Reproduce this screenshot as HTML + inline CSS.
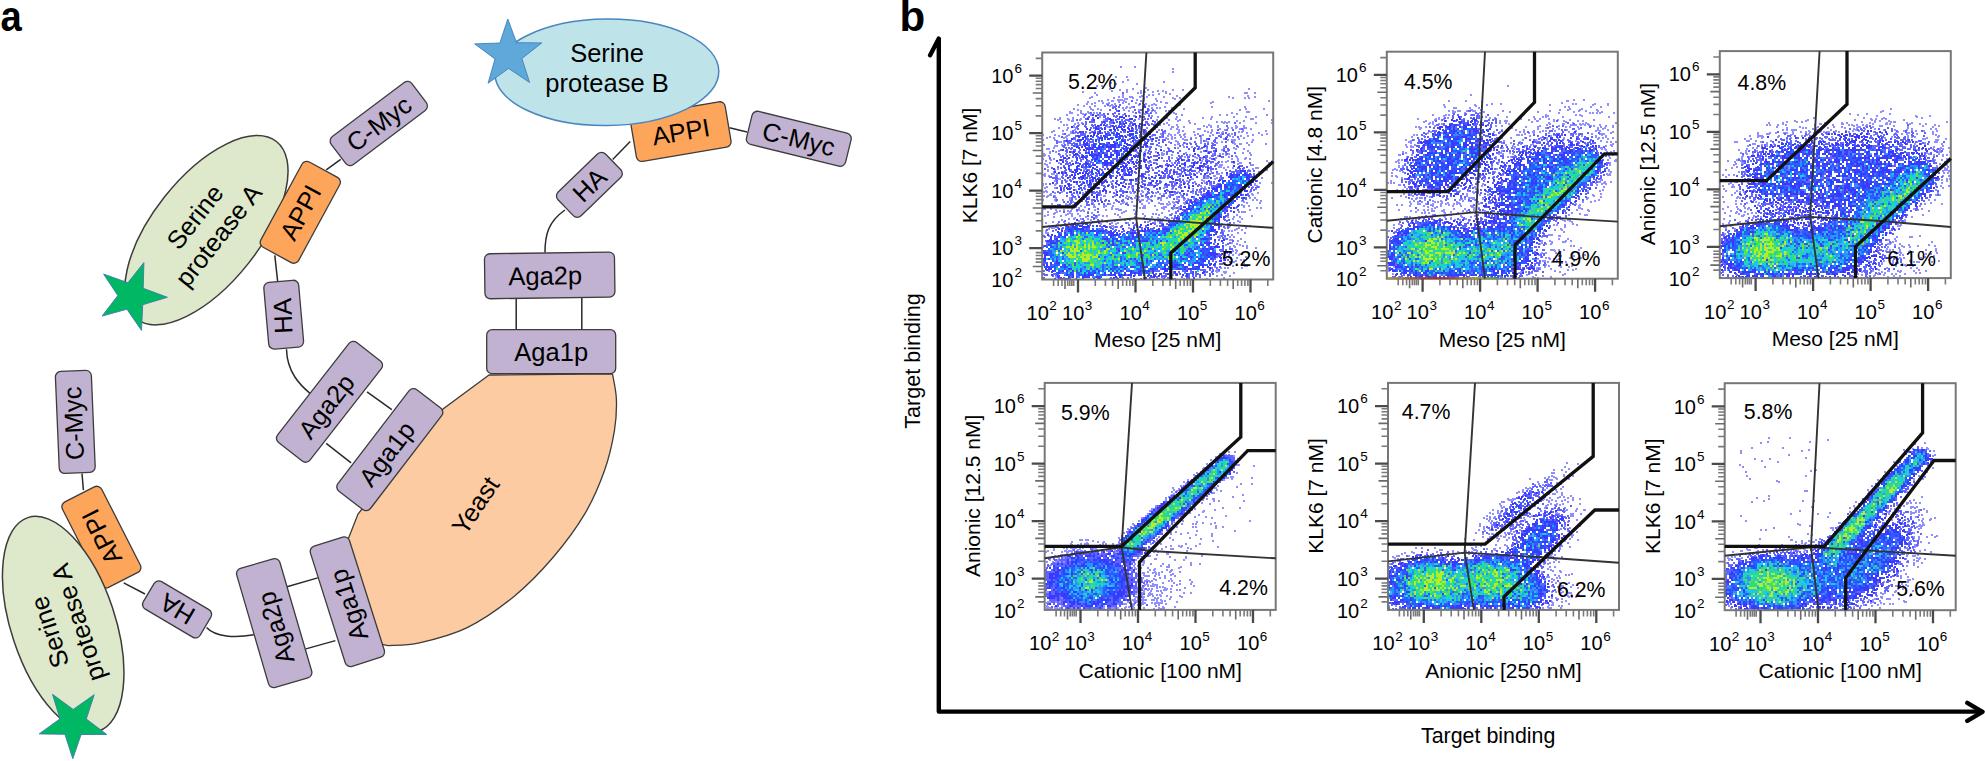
<!DOCTYPE html>
<html><head><meta charset="utf-8"><style>
html,body{margin:0;padding:0;background:#fff;}
svg{display:block;}
text{font-family:'Liberation Sans',Arial,Helvetica,sans-serif;fill:#000;}
</style></head><body>
<svg width="1985" height="761" viewBox="0 0 1985 761" style="font-family:'Liberation Sans',Arial,Helvetica,sans-serif">
<rect width="1985" height="761" fill="#fff"/>
<text x="0.5" y="31" font-size="42" font-weight="bold" transform="scale(0.91 1)">a</text>
<path d="M489 375 L443 409 L358 514 L349 537 L340 560 L362 640 L387.9 645.7 C393.1 645.2 406.3 645.9 419.4 642.9 C432.5 639.9 450.9 635.6 466.7 627.9 C482.5 620.1 499.6 608.2 514 596.4 C528.5 584.6 541.6 570.8 553.4 557 C565.2 543.2 576.4 528.2 584.9 513.7 C593.4 499.3 599.7 484.1 604.6 470.3 C609.5 456.5 612.4 442.7 614.4 430.9 C616.4 419.1 616.7 408.9 616.4 399.4 C616.1 389.9 613.1 378.1 612.5 373.8 Z" fill="#FCCBA1" stroke="#3c3c3c" stroke-width="1.3"/>
<text transform="translate(475.5 505.5) rotate(-56)" y="8.8" font-size="25.5" text-anchor="middle">Yeast</text>
<path d="M326.2 169.9 L340.7 159.4" fill="none" stroke="#2a2a2a" stroke-width="1.5"/>
<path d="M274.8 255.3 L277.7 281.9" fill="none" stroke="#2a2a2a" stroke-width="1.5"/>
<path d="M286.5 349.3 C287 372 300 385 310.3 393.6" fill="none" stroke="#2a2a2a" stroke-width="1.5"/>
<path d="M367 391.8 L391.8 409.6" fill="none" stroke="#2a2a2a" stroke-width="1.5"/>
<path d="M326.2 443.3 L351.1 462.8" fill="none" stroke="#2a2a2a" stroke-width="1.5"/>
<ellipse cx="0" cy="0" rx="113" ry="53.5" transform="translate(206.4 230.2) rotate(-51.7)" fill="#DEE8CA" stroke="#3c3c3c" stroke-width="1.5"/>
<polygon points="143.9,262.6 143.2,288.3 167.4,297.3 142.7,304.7 141.5,330.4 126.9,309.2 102.1,316.1 117.8,295.6 103.6,274.1 127.9,282.7" fill="#00B864" stroke="#3f78b0" stroke-width="0.9"/>
<g transform="translate(206.4 226) rotate(-51.7)"><text text-anchor="middle" font-size="25.5" y="-5.8">Serine</text><text text-anchor="middle" font-size="25.5" y="24.2">protease A</text></g>
<g transform="translate(300.3 212.3)"><rect x="-48.5" y="-21.5" width="97" height="43" rx="5.5" transform="rotate(-61.5)" fill="#FDA65B" stroke="#3c3c3c" stroke-width="1.3"/><text transform="rotate(-61.5)" x="0" y="9.2" font-size="25.5" text-anchor="middle">APPI</text></g>
<g transform="translate(378.8 123.5)"><rect x="-50.5" y="-17.5" width="101" height="35" rx="5.5" transform="rotate(-37)" fill="#C1B2D1" stroke="#3c3c3c" stroke-width="1.3"/><text transform="rotate(-37)" x="0" y="9.2" font-size="25.5" text-anchor="middle">C-Myc</text></g>
<g transform="translate(283.7 314.7)"><rect x="-17.5" y="-33.5" width="35" height="67" rx="5.5" transform="rotate(-5)" fill="#C1B2D1" stroke="#3c3c3c" stroke-width="1.3"/><text transform="rotate(-92.5)" x="-1.2" y="8" font-size="25.5" text-anchor="middle">HA</text></g>
<g transform="translate(329.5 401.8)"><rect x="-63.5" y="-20.5" width="127" height="41" rx="5.5" transform="rotate(-52)" fill="#C1B2D1" stroke="#3c3c3c" stroke-width="1.3"/><text transform="rotate(-52)" x="-5.5" y="9.2" font-size="25.5" text-anchor="middle">Aga2p</text></g>
<g transform="translate(389.8 449.6)"><rect x="-64" y="-20.5" width="128" height="41" rx="5.5" transform="rotate(-52.5)" fill="#C1B2D1" stroke="#3c3c3c" stroke-width="1.3"/><text transform="rotate(-52.5)" x="-5" y="9.2" font-size="25.5" text-anchor="middle">Aga1p</text></g>
<path d="M729.5 127.7 L747 132" fill="none" stroke="#2a2a2a" stroke-width="1.5"/>
<path d="M630.2 141.5 L612.7 159.6" fill="none" stroke="#2a2a2a" stroke-width="1.5"/>
<path d="M564.9 210 C548 222 545 235 545 252.4" fill="none" stroke="#2a2a2a" stroke-width="1.5"/>
<path d="M516.2 297.9 L516.2 329.8" fill="none" stroke="#2a2a2a" stroke-width="1.5"/>
<path d="M581.8 297.9 L581.8 329.8" fill="none" stroke="#2a2a2a" stroke-width="1.5"/>
<g transform="translate(680.8 131.6)"><rect x="-48" y="-23" width="96" height="46" rx="5.5" transform="rotate(-9.6)" fill="#FDA65B" stroke="#3c3c3c" stroke-width="1.3"/><text transform="rotate(-9.6)" x="0" y="9.2" font-size="25.5" text-anchor="middle">APPI</text></g>
<ellipse cx="0" cy="0" rx="112" ry="53.2" transform="translate(606.8 72.3) rotate(-0.6)" fill="#BEE4EA" stroke="#4a86bd" stroke-width="1.5"/>
<polygon points="507.8,19 516.5,42.7 541.8,42.9 521.9,58.5 529.6,82.5 508.6,68.4 488.1,83.2 495,58.9 474.7,43.9 499.9,43" fill="#5EA8DA" stroke="#3f7fba" stroke-width="0.9"/>
<g transform="translate(607 67.5) rotate(0)"><text text-anchor="middle" font-size="25.5" y="-5.8">Serine</text><text text-anchor="middle" font-size="25.5" y="24.2">protease B</text></g>
<g transform="translate(798.8 138.8)"><rect x="-51" y="-17" width="102" height="34" rx="5.5" transform="rotate(13.8)" fill="#C1B2D1" stroke="#3c3c3c" stroke-width="1.3"/><text transform="rotate(13.8)" x="0" y="9.2" font-size="25.5" text-anchor="middle">C-Myc</text></g>
<g transform="translate(589.4 184.8)"><rect x="-33" y="-16.5" width="66" height="33" rx="5.5" transform="rotate(-44)" fill="#C1B2D1" stroke="#3c3c3c" stroke-width="1.3"/><text transform="rotate(-44)" x="0" y="9.2" font-size="25.5" text-anchor="middle">HA</text></g>
<g transform="translate(549.7 275.4)"><rect x="-65" y="-22.5" width="130" height="45" rx="5.5" transform="rotate(-0.8)" fill="#C1B2D1" stroke="#3c3c3c" stroke-width="1.3"/><text transform="rotate(-0.8)" x="-4.5" y="9.2" font-size="25.5" text-anchor="middle">Aga2p</text></g>
<g transform="translate(551.2 351.7)"><rect x="-64.5" y="-22" width="129" height="44" rx="5.5" transform="rotate(0)" fill="#C1B2D1" stroke="#3c3c3c" stroke-width="1.3"/><text transform="rotate(0)" x="0" y="9.2" font-size="25.5" text-anchor="middle">Aga1p</text></g>
<path d="M82 473.5 L83.4 490.1" fill="none" stroke="#2a2a2a" stroke-width="1.5"/>
<path d="M123.7 582.8 L145 594" fill="none" stroke="#2a2a2a" stroke-width="1.5"/>
<path d="M206.6 627.6 C215 637 235 638 253.8 634.7" fill="none" stroke="#2a2a2a" stroke-width="1.5"/>
<path d="M287 586.7 L317.7 577.9" fill="none" stroke="#2a2a2a" stroke-width="1.5"/>
<path d="M305.9 648.9 L335.4 640.6" fill="none" stroke="#2a2a2a" stroke-width="1.5"/>
<g transform="translate(75.3 421.9)"><rect x="-18" y="-51" width="36" height="102" rx="5.5" transform="rotate(-2.4)" fill="#C1B2D1" stroke="#3c3c3c" stroke-width="1.3"/><text transform="rotate(-92.4)" x="-1.4" y="7.1" font-size="25.5" text-anchor="middle">C-Myc</text></g>
<g transform="translate(101.4 537.1)"><rect x="-22" y="-48" width="44" height="96" rx="5.5" transform="rotate(-27)" fill="#FDA65B" stroke="#3c3c3c" stroke-width="1.3"/><text transform="rotate(-117)" x="0" y="9.2" font-size="25.5" text-anchor="middle">APPI</text></g>
<ellipse cx="0" cy="0" rx="112.5" ry="52" transform="translate(63.2 624.4) rotate(71.7)" fill="#DEE8CA" stroke="#3c3c3c" stroke-width="1.5"/>
<polygon points="72.8,758.7 64.9,734.3 39.2,733.9 60,718.8 52.5,694.3 73.2,709.4 94.2,694.7 86.3,719 106.8,734.5 81.1,734.5" fill="#00B864" stroke="#3f78b0" stroke-width="0.9"/>
<g transform="translate(63.5 627.4) rotate(-108.3)"><text text-anchor="middle" font-size="25.5" y="-5.8">Serine</text><text text-anchor="middle" font-size="25.5" y="24.2">protease A</text></g>
<g transform="translate(177.1 609.4)"><rect x="-33" y="-16" width="66" height="32" rx="5.5" transform="rotate(30.6)" fill="#C1B2D1" stroke="#3c3c3c" stroke-width="1.3"/><text transform="rotate(210.6)" x="0" y="9.2" font-size="25.5" text-anchor="middle">HA</text></g>
<g transform="translate(274.2 623.1)"><rect x="-22.5" y="-62" width="45" height="124" rx="5.5" transform="rotate(-16.3)" fill="#C1B2D1" stroke="#3c3c3c" stroke-width="1.3"/><text transform="rotate(-106.3)" x="-5" y="9.2" font-size="25.5" text-anchor="middle">Aga2p</text></g>
<g transform="translate(347.4 601.7)"><rect x="-20.5" y="-63" width="41" height="126" rx="5.5" transform="rotate(-17.6)" fill="#C1B2D1" stroke="#3c3c3c" stroke-width="1.3"/><text transform="rotate(-107.6)" x="-3.5" y="9.2" font-size="25.5" text-anchor="middle">Aga1p</text></g>
<text x="899.5" y="31" font-size="42" font-weight="bold">b</text>
<path d="M930.1 55.2 L938.8 38.6 V711.6 H1982" fill="none" stroke="#000" stroke-width="4.4" stroke-linecap="round" stroke-linejoin="round"/>
<path d="M1967.3 702.8 L1982.5 711.8 L1967.3 720.8" fill="none" stroke="#000" stroke-width="4.4" stroke-linecap="round" stroke-linejoin="round"/>
<text x="1488.2" y="743.4" text-anchor="middle" font-size="21.4">Target binding</text>
<text transform="translate(920.2 361) rotate(-90)" text-anchor="middle" font-size="21.6">Target binding</text>
<clipPath id="c0"><rect x="1042.2" y="52.5" width="231" height="227"/></clipPath><g clip-path="url(#c0)"><path d="M1120 67h2m12 0h2m36 2h2m-2 3h2m-59 5h2m9 0h2m-1 3h2m-7 2h2m39 0h2m-55 1h2m3 1h2m19 0h2m-42 2h2m3 0h2m42 2h2m-38 1h2m21 0h2m114 0h2m-131 1h2m5 0h2m19 0h2m23 0h2m8 0h2m-73 1h2m27 0h2m15 0h2m3 0h2m-82 1h2m42 0h2m16 0h2m6 0h2m11 0h2m-73 1h2m41 0h2m1 0h2m23 0h2m77 0h2m0 0h2m6 0h2m-98 1h2m9 0h2m-75 1h2m24 0h2m24 0h2m2 0h2m-13 1h2m-1 0h2m32 0h2m69 0h2m-158 1h2m25 0h2m2 0h2m5 0h2m0 0h2m6 0h2m5 0h2m15 0h2m63 0h2m24 0h2m-167 1h2m22 0h2m17 0h2m9 0h2m27 0h2m5 0h2m51 0h2m10 0h2m2 0h2m-126 1h2m0 0h2m27 0h2m17 0h2m-69 1h2m8 0h2m0 0h2m0 0h2m13 0h2m5 0h2m-47 1h2m1 0h2m8 0h2m-1 0h2m9 0h2m15 0h2m0 0h2m12 0h2m110 0h2m-183 1h2m29 0h2m5 0h2m33 0h2m50 0h2m-120 1h2m6 0h2m4 0h2m12 0h2m11 0h2m28 0h2m-1 0h2m42 0h2m-126 1h2m3 0h2m13 0h2m6 0h2m12 0h2m15 0h2m6 0h2m-78 1h2m32 0h2m25 0h2m4 0h2m5 0h2m2 0h2m22 0h2m-98 1h2m9 0h2m8 0h2m3 0h2m1 0h2m34 0h2m-61 1h2m35 0h2m3 0h2m31 0h2m45 0h2m31 0h2m-124 1h2m1 0h2m2 0h2m20 0h2m3 0h2m1 0h2m10 0h2m-100 1h2m15 0h2m5 0h2m84 0h2m60 0h2m16 0h2m-188 1h2m13 0h2m6 0h2m21 0h2m13 0h2m8 0h2m89 0h2m-161 1h2m46 0h2m21 0h2m1 0h2m9 0h2m1 0h2m-101 1h2m16 0h2m43 0h2m112 0h2m0 0h2m-181 1h2m0 0h2m7 0h2m6 0h2m3 0h2m1 0h2m41 0h2m1 0h2m11 0h2m12 0h2m2 0h2m56 0h2m-151 1h2m1 0h2m57 0h2m2 0h2m16 0h2m7 0h2m59 0h2m-172 1h2m9 0h2m11 0h2m7 0h2m-1 0h2m0 0h2m18 0h2m42 0h2m13 0h2m36 0h2m5 0h2m38 0h2m-135 1h2m-1 0h2m15 0h2m12 0h2m-84 1h2m14 0h2m39 0h2m15 0h2m5 0h2m10 0h2m33 0h2m20 0h2m10 0h2m8 0h2m-198 1h2m11 0h2m92 0h2m34 0h2m-150 1h2m3 0h2m6 0h2m11 0h2m56 0h2m35 0h2m33 0h2m38 0h2m0 0h2m-197 1h2m9 0h2m2 0h2m5 0h2m22 0h2m51 0h2m10 0h2m9 0h2m90 0h2m-202 1h2m-1 0h2m103 0h2m9 0h2m46 0h2m5 0h2m-185 1h2m58 0h2m35 0h2m57 0h2m3 0h2m1 0h2m2 0h2m-153 1h2m2 0h2m62 0h2m19 0h2m21 0h2m32 0h2m1 0h2m11 0h2m14 0h2m14 0h2m-199 1h2m33 0h2m43 0h2m7 0h2m29 0h2m-133 1h2m1 0h2m10 0h2m79 0h2m7 0h2m6 0h2m30 0h2m-137 1h2m55 0h2m24 0h2m45 0h2m5 0h2m5 0h2m16 0h2m6 0h2m-172 1h2m32 0h2m62 0h2m-1 0h2m3 0h2m4 0h2m21 0h2m2 0h2m5 0h2m17 0h2m-180 1h2m7 0h2m6 0h2m69 0h2m79 0h2m2 0h2m2 0h2m6 0h2m0 0h2m-93 1h2m14 0h2m4 0h2m19 0h2m0 0h2m18 0h2m18 0h2m9 0h2m-186 1h2m6 0h2m63 0h2m17 0h2m18 0h2m31 0h2m11 0h2m16 0h2m-191 1h2m7 0h2m46 0h2m70 0h2m20 0h2m5 0h2m29 0h2m21 0h2m-216 1h2m17 0h2m106 0h2m13 0h2m12 0h2m13 0h2m14 0h2m1 0h2m-173 1h2m2 0h2m88 0h2m11 0h2m31 0h2m6 0h2m1 0h2m23 0h2m10 0h2m-198 1h2m96 0h2m6 0h2m14 0h2m11 0h2m29 0h2m1 0h2m33 0h2m-226 1h2m10 0h2m12 0h2m100 0h2m2 0h2m3 0h2m2 0h2m9 0h2m6 0h2m8 0h2m6 0h2m30 0h2m7 0h2m-205 1h2m6 0h2m83 0h2m8 0h2m4 0h2m31 0h2m7 0h2m18 0h2m9 0h2m5 0h2m-200 1h2m14 0h2m94 0h2m8 0h2m7 0h2m2 0h2m46 0h2m-188 1h2m5 0h2m8 0h2m100 0h2m7 0h2m14 0h2m3 0h2m3 0h2m14 0h2m25 0h2m-179 1h2m99 0h2m2 0h2m9 0h2m16 0h2m21 0h2m13 0h2m-198 1h2m10 0h2m92 0h2m34 0h2m0 0h2m39 0h2m2 0h2m-1 0h2m0 0h2m16 0h2m-191 1h2m10 0h2m98 0h2m23 0h2m3 0h2m-149 1h2m0 0h2m68 0h2m36 0h2m7 0h2m28 0h2m12 0h2m10 0h2m16 0h2m-190 1h2m119 0h2m3 0h2m9 0h2m9 0h2m3 0h2m14 0h2m12 0h2m-71 1h2m-1 0h2m54 0h2m3 0h2m-1 0h2m23 0h2m-224 1h2m16 0h2m4 0h2m12 0h2m91 0h2m6 0h2m64 0h2m-196 1h2m0 0h2m100 0h2m46 0h2m-61 1h2m0 0h2m9 0h2m21 0h2m6 0h2m30 0h2m12 0h2m-186 1h2m112 0h2m8 0h2m54 0h2m-189 1h2m0 0h2m149 0h2m5 0h2m27 0h2m6 0h2m-100 1h2m74 0h2m-165 1h2m103 0h2m41 0h2m19 0h2m18 0h2m-200 1h2m4 0h2m79 0h2m6 0h2m9 0h2m43 0h2m-153 1h2m92 0h2m16 0h2m22 0h2m20 0h2m16 0h2m15 0h2m5 0h2m-208 1h2m20 0h2m96 0h2m47 0h2m5 0h2m1 0h2m4 0h2m-186 1h2m13 0h2m8 0h2m90 0h2m-1 0h2m7 0h2m16 0h2m34 0h2m23 0h2m-209 1h2m3 0h2m94 0h2m71 0h2m16 0h2m-53 1h2m8 0h2m32 0h2m6 0h2m-67 1h2m3 0h2m18 0h2m3 0h2m6 0h2m4 0h2m28 0h2m-205 1h2m5 0h2m2 0h2m132 0h2m13 0h2m1 0h2m24 0h2m4 0h2m5 0h2m3 0h2m-201 1h2m101 0h2m59 0h2m-171 1h2m24 0h2m90 0h2m36 0h2m24 0h2m8 0h2m27 0h2m-121 1h2m1 0h2m69 0h2m2 0h2m-178 1h2m7 0h2m71 0h2m15 0h2m5 0h2m14 0h2m37 0h2m21 0h2m4 0h2m-1 0h2m26 0h2m-226 1h2m191 0h2m-193 1h2m168 0h2m1 0h2m0 0h2m27 0h2m0 0h2m-207 2h2m135 0h2m1 0h2m29 0h2m0 0h2m5 0h2m-78 1h2m13 0h2m27 0h2m26 0h2m7 0h2m21 0h2m0 0h2m-202 1h2m24 0h2m167 0h2m-207 1h2m5 0h2m130 0h2m14 0h2m21 0h2m21 0h2m16 0h2m-221 1h2m161 0h2m-159 1h2m8 0h2m133 0h2m7 0h2m49 0h2m12 0h2m-78 1h2m13 0h2m8 0h2m-179 1h2m5 0h2m0 0h2m1 0h2m158 0h2m0 0h2m9 0h2m-189 1h2m78 0h2m24 0h2m43 0h2m61 0h2m-214 1h2m2 0h2m6 0h2m147 0h2m6 0h2m-1 0h2m-94 1h2m53 0h2m29 0h2m-57 1h2m50 0h2m0 0h2m7 0h2m1 0h2m40 0h2m-206 1h2m0 0h2m18 0h2m8 0h2m100 0h2m-1 0h2m20 0h2m-90 1h2m9 0h2m62 0h2m-149 1h2m10 0h2m118 0h2m15 0h2m-114 1h2m8 0h2m7 0h2m62 0h2m18 0h2m-74 1h2m60 0h2m18 0h2m53 0h2m10 0h2m-231 1h2m1 0h2m8 0h2m87 0h2m33 0h2m73 0h2m-214 1h2m10 0h2m119 0h2m32 0h2m43 0h2m-195 1h2m30 0h2m36 0h2m67 0h2m54 0h2m-212 1h2m25 0h2m57 0h2m9 0h2m19 0h2m38 0h2m46 0h2m4 0h2m-216 1h2m8 0h2m75 0h2m12 0h2m16 0h2m36 0h2m-76 1h2m15 0h2m13 0h2m10 0h2m19 0h2m11 0h2m48 0h2m-182 1h2m38 0h2m-72 1h2m16 0h2m76 0h2m24 0h2m-126 1h2m1 0h2m13 0h2m16 0h2m48 0h2m11 0h2m33 0h2m19 0h2m49 0h2m-197 1h2m26 0h2m46 0h2m1 0h2m20 0h2m35 0h2m63 0h2m-209 1h2m19 0h2m18 0h2m22 0h2m23 0h2m17 0h2m2 0h2m4 0h2m3 0h2m10 0h2m12 0h2m49 0h2m-204 1h2m-1 0h2m25 0h2m21 0h2m78 0h2m70 0h2m-211 1h2m2 0h2m4 0h2m-1 0h2m47 0h2m-1 0h2m8 0h2m10 0h2m7 0h2m5 0h2m10 0h2m12 0h2m-124 1h2m24 0h2m14 0h2m38 0h2m8 0h2m5 0h2m3 0h2m24 0h2m3 0h2m-128 1h2m12 0h2m29 0h2m23 0h2m7 0h2m1 0h2m18 0h2m1 0h2m4 0h2m81 0h2m3 0h2m-181 1h2m3 0h2m49 0h2m14 0h2m-1 0h2m7 0h2m17 0h2m6 0h2m1 0h2m4 0h2m-153 1h2m10 0h2m6 0h2m5 0h2m8 0h2m57 0h2m1 0h2m-1 0h2m6 0h2m8 0h2m16 0h2m3 0h2m67 0h2m2 0h2m-203 1h2m83 0h2m4 0h2m93 0h2m17 0h2m-190 1h2m17 0h2m30 0h2m6 0h2m35 0h2m2 0h2m1 0h2m66 0h2m-153 1h2m19 0h2m7 0h2m2 0h2m20 0h2m8 0h2m13 0h2m8 0h2m61 0h2m11 0h2m-210 1h2m12 0h2m42 0h2m9 0h2m19 0h2m17 0h2m0 0h2m2 0h2m1 0h2m13 0h2m-121 1h2m0 0h2m3 0h2m19 0h2m8 0h2m62 0h2m5 0h2m65 0h2m-190 1h2m-1 0h2m24 0h2m23 0h2m5 0h2m19 0h2m0 0h2m-1 0h2m5 0h2m-1 0h2m8 0h2m87 0h2m3 0h2m-198 1h2m9 0h2m10 0h2m7 0h2m7 0h2m-1 0h2m7 0h2m58 0h2m0 0h2m11 0h2m0 0h2m61 0h2m-167 1h2m31 0h2m26 0h2m1 0h2m0 0h2m15 0h2m9 0h2m0 0h2m59 0h2m19 0h2m2 0h2m-219 1h2m-1 0h2m4 0h2m19 0h2m38 0h2m2 0h2m0 0h2m44 0h2m7 0h2m4 0h2m-125 1h2m6 0h2m13 0h2m2 0h2m10 0h2m9 0h2m11 0h2m0 0h2m11 0h2m21 0h2m91 0h2m-192 1h2m6 0h2m1 0h2m4 0h2m2 0h2m1 0h2m40 0h2m41 0h2m-123 1h2m7 0h2m11 0h2m16 0h2m34 0h2m10 0h2m38 0h2m61 0h2m1 0h2m0 0h2m-1 0h2m-192 1h2m13 0h2m20 0h2m28 0h2m38 0h2m-110 1h2m12 0h2m2 0h2m4 0h2m35 0h2m18 0h2m6 0h2m8 0h2m1 0h2m14 0h2m-126 1h2m16 0h2m31 0h2m17 0h2m39 0h2m9 0h2m65 0h2m-194 1h2m14 0h2m9 0h2m6 0h2m15 0h2m4 0h2m2 0h2m36 0h2m105 0h2m-200 1h2m30 0h2m9 0h2m21 0h2m13 0h2m15 0h2m11 0h2m61 0h2m4 0h2m4 0h2m-167 1h2m19 0h2m46 0h2m12 0h2m12 0h2m-105 1h2m3 0h2m5 0h2m5 0h2m70 0h2m1 0h2m4 0h2m62 0h2m7 0h2m-182 1h2m27 0h2m9 0h2m21 0h2m3 0h2m29 0h2m-84 1h2m18 0h2m14 0h2m33 0h2m6 0h2m78 0h2m-187 1h2m9 0h2m41 0h2m39 0h2m5 0h2m5 0h2m76 0h2m-196 1h2m21 0h2m41 0h2m4 0h2m8 0h2m104 0h2m-178 1h2m41 0h2m13 0h2m18 0h2m84 0h2m4 0h2m-173 1h2m-10 1h2m10 0h2m49 0h2m-1 0h2m42 0h2m71 0h2m18 0h2m-202 1h2m62 0h2m1 0h2m110 0h2m-179 1h2m0 0h2m73 0h2m94 0h2m12 0h2m5 0h2m-199 1h2m186 0h2m-102 1h2m96 0h2m5 0h2m-198 1h2m176 0h2m3 0h2m1 0h2m-188 2h2m0 0h2m188 0h2m5 0h2m-15 2h2m-185 1h2m169 0h2m8 1h2m2 0h2m-16 1h2m3 0h2m-1 1h2m13 0h2m-13 1h2m0 0h2m4 1h2m5 1h2m-15 1h2m3 1h2m-40 1h2m25 0h2m12 0h2m-8 1h2m7 0h2m2 0h2m-19 1h2m3 0h2m10 1h2m7 0h2m-22 2h2m-5 1h2m2 0h2m-12 2h2m7 0h2m2 1h2m7 0h2m-22 1h2m2 0h2m4 0h2m17 0h2m-31 2h2m15 0h2m-22 1h2m3 0h2m4 0h2m8 0h2m-28 2h2m18 0h2m1 0h2m-10 1h2m-7 1h2m1 0h2m-11 1h2m17 0h2m-16 2h2m1 1h2m10 0h2m0 0h2m-34 1h2m4 1h2m2 0h2m1 0h2m12 0h2m-27 2h2m-3 1h2m1 0h2m-4 1h2m5 0h2m0 0h2m-54 1h2m29 0h2m18 0h2m7 0h2m-63 2h2m47 0h2m-7 1h2m11 0h2m-176 1h2m105 1h2m59 0h2m-69 1h2m14 0h2m9 0h2m21 0h2m4 0h2m-163 1h2m57 0h2m49 0h2m27 0h2m4 0h2m4 0h2m5 0h2" stroke="#8f8fff" stroke-width="2" fill="none"/><path d="M1122 93h2m7 8h2m9 2h2m-5 1h2m-34 1h2m10 0h2m-6 1h2m-3 1h2m2 0h2m13 0h2m-23 1h2m1 1h2m30 0h2m-40 1h2m23 0h2m4 0h2m10 0h2m-38 1h2m29 0h2m-11 1h2m-50 1h2m7 0h2m13 0h2m19 0h2m9 0h2m2 0h2m-49 1h2m2 0h2m3 0h2m4 0h2m4 0h2m-42 1h2m11 0h2m5 1h2m7 0h2m1 0h2m10 0h2m18 0h2m-62 1h2m13 0h2m-1 0h2m9 0h2m22 0h2m2 0h2m-58 1h2m3 0h2m13 0h2m41 0h2m-67 1h2m18 0h2m0 0h2m8 0h2m-1 0h2m24 0h2m1 0h2m-73 1h2m13 0h2m19 0h2m1 0h2m4 0h2m2 0h2m0 0h2m5 0h2m6 0h2m-39 1h2m-1 0h2m2 0h2m12 0h2m2 0h2m3 0h2m17 0h2m-69 1h2m2 0h2m0 0h2m0 0h2m6 0h2m6 0h2m1 0h2m8 0h2m6 0h2m13 0h2m-1 0h2m6 0h2m-55 1h2m1 0h2m5 0h2m18 0h2m101 0h2m-154 1h2m1 0h2m34 0h2m6 0h2m1 0h2m13 0h2m2 0h2m-62 1h2m1 0h2m10 0h2m34 0h2m4 0h2m3 0h2m-78 1h2m5 0h2m6 0h2m4 0h2m5 0h2m3 0h2m3 0h2m1 0h2m1 0h2m1 0h2m2 0h2m96 0h2m-152 1h2m7 0h2m10 0h2m10 0h2m29 0h2m14 0h2m-68 1h2m1 0h2m4 0h2m-1 0h2m33 0h2m1 0h2m-63 1h2m19 0h2m31 0h2m-1 0h2m1 0h2m3 0h2m99 0h2m-126 1h2m17 0h2m6 0h2m15 0h2m54 0h2m7 0h2m4 0h2m-162 1h2m20 0h2m18 0h2m16 0h2m11 0h2m17 0h2m-91 1h2m3 0h2m3 0h2m4 0h2m0 0h2m2 0h2m5 0h2m1 0h2m11 0h2m1 0h2m-1 0h2m22 0h2m6 0h2m4 0h2m-92 1h2m3 0h2m3 0h2m5 0h2m10 0h2m5 0h2m26 0h2m7 0h2m69 0h2m7 0h2m7 0h2m-172 1h2m14 0h2m2 0h2m21 0h2m34 0h2m4 0h2m11 0h2m58 0h2m-143 1h2m-1 0h2m0 0h2m27 0h2m0 0h2m10 0h2m2 0h2m6 0h2m11 0h2m0 0h2m71 0h2m5 0h2m-161 1h2m2 0h2m19 0h2m3 0h2m17 0h2m6 0h2m11 0h2m-1 0h2m14 0h2m35 0h2m17 0h2m-159 1h2m23 0h2m9 0h2m23 0h2m15 0h2m0 0h2m1 0h2m13 0h2m1 0h2m56 0h2m4 0h2m9 0h2m-166 1h2m-1 0h2m36 0h2m41 0h2m-1 0h2m57 0h2m8 0h2m-154 1h2m-1 0h2m11 0h2m33 0h2m5 0h2m2 0h2m6 0h2m7 0h2m38 0h2m14 0h2m-131 1h2m9 0h2m2 0h2m33 0h2m5 0h2m22 0h2m2 0h2m0 0h2m48 0h2m-160 1h2m6 0h2m2 0h2m0 0h2m15 0h2m47 0h2m0 0h2m11 0h2m2 0h2m46 0h2m8 0h2m-136 1h2m8 0h2m-1 0h2m0 0h2m4 0h2m35 0h2m7 0h2m16 0h2m30 0h2m18 0h2m9 0h2m4 0h2m-177 1h2m9 0h2m0 0h2m2 0h2m4 0h2m25 0h2m11 0h2m-1 0h2m11 0h2m-1 0h2m1 0h2m19 0h2m10 0h2m11 0h2m-114 1h2m1 0h2m12 0h2m60 0h2m0 0h2m32 0h2m2 0h2m3 0h2m7 0h2m1 0h2m3 0h2m-150 1h2m5 0h2m6 0h2m2 0h2m6 0h2m15 0h2m6 0h2m15 0h2m-1 0h2m7 0h2m11 0h2m7 0h2m45 0h2m0 0h2m-154 1h2m11 0h2m0 0h2m100 0h2m15 0h2m13 0h2m12 0h2m9 0h2m-175 1h2m26 0h2m11 0h2m10 0h2m27 0h2m3 0h2m34 0h2m10 0h2m3 0h2m1 0h2m17 0h2m-162 1h2m1 0h2m1 0h2m14 0h2m32 0h2m-1 0h2m3 0h2m45 0h2m18 0h2m5 0h2m8 0h2m0 0h2m-145 1h2m30 0h2m0 0h2m2 0h2m4 0h2m33 0h2m4 0h2m11 0h2m18 0h2m25 0h2m6 0h2m2 0h2m-169 1h2m4 0h2m5 0h2m-1 0h2m3 0h2m59 0h2m86 0h2m-178 1h2m11 0h2m7 0h2m9 0h2m1 0h2m6 0h2m14 0h2m4 0h2m0 0h2m11 0h2m-1 0h2m12 0h2m18 0h2m0 0h2m7 0h2m22 0h2m8 0h2m8 0h2m-159 1h2m3 0h2m5 0h2m48 0h2m20 0h2m14 0h2m4 0h2m34 0h2m0 0h2m13 0h2m-155 1h2m5 0h2m5 0h2m6 0h2m0 0h2m2 0h2m2 0h2m0 0h2m2 0h2m2 0h2m21 0h2m8 0h2m28 0h2m35 0h2m18 0h2m-178 1h2m61 0h2m2 0h2m2 0h2m18 0h2m15 0h2m15 0h2m41 0h2m-153 1h2m0 0h2m2 0h2m52 0h2m21 0h2m26 0h2m9 0h2m15 0h2m-154 1h2m2 0h2m10 0h2m5 0h2m66 0h2m-1 0h2m0 0h2m20 0h2m1 0h2m9 0h2m4 0h2m5 0h2m-1 0h2m3 0h2m-1 0h2m17 0h2m-173 1h2m10 0h2m1 0h2m9 0h2m6 0h2m2 0h2m43 0h2m2 0h2m1 0h2m16 0h2m9 0h2m6 0h2m-1 0h2m16 0h2m13 0h2m-1 0h2m-175 1h2m28 0h2m41 0h2m1 0h2m34 0h2m17 0h2m17 0h2m4 0h2m-141 1h2m14 0h2m8 0h2m8 0h2m8 0h2m0 0h2m0 0h2m8 0h2m40 0h2m8 0h2m31 0h2m-154 1h2m1 0h2m16 0h2m36 0h2m4 0h2m3 0h2m5 0h2m17 0h2m26 0h2m7 0h2m12 0h2m-143 1h2m13 0h2m6 0h2m22 0h2m16 0h2m17 0h2m15 0h2m1 0h2m4 0h2m9 0h2m0 0h2m15 0h2m1 0h2m-144 1h2m7 0h2m8 0h2m0 0h2m1 0h2m30 0h2m11 0h2m7 0h2m32 0h2m14 0h2m1 0h2m11 0h2m0 0h2m4 0h2m11 0h2m-164 1h2m6 0h2m13 0h2m4 0h2m39 0h2m12 0h2m19 0h2m1 0h2m-1 0h2m11 0h2m2 0h2m3 0h2m4 0h2m9 0h2m30 0h2m-191 1h2m3 0h2m0 0h2m14 0h2m4 0h2m26 0h2m0 0h2m0 0h2m2 0h2m29 0h2m8 0h2m13 0h2m-1 0h2m21 0h2m8 0h2m-147 1h2m10 0h2m18 0h2m4 0h2m16 0h2m10 0h2m25 0h2m1 0h2m2 0h2m2 0h2m-115 1h2m13 0h2m10 0h2m56 0h2m11 0h2m26 0h2m0 0h2m10 0h2m2 0h2m5 0h2m23 0h2m0 0h2m-186 1h2m4 0h2m3 0h2m13 0h2m2 0h2m13 0h2m2 0h2m3 0h2m20 0h2m10 0h2m14 0h2m11 0h2m15 0h2m9 0h2m1 0h2m3 0h2m34 0h2m-197 1h2m7 0h2m52 0h2m10 0h2m9 0h2m9 0h2m5 0h2m20 0h2m2 0h2m-1 0h2m24 0h2m27 0h2m4 0h2m-201 1h2m32 0h2m5 0h2m12 0h2m3 0h2m71 0h2m4 0h2m5 0h2m18 0h2m0 0h2m1 0h2m22 0h2m1 0h2m-179 1h2m3 0h2m14 0h2m0 0h2m1 0h2m8 0h2m14 0h2m5 0h2m26 0h2m12 0h2m2 0h2m1 0h2m4 0h2m-1 0h2m18 0h2m33 0h2m-173 1h2m3 0h2m12 0h2m13 0h2m27 0h2m9 0h2m8 0h2m8 0h2m4 0h2m0 0h2m1 0h2m12 0h2m2 0h2m-1 0h2m2 0h2m0 0h2m5 0h2m26 0h2m4 0h2m-1 0h2m0 0h2m7 0h2m0 0h2m2 0h2m-194 1h2m8 0h2m16 0h2m11 0h2m8 0h2m9 0h2m-1 0h2m3 0h2m3 0h2m9 0h2m0 0h2m12 0h2m11 0h2m0 0h2m3 0h2m33 0h2m13 0h2m0 0h2m-172 1h2m9 0h2m12 0h2m28 0h2m11 0h2m2 0h2m1 0h2m14 0h2m0 0h2m8 0h2m1 0h2m13 0h2m3 0h2m15 0h2m4 0h2m19 0h2m1 0h2m0 0h2m6 0h2m-152 1h2m25 0h2m17 0h2m0 0h2m18 0h2m7 0h2m1 0h2m0 0h2m0 0h2m8 0h2m1 0h2m5 0h2m7 0h2m42 0h2m-193 1h2m2 0h2m22 0h2m72 0h2m2 0h2m17 0h2m0 0h2m35 0h2m22 0h2m-197 1h2m8 0h2m2 0h2m16 0h2m-1 0h2m5 0h2m-1 0h2m7 0h2m5 0h2m2 0h2m21 0h2m14 0h2m3 0h2m1 0h2m2 0h2m2 0h2m6 0h2m22 0h2m2 0h2m11 0h2m7 0h2m22 0h2m-206 1h2m-1 0h2m9 0h2m6 0h2m13 0h2m23 0h2m30 0h2m0 0h2m19 0h2m54 0h2m-170 1h2m0 0h2m0 0h2m4 0h2m25 0h2m7 0h2m37 0h2m9 0h2m11 0h2m0 0h2m2 0h2m34 0h2m17 0h2m-169 1h2m15 0h2m10 0h2m16 0h2m16 0h2m19 0h2m6 0h2m28 0h2m40 0h2m-159 1h2m3 0h2m20 0h2m12 0h2m70 0h2m3 0h2m5 0h2m-135 1h2m3 0h2m7 0h2m40 0h2m21 0h2m5 0h2m0 0h2m5 0h2m6 0h2m18 0h2m75 0h2m-193 1h2m8 0h2m2 0h2m1 0h2m39 0h2m5 0h2m9 0h2m17 0h2m7 0h2m-1 0h2m0 0h2m6 0h2m1 0h2m3 0h2m16 0h2m2 0h2m1 0h2m-159 1h2m3 0h2m23 0h2m14 0h2m34 0h2m8 0h2m5 0h2m2 0h2m31 0h2m7 0h2m6 0h2m2 0h2m35 0h2m-203 1h2m16 0h2m7 0h2m3 0h2m10 0h2m16 0h2m3 0h2m7 0h2m1 0h2m0 0h2m3 0h2m5 0h2m13 0h2m12 0h2m1 0h2m11 0h2m6 0h2m9 0h2m2 0h2m5 0h2m0 0h2m-151 1h2m15 0h2m12 0h2m5 0h2m37 0h2m0 0h2m0 0h2m3 0h2m6 0h2m0 0h2m0 0h2m10 0h2m16 0h2m16 0h2m-159 1h2m23 0h2m4 0h2m11 0h2m7 0h2m18 0h2m6 0h2m11 0h2m16 0h2m0 0h2m4 0h2m7 0h2m7 0h2m12 0h2m0 0h2m0 0h2m-113 1h2m5 0h2m2 0h2m11 0h2m7 0h2m14 0h2m11 0h2m10 0h2m35 0h2m31 0h2m7 0h2m-203 1h2m5 0h2m4 0h2m-1 0h2m7 0h2m2 0h2m10 0h2m1 0h2m12 0h2m24 0h2m32 0h2m6 0h2m26 0h2m1 0h2m38 0h2m2 0h2m-173 1h2m34 0h2m10 0h2m22 0h2m17 0h2m23 0h2m1 0h2m39 0h2m-183 1h2m16 0h2m21 0h2m30 0h2m10 0h2m16 0h2m28 0h2m1 0h2m49 0h2m1 0h2m-156 1h2m18 0h2m-1 0h2m0 0h2m8 0h2m4 0h2m42 0h2m3 0h2m3 0h2m9 0h2m3 0h2m40 0h2m-200 1h2m3 0h2m26 0h2m6 0h2m1 0h2m11 0h2m13 0h2m8 0h2m11 0h2m2 0h2m4 0h2m14 0h2m-1 0h2m14 0h2m3 0h2m3 0h2m-143 1h2m5 0h2m5 0h2m1 0h2m14 0h2m0 0h2m1 0h2m0 0h2m4 0h2m6 0h2m7 0h2m24 0h2m2 0h2m11 0h2m9 0h2m1 0h2m29 0h2m28 0h2m-158 1h2m60 0h2m47 0h2m6 0h2m0 0h2m40 0h2m-178 1h2m9 0h2m2 0h2m10 0h2m20 0h2m23 0h2m23 0h2m0 0h2m12 0h2m9 0h2m2 0h2m1 0h2m36 0h2m3 0h2m-183 1h2m4 0h2m11 0h2m35 0h2m17 0h2m8 0h2m8 0h2m0 0h2m17 0h2m64 0h2m-197 1h2m19 0h2m9 0h2m25 0h2m5 0h2m26 0h2m20 0h2m7 0h2m13 0h2m-124 1h2m14 0h2m41 0h2m26 0h2m23 0h2m60 0h2m-164 1h2m3 0h2m6 0h2m29 0h2m44 0h2m57 0h2m2 0h2m7 0h2m-191 1h2m13 0h2m18 0h2m0 0h2m5 0h2m3 0h2m8 0h2m5 0h2m12 0h2m50 0h2m0 0h2m5 0h2m43 0h2m-174 1h2m9 0h2m2 0h2m10 0h2m5 0h2m2 0h2m6 0h2m3 0h2m28 0h2m25 0h2m6 0h2m8 0h2m-135 1h2m2 0h2m18 0h2m29 0h2m19 0h2m35 0h2m7 0h2m2 0h2m1 0h2m-124 1h2m2 0h2m10 0h2m89 0h2m-110 1h2m20 0h2m5 0h2m3 0h2m2 0h2m16 0h2m61 0h2m-133 1h2m0 0h2m25 0h2m0 0h2m37 0h2m69 0h2m30 0h2m6 0h2m-67 1h2m5 0h2m-113 1h2m165 0h2m-67 1h2m3 0h2m-90 1h2m7 0h2m123 0h2m2 0h2m-152 1h2m104 0h2m0 0h2m51 0h2m-62 1h2m4 0h2m1 0h2m36 0h2m4 0h2m-169 1h2m32 0h2m-12 1h2m86 0h2m5 0h2m0 0h2m-7 1h2m46 0h2m-136 1h2m75 0h2m55 0h2m-142 1h2m6 0h2m77 0h2m1 0h2m46 0h2m-136 1h2m85 0h2m44 0h2m-133 1h2m71 0h2m6 0h2m-94 1h2m9 0h2m78 0h2m1 0h2m45 0h2m-128 1h2m55 0h2m68 0h2m2 0h2m-166 1h2m17 0h2m141 0h2m-170 1h2m21 0h2m9 0h2m1 0h2m47 0h2m13 0h2m9 0h2m-82 1h2m6 0h2m25 0h2m5 0h2m18 0h2m5 0h2m68 0h2m-167 1h2m5 0h2m-1 0h2m35 0h2m43 0h2m5 0h2m-1 0h2m2 0h2m1 0h2m-82 1h2m37 0h2m4 0h2m-66 1h2m27 0h2m3 0h2m15 0h2m10 0h2m10 0h2m12 0h2m-1 0h2m58 0h2m5 0h2m-174 1h2m8 0h2m2 0h2m30 0h2m3 0h2m1 0h2m4 0h2m3 0h2m14 0h2m7 0h2m15 0h2m2 0h2m55 0h2m-168 1h2m3 0h2m46 0h2m29 0h2m10 0h2m72 0h2m-168 1h2m21 0h2m2 0h2m10 0h2m0 0h2m8 0h2m16 0h2m18 0h2m0 0h2m64 0h2m-174 1h2m7 0h2m58 0h2m24 0h2m6 0h2m70 0h2m-171 1h2m10 0h2m0 0h2m38 0h2m10 0h2m3 0h2m5 0h2m0 0h2m0 0h2m10 0h2m73 0h2m-110 1h2m6 0h2m6 0h2m83 0h2m-156 1h2m42 0h2m2 0h2m26 0h2m6 0h2m74 0h2m0 0h2m-94 2h2m74 0h2m14 0h2m3 0h2m-186 1h2m176 0h2m1 0h2m-182 1h2m8 0h2m0 0h2m46 0h2m102 0h2m7 0h2m3 1h2m2 1h2m-10 1h2m-175 1h2m7 0h2m144 0h2m6 0h2m22 0h2m-20 1h2m-170 1h2m0 0h2m172 0h2m5 0h2m-18 1h2m12 0h2m-183 1h2m-6 1h2m171 0h2m-175 1h2m164 0h2m2 0h2m8 0h2m-24 2h2m20 0h2m5 0h2m0 0h2m-14 1h2m0 0h2m2 0h2m-181 1h2m166 0h2m4 0h2m0 0h2m-38 2h2m41 0h2m-1 0h2m-14 1h2m-4 1h2m2 0h2m2 0h2m-8 1h2m-10 1h2m4 0h2m5 1h2m-11 1h2m7 1h2m2 0h2m-17 1h2m1 1h2m12 0h2m-187 1h2m120 0h2m24 0h2m25 1h2m0 0h2m-171 1h2m160 1h2m3 1h2m-10 1h2m3 0h2m-58 1h2m12 0h2m10 0h2m12 1h2m0 0h2m0 0h2m3 0h2m1 0h2m4 0h2m-177 1h2m3 0h2m72 0h2m26 0h2m2 0h2m0 0h2m0 0h2m22 0h2m0 0h2m4 0h2m12 0h2m6 0h2m-41 1h2m3 0h2m15 0h2m9 0h2m3 0h2m-153 1h2m0 0h2m52 0h2m24 0h2m0 0h2m2 0h2m13 0h2m25 0h2m-149 1h2m8 0h2m0 0h2m98 0h2m8 0h2m9 0h2m1 0h2m7 0h2m5 0h2m0 0h2m10 0h2m1 0h2m-170 1h2m0 0h2m7 0h2m7 0h2m10 0h2m48 0h2m6 0h2m39 0h2m22 0h2m3 0h2m-154 1h2m107 0h2m0 0h2m0 0h2m18 0h2m1 0h2m2 0h2m1 0h2m12 0h2m-153 1h2m10 0h2m22 0h2m25 0h2m7 0h2m19 0h2m3 0h2m3 0h2m1 0h2m15 0h2m5 0h2m9 0h2m-158 1h2m18 0h2m45 0h2m4 0h2m4 0h2m3 0h2m14 0h2m4 0h2m16 0h2m1 0h2m14 0h2m-128 1h2m0 0h2m5 0h2m4 0h2m32 0h2m1 0h2m26 0h2m7 0h2m7 0h2m3 0h2m9 0h2m12 0h2m-119 1h2m7 0h2m6 0h2m16 0h2m15 0h2m1 0h2m2 0h2m6 0h2m3 0h2m8 0h2m11 0h2m13 0h2m1 0h2m8 0h2m3 0h2" stroke="#6262ff" stroke-width="2" fill="none"/><path d="M1143 105h2m-1 2h2m-28 4h2m25 1h2m-55 3h2m1 1h2m28 0h2m12 0h2m-22 1h2m0 0h2m12 0h2m-40 1h2m24 0h2m-38 1h2m20 0h2m18 0h2m0 0h2m-40 1h2m15 0h2m-9 2h2m14 0h2m-8 1h2m10 0h2m-8 1h2m2 0h2m9 0h2m3 0h2m-41 1h2m1 0h2m27 0h2m10 0h2m-49 1h2m13 0h2m21 0h2m1 0h2m-69 1h2m22 0h2m16 0h2m3 0h2m0 0h2m1 0h2m-21 1h2m10 0h2m9 0h2m2 0h2m-47 1h2m7 0h2m0 0h2m5 0h2m7 0h2m6 0h2m5 0h2m-41 1h2m18 0h2m-1 0h2m2 0h2m6 0h2m0 0h2m17 0h2m-46 1h2m28 0h2m0 0h2m17 0h2m-73 1h2m1 0h2m43 0h2m6 0h2m2 0h2m2 0h2m-52 1h2m-1 0h2m3 0h2m12 0h2m1 0h2m-21 1h2m6 0h2m11 0h2m9 0h2m0 0h2m-1 0h2m6 0h2m-49 1h2m14 0h2m5 0h2m-41 1h2m8 0h2m1 0h2m11 0h2m14 0h2m0 0h2m6 0h2m4 0h2m-59 1h2m4 0h2m18 0h2m9 0h2m8 0h2m22 0h2m-69 1h2m15 0h2m0 0h2m7 0h2m7 0h2m10 0h2m0 0h2m1 0h2m-67 1h2m9 0h2m6 0h2m15 0h2m-1 0h2m35 0h2m5 0h2m54 0h2m15 0h2m-149 1h2m0 0h2m13 0h2m1 0h2m1 0h2m13 0h2m3 0h2m20 0h2m2 0h2m-83 1h2m9 0h2m5 0h2m9 0h2m24 0h2m0 0h2m7 0h2m-51 1h2m28 0h2m9 0h2m-40 1h2m20 0h2m4 0h2m0 0h2m6 0h2m13 0h2m5 0h2m-65 1h2m0 0h2m6 0h2m4 0h2m25 0h2m16 0h2m-60 1h2m6 0h2m6 0h2m2 0h2m2 0h2m0 0h2m0 0h2m2 0h2m7 0h2m0 0h2m7 0h2m5 0h2m-63 1h2m7 0h2m3 0h2m31 0h2m3 0h2m8 0h2m56 0h2m-130 1h2m3 0h2m11 0h2m2 0h2m2 0h2m2 0h2m0 0h2m0 0h2m0 0h2m0 0h2m9 0h2m13 0h2m0 0h2m-66 1h2m5 0h2m2 0h2m1 0h2m36 0h2m1 0h2m2 0h2m-53 1h2m0 0h2m0 0h2m0 0h2m2 0h2m0 0h2m10 0h2m11 0h2m1 0h2m1 0h2m0 0h2m60 0h2m-133 1h2m19 0h2m35 0h2m13 0h2m23 0h2m-68 1h2m4 0h2m4 0h2m0 0h2m4 0h2m0 0h2m6 0h2m0 0h2m11 0h2m52 0h2m10 0h2m8 0h2m-148 1h2m2 0h2m16 0h2m-8 1h2m1 0h2m8 0h2m2 0h2m12 0h2m39 0h2m49 0h2m-135 1h2m-1 0h2m13 0h2m33 0h2m10 0h2m4 0h2m48 0h2m-123 1h2m14 0h2m1 0h2m0 0h2m0 0h2m0 0h2m4 0h2m0 0h2m2 0h2m0 0h2m2 0h2m0 0h2m9 0h2m-1 0h2m6 0h2m3 0h2m-63 1h2m7 0h2m28 0h2m10 0h2m1 0h2m81 0h2m-140 1h2m0 0h2m7 0h2m2 0h2m2 0h2m4 0h2m0 0h2m0 0h2m4 0h2m8 0h2m6 0h2m1 0h2m64 0h2m-142 1h2m-1 0h2m2 0h2m6 0h2m7 0h2m33 0h2m9 0h2m15 0h2m8 0h2m-66 1h2m0 0h2m25 0h2m6 0h2m10 0h2m68 0h2m-155 1h2m83 0h2m9 0h2m19 0h2m2 0h2m5 0h2m9 0h2m-145 1h2m36 0h2m2 0h2m4 0h2m0 0h2m32 0h2m1 0h2m-83 1h2m54 0h2m1 0h2m4 0h2m3 0h2m4 0h2m66 0h2m25 0h2m-150 1h2m15 0h2m0 0h2m0 0h2m0 0h2m0 0h2m0 0h2m9 0h2m3 0h2m6 0h2m46 0h2m7 0h2m1 0h2m-126 1h2m5 0h2m6 0h2m44 0h2m68 0h2m-120 1h2m7 0h2m8 0h2m0 0h2m2 0h2m33 0h2m3 0h2m32 0h2m7 0h2m-127 1h2m7 0h2m38 0h2m3 0h2m1 0h2m8 0h2m3 0h2m17 0h2m6 0h2m1 0h2m7 0h2m18 0h2m0 0h2m30 0h2m-159 1h2m3 0h2m6 0h2m5 0h2m22 0h2m2 0h2m31 0h2m33 0h2m44 0h2m-176 1h2m26 0h2m29 0h2m4 0h2m8 0h2m-1 0h2m4 0h2m49 0h2m0 0h2m6 0h2m-156 1h2m13 0h2m6 0h2m29 0h2m20 0h2m-1 0h2m3 0h2m10 0h2m16 0h2m-93 1h2m20 0h2m13 0h2m-1 0h2m7 0h2m4 0h2m55 0h2m3 0h2m8 0h2m6 0h2m-133 1h2m8 0h2m3 0h2m4 0h2m22 0h2m8 0h2m107 0h2m0 0h2m0 0h2m-192 1h2m16 0h2m1 0h2m8 0h2m23 0h2m4 0h2m55 0h2m-117 1h2m1 0h2m2 0h2m12 0h2m1 0h2m1 0h2m4 0h2m5 0h2m2 0h2m2 0h2m0 0h2m7 0h2m9 0h2m32 0h2m62 0h2m16 0h2m-169 1h2m8 0h2m12 0h2m1 0h2m19 0h2m14 0h2m61 0h2m24 0h2m17 0h2m-180 1h2m1 0h2m8 0h2m13 0h2m-1 0h2m4 0h2m1 0h2m8 0h2m3 0h2m0 0h2m0 0h2m0 0h2m26 0h2m25 0h2m7 0h2m34 0h2m0 0h2m2 0h2m0 0h2m4 0h2m0 0h2m0 0h2m-168 1h2m26 0h2m29 0h2m-1 0h2m38 0h2m-111 1h2m5 0h2m9 0h2m12 0h2m14 0h2m28 0h2m16 0h2m19 0h2m4 0h2m30 0h2m0 0h2m0 0h2m2 0h2m8 0h2m0 0h2m2 0h2m-187 1h2m5 0h2m2 0h2m2 0h2m9 0h2m-1 0h2m5 0h2m7 0h2m3 0h2m28 0h2m12 0h2m10 0h2m14 0h2m21 0h2m-131 1h2m9 0h2m3 0h2m36 0h2m35 0h2m56 0h2m8 0h2m4 0h2m0 0h2m-155 1h2m1 0h2m24 0h2m3 0h2m-1 0h2m43 0h2m42 0h2m-135 1h2m1 0h2m13 0h2m46 0h2m2 0h2m50 0h2m8 0h2m2 0h2m0 0h2m22 0h2m0 0h2m3 0h2m-184 1h2m1 0h2m25 0h2m1 0h2m144 0h2m-202 1h2m29 0h2m4 0h2m10 0h2m12 0h2m3 0h2m28 0h2m24 0h2m70 0h2m-182 1h2m20 0h2m3 0h2m1 0h2m65 0h2m16 0h2m-97 1h2m6 0h2m20 0h2m17 0h2m5 0h2m72 0h2m0 0h2m2 0h2m6 0h2m4 0h2m0 0h2m4 0h2m2 0h2m-188 1h2m2 0h2m8 0h2m27 0h2m13 0h2m30 0h2m36 0h2m-101 1h2m29 0h2m15 0h2m41 0h2m30 0h2m0 0h2m0 0h2m2 0h2m0 0h2m2 0h2m6 0h2m2 0h2m0 0h2m-186 1h2m4 0h2m29 0h2m60 0h2m27 0h2m23 0h2m-148 1h2m0 0h2m20 0h2m10 0h2m42 0h2m63 0h2m0 0h2m0 0h2m12 0h2m-172 1h2m11 0h2m12 0h2m-1 0h2m-3 1h2m13 0h2m1 0h2m57 0h2m15 0h2m24 0h2m7 0h2m26 0h2m0 0h2m-179 1h2m-1 0h2m4 0h2m13 0h2m23 0h2m8 0h2m41 0h2m0 0h2m-94 1h2m125 0h2m0 0h2m8 0h2m6 0h2m0 0h2m4 0h2m-53 1h2m-94 1h2m3 0h2m18 0h2m88 0h2m0 0h2m0 0h2m4 0h2m0 0h2m4 0h2m2 0h2m2 0h2m6 0h2m3 0h2m-44 1h2m-127 1h2m13 0h2m1 0h2m93 0h2m9 0h2m0 0h2m2 0h2m0 0h2m0 0h2m10 0h2m12 0h2m-41 1h2m42 0h2m-159 1h2m107 0h2m3 0h2m0 0h2m2 0h2m18 0h2m2 0h2m-138 2h2m94 0h2m2 0h2m4 0h2m28 0h2m2 0h2m-135 1h2m83 1h2m3 0h2m3 0h2m22 0h2m-22 2h2m20 0h2m4 0h2m-42 1h2m0 0h2m45 0h2m-56 1h2m-1 0h2m2 0h2m2 0h2m32 0h2m0 0h2m0 1h2m1 0h2m-55 1h2m4 0h2m0 0h2m0 0h2m6 0h2m24 0h2m-42 2h2m40 0h2m5 1h2m-54 1h2m3 0h2m30 0h2m-2 2h2m-2 2h2m0 0h2m1 0h2m-49 1h2m0 1h2m34 0h2m0 0h2m0 0h2m-144 1h2m94 1h2m0 0h2m38 0h2m2 0h2m-52 1h2m-96 1h2m100 0h2m36 0h2m2 0h2m-135 1h2m-1 0h2m62 0h2m-88 1h2m6 0h2m66 0h2m5 0h2m13 0h2m4 0h2m0 0h2m2 0h2m38 0h2m0 0h2m0 0h2m-154 1h2m7 0h2m2 0h2m0 0h2m4 0h2m7 0h2m5 0h2m31 0h2m-71 1h2m3 0h2m0 0h2m6 0h2m0 0h2m0 0h2m0 0h2m15 0h2m32 0h2m69 0h2m0 0h2m4 0h2m-87 1h2m12 0h2m-91 1h2m6 0h2m0 0h2m0 0h2m2 0h2m0 0h2m0 0h2m0 0h2m0 0h2m38 0h2m20 0h2m12 0h2m2 0h2m0 0h2m0 0h2m0 0h2m40 0h2m0 0h2m-109 1h2m25 0h2m13 0h2m65 0h2m-155 1h2m5 0h2m0 0h2m10 0h2m6 0h2m0 0h2m0 0h2m2 0h2m0 0h2m0 0h2m6 0h2m26 0h2m2 0h2m0 0h2m2 0h2m2 0h2m0 0h2m0 0h2m0 0h2m6 0h2m42 0h2m0 0h2m-157 1h2m49 0h2m17 0h2m87 0h2m-154 1h2m4 0h2m24 0h2m12 0h2m0 0h2m2 0h2m8 0h2m2 0h2m0 0h2m0 0h2m2 0h2m16 0h2m6 0h2m40 0h2m-89 1h2m2 0h2m90 0h2m-170 1h2m2 0h2m7 0h2m4 0h2m4 0h2m22 0h2m12 0h2m0 0h2m0 0h2m0 0h2m14 0h2m2 0h2m0 0h2m0 0h2m2 0h2m8 0h2m2 0h2m48 0h2m0 0h2m-158 1h2m-6 1h2m6 0h2m4 0h2m44 0h2m16 0h2m2 0h2m2 0h2m72 1h2m-162 1h2m4 0h2m46 0h2m0 0h2m4 0h2m2 0h2m8 0h2m74 0h2m0 0h2m0 0h2m6 1h2m7 0h2m-178 1h2m0 0h2m-1 0h2m4 0h2m54 0h2m2 0h2m16 0h2m6 0h2m0 0h2m0 0h2m8 0h2m2 0h2m59 0h2m-173 2h2m0 0h2m0 0h2m4 0h2m40 0h2m4 0h2m2 0h2m6 0h2m4 0h2m4 0h2m70 0h2m0 0h2m0 0h2m0 0h2m5 1h2m-171 1h2m62 0h2m86 0h2m0 0h2m4 0h2m-166 1h2m170 0h2m-168 1h2m56 0h2m100 0h2m2 0h2m0 0h2m0 0h2m-72 2h2m38 0h2m12 0h2m2 0h2m2 0h2m0 0h2m-171 2h2m73 0h2m70 0h2m8 0h2m-160 2h2m0 0h2m0 0h2m14 0h2m58 0h2m0 0h2m50 0h2m10 0h2m12 0h2m4 0h2m0 0h2m0 0h2m0 0h2m8 0h2m-10 1h2m3 0h2m-179 1h2m0 0h2m138 0h2m18 0h2m2 0h2m0 0h2m0 0h2m-172 2h2m134 0h2m8 0h2m16 0h2m4 0h2m3 0h2m-1 1h2m-180 1h2m0 0h2m2 0h2m84 0h2m46 0h2m14 0h2m0 0h2m0 0h2m6 0h2m12 1h2m-182 1h2m10 0h2m68 0h2m18 0h2m2 0h2m22 0h2m20 0h2m4 0h2m0 0h2m13 0h2m-1 0h2m-172 2h2m4 0h2m0 0h2m78 0h2m0 0h2m52 0h2m2 0h2m10 1h2m2 0h2m-173 1h2m1 0h2m16 0h2m90 0h2m6 0h2m8 0h2m0 0h2m0 0h2m2 0h2m4 0h2m2 0h2m6 0h2m0 0h2m5 0h2m2 0h2m-169 2h2m0 0h2m14 0h2m48 0h2m0 0h2m2 0h2m8 0h2m0 0h2m6 0h2m2 0h2m0 0h2m16 0h2m6 0h2m0 0h2m8 0h2m0 0h2m8 0h2m0 0h2m2 0h2m3 0h2m0 1h2m-166 1h2m1 0h2m0 0h2m16 0h2m0 0h2m24 0h2m12 0h2m12 0h2m24 0h2m0 0h2m8 0h2m0 0h2m0 0h2m2 0h2m6 0h2m4 0h2m2 0h2m0 0h2m0 0h2m0 0h2m0 0h2m-152 1h2m4 1h2m8 0h2m2 0h2m4 0h2m6 0h2m16 0h2m12 0h2m2 0h2m2 0h2m8 0h2m6 0h2m0 0h2m2 0h2m2 0h2m2 0h2m10 0h2m0 0h2m18 0h2m-137 1h2m121 0h2m27 0h2m-147 1h2m10 0h2m12 0h2m2 0h2m4 0h2m8 0h2m4 0h2m2 0h2m8 0h2m4 0h2m2 0h2m2 0h2m12 0h2m20 0h2m26 0h2m-45 1h2m-1 0h2m5 0h2m17 0h2m-137 1h2m13 0h2m4 0h2m10 0h2m2 0h2m0 0h2m0 0h2m10 0h2m4 0h2m2 0h2m2 0h2m0 0h2m2 0h2m2 0h2m0 0h2m6 0h2m3 0h2m3 0h2m3 0h2m21 0h2m4 0h2m-126 1h2m73 0h2m15 0h2m2 0h2m2 0h2m26 0h2m-131 1h2m9 0h2m2 0h2m8 0h2m0 0h2m0 0h2m0 0h2m6 0h2m0 0h2m15 0h2m2 0h2m32 0h2m-95 1h2m51 0h2m30 0h2m46 0h2m-141 1h2m2 0h2m5 0h2m0 0h2m13 0h2m9 0h2m2 0h2m0 0h2m16 0h2m14 0h2m-59 1h2m16 0h2m4 0h2m13 0h2m7 0h2" stroke="#3a3aff" stroke-width="2" fill="none"/><path d="M1116 122h2m-17 7h2m8 4h2m22 0h2m-30 2h2m-13 1h2m-6 1h2m12 0h2m9 0h2m-34 2h2m17 0h2m5 0h2m5 0h2m4 1h2m12 0h2m7 1h2m-73 3h2m17 0h2m4 0h2m0 0h2m35 0h2m-38 1h2m14 0h2m-49 1h2m13 0h2m33 0h2m-25 1h2m16 0h2m-24 1h2m2 1h2m22 0h2m71 0h2m-105 1h2m44 1h2m-19 1h2m-7 1h2m-28 1h2m28 0h2m-24 1h2m23 0h2m-41 1h2m39 0h2m-25 1h2m32 0h2m-21 1h2m-13 1h2m-34 1h2m8 0h2m3 0h2m7 1h2m8 0h2m4 0h2m-43 2h2m19 0h2m-10 2h2m2 0h2m-13 1h2m29 0h2m-29 1h2m29 1h2m-24 1h2m22 0h2m-40 1h2m41 0h2m66 1h2m-98 2h2m143 0h2m-150 1h2m140 1h2m6 0h2m-141 2h2m129 0h2m4 0h2m8 0h2m-166 1h2m66 0h2m-34 1h2m8 1h2m-42 1h2m1 0h2m19 0h2m110 0h2m2 0h2m0 0h2m0 0h2m4 0h2m0 0h2m-24 2h2m4 0h2m0 0h2m0 0h2m0 0h2m6 0h2m2 0h2m-168 2h2m144 0h2m0 0h2m0 0h2m2 0h2m0 0h2m6 0h2m-158 2h2m142 0h2m2 0h2m2 0h2m-162 1h2m8 0h2m-14 1h2m13 0h2m125 0h2m2 0h2m0 0h2m0 0h2m2 0h2m2 0h2m0 0h2m0 0h2m-31 2h2m1 0h2m6 0h2m0 0h2m4 0h2m2 0h2m0 0h2m2 0h2m-18 2h2m12 0h2m-26 2h2m6 0h2m2 0h2m2 0h2m4 0h2m-32 2h2m6 0h2m0 0h2m8 0h2m2 0h2m0 0h2m0 0h2m0 0h2m-38 1h2m39 0h2m-27 1h2m0 0h2m8 0h2m-16 2h2m8 0h2m6 0h2m-40 2h2m2 0h2m0 0h2m0 0h2m20 0h2m4 0h2m0 0h2m-42 2h2m0 0h2m0 0h2m14 0h2m2 0h2m2 0h2m2 0h2m-26 2h2m8 0h2m2 0h2m4 0h2m0 0h2m0 0h2m-34 2h2m2 0h2m6 0h2m2 0h2m10 0h2m-32 2h2m2 0h2m14 0h2m4 0h2m0 0h2m2 0h2m-8 2h2m6 0h2m-46 2h2m0 0h2m2 0h2m28 0h2m2 0h2m-38 2h2m2 0h2m24 0h2m0 0h2m-36 2h2m2 0h2m24 0h2m-38 2h2m0 0h2m-10 2h2m0 0h2m0 0h2m32 0h2m2 0h2m-132 1h2m-7 1h2m93 0h2m32 0h2m2 0h2m-120 1h2m-18 1h2m86 0h2m4 0h2m-102 1h2m-7 1h2m5 0h2m12 0h2m4 0h2m2 0h2m58 1h2m-86 1h2m2 0h2m2 0h2m2 0h2m0 0h2m0 0h2m6 0h2m6 0h2m8 0h2m24 0h2m20 0h2m0 0h2m2 0h2m32 0h2m2 0h2m0 0h2m-152 2h2m12 0h2m6 0h2m2 0h2m2 0h2m8 0h2m2 0h2m2 0h2m42 0h2m10 0h2m6 0h2m36 0h2m-152 2h2m4 0h2m4 0h2m4 0h2m16 0h2m12 0h2m8 0h2m2 0h2m24 0h2m2 0h2m6 0h2m2 0h2m34 0h2m11 0h2m-153 2h2m20 0h2m0 0h2m14 0h2m2 0h2m4 0h2m4 0h2m0 0h2m2 0h2m0 0h2m6 0h2m4 0h2m0 0h2m2 0h2m48 0h2m6 0h2m-152 2h2m26 0h2m18 0h2m4 0h2m4 0h2m8 0h2m2 0h2m0 0h2m0 0h2m0 0h2m6 0h2m0 0h2m0 0h2m0 0h2m2 0h2m46 0h2m6 0h2m0 0h2m-163 1h2m1 1h2m4 0h2m46 0h2m0 0h2m8 0h2m0 0h2m8 0h2m4 0h2m0 0h2m0 0h2m24 0h2m38 0h2m-152 2h2m66 0h2m24 0h2m4 0h2m36 0h2m0 0h2m2 0h2m-152 2h2m4 0h2m48 0h2m2 0h2m2 0h2m0 0h2m10 0h2m2 0h2m0 0h2m16 0h2m30 0h2m0 0h2m18 0h2m14 1h2m-178 1h2m4 0h2m2 0h2m2 0h2m60 0h2m0 0h2m8 0h2m60 0h2m0 0h2m4 0h2m-158 2h2m4 0h2m0 0h2m2 0h2m42 0h2m10 0h2m0 0h2m70 0h2m2 0h2m0 0h2m6 0h2m2 0h2m-166 2h2m2 0h2m0 0h2m6 0h2m20 0h2m72 0h2m18 0h2m10 0h2m4 0h2m8 0h2m0 0h2m0 0h2m0 0h2m2 0h2m-166 2h2m0 0h2m64 0h2m66 0h2m6 0h2m10 0h2m0 0h2m-160 2h2m0 0h2m0 0h2m56 0h2m30 0h2m6 0h2m2 0h2m2 0h2m0 0h2m6 0h2m4 0h2m2 0h2m4 0h2m2 0h2m4 0h2m4 0h2m0 0h2m0 0h2m2 0h2m-160 2h2m4 0h2m4 0h2m34 0h2m4 0h2m8 0h2m4 0h2m40 0h2m24 0h2m2 0h2m2 0h2m2 0h2m2 0h2m0 0h2m4 0h2m-162 2h2m2 0h2m4 0h2m56 0h2m2 0h2m4 0h2m14 0h2m6 0h2m24 0h2m2 0h2m0 0h2m2 0h2m12 0h2m0 0h2m4 0h2m-172 2h2m8 0h2m50 0h2m6 0h2m6 0h2m14 0h2m20 0h2m2 0h2m2 0h2m0 0h2m0 0h2m8 0h2m6 0h2m10 0h2m6 0h2m-168 2h2m2 0h2m6 0h2m18 0h2m36 0h2m22 0h2m8 0h2m10 0h2m0 0h2m0 0h2m4 0h2m2 0h2m0 0h2m0 0h2m6 0h2m10 0h2m2 0h2m0 0h2m4 0h2m-160 2h2m2 0h2m0 0h2m0 0h2m2 0h2m4 0h2m4 0h2m26 0h2m2 0h2m4 0h2m10 0h2m10 0h2m0 0h2m0 0h2m18 0h2m4 0h2m4 0h2m6 0h2m16 0h2m4 0h2m0 0h2m-164 2h2m4 0h2m0 0h2m0 0h2m4 0h2m0 0h2m2 0h2m16 0h2m16 0h2m8 0h2m8 0h2m2 0h2m6 0h2m18 0h2m2 0h2m8 0h2m0 0h2m4 0h2m4 0h2m8 0h2m0 0h2m-142 2h2m8 0h2m14 0h2m8 0h2m10 0h2m2 0h2m4 0h2m0 0h2m2 0h2m16 0h2m0 0h2m0 0h2m12 0h2m0 0h2m10 0h2m6 0h2m2 0h2m0 0h2m14 0h2m-146 2h2m2 0h2m0 0h2m14 0h2m8 0h2m0 0h2m2 0h2m0 0h2m6 0h2m4 0h2m16 0h2m0 0h2m2 0h2m8 0h2m2 0h2m44 1h2m-138 1h2m8 0h2m4 0h2m2 0h2m0 0h2m10 0h2m0 0h2m4 0h2m18 0h2m12 0h2m2 0h2m2 0h2m4 0h2m44 1h2m-137 1h2m9 0h2m0 0h2m6 0h2m0 0h2m0 0h2m2 0h2m12 0h2m0 0h2m4 0h2m2 0h2m8 0h2m16 0h2m5 1h2m-73 1h2m22 0h2m-30 3h2m11 0h2" stroke="#2a5cff" stroke-width="2" fill="none"/><path d="M1113 132h2m19 5h2m-39 2h2m16 3h2m2 0h2m-19 9h2m-6 8h2m-4 2h2m14 12h2m-12 2h2m134 2h2m4 0h2m-12 2h2m2 0h2m-2 2h2m0 0h2m4 0h2m-22 2h2m12 0h2m-8 4h2m-2 2h2m-16 2h2m10 0h2m-22 2h2m16 0h2m0 0h2m0 2h2m-18 2h2m2 0h2m-20 2h2m2 0h2m4 0h2m8 0h2m-28 2h2m2 0h2m2 0h2m0 0h2m0 0h2m8 0h2m4 0h2m0 0h2m-26 2h2m2 0h2m0 0h2m2 0h2m6 0h2m2 0h2m0 0h2m-40 4h2m24 0h2m0 0h2m-8 2h2m-16 2h2m0 0h2m-14 2h2m0 0h2m0 0h2m0 0h2m0 0h2m0 0h2m6 0h2m4 0h2m6 0h2m-8 2h2m-30 2h2m14 0h2m-20 2h2m20 0h2m2 0h2m-32 2h2m4 0h2m24 0h2m2 0h2m-40 2h2m0 0h2m0 0h2m20 0h2m4 0h2m-34 2h2m28 0h2m-42 2h2m2 0h2m30 0h2m0 0h2m-110 2h2m76 0h2m22 0h2m6 0h2m-132 2h2m70 0h2m8 0h2m10 0h2m-108 2h2m8 0h2m22 0h2m26 0h2m16 0h2m0 0h2m2 0h2m0 0h2m4 0h2m-82 2h2m0 0h2m0 0h2m4 0h2m12 0h2m18 0h2m2 0h2m72 0h2m-144 2h2m8 0h2m22 0h2m0 0h2m0 0h2m14 0h2m6 0h2m6 0h2m16 0h2m0 0h2m0 0h2m0 0h2m0 0h2m16 0h2m16 0h2m4 0h2m6 0h2m-146 2h2m0 0h2m6 0h2m0 0h2m16 0h2m6 0h2m18 0h2m18 0h2m12 0h2m0 0h2m0 0h2m2 0h2m0 0h2m26 0h2m0 0h2m-132 2h2m32 0h2m10 0h2m14 0h2m20 0h2m0 0h2m0 0h2m32 0h2m4 0h2m8 0h2m0 0h2m-136 2h2m22 0h2m4 0h2m12 0h2m6 0h2m6 0h2m2 0h2m4 0h2m32 0h2m2 0h2m2 0h2m4 0h2m-136 2h2m6 0h2m0 0h2m4 0h2m10 0h2m34 0h2m0 0h2m4 0h2m10 0h2m4 0h2m4 0h2m8 0h2m32 0h2m-142 2h2m18 0h2m30 0h2m8 0h2m0 0h2m10 0h2m12 0h2m30 0h2m6 0h2m2 0h2m2 0h2m0 0h2m6 0h2m-152 2h2m4 0h2m40 0h2m0 0h2m6 0h2m10 0h2m2 0h2m14 0h2m6 0h2m6 0h2m16 0h2m0 0h2m6 0h2m10 0h2m-148 2h2m0 0h2m12 0h2m30 0h2m6 0h2m6 0h2m10 0h2m0 0h2m4 0h2m0 0h2m26 0h2m0 0h2m8 0h2m8 0h2m8 0h2m-148 2h2m22 0h2m34 0h2m0 0h2m14 0h2m12 0h2m0 0h2m2 0h2m0 0h2m4 0h2m0 0h2m6 0h2m0 0h2m6 0h2m10 0h2m2 0h2m2 0h2m-146 2h2m2 0h2m4 0h2m34 0h2m6 0h2m12 0h2m14 0h2m26 0h2m14 0h2m6 0h2m0 0h2m-142 2h2m0 0h2m2 0h2m6 0h2m38 0h2m8 0h2m4 0h2m0 0h2m14 0h2m0 0h2m6 0h2m4 0h2m28 0h2m14 0h2m-146 2h2m4 0h2m2 0h2m34 0h2m16 0h2m4 0h2m2 0h2m4 0h2m18 0h2m0 0h2m2 0h2m0 0h2m6 0h2m2 0h2m12 0h2m0 0h2m-142 2h2m8 0h2m36 0h2m4 0h2m6 0h2m10 0h2m2 0h2m0 0h2m12 0h2m2 0h2m18 0h2m2 0h2m8 0h2m2 0h2m0 0h2m4 0h2m-138 2h2m2 0h2m10 0h2m4 0h2m0 0h2m0 0h2m24 0h2m0 0h2m0 0h2m4 0h2m2 0h2m4 0h2m6 0h2m4 0h2m0 0h2m4 0h2m6 0h2m4 0h2m6 0h2m8 0h2m0 0h2m-122 2h2m8 0h2m22 0h2m4 0h2m8 0h2m20 0h2m2 0h2m0 0h2m2 0h2m4 0h2m10 0h2m-116 2h2m12 0h2m10 0h2m6 0h2m2 0h2m4 0h2m2 0h2m2 0h2m14 0h2m16 0h2m8 0h2m2 0h2m2 0h2m0 0h2m14 0h2m-122 2h2m0 0h2m0 0h2m2 0h2m8 0h2m4 0h2m0 0h2m8 0h2m2 0h2m4 0h2m10 0h2m4 0h2m2 0h2m0 0h2m12 0h2m4 0h2m22 0h2m-106 2h2m30 0h2m32 0h2m0 0h2m-74 2h2m14 0h2m14 0h2m86 0h2m-90 2h2m0 0h2m6 0h2m-30 2h2m12 0h2" stroke="#2494ff" stroke-width="2" fill="none"/><path d="M1122 156h2m-3 3h2m-23 4h2m140 14h2m-12 2h2m2 0h2m4 0h2m-8 4h2m6 0h2m-18 4h2m-2 4h2m-10 2h2m0 0h2m12 0h2m-26 2h2m-4 4h2m10 0h2m-6 2h2m-8 2h2m4 0h2m-18 2h2m0 0h2m-10 2h2m0 0h2m2 0h2m2 0h2m-14 2h2m18 0h2m-24 2h2m2 0h2m4 0h2m10 0h2m-6 2h2m-28 2h2m2 0h2m0 0h2m16 0h2m-28 2h2m26 0h2m-20 2h2m8 0h2m4 0h2m-22 2h2m16 0h2m-24 2h2m8 0h2m10 0h2m-26 2h2m-10 2h2m0 0h2m6 0h2m16 0h2m4 0h2m-40 2h2m18 0h2m14 0h2m-24 2h2m12 0h2m4 0h2m-138 2h2m20 0h2m0 0h2m72 0h2m4 0h2m26 0h2m2 0h2m-118 2h2m2 0h2m4 0h2m46 0h2m2 0h2m4 0h2m4 0h2m2 0h2m30 0h2m-128 2h2m14 0h2m2 0h2m6 0h2m42 0h2m14 0h2m10 0h2m4 0h2m22 0h2m-144 2h2m18 0h2m2 0h2m36 0h2m12 0h2m22 0h2m4 0h2m0 0h2m16 0h2m10 0h2m-140 2h2m0 0h2m16 0h2m4 0h2m6 0h2m0 0h2m6 0h2m8 0h2m6 0h2m0 0h2m32 0h2m10 0h2m8 0h2m8 0h2m2 0h2m-134 2h2m10 0h2m4 0h2m4 0h2m2 0h2m26 0h2m8 0h2m12 0h2m8 0h2m0 0h2m28 0h2m0 0h2m-128 2h2m4 0h2m22 0h2m32 0h2m42 0h2m8 0h2m10 0h2m0 0h2m2 0h2m-96 2h2m0 0h2m8 0h2m20 0h2m0 0h2m0 0h2m0 0h2m10 0h2m4 0h2m-112 2h2m12 0h2m2 0h2m16 0h2m2 0h2m6 0h2m12 0h2m6 0h2m18 0h2m12 0h2m0 0h2m2 0h2m6 0h2m22 0h2m20 0h2m-152 2h2m24 0h2m2 0h2m14 0h2m10 0h2m18 0h2m6 0h2m0 0h2m2 0h2m4 0h2m12 0h2m6 0h2m-132 2h2m2 0h2m0 0h2m4 0h2m10 0h2m14 0h2m12 0h2m8 0h2m12 0h2m0 0h2m4 0h2m6 0h2m16 0h2m6 0h2m20 0h2m-104 2h2m2 0h2m6 0h2m6 0h2m46 0h2m0 0h2m4 0h2m4 0h2m2 0h2m16 0h2m-140 2h2m2 0h2m24 0h2m18 0h2m26 0h2m6 0h2m10 0h2m0 0h2m16 0h2m2 0h2m10 0h2m2 0h2m-154 2h2m2 0h2m2 0h2m4 0h2m4 0h2m6 0h2m18 0h2m0 0h2m8 0h2m28 0h2m4 0h2m0 0h2m10 0h2m4 0h2m6 0h2m4 0h2m-120 2h2m8 0h2m8 0h2m18 0h2m0 0h2m8 0h2m10 0h2m0 0h2m14 0h2m2 0h2m38 0h2m8 0h2m-132 2h2m4 0h2m10 0h2m10 0h2m2 0h2m2 0h2m2 0h2m0 0h2m0 0h2m8 0h2m-44 2h2m2 0h2m10 0h2m4 0h2m6 0h2m12 0h2m4 0h2m2 0h2m0 0h2m18 0h2m34 0h2m-124 2h2m6 0h2m2 0h2m28 0h2m6 0h2m16 0h2m42 0h2m-90 2h2m26 0h2m22 0h2m-64 2h2m0 0h2m4 0h2m4 0h2m6 0h2m12 0h2m77 0h2m-113 2h2m14 0h2" stroke="#1ec4f0" stroke-width="2" fill="none"/><path d="M1220 195h2m-2 4h2m-10 2h2m8 0h2m-18 2h2m8 0h2m-18 6h2m0 0h2m12 0h2m0 0h2m-8 2h2m6 0h2m-16 4h2m2 0h2m-20 2h2m0 0h2m-8 2h2m4 0h2m2 4h2m-24 2h2m2 0h2m4 0h2m-8 2h2m-10 2h2m14 0h2m4 0h2m2 0h2m4 0h2m-20 2h2m12 0h2m-124 2h2m2 0h2m74 0h2m28 0h2m6 0h2m4 0h2m-130 2h2m10 0h2m12 0h2m86 0h2m2 0h2m-120 2h2m6 0h2m80 0h2m10 0h2m6 0h2m4 0h2m8 0h2m-132 2h2m22 0h2m0 0h2m0 0h2m10 0h2m26 0h2m30 0h2m0 0h2m0 0h2m4 0h2m8 0h2m-122 2h2m16 0h2m64 0h2m6 0h2m0 0h2m2 0h2m6 0h2m18 0h2m-132 2h2m14 0h2m20 0h2m30 0h2m6 0h2m20 0h2m8 0h2m24 0h2m-152 2h2m4 0h2m18 0h2m6 0h2m20 0h2m26 0h2m8 0h2m0 0h2m4 0h2m0 0h2m6 0h2m6 0h2m6 0h2m0 0h2m-120 2h2m32 0h2m10 0h2m16 0h2m2 0h2m14 0h2m0 0h2m6 0h2m6 0h2m2 0h2m2 0h2m14 0h2m-114 2h2m2 0h2m30 0h2m8 0h2m10 0h2m0 0h2m40 0h2m-100 2h2m4 0h2m12 0h2m8 0h2m6 0h2m4 0h2m6 0h2m10 0h2m0 0h2m10 0h2m8 0h2m-102 2h2m0 0h2m52 0h2m28 0h2m22 0h2m18 0h2m-100 2h2m0 0h2m10 0h2m0 0h2m0 0h2m2 0h2m14 0h2m6 0h2m22 0h2m-74 2h2m6 0h2m22 0h2m18 0h2m0 0h2m10 0h2m2 0h2m-92 2h2m8 0h2m10 0h2m4 0h2m0 0h2m4 0h2m8 0h2m22 0h2m0 0h2m18 0h2m-114 2h2m4 0h2m4 0h2m18 0h2m12 0h2m6 0h2m22 0h2m2 0h2m34 0h2m2 0h2m-58 2h2m2 0h2m0 0h2m46 0h2m-98 2h2m2 0h2m6 0h2m0 0h2m26 0h2m16 0h2m-74 2h2m4 0h2m6 0h2m50 0h2m10 0h2m-80 2h2m0 0h2m2 0h2m6 0h2m12 0h2m6 0h2m24 0h2m-58 2h2m30 0h2m2 0h2m-48 2h2m12 0h2m36 0h2" stroke="#20d8b4" stroke-width="2" fill="none"/><path d="M1226 191h2m-8 6h2m-16 8h2m0 0h2m0 0h2m2 0h2m2 0h2m-10 4h2m-8 2h2m2 0h2m-16 4h2m4 0h2m0 0h2m0 0h2m6 0h2m-18 2h2m14 0h2m-16 2h2m0 0h2m-20 2h2m18 0h2m4 0h2m0 0h2m-20 2h2m2 0h2m2 0h2m0 0h2m-16 2h2m14 0h2m-28 2h2m2 0h2m4 0h2m-16 2h2m2 0h2m4 0h2m-112 2h2m100 0h2m2 0h2m0 0h2m10 0h2m-28 2h2m4 0h2m0 0h2m4 0h2m8 0h2m0 0h2m2 0h2m-32 2h2m0 0h2m0 0h2m0 0h2m2 0h2m0 0h2m-114 2h2m8 0h2m10 0h2m-26 2h2m8 0h2m10 0h2m0 0h2m58 0h2m24 0h2m-106 2h2m26 0h2m26 0h2m42 0h2m0 0h2m6 0h2m14 0h2m-132 2h2m2 0h2m24 0h2m6 0h2m38 0h2m10 0h2m8 0h2m0 0h2m0 0h2m16 0h2m0 0h2m-126 2h2m4 0h2m4 0h2m12 0h2m0 0h2m0 0h2m0 0h2m40 0h2m14 0h2m14 0h2m0 0h2m10 0h2m-132 2h2m2 0h2m16 0h2m4 0h2m32 0h2m24 0h2m4 0h2m8 0h2m4 0h2m12 0h2m2 0h2m-122 2h2m28 0h2m30 0h2m0 0h2m2 0h2m8 0h2m0 0h2m16 0h2m0 0h2m4 0h2m8 0h2m0 0h2m-94 2h2m2 0h2m16 0h2m16 0h2m6 0h2m22 0h2m14 0h2m0 0h2m-104 2h2m2 0h2m4 0h2m0 0h2m2 0h2m8 0h2m20 0h2m24 0h2m6 0h2m-102 2h2m8 0h2m2 0h2m48 0h2m2 0h2m0 0h2m0 0h2m8 0h2m10 0h2m-82 2h2m0 0h2m4 0h2m16 0h2m14 0h2m6 0h2m2 0h2m2 0h2m8 0h2m28 0h2m8 0h2m-116 2h2m0 0h2m4 0h2m20 0h2m10 0h2m0 0h2m32 0h2m-80 2h2m4 0h2m2 0h2m14 0h2m20 0h2m10 0h2m-72 2h2m6 0h2m2 0h2m2 0h2m2 0h2m14 0h2m24 0h2m20 0h2m-80 2h2m8 0h2m8 0h2m26 0h2m0 0h2m12 0h2m-58 2h2m12 0h2m6 0h2m0 0h2m6 0h2m-52 2h2m12 2h2" stroke="#30dc78" stroke-width="2" fill="none"/><path d="M1216 201h2m-14 6h2m6 0h2m-8 2h2m-6 4h2m-12 2h2m2 0h2m0 0h2m6 2h2m-18 2h2m-8 2h2m16 4h2m-12 2h2m6 0h2m-20 2h2m2 0h2m6 6h2m-116 2h2m80 0h2m2 0h2m0 0h2m18 0h2m-122 2h2m8 0h2m6 0h2m96 0h2m-120 2h2m10 0h2m2 0h2m6 0h2m0 0h2m8 0h2m-46 2h2m4 0h2m18 0h2m2 0h2m6 0h2m12 0h2m4 0h2m20 0h2m8 0h2m-48 2h2m0 0h2m16 0h2m42 0h2m-98 2h2m6 0h2m2 0h2m6 0h2m4 0h2m58 0h2m6 0h2m12 0h2m0 0h2m-110 2h2m10 0h2m6 0h2m0 0h2m78 0h2m-114 2h2m2 0h2m18 0h2m18 0h2m-44 2h2m20 0h2m0 0h2m10 0h2m0 0h2m34 0h2m2 0h2m20 0h2m16 0h2m-128 2h2m22 0h2m10 0h2m18 0h2m14 0h2m16 0h2m-36 2h2m22 0h2m10 0h2m14 0h2m2 0h2m2 0h2m-82 2h2m46 0h2m-54 2h2m0 0h2m2 0h2m-6 2h2m0 0h2m6 0h2m-30 2h2m18 2h2m-6 2h2m-16 2h2m74 2h2" stroke="#5ee640" stroke-width="2" fill="none"/><path d="M1208 207h2m-4 4h2m-8 2h2m2 0h2m2 0h2m4 0h2m-26 4h2m6 0h2m0 0h2m2 0h2m2 0h2m-14 2h2m6 0h2m-16 2h2m0 0h2m0 0h2m0 0h2m0 0h2m0 0h2m2 0h2m-20 2h2m0 0h2m0 0h2m-8 2h2m4 0h2m0 0h2m0 0h2m0 0h2m0 0h2m0 0h2m-16 2h2m2 0h2m2 0h2m0 0h2m0 0h2m-20 2h2m10 0h2m2 0h2m4 0h2m-34 2h2m2 0h2m2 0h2m8 0h2m0 0h2m0 0h2m2 0h2m-112 2h2m90 0h2m0 0h2m2 0h2m0 0h2m2 0h2m-114 2h2m96 0h2m4 0h2m0 0h2m0 0h2m2 0h2m4 0h2m-122 2h2m92 0h2m8 0h2m0 0h2m2 0h2m6 0h2m-18 2h2m2 0h2m4 0h2m-122 2h2m4 0h2m0 0h2m6 0h2m92 0h2m4 0h2m2 0h2m-114 2h2m0 0h2m12 0h2m66 0h2m0 0h2m0 0h2m14 0h2m-110 2h2m2 0h2m6 0h2m2 0h2m2 0h2m68 0h2m6 0h2m-106 2h2m0 0h2m2 0h2m2 0h2m6 0h2m2 0h2m2 0h2m0 0h2m4 0h2m70 0h2m-104 2h2m2 0h2m0 0h2m2 0h2m6 0h2m16 0h2m0 0h2m22 0h2m18 0h2m8 0h2m6 0h2m-116 2h2m2 0h2m8 0h2m0 0h2m0 0h2m0 0h2m0 0h2m4 0h2m12 0h2m4 0h2m18 0h2m18 0h2m26 0h2m-106 2h2m4 0h2m6 0h2m14 0h2m4 0h2m4 0h2m24 0h2m34 0h2m-108 2h2m0 0h2m0 0h2m2 0h2m2 0h2m2 0h2m0 0h2m0 0h2m0 0h2m0 0h2m4 0h2m38 0h2m14 0h2m-86 2h2m0 0h2m0 0h2m0 0h2m4 0h2m0 0h2m2 0h2m0 0h2m2 0h2m0 0h2m0 0h2m30 0h2m-54 2h2m4 0h2m0 0h2m0 0h2m0 0h2m8 0h2m18 0h2m48 0h2m-88 2h2m0 0h2m0 0h2m16 2h2m-16 2h2m0 0h2" stroke="#b4ee28" stroke-width="2" fill="none"/></g>
<rect x="1042.2" y="52.5" width="231" height="227" fill="none" stroke="#777" stroke-width="2"/>
<path d="M1095.3 279.5v6.5M1105.4 279.5v6.5M1112.6 279.5v6.5M1122.7 279.5v6.5M1126.6 279.5v6.5M1129.9 279.5v6.5M1132.9 279.5v6.5M1152.8 279.5v6.5M1162.9 279.5v6.5M1170.1 279.5v6.5M1180.2 279.5v6.5M1184.1 279.5v6.5M1187.4 279.5v6.5M1190.4 279.5v6.5M1210.3 279.5v6.5M1220.4 279.5v6.5M1227.6 279.5v6.5M1237.7 279.5v6.5M1241.6 279.5v6.5M1244.9 279.5v6.5M1247.9 279.5v6.5M1267.8 279.5v6.5M1053.6 279.5v6.5M1058.2 279.5v6.5M1062 279.5v6.5M1067.7 279.5v6.5M1069.8 279.5v6.5M1071.8 279.5v6.5M1073.7 279.5v6.5M1042.2 115.9h-6.5M1042.2 105.8h-6.5M1042.2 98.6h-6.5M1042.2 88.5h-6.5M1042.2 84.6h-6.5M1042.2 81.3h-6.5M1042.2 78.3h-6.5M1042.2 173.4h-6.5M1042.2 163.3h-6.5M1042.2 156.1h-6.5M1042.2 146h-6.5M1042.2 142.1h-6.5M1042.2 138.8h-6.5M1042.2 135.8h-6.5M1042.2 230.9h-6.5M1042.2 220.8h-6.5M1042.2 213.6h-6.5M1042.2 203.5h-6.5M1042.2 199.6h-6.5M1042.2 196.3h-6.5M1042.2 193.3h-6.5M1042.2 58.4h-6.5M1042.2 252.6h-6.5M1042.2 255.5h-6.5M1042.2 258.9h-6.5M1042.2 262.1h-6.5M1042.2 271.5h-6.5" stroke="#7a7a7a" stroke-width="1.6" fill="none"/><path d="M1118.2 279.5v9.5M1175.7 279.5v9.5M1233.2 279.5v9.5M1065 279.5v9.5M1042.2 93h-9.5M1042.2 150.5h-9.5M1042.2 208h-9.5M1042.2 266.5h-9.5" stroke="#6a6a6a" stroke-width="1.6" fill="none"/><path d="M1078 279.5v13M1135.5 279.5v13M1193 279.5v13M1250.5 279.5v13M1042.2 75.7h-13M1042.2 133.2h-13M1042.2 190.7h-13M1042.2 248.2h-13" stroke="#4a4a4a" stroke-width="2.3" fill="none"/>
<path d="M1146.4 52.5 L1136.2 218.3 L1145 279.5" fill="none" stroke="#333" stroke-width="1.9" stroke-linejoin="miter"/>
<path d="M1042.2 227 L1136.2 218.3 L1202.3 223.1 L1273.2 227.8" fill="none" stroke="#333" stroke-width="1.9" stroke-linejoin="miter"/>
<path d="M1042.2 206.8 L1073.9 206.8 L1195.2 87.8 L1195.2 52.5" fill="none" stroke="#111" stroke-width="3.3" stroke-linejoin="miter"/>
<path d="M1170.8 279.5 L1170.8 253 L1273.2 161.6" fill="none" stroke="#111" stroke-width="3.3" stroke-linejoin="miter"/>
<text x="1041.7" y="320" text-anchor="middle" font-size="20">10<tspan font-size="13.5" dy="-9.6" dx="0.6">2</tspan></text><text x="1077.2" y="320" text-anchor="middle" font-size="20">10<tspan font-size="13.5" dy="-9.6" dx="0.6">3</tspan></text><text x="1134.7" y="320" text-anchor="middle" font-size="20">10<tspan font-size="13.5" dy="-9.6" dx="0.6">4</tspan></text><text x="1192.2" y="320" text-anchor="middle" font-size="20">10<tspan font-size="13.5" dy="-9.6" dx="0.6">5</tspan></text><text x="1249.7" y="320" text-anchor="middle" font-size="20">10<tspan font-size="13.5" dy="-9.6" dx="0.6">6</tspan></text><text x="1021.9" y="82.8" text-anchor="end" font-size="20">10<tspan font-size="13.5" dy="-10" dx="1">6</tspan></text><text x="1021.9" y="140.3" text-anchor="end" font-size="20">10<tspan font-size="13.5" dy="-10" dx="1">5</tspan></text><text x="1021.9" y="197.8" text-anchor="end" font-size="20">10<tspan font-size="13.5" dy="-10" dx="1">4</tspan></text><text x="1021.9" y="255.3" text-anchor="end" font-size="20">10<tspan font-size="13.5" dy="-10" dx="1">3</tspan></text><text x="1021.9" y="287.1" text-anchor="end" font-size="20">10<tspan font-size="13.5" dy="-10" dx="1">2</tspan></text><text x="1157.7" y="347.4" text-anchor="middle" font-size="21">Meso [25 nM]</text><text transform="translate(977.4 165.5) rotate(-90)" text-anchor="middle" font-size="21">KLK6 [7 nM]</text><text x="1068" y="89.4" font-size="21.3">5.2%</text><text x="1270.4" y="266.2" text-anchor="end" font-size="21.3">5.2%</text>
<clipPath id="c1"><rect x="1386.8" y="51.7" width="231" height="227"/></clipPath><g clip-path="url(#c1)"><path d="M1507 86h2m-39 9h2m101 5h2m8 0h2m-137 1h2m15 0h2m99 0h2m-1 0h2m-88 1h2m78 1h2m-72 1h2m7 0h2m70 0h2m1 0h2m17 0h2m11 0h2m-166 1h2m29 0h2m10 0h2m61 0h2m41 0h2m13 0h2m-134 1h2m4 0h2m-39 1h2m118 0h2m2 0h2m20 0h2m8 0h2m-149 1h2m0 0h2m12 0h2m7 0h2m89 1h2m10 0h2m-113 1h2m-1 0h2m7 0h2m77 0h2m6 0h2m10 0h2m15 0h2m-150 1h2m2 0h2m3 0h2m0 0h2m5 0h2m4 0h2m0 0h2m26 0h2m45 0h2m27 0h2m5 0h2m10 0h2m-145 1h2m27 0h2m24 0h2m26 0h2m34 0h2m26 0h2m-151 1h2m10 0h2m13 0h2m77 0h2m29 0h2m1 0h2m2 0h2m1 0h2m12 0h2m-183 2h2m11 0h2m1 0h2m20 0h2m25 0h2m46 0h2m28 0h2m2 0h2m-138 1h2m102 0h2m32 0h2m-98 1h2m19 0h2m25 0h2m7 0h2m1 0h2m15 0h2m44 0h2m-172 1h2m7 0h2m40 0h2m3 0h2m-79 1h2m16 0h2m1 0h2m3 0h2m49 0h2m24 0h2m12 0h2m3 0h2m7 0h2m-116 1h2m92 0h2m23 0h2m2 0h2m10 0h2m22 0h2m-170 1h2m72 0h2m3 0h2m0 0h2m28 0h2m-1 0h2m14 0h2m8 0h2m12 0h2m3 0h2m-161 1h2m7 0h2m97 0h2m32 0h2m-138 1h2m68 0h2m4 0h2m41 0h2m22 0h2m11 0h2m28 0h2m-189 1h2m2 0h2m4 0h2m1 0h2m65 0h2m39 0h2m11 0h2m-1 0h2m14 0h2m1 0h2m3 0h2m-43 1h2m22 0h2m-1 0h2m0 0h2m0 0h2m3 0h2m2 0h2m2 0h2m9 0h2m-167 1h2m59 0h2m4 0h2m36 0h2m17 0h2m30 0h2m1 0h2m10 0h2m5 0h2m-199 1h2m1 0h2m5 0h2m98 0h2m10 0h2m10 0h2m14 0h2m2 0h2m6 0h2m21 0h2m10 0h2m-194 1h2m86 0h2m0 0h2m-1 0h2m32 0h2m50 0h2m5 0h2m-187 1h2m116 0h2m13 0h2m4 0h2m18 0h2m22 0h2m-103 1h2m3 0h2m7 0h2m6 0h2m41 0h2m29 0h2m8 0h2m-76 1h2m7 0h2m1 0h2m7 0h2m19 0h2m18 0h2m2 0h2m-171 1h2m61 0h2m4 0h2m18 0h2m2 0h2m7 0h2m5 0h2m27 0h2m42 0h2m-187 1h2m12 0h2m85 0h2m3 0h2m13 0h2m23 0h2m35 0h2m-109 1h2m19 0h2m49 0h2m1 0h2m11 0h2m6 0h2m0 0h2m0 0h2m-192 1h2m1 0h2m77 0h2m19 0h2m0 0h2m1 0h2m30 0h2m15 0h2m29 0h2m-180 1h2m104 0h2m19 0h2m29 0h2m12 0h2m8 0h2m-196 1h2m87 0h2m93 0h2m8 0h2m-106 1h2m7 0h2m12 0h2m14 0h2m4 0h2m9 0h2m4 0h2m33 0h2m2 0h2m8 0h2m-51 1h2m32 0h2m8 0h2m-204 1h2m6 0h2m107 0h2m11 0h2m9 0h2m-138 1h2m91 0h2m31 0h2m37 0h2m23 0h2m16 0h2m-212 1h2m86 0h2m21 0h2m18 0h2m65 0h2m2 0h2m3 0h2m-207 1h2m89 0h2m7 0h2m105 0h2m-99 1h2m10 0h2m51 0h2m25 0h2m-209 1h2m7 0h2m89 0h2m10 0h2m11 0h2m78 0h2m-202 1h2m100 0h2m10 0h2m79 0h2m4 0h2m-207 1h2m2 0h2m0 0h2m81 0h2m17 0h2m-14 1h2m76 0h2m18 0h2m-1 0h2m-90 1h2m86 0h2m1 0h2m-1 1h2m-106 1h2m110 0h2m-213 1h2m202 0h2m2 0h2m-207 1h2m93 0h2m7 0h2m103 0h2m-118 1h2m2 0h2m8 0h2m-116 1h2m-1 0h2m10 0h2m79 0h2m118 0h2m-6 1h2m-204 1h2m87 0h2m10 0h2m1 0h2m97 1h2m-116 1h2m-99 1h2m1 0h2m204 0h2m6 0h2m-220 1h2m215 0h2m0 0h2m-223 1h2m10 0h2m3 0h2m84 0h2m-102 1h2m209 0h2m6 0h2m-215 1h2m91 0h2m110 1h2m-213 1h2m2 0h2m98 0h2m-106 1h2m91 0h2m24 0h2m-125 2h2m100 0h2m-106 1h2m2 0h2m210 0h2m-211 1h2m207 0h2m-208 1h2m90 0h2m114 0h2m-221 1h2m111 0h2m100 1h2m1 0h2m-130 1h2m19 0h2m103 0h2m0 0h2m-220 1h2m2 0h2m-1 1h2m3 1h2m75 1h2m4 0h2m114 1h2m-1 0h2m-213 1h2m17 0h2m65 1h2m24 0h2m93 0h2m0 0h2m3 0h2m4 0h2m-225 1h2m1 0h2m1 0h2m200 0h2m6 0h2m-123 1h2m117 0h2m2 0h2m-209 1h2m-1 0h2m70 0h2m123 0h2m-117 1h2m-79 1h2m68 0h2m127 0h2m-190 1h2m-11 1h2m67 0h2m-81 1h2m4 0h2m73 0h2m123 0h2m-204 1h2m33 0h2m22 0h2m6 0h2m118 0h2m10 0h2m-129 1h2m-63 1h2m14 0h2m44 0h2m-72 1h2m3 0h2m44 0h2m10 0h2m132 0h2m-192 1h2m67 0h2m6 0h2m103 0h2m-194 1h2m10 0h2m12 0h2m38 0h2m125 0h2m-190 1h2m22 0h2m11 0h2m156 0h2m-211 1h2m23 0h2m1 0h2m0 0h2m45 0h2m-1 0h2m0 0h2m0 0h2m7 0h2m103 0h2m-178 1h2m2 0h2m30 0h2m12 0h2m1 0h2m6 0h2m8 0h2m102 0h2m-164 1h2m33 0h2m13 0h2m122 0h2m-187 1h2m17 0h2m6 0h2m20 0h2m4 0h2m124 0h2m-187 1h2m6 0h2m2 0h2m11 0h2m1 0h2m2 0h2m13 0h2m19 0h2m103 0h2m6 0h2m-151 1h2m4 0h2m9 0h2m20 0h2m-72 1h2m5 0h2m0 0h2m4 0h2m5 0h2m6 0h2m3 0h2m6 0h2m1 0h2m1 0h2m17 0h2m16 0h2m77 0h2m-181 1h2m3 0h2m27 0h2m16 0h2m119 0h2m8 0h2m-172 1h2m12 0h2m7 0h2m6 0h2m10 0h2m6 0h2m8 0h2m0 0h2m104 0h2m-153 1h2m7 0h2m33 0h2m-39 1h2m37 0h2m3 0h2m98 0h2m-1 0h2m-150 1h2m20 0h2m9 0h2m115 0h2m-185 1h2m17 0h2m4 0h2m2 0h2m14 0h2m28 0h2m101 0h2m9 0h2m-179 1h2m19 0h2m0 0h2m6 0h2m19 0h2m2 0h2m16 0h2m102 0h2m-175 1h2m7 0h2m17 0h2m5 0h2m-31 1h2m1 0h2m2 0h2m14 0h2m11 0h2m15 0h2m2 0h2m-1 0h2m1 0h2m87 0h2m6 1h2m-149 1h2m16 0h2m116 0h2m14 0h2m0 0h2m-145 1h2m15 0h2m12 0h2m-72 1h2m0 0h2m1 0h2m7 0h2m24 0h2m15 0h2m7 0h2m-53 1h2m29 0h2m113 0h2m-167 1h2m6 0h2m5 0h2m33 0h2m12 0h2m-1 0h2m102 0h2m-159 1h2m40 0h2m3 0h2m8 0h2m91 0h2m3 0h2m-101 1h2m94 0h2m3 0h2m-139 1h2m137 0h2m-175 2h2m172 0h2m-181 1h2m5 0h2m151 0h2m1 0h2m6 0h2m10 0h2m-29 2h2m13 0h2m-173 1h2m165 1h2m-8 1h2m5 0h2m-175 1h2m153 0h2m-151 1h2m167 0h2m-17 3h2m-1 0h2m0 0h2m5 1h2m-1 0h2m-20 1h2m3 0h2m10 2h2m7 0h2m-28 2h2m6 0h2m14 0h2m3 0h2m-21 1h2m9 0h2m0 0h2m-25 1h2m8 0h2m-14 1h2m4 0h2m3 0h2m18 2h2m1 0h2m5 2h2m-32 2h2m-1 0h2m0 0h2m3 0h2m3 0h2m13 0h2m-26 1h2m-15 2h2m2 0h2m8 0h2m21 0h2m-40 1h2m-4 1h2m44 0h2m-28 1h2m0 0h2m11 0h2m-35 1h2m3 1h2m1 0h2m19 0h2m9 0h2m-47 1h2m0 0h2m10 0h2m2 0h2m3 0h2m-4 1h2m-16 1h2m0 0h2m10 0h2m15 0h2m-28 1h2m2 0h2m12 0h2m-28 1h2m20 0h2m-18 2h2m1 1h2m8 0h2m11 0h2m-186 1h2m4 0h2m149 0h2m14 0h2m6 0h2m-34 1h2m-1 0h2m0 0h2m-2 1h2m9 0h2m23 0h2m-45 1h2m2 0h2m29 0h2m3 0h2m-186 1h2m147 0h2m15 0h2m-36 1h2m3 0h2m32 0h2m-43 1h2m10 0h2m-1 0h2m-141 1h2m170 0h2m-40 1h2m7 0h2m25 0h2m-49 1h2m25 0h2m-146 1h2m90 0h2m40 0h2m16 0h2m-18 1h2m1 0h2m-127 1h2m88 0h2m11 0h2m23 0h2m-83 1h2m32 0h2m10 0h2m10 0h2m1 0h2m3 0h2m11 0h2" stroke="#8f8fff" stroke-width="2" fill="none"/><path d="M1468 111h2m-1 0h2m4 2h2m-24 1h2m10 0h2m10 0h2m-22 1h2m5 0h2m5 0h2m0 0h2m12 0h2m-37 1h2m22 0h2m0 0h2m-20 1h2m-18 1h2m6 0h2m16 0h2m1 0h2m1 0h2m0 0h2m-17 1h2m7 0h2m21 0h2m-56 1h2m18 0h2m25 0h2m2 0h2m-59 1h2m8 0h2m8 0h2m4 0h2m4 0h2m7 0h2m6 0h2m0 0h2m7 0h2m59 0h2m-100 1h2m17 0h2m1 0h2m-21 1h2m2 0h2m15 0h2m4 0h2m1 0h2m2 0h2m70 0h2m-126 1h2m4 0h2m25 0h2m95 0h2m-139 1h2m-1 0h2m4 0h2m14 0h2m12 0h2m0 0h2m2 0h2m6 0h2m1 0h2m-47 1h2m105 0h2m8 0h2m-135 1h2m20 0h2m2 0h2m4 0h2m27 0h2m64 0h2m31 0h2m-158 1h2m112 0h2m31 0h2m-137 1h2m8 0h2m20 0h2m0 0h2m91 0h2m-1 0h2m-79 1h2m63 0h2m1 0h2m-138 1h2m2 0h2m-1 0h2m0 0h2m22 0h2m2 0h2m6 0h2m8 0h2m18 0h2m46 0h2m0 0h2m-26 1h2m33 0h2m-141 1h2m9 0h2m11 0h2m22 0h2m6 0h2m17 0h2m87 0h2m9 0h2m-175 1h2m118 0h2m6 0h2m1 0h2m0 0h2m1 0h2m7 0h2m0 0h2m5 0h2m0 0h2m-162 1h2m10 0h2m22 0h2m2 0h2m12 0h2m6 0h2m8 0h2m38 0h2m10 0h2m8 0h2m4 0h2m15 0h2m-148 1h2m51 0h2m0 0h2m48 0h2m20 0h2m11 0h2m-150 1h2m1 0h2m40 0h2m10 0h2m59 0h2m32 0h2m-1 0h2m5 0h2m5 0h2m-176 1h2m77 0h2m27 0h2m58 0h2m0 0h2m-168 1h2m20 0h2m46 0h2m1 0h2m42 0h2m3 0h2m33 0h2m3 0h2m0 0h2m-175 1h2m4 0h2m4 0h2m2 0h2m99 0h2m2 0h2m6 0h2m12 0h2m5 0h2m3 0h2m21 0h2m-174 1h2m13 0h2m32 0h2m12 0h2m4 0h2m3 0h2m-1 0h2m18 0h2m39 0h2m5 0h2m6 0h2m9 0h2m-92 1h2m6 0h2m0 0h2m32 0h2m2 0h2m7 0h2m7 0h2m10 0h2m1 0h2m4 0h2m10 0h2m-174 1h2m0 0h2m14 0h2m2 0h2m4 0h2m28 0h2m0 0h2m24 0h2m13 0h2m1 0h2m13 0h2m-1 0h2m0 0h2m37 0h2m4 0h2m1 0h2m3 0h2m0 0h2m-172 1h2m87 0h2m31 0h2m-1 0h2m14 0h2m25 0h2m-167 1h2m22 0h2m32 0h2m2 0h2m52 0h2m7 0h2m16 0h2m7 0h2m-163 1h2m0 0h2m2 0h2m67 0h2m4 0h2m27 0h2m5 0h2m0 0h2m7 0h2m2 0h2m4 0h2m2 0h2m3 0h2m14 0h2m17 0h2m-182 1h2m19 0h2m0 0h2m6 0h2m22 0h2m6 0h2m14 0h2m7 0h2m15 0h2m1 0h2m1 0h2m22 0h2m14 0h2m0 0h2m17 0h2m0 0h2m4 0h2m3 0h2m-116 1h2m9 0h2m9 0h2m24 0h2m0 0h2m23 0h2m8 0h2m12 0h2m4 0h2m-1 0h2m-176 1h2m0 0h2m16 0h2m38 0h2m0 0h2m0 0h2m20 0h2m7 0h2m0 0h2m8 0h2m2 0h2m4 0h2m3 0h2m2 0h2m10 0h2m2 0h2m8 0h2m6 0h2m10 0h2m-185 1h2m5 0h2m74 0h2m27 0h2m6 0h2m-120 1h2m2 0h2m1 0h2m2 0h2m4 0h2m2 0h2m44 0h2m2 0h2m2 0h2m14 0h2m1 0h2m1 0h2m1 0h2m4 0h2m4 0h2m-1 0h2m18 0h2m6 0h2m8 0h2m8 0h2m8 0h2m2 0h2m2 0h2m3 0h2m-181 1h2m79 0h2m13 0h2m1 0h2m2 0h2m7 0h2m3 0h2m-124 1h2m5 0h2m32 0h2m6 0h2m2 0h2m12 0h2m2 0h2m11 0h2m29 0h2m30 0h2m0 0h2m12 0h2m20 0h2m-197 1h2m197 0h2m-180 1h2m54 0h2m4 0h2m1 0h2m28 0h2m9 0h2m14 0h2m0 0h2m4 0h2m47 0h2m-1 0h2m-105 1h2m0 0h2m10 0h2m4 0h2m83 0h2m-200 1h2m5 0h2m-1 0h2m52 0h2m8 0h2m31 0h2m-1 0h2m0 0h2m14 0h2m-123 1h2m77 0h2m3 0h2m6 0h2m14 0h2m2 0h2m-33 1h2m30 0h2m26 0h2m-140 1h2m83 0h2m10 0h2m90 0h2m-200 1h2m0 0h2m7 0h2m2 0h2m6 0h2m12 0h2m0 0h2m20 0h2m6 0h2m18 0h2m19 0h2m19 0h2m0 0h2m-53 1h2m4 0h2m17 0h2m3 0h2m-111 1h2m46 0h2m20 0h2m11 0h2m4 0h2m5 0h2m1 0h2m98 0h2m-1 0h2m-118 1h2m-89 1h2m15 0h2m8 0h2m0 0h2m52 0h2m2 0h2m56 0h2m55 0h2m-103 1h2m1 0h2m93 0h2m-199 1h2m2 0h2m57 0h2m6 0h2m25 0h2m3 0h2m42 0h2m-153 1h2m95 0h2m7 0h2m96 0h2m-208 1h2m1 0h2m1 0h2m53 0h2m21 0h2m0 0h2m6 0h2m8 0h2m1 0h2m95 0h2m-205 1h2m84 0h2m-12 1h2m5 0h2m35 0h2m76 0h2m-109 1h2m9 0h2m-101 1h2m19 0h2m20 0h2m39 0h2m-1 0h2m2 0h2m3 0h2m100 0h2m-117 1h2m5 0h2m8 0h2m-85 1h2m4 0h2m2 0h2m6 0h2m24 0h2m2 0h2m31 0h2m9 0h2m4 0h2m84 0h2m-126 1h2m2 0h2m12 0h2m98 0h2m1 0h2m-192 1h2m0 0h2m1 0h2m8 0h2m14 0h2m36 0h2m3 0h2m7 0h2m1 0h2m93 0h2m-121 1h2m1 0h2m5 0h2m4 0h2m2 0h2m106 0h2m-198 1h2m0 0h2m6 0h2m1 0h2m4 0h2m10 0h2m16 0h2m8 0h2m10 0h2m4 0h2m15 0h2m7 0h2m2 0h2m80 0h2m3 0h2m-199 1h2m6 0h2m0 0h2m55 0h2m125 0h2m-186 1h2m4 0h2m34 0h2m28 0h2m8 0h2m28 0h2m-124 1h2m2 0h2m1 0h2m3 0h2m63 0h2m20 0h2m90 0h2m2 0h2m-189 1h2m10 0h2m6 0h2m20 0h2m4 0h2m6 0h2m25 0h2m13 0h2m81 0h2m-1 0h2m-185 1h2m65 0h2m19 0h2m3 0h2m-100 1h2m20 0h2m0 0h2m29 0h2m24 0h2m25 0h2m72 0h2m0 0h2m1 0h2m-1 0h2m-177 1h2m36 0h2m4 0h2m38 0h2m-94 1h2m1 0h2m1 0h2m1 0h2m18 0h2m8 0h2m0 0h2m14 0h2m118 0h2m-130 1h2m9 0h2m-1 0h2m1 0h2m15 0h2m96 0h2m0 0h2m4 0h2m-188 1h2m0 0h2m14 0h2m0 0h2m2 0h2m27 0h2m-1 0h2m25 0h2m-1 0h2m8 0h2m78 0h2m0 0h2m-172 1h2m1 0h2m4 0h2m-1 0h2m21 0h2m-1 0h2m6 0h2m10 0h2m11 0h2m-71 1h2m17 0h2m11 0h2m4 0h2m3 0h2m13 0h2m6 0h2m6 0h2m-63 1h2m0 0h2m28 0h2m0 0h2m15 0h2m10 0h2m-60 1h2m17 0h2m27 0h2m1 0h2m19 0h2m0 0h2m6 0h2m74 0h2m-171 1h2m12 0h2m28 0h2m20 0h2m3 0h2m94 0h2m-179 1h2m6 0h2m2 0h2m0 0h2m12 0h2m0 0h2m36 0h2m21 0h2m-68 1h2m8 0h2m1 0h2m2 0h2m8 0h2m32 0h2m-65 1h2m31 0h2m18 0h2m8 0h2m3 0h2m77 0h2m5 0h2m-179 1h2m14 0h2m20 0h2m12 0h2m30 0h2m4 0h2m17 1h2m50 0h2m7 0h2m-151 1h2m14 0h2m7 0h2m12 0h2m5 0h2m14 0h2m2 0h2m85 0h2m-165 1h2m49 0h2m12 0h2m3 0h2m16 0h2m2 0h2m56 0h2m-144 1h2m47 0h2m10 0h2m5 0h2m77 0h2m-95 1h2m5 0h2m0 0h2m5 0h2m-72 1h2m56 0h2m85 0h2m-101 1h2m19 0h2m69 0h2m7 0h2m-92 2h2m0 0h2m21 0h2m2 0h2m-100 1h2m77 0h2m70 0h2m-90 1h2m9 0h2m10 0h2m63 0h2m-100 1h2m9 0h2m1 0h2m79 0h2m-72 1h2m10 0h2m6 0h2m49 0h2m-97 1h2m15 0h2m-1 0h2m20 1h2m2 0h2m50 0h2m-83 1h2m3 0h2m1 0h2m-60 1h2m41 0h2m9 0h2m6 0h2m4 0h2m3 0h2m46 0h2m-132 1h2m57 0h2m5 0h2m1 0h2m69 0h2m-146 1h2m7 0h2m54 0h2m7 0h2m8 0h2m46 0h2m1 0h2m-1 0h2m0 0h2m-130 1h2m30 0h2m15 0h2m9 0h2m-75 1h2m3 0h2m6 0h2m6 0h2m4 0h2m10 0h2m16 0h2m3 0h2m-1 0h2m12 0h2m2 0h2m55 0h2m2 0h2m-137 1h2m6 0h2m3 0h2m1 0h2m25 0h2m14 0h2m-1 0h2m66 0h2m-149 1h2m7 0h2m8 0h2m0 0h2m51 0h2m2 0h2m19 0h2m42 0h2m4 0h2m-158 1h2m6 0h2m8 0h2m25 0h2m1 0h2m11 0h2m-60 1h2m6 0h2m3 0h2m0 0h2m2 0h2m16 0h2m1 0h2m23 0h2m11 0h2m5 0h2m2 0h2m4 0h2m8 0h2m34 0h2m0 0h2m10 0h2m-151 1h2m47 0h2m5 0h2m-1 0h2m7 0h2m-59 1h2m0 0h2m16 0h2m4 0h2m15 0h2m8 0h2m21 0h2m6 0h2m-102 1h2m52 0h2m5 0h2m0 0h2m-1 0h2m7 0h2m73 0h2m-100 1h2m2 0h2m7 0h2m-66 1h2m60 0h2m4 0h2m1 0h2m-75 1h2m67 0h2m12 0h2m18 0h2m-107 1h2m4 0h2m-6 1h2m65 0h2m-72 1h2m-4 1h2m86 0h2m56 0h2m1 0h2m-1 1h2m-146 1h2m2 0h2m133 0h2m-146 1h2m146 0h2m0 0h2m0 0h2m-161 1h2m3 0h2m139 0h2m-145 1h2m-3 2h2m136 1h2m10 0h2m-152 2h2m136 0h2m15 0h2m-8 1h2m3 1h2m-11 2h2m-1 0h2m1 0h2m-9 1h2m-8 1h2m2 0h2m5 1h2m4 0h2m-1 0h2m-156 1h2m143 1h2m-13 1h2m9 1h2m7 0h2m-156 1h2m134 0h2m8 0h2m3 0h2m1 0h2m-22 2h2m16 0h2m-150 2h2m139 0h2m-1 2h2m2 0h2m-146 2h2m139 0h2m0 0h2m4 0h2m-12 1h2m-148 1h2m5 0h2m106 0h2m12 0h2m8 0h2m1 0h2m2 0h2m2 0h2m3 0h2m-26 2h2m8 0h2m2 0h2m-146 1h2m131 0h2m-1 0h2m1 0h2m-140 1h2m7 0h2m74 0h2m38 0h2m23 0h2m-147 1h2m74 1h2m40 0h2m9 0h2m10 0h2m0 0h2m-10 1h2m1 0h2m9 0h2m-133 1h2m107 1h2m6 0h2m-127 1h2m18 0h2m16 0h2m22 0h2m2 0h2m12 0h2m-84 1h2m104 0h2m1 0h2m0 0h2m5 0h2m0 0h2m-131 1h2m0 0h2m3 0h2m6 0h2m8 0h2m12 0h2m16 0h2m4 0h2m11 0h2m8 0h2m-1 0h2m13 0h2m4 0h2m-1 0h2m1 0h2m8 0h2m-111 1h2m55 0h2m20 0h2m26 0h2m4 0h2m-117 1h2m20 0h2m4 0h2m12 0h2m48 0h2m26 0h2m-119 1h2m7 0h2m2 0h2m36 0h2m23 0h2m-1 0h2m12 0h2m0 0h2m3 0h2m6 0h2" stroke="#6262ff" stroke-width="2" fill="none"/><path d="M1458 117h2m21 0h2m-24 2h2m12 0h2m-24 1h2m3 0h2m17 0h2m-33 1h2m7 0h2m16 0h2m1 0h2m-16 1h2m8 0h2m-13 1h2m6 0h2m-18 1h2m19 0h2m-25 1h2m4 0h2m6 0h2m2 0h2m0 0h2m11 0h2m1 1h2m-48 1h2m0 0h2m2 0h2m0 0h2m0 0h2m2 0h2m4 0h2m2 0h2m0 0h2m8 0h2m3 0h2m-45 1h2m0 1h2m8 0h2m2 0h2m2 0h2m4 0h2m0 0h2m6 0h2m0 0h2m12 0h2m-9 1h2m2 0h2m-43 1h2m4 0h2m0 0h2m0 0h2m4 0h2m6 0h2m2 0h2m0 0h2m0 0h2m8 0h2m-51 1h2m43 0h2m89 0h2m-139 1h2m0 0h2m2 0h2m0 0h2m2 0h2m2 0h2m2 0h2m4 0h2m4 0h2m4 0h2m-45 1h2m54 0h2m-1 0h2m1 0h2m-59 1h2m2 0h2m6 0h2m2 0h2m14 0h2m0 0h2m2 0h2m4 0h2m11 0h2m63 0h2m5 0h2m-18 1h2m-113 1h2m4 0h2m0 0h2m0 0h2m0 0h2m6 0h2m2 0h2m0 0h2m0 0h2m4 0h2m16 0h2m65 0h2m1 0h2m-17 1h2m4 0h2m-1 0h2m17 0h2m-139 1h2m0 0h2m12 0h2m2 0h2m0 0h2m0 0h2m6 0h2m0 0h2m0 0h2m2 0h2m2 0h2m2 0h2m67 0h2m-1 0h2m23 0h2m9 0h2m-103 1h2m1 0h2m62 0h2m3 0h2m-135 1h2m0 0h2m0 0h2m4 0h2m0 0h2m0 0h2m6 0h2m2 0h2m12 0h2m8 0h2m0 0h2m4 0h2m64 0h2m9 0h2m30 0h2m-174 1h2m1 0h2m107 0h2m48 0h2m-163 1h2m2 0h2m0 0h2m0 0h2m12 0h2m6 0h2m0 0h2m0 0h2m0 0h2m4 0h2m0 0h2m2 0h2m0 0h2m6 0h2m2 0h2m0 0h2m0 0h2m54 0h2m6 0h2m6 0h2m9 0h2m-80 1h2m62 0h2m13 0h2m3 0h2m-155 1h2m2 0h2m2 0h2m10 0h2m6 0h2m0 0h2m8 0h2m0 0h2m0 0h2m2 0h2m2 0h2m0 0h2m0 0h2m8 0h2m79 0h2m-1 0h2m3 0h2m9 0h2m-88 1h2m56 0h2m0 0h2m18 0h2m3 0h2m4 0h2m1 0h2m-170 1h2m0 0h2m0 0h2m0 0h2m2 0h2m8 0h2m2 0h2m0 0h2m2 0h2m0 0h2m2 0h2m0 0h2m4 0h2m4 0h2m4 0h2m0 0h2m35 0h2m10 0h2m15 0h2m2 0h2m0 0h2m0 0h2m0 0h2m3 0h2m15 0h2m-164 1h2m70 0h2m47 0h2m24 0h2m5 0h2m0 0h2m-159 1h2m9 0h2m12 0h2m0 0h2m2 0h2m16 0h2m0 0h2m0 0h2m0 0h2m2 0h2m6 0h2m37 0h2m17 0h2m4 0h2m0 0h2m0 0h2m4 0h2m2 0h2m10 0h2m0 0h2m8 0h2m4 0h2m-181 1h2m72 0h2m4 0h2m35 0h2m34 0h2m0 0h2m18 0h2m-172 1h2m12 0h2m8 0h2m0 0h2m2 0h2m18 0h2m4 0h2m6 0h2m2 0h2m46 0h2m2 0h2m8 0h2m2 0h2m12 0h2m0 0h2m2 0h2m4 0h2m2 0h2m2 0h2m-69 1h2m4 0h2m-109 1h2m4 0h2m0 0h2m0 0h2m2 0h2m4 0h2m6 0h2m6 0h2m0 0h2m2 0h2m6 0h2m0 0h2m0 0h2m0 0h2m8 0h2m30 0h2m1 0h2m1 0h2m3 0h2m5 0h2m0 0h2m6 0h2m0 0h2m0 0h2m10 0h2m0 0h2m2 0h2m2 0h2m6 0h2m12 0h2m3 0h2m-110 1h2m38 0h2m-118 1h2m-1 0h2m6 0h2m0 0h2m4 0h2m4 0h2m0 0h2m0 0h2m4 0h2m0 0h2m2 0h2m2 0h2m6 0h2m6 0h2m0 0h2m4 0h2m36 0h2m2 0h2m8 0h2m0 0h2m0 0h2m14 0h2m2 0h2m0 0h2m0 0h2m2 0h2m2 0h2m6 0h2m4 0h2m-98 1h2m-70 1h2m6 0h2m2 0h2m6 0h2m0 0h2m4 0h2m6 0h2m12 0h2m2 0h2m4 0h2m3 0h2m32 0h2m4 0h2m1 0h2m6 0h2m2 0h2m0 0h2m6 0h2m4 0h2m2 0h2m0 0h2m12 0h2m20 0h2m0 0h2m-192 1h2m74 0h2m-83 1h2m9 0h2m0 0h2m0 0h2m2 0h2m6 0h2m2 0h2m8 0h2m0 0h2m4 0h2m0 0h2m8 0h2m0 0h2m2 0h2m2 0h2m2 0h2m1 0h2m3 0h2m22 0h2m1 0h2m3 0h2m4 0h2m2 0h2m0 0h2m0 0h2m2 0h2m2 0h2m0 0h2m6 0h2m0 0h2m2 0h2m0 0h2m0 0h2m0 0h2m0 0h2m30 0h2m-197 1h2m3 0h2m1 0h2m1 0h2m94 0h2m5 0h2m0 0h2m-101 1h2m2 0h2m6 0h2m2 0h2m0 0h2m6 0h2m2 0h2m0 0h2m4 0h2m0 0h2m14 0h2m2 0h2m25 0h2m10 0h2m5 0h2m0 0h2m2 0h2m8 0h2m2 0h2m4 0h2m2 0h2m4 0h2m0 0h2m2 0h2m6 0h2m20 0h2m0 0h2m-120 1h2m5 0h2m9 0h2m14 0h2m-104 1h2m0 0h2m0 0h2m6 0h2m2 0h2m2 0h2m4 0h2m4 0h2m0 0h2m0 0h2m4 0h2m12 0h2m6 0h2m31 0h2m5 0h2m16 0h2m4 0h2m0 0h2m4 0h2m6 0h2m4 0h2m0 0h2m30 0h2m0 0h2m-122 1h2m1 0h2m28 0h2m0 0h2m-1 0h2m85 0h2m-191 1h2m10 0h2m0 0h2m6 0h2m4 0h2m2 0h2m2 0h2m2 0h2m6 0h2m4 0h2m2 0h2m0 0h2m2 0h2m4 0h2m17 0h2m10 0h2m1 0h2m2 0h2m4 0h2m6 0h2m8 0h2m6 0h2m6 0h2m-154 1h2m0 0h2m85 0h2m7 0h2m3 0h2m-99 1h2m0 0h2m0 0h2m0 0h2m0 0h2m2 0h2m2 0h2m2 0h2m2 0h2m2 0h2m0 0h2m12 0h2m2 0h2m6 0h2m13 0h2m12 0h2m15 0h2m2 0h2m16 0h2m4 0h2m0 0h2m0 0h2m44 0h2m0 0h2m-188 1h2m69 0h2m28 0h2m-105 1h2m2 0h2m4 0h2m0 0h2m0 0h2m8 0h2m0 0h2m2 0h2m2 0h2m6 0h2m2 0h2m0 0h2m4 0h2m0 0h2m0 0h2m19 0h2m-1 0h2m20 0h2m4 0h2m2 0h2m0 0h2m8 0h2m0 0h2m0 0h2m0 0h2m6 0h2m14 0h2m4 0h2m24 0h2m-192 1h2m92 0h2m-94 1h2m2 0h2m0 0h2m0 0h2m2 0h2m2 0h2m4 0h2m2 0h2m4 0h2m6 0h2m0 0h2m2 0h2m8 0h2m0 0h2m0 0h2m2 0h2m0 0h2m10 0h2m13 0h2m2 0h2m0 0h2m1 0h2m0 0h2m0 0h2m2 0h2m32 0h2m40 0h2m0 0h2m5 0h2m-195 1h2m96 0h2m91 0h2m-194 1h2m-1 0h2m18 0h2m0 0h2m0 0h2m8 0h2m2 0h2m0 0h2m0 0h2m0 0h2m0 0h2m6 0h2m2 0h2m0 0h2m32 0h2m2 0h2m10 0h2m4 0h2m4 0h2m2 0h2m14 0h2m42 0h2m-192 1h2m5 0h2m57 0h2m3 0h2m-1 0h2m1 0h2m15 0h2m6 0h2m-97 1h2m9 0h2m2 0h2m2 0h2m6 0h2m0 0h2m4 0h2m0 0h2m10 0h2m2 0h2m39 0h2m-1 0h2m10 0h2m6 0h2m0 0h2m2 0h2m6 0h2m24 0h2m22 0h2m-184 1h2m2 0h2m63 0h2m-67 1h2m8 0h2m6 0h2m2 0h2m6 0h2m2 0h2m0 0h2m0 0h2m4 0h2m2 0h2m2 0h2m48 0h2m4 0h2m12 0h2m6 0h2m2 0h2m0 0h2m42 0h2m-187 1h2m60 0h2m28 0h2m94 0h2m-191 1h2m16 0h2m4 0h2m6 0h2m2 0h2m0 0h2m2 0h2m4 0h2m0 0h2m0 0h2m0 0h2m3 0h2m37 0h2m6 0h2m0 0h2m0 0h2m4 0h2m2 0h2m4 0h2m12 0h2m0 0h2m0 0h2m-60 1h2m6 0h2m-82 1h2m2 0h2m4 0h2m0 0h2m4 0h2m0 0h2m0 0h2m0 0h2m0 0h2m2 0h2m13 0h2m1 0h2m32 0h2m0 0h2m2 0h2m0 0h2m2 0h2m14 0h2m2 0h2m6 0h2m44 0h2m-104 1h2m8 0h2m94 0h2m-183 1h2m5 0h2m6 0h2m6 0h2m0 0h2m6 0h2m8 0h2m4 0h2m7 0h2m25 0h2m0 0h2m8 0h2m2 0h2m6 0h2m4 0h2m2 0h2m0 0h2m0 0h2m8 0h2m-134 1h2m0 0h2m47 0h2m-46 1h2m7 0h2m0 0h2m4 0h2m0 0h2m0 0h2m2 0h2m0 0h2m7 0h2m5 0h2m29 0h2m-1 0h2m12 0h2m2 0h2m0 0h2m2 0h2m0 0h2m8 0h2m2 0h2m10 0h2m-135 1h2m2 0h2m49 0h2m27 0h2m-90 1h2m15 0h2m0 0h2m0 0h2m0 0h2m4 0h2m2 0h2m6 0h2m1 0h2m31 0h2m5 0h2m5 0h2m4 0h2m4 0h2m14 0h2m8 0h2m0 0h2m36 0h2m2 0h2m-121 1h2m30 0h2m-1 0h2m-82 1h2m12 0h2m2 0h2m0 0h2m0 0h2m3 0h2m5 0h2m46 0h2m8 0h2m0 0h2m0 0h2m0 0h2m4 0h2m10 0h2m2 0h2m0 0h2m36 0h2m10 0h2m-166 1h2m23 0h2m32 0h2m2 0h2m6 0h2m-1 0h2m86 0h2m-135 1h2m45 0h2m0 0h2m0 0h2m0 0h2m0 0h2m0 0h2m4 0h2m0 0h2m4 0h2m0 0h2m14 0h2m34 0h2m3 0h2m-166 1h2m2 0h2m69 0h2m0 0h2m-74 1h2m14 0h2m51 0h2m5 0h2m4 0h2m0 0h2m4 0h2m0 0h2m4 0h2m6 0h2m2 0h2m42 0h2m-165 1h2m5 0h2m10 0h2m15 0h2m3 0h2m0 0h2m38 0h2m81 0h2m-159 1h2m66 0h2m8 0h2m0 0h2m4 0h2m64 0h2m-138 1h2m12 0h2m122 0h2m-90 1h2m10 0h2m2 0h2m0 0h2m0 0h2m0 0h2m2 0h2m8 0h2m4 0h2m4 0h2m34 0h2m-87 1h2m85 0h2m-92 1h2m1 0h2m4 0h2m5 0h2m4 0h2m6 0h2m2 0h2m6 0h2m-45 1h2m12 0h2m5 1h2m14 0h2m6 0h2m6 0h2m26 0h2m0 0h2m6 0h2m-85 1h2m0 1h2m5 0h2m0 0h2m4 0h2m6 0h2m0 0h2m0 0h2m42 0h2m3 0h2m-76 2h2m1 0h2m0 0h2m0 0h2m2 0h2m0 0h2m2 0h2m0 0h2m26 0h2m16 0h2m0 0h2m-82 1h2m0 0h2m10 0h2m-11 1h2m8 0h2m5 0h2m0 0h2m2 0h2m55 0h2m-78 1h2m1 1h2m10 0h2m4 0h2m0 0h2m0 0h2m4 0h2m-26 1h2m67 0h2m-71 1h2m0 0h2m0 0h2m2 0h2m0 0h2m0 0h2m4 0h2m2 0h2m2 0h2m18 0h2m-57 1h2m8 1h2m3 0h2m0 0h2m2 0h2m2 0h2m40 0h2m3 0h2m-79 1h2m9 0h2m4 0h2m1 1h2m6 0h2m34 0h2m2 0h2m-70 1h2m10 0h2m-11 1h2m7 0h2m4 0h2m4 0h2m34 0h2m2 0h2m0 0h2m-63 1h2m1 0h2m-67 1h2m47 0h2m18 0h2m4 0h2m0 0h2m2 0h2m2 0h2m34 0h2m0 0h2m-91 1h2m29 0h2m-84 1h2m9 0h2m10 0h2m0 0h2m1 0h2m12 0h2m18 0h2m13 0h2m-1 0h2m0 0h2m0 0h2m0 0h2m10 0h2m36 0h2m-118 1h2m15 0h2m8 0h2m18 0h2m0 0h2m2 0h2m1 0h2m-75 1h2m15 0h2m0 0h2m0 0h2m0 0h2m7 0h2m2 0h2m-1 0h2m8 0h2m24 0h2m2 0h2m2 0h2m0 0h2m2 0h2m0 0h2m6 0h2m2 0h2m-102 1h2m36 0h2m17 0h2m6 0h2m2 0h2m-76 1h2m3 0h2m8 0h2m0 0h2m0 0h2m2 0h2m0 0h2m4 0h2m17 0h2m15 0h2m6 0h2m0 0h2m10 0h2m0 0h2m4 0h2m4 0h2m30 0h2m-136 1h2m39 0h2m25 0h2m67 0h2m-135 1h2m0 0h2m0 0h2m2 0h2m14 0h2m4 0h2m4 0h2m2 0h2m22 0h2m4 0h2m2 0h2m0 0h2m0 0h2m4 0h2m0 0h2m0 0h2m0 0h2m6 0h2m26 0h2m-68 1h2m73 0h2m-143 1h2m0 0h2m0 0h2m0 0h2m2 0h2m10 0h2m2 0h2m14 0h2m2 0h2m2 0h2m4 0h2m0 0h2m6 0h2m0 0h2m0 0h2m0 0h2m8 0h2m0 0h2m0 0h2m4 0h2m2 0h2m2 0h2m2 0h2m24 0h2m0 0h2m0 0h2m1 1h2m-155 1h2m8 0h2m2 0h2m0 0h2m20 0h2m10 0h2m14 0h2m0 0h2m6 0h2m0 0h2m0 0h2m6 0h2m0 0h2m4 0h2m4 0h2m4 0h2m2 0h2m6 0h2m6 0h2m12 0h2m4 0h2m4 0h2m-148 1h2m-4 1h2m0 0h2m2 0h2m0 0h2m0 0h2m32 0h2m16 0h2m0 0h2m2 0h2m10 0h2m4 0h2m24 0h2m2 0h2m-118 2h2m2 0h2m2 0h2m4 0h2m42 0h2m4 0h2m0 0h2m4 0h2m12 0h2m18 0h2m6 0h2m8 0h2m8 0h2m2 0h2m-142 1h2m142 0h2m-82 1h2m0 0h2m2 0h2m2 0h2m22 0h2m16 0h2m6 0h2m2 0h2m4 0h2m0 0h2m4 1h2m-146 1h2m0 0h2m0 0h2m2 0h2m60 0h2m8 0h2m46 0h2m2 0h2m2 0h2m0 0h2m0 0h2m1 0h2m0 1h2m-149 1h2m0 0h2m0 0h2m0 0h2m26 0h2m56 0h2m30 0h2m0 0h2m6 0h2m6 1h2m-144 1h2m4 0h2m0 0h2m0 0h2m84 0h2m24 0h2m0 0h2m14 0h2m-144 2h2m78 0h2m4 0h2m44 0h2m6 0h2m0 0h2m-144 2h2m2 0h2m64 0h2m60 0h2m2 0h2m2 0h2m-142 2h2m126 0h2m2 0h2m-4 2h2m4 0h2m0 0h2m0 0h2m0 0h2m-142 2h2m6 0h2m68 0h2m46 0h2m2 0h2m4 0h2m7 0h2m-1 1h2m-148 1h2m0 0h2m118 0h2m6 0h2m4 0h2m5 0h2m-149 2h2m0 0h2m0 0h2m6 0h2m100 0h2m12 0h2m8 0h2m8 1h2m-148 1h2m0 0h2m2 0h2m116 0h2m4 0h2m4 0h2m0 0h2m-136 2h2m112 0h2m12 0h2m2 0h2m0 0h2m0 0h2m3 0h2m-149 2h2m0 0h2m0 0h2m0 0h2m8 0h2m66 0h2m12 0h2m18 0h2m8 0h2m0 0h2m0 0h2m10 0h2m-6 1h2m-140 1h2m0 0h2m0 0h2m2 0h2m16 0h2m60 0h2m34 0h2m0 0h2m2 0h2m4 1h2m4 0h2m-138 1h2m0 0h2m0 0h2m0 0h2m2 0h2m0 0h2m2 0h2m4 0h2m62 0h2m8 0h2m2 0h2m12 0h2m4 0h2m0 0h2m9 1h2m1 0h2m-142 1h2m10 0h2m4 0h2m48 0h2m20 0h2m0 0h2m4 0h2m0 0h2m0 0h2m12 0h2m2 0h2m2 0h2m0 0h2m0 0h2m2 0h2m3 0h2m-1 0h2m2 0h2m-146 1h2m130 0h2m-131 1h2m0 0h2m3 0h2m2 0h2m0 0h2m4 0h2m2 0h2m8 0h2m0 0h2m14 0h2m4 0h2m0 0h2m6 0h2m2 0h2m16 0h2m2 0h2m6 0h2m2 0h2m2 0h2m0 0h2m2 0h2m5 1h2m-113 1h2m0 0h2m8 0h2m6 0h2m0 0h2m8 0h2m0 0h2m2 0h2m6 0h2m4 0h2m2 0h2m6 0h2m4 0h2m18 0h2m0 0h2m0 0h2m2 0h2m9 0h2m0 0h2m6 0h2m-128 1h2m118 0h2m-123 1h2m10 0h2m4 0h2m0 0h2m4 0h2m2 0h2m8 0h2m10 0h2m0 0h2m0 0h2m2 0h2m0 0h2m0 0h2m0 0h2m0 0h2m6 0h2m2 0h2m2 0h2m0 0h2m6 0h2m0 0h2m0 0h2m0 0h2m4 0h2m3 0h2m-4 1h2m-96 1h2m3 0h2m2 0h2m0 0h2m4 0h2m0 0h2m2 0h2m0 0h2m2 0h2m2 0h2m2 0h2m4 0h2m8 0h2m17 0h2m3 0h2m2 0h2m4 0h2m-27 1h2m-1 0h2m1 0h2m18 0h2m-97 1h2m20 0h2m2 0h2m0 0h2m2 0h2m4 0h2m0 0h2m0 0h2m6 0h2m12 0h2m1 0h2m4 0h2m-1 0h2m3 0h2m8 0h2m-42 1h2m35 0h2" stroke="#3a3aff" stroke-width="2" fill="none"/><path d="M1463 121h2m-2 2h2m9 0h2m-25 2h2m0 0h2m2 0h2m6 0h2m4 2h2m-26 2h2m18 0h2m0 0h2m0 0h2m-31 1h2m43 0h2m-46 1h2m4 0h2m0 2h2m8 0h2m10 0h2m2 0h2m2 0h2m-46 2h2m6 0h2m12 0h2m2 0h2m0 0h2m4 0h2m-40 2h2m16 0h2m0 0h2m0 0h2m2 0h2m14 0h2m-48 2h2m6 0h2m8 0h2m10 0h2m10 0h2m6 0h2m-50 2h2m8 0h2m6 0h2m2 0h2m0 0h2m12 0h2m-24 2h2m24 0h2m87 0h2m-135 2h2m4 0h2m8 0h2m0 0h2m6 0h2m0 0h2m0 0h2m20 0h2m2 0h2m86 0h2m-19 1h2m-135 1h2m10 0h2m8 0h2m22 0h2m4 0h2m67 1h2m-119 1h2m0 0h2m2 0h2m2 0h2m0 0h2m2 0h2m14 0h2m0 0h2m0 0h2m12 0h2m106 0h2m-162 2h2m4 0h2m8 0h2m10 0h2m0 0h2m0 0h2m0 0h2m8 0h2m2 0h2m6 0h2m74 0h2m2 0h2m2 0h2m0 0h2m8 0h2m0 0h2m-148 2h2m4 0h2m4 0h2m22 0h2m62 0h2m0 0h2m8 0h2m20 0h2m2 0h2m4 0h2m0 0h2m2 0h2m4 0h2m-162 2h2m14 0h2m10 0h2m6 0h2m4 0h2m8 0h2m58 0h2m0 0h2m4 0h2m22 0h2m16 0h2m0 0h2m0 0h2m0 0h2m-180 2h2m4 0h2m10 0h2m6 0h2m0 0h2m2 0h2m2 0h2m2 0h2m2 0h2m0 0h2m6 0h2m52 0h2m6 0h2m12 0h2m2 0h2m10 0h2m2 0h2m0 0h2m2 0h2m2 0h2m6 0h2m0 0h2m0 0h2m0 0h2m0 0h2m-170 2h2m0 0h2m0 0h2m8 0h2m8 0h2m0 0h2m10 0h2m12 0h2m56 0h2m32 0h2m0 0h2m0 0h2m0 0h2m2 0h2m-166 2h2m4 0h2m10 0h2m8 0h2m2 0h2m6 0h2m8 0h2m2 0h2m66 0h2m4 0h2m4 0h2m2 0h2m2 0h2m6 0h2m2 0h2m0 0h2m10 0h2m0 0h2m6 0h2m0 0h2m-189 2h2m13 0h2m12 0h2m2 0h2m20 0h2m0 0h2m0 0h2m2 0h2m52 0h2m0 0h2m0 0h2m2 0h2m12 0h2m10 0h2m0 0h2m4 0h2m4 0h2m20 0h2m-185 1h2m-7 1h2m8 0h2m2 0h2m10 0h2m4 0h2m2 0h2m2 0h2m2 0h2m12 0h2m8 0h2m38 0h2m2 0h2m8 0h2m0 0h2m4 0h2m0 0h2m10 0h2m2 0h2m0 0h2m0 0h2m2 0h2m0 0h2m0 0h2m0 0h2m10 0h2m14 0h2m0 0h2m-168 2h2m2 0h2m2 0h2m6 0h2m0 0h2m0 0h2m18 0h2m2 0h2m34 0h2m8 0h2m2 0h2m0 0h2m0 0h2m0 0h2m8 0h2m8 0h2m2 0h2m8 0h2m30 0h2m-184 2h2m10 0h2m0 0h2m8 0h2m2 0h2m2 0h2m2 0h2m6 0h2m6 0h2m2 0h2m32 0h2m6 0h2m10 0h2m0 0h2m0 0h2m10 0h2m4 0h2m0 0h2m0 0h2m0 0h2m32 0h2m6 0h2m-124 1h2m32 0h2m-94 1h2m8 0h2m6 0h2m4 0h2m2 0h2m4 0h2m4 0h2m0 0h2m19 0h2m39 0h2m2 0h2m0 0h2m0 0h2m4 0h2m0 0h2m2 0h2m4 0h2m0 0h2m2 0h2m6 0h2m-148 2h2m10 0h2m8 0h2m18 0h2m0 0h2m0 0h2m48 0h2m0 0h2m0 0h2m10 0h2m4 0h2m8 0h2m4 0h2m30 0h2m10 0h2m-176 2h2m10 0h2m10 0h2m27 0h2m37 0h2m0 0h2m6 0h2m6 0h2m4 0h2m0 0h2m2 0h2m2 0h2m2 0h2m2 0h2m2 0h2m0 0h2m30 0h2m-176 2h2m8 0h2m6 0h2m0 0h2m4 0h2m8 0h2m54 0h2m0 0h2m2 0h2m0 0h2m2 0h2m0 0h2m2 0h2m0 0h2m0 0h2m4 0h2m4 0h2m4 0h2m4 0h2m10 0h2m18 0h2m-170 2h2m4 0h2m18 0h2m2 0h2m72 0h2m4 0h2m2 0h2m0 0h2m6 0h2m12 0h2m6 0h2m20 0h2m-172 2h2m2 0h2m2 0h2m6 0h2m18 0h2m0 0h2m54 0h2m4 0h2m12 0h2m4 0h2m10 0h2m34 0h2m-173 1h2m7 1h2m6 0h2m4 0h2m0 0h2m6 0h2m2 0h2m56 0h2m2 0h2m0 0h2m4 0h2m0 0h2m2 0h2m6 0h2m0 0h2m2 0h2m2 0h2m6 0h2m8 0h2m8 0h2m4 0h2m0 0h2m0 0h2m-164 2h2m10 0h2m14 0h2m54 0h2m14 0h2m4 0h2m2 0h2m4 0h2m0 0h2m2 0h2m6 0h2m8 0h2m14 0h2m0 0h2m0 0h2m-162 2h2m74 0h2m2 0h2m4 0h2m0 0h2m2 0h2m2 0h2m4 0h2m4 0h2m0 0h2m2 0h2m6 0h2m30 0h2m-76 2h2m0 0h2m0 0h2m8 0h2m0 0h2m4 0h2m4 0h2m8 0h2m-89 1h2m-14 1h2m45 0h2m6 0h2m20 0h2m0 0h2m6 0h2m0 0h2m0 0h2m4 0h2m14 0h2m14 0h2m2 0h2m8 0h2m-96 1h2m16 1h2m14 0h2m0 0h2m2 0h2m2 0h2m0 0h2m2 0h2m-22 2h2m6 0h2m0 0h2m0 0h2m-103 1h2m83 1h2m0 0h2m0 0h2m0 0h2m2 0h2m0 0h2m10 0h2m2 0h2m18 0h2m4 0h2m-70 2h2m4 0h2m0 0h2m0 0h2m8 0h2m0 0h2m34 0h2m2 0h2m-50 2h2m0 0h2m4 0h2m0 0h2m4 0h2m8 0h2m14 0h2m0 0h2m0 0h2m-66 2h2m10 0h2m2 0h2m8 0h2m0 0h2m0 0h2m0 0h2m2 0h2m24 0h2m-58 2h2m4 0h2m4 0h2m0 0h2m4 0h2m0 0h2m0 0h2m28 0h2m-66 2h2m22 0h2m2 0h2m32 0h2m0 0h2m0 0h2m0 0h2m-62 2h2m6 0h2m6 0h2m4 0h2m0 0h2m20 0h2m6 0h2m0 0h2m-70 2h2m22 0h2m2 0h2m28 0h2m0 0h2m2 0h2m0 0h2m3 0h2m-67 1h2m4 1h2m14 0h2m26 0h2m-56 1h2m5 1h2m9 0h2m2 0h2m0 0h2m0 0h2m0 0h2m0 0h2m22 0h2m-38 2h2m2 0h2m14 0h2m-2 2h2m10 0h2m2 0h2m-50 2h2m10 0h2m24 0h2m2 0h2m0 0h2m2 0h2m-130 2h2m2 0h2m0 0h2m0 0h2m74 0h2m0 0h2m8 0h2m24 0h2m-122 2h2m68 0h2m10 0h2m30 0h2m2 0h2m0 0h2m-124 2h2m4 0h2m2 0h2m2 0h2m6 0h2m4 0h2m30 0h2m14 0h2m8 0h2m0 0h2m0 0h2m2 0h2m0 0h2m0 0h2m2 0h2m0 0h2m12 0h2m-132 1h2m48 0h2m1 0h2m13 0h2m-72 1h2m30 0h2m2 0h2m0 0h2m2 0h2m34 0h2m2 0h2m6 0h2m0 0h2m10 0h2m6 0h2m0 0h2m2 0h2m6 0h2m-130 2h2m22 0h2m4 0h2m10 0h2m2 0h2m0 0h2m0 0h2m0 0h2m6 0h2m12 0h2m6 0h2m2 0h2m0 0h2m4 0h2m2 0h2m2 0h2m2 0h2m2 0h2m6 0h2m6 0h2m0 0h2m4 0h2m-104 2h2m14 0h2m0 0h2m0 0h2m10 0h2m2 0h2m2 0h2m2 0h2m10 0h2m0 0h2m4 0h2m2 0h2m12 0h2m2 0h2m4 0h2m0 0h2m0 0h2m2 0h2m-106 2h2m6 0h2m8 0h2m6 0h2m6 0h2m0 0h2m8 0h2m0 0h2m0 0h2m2 0h2m4 0h2m0 0h2m0 0h2m2 0h2m12 0h2m4 0h2m-128 2h2m0 0h2m0 0h2m0 0h2m0 0h2m4 0h2m36 0h2m2 0h2m0 0h2m4 0h2m4 0h2m2 0h2m2 0h2m4 0h2m0 0h2m2 0h2m0 0h2m10 0h2m0 0h2m2 0h2m10 0h2m0 0h2m6 0h2m-120 2h2m0 0h2m30 0h2m28 0h2m14 0h2m0 0h2m2 0h2m0 0h2m8 0h2m4 0h2m6 0h2m2 0h2m-133 1h2m-5 1h2m8 0h2m2 0h2m50 0h2m0 0h2m2 0h2m2 0h2m0 0h2m6 0h2m32 0h2m2 0h2m14 0h2m0 0h2m-140 2h2m0 0h2m58 0h2m6 0h2m6 0h2m2 0h2m4 0h2m26 0h2m8 0h2m4 0h2m2 0h2m5 0h2m-145 2h2m0 0h2m0 0h2m0 0h2m44 0h2m18 0h2m0 0h2m8 0h2m10 0h2m16 0h2m2 0h2m2 0h2m0 0h2m6 0h2m-130 2h2m6 0h2m56 0h2m0 0h2m22 0h2m4 0h2m18 0h2m2 0h2m-130 2h2m0 0h2m0 0h2m62 0h2m40 0h2m6 0h2m4 0h2m2 0h2m6 0h2m-142 2h2m4 0h2m8 0h2m50 0h2m34 0h2m4 0h2m4 0h2m6 0h2m8 0h2m-136 2h2m4 0h2m10 0h2m4 0h2m100 0h2m4 0h2m4 0h2m5 0h2m-147 2h2m12 0h2m4 0h2m8 0h2m34 0h2m12 0h2m10 0h2m26 0h2m8 0h2m4 0h2m4 0h2m-138 2h2m2 0h2m8 0h2m56 0h2m10 0h2m0 0h2m12 0h2m8 0h2m8 0h2m4 0h2m6 0h2m-126 2h2m4 0h2m4 0h2m0 0h2m70 0h2m8 0h2m0 0h2m0 0h2m6 0h2m2 0h2m6 0h2m-130 2h2m4 0h2m0 0h2m26 0h2m28 0h2m0 0h2m4 0h2m2 0h2m2 0h2m6 0h2m0 0h2m2 0h2m8 0h2m8 0h2m0 0h2m0 0h2m6 0h2m-126 2h2m10 0h2m16 0h2m38 0h2m2 0h2m0 0h2m2 0h2m2 0h2m8 0h2m4 0h2m20 0h2m0 0h2m0 0h2m-128 2h2m0 0h2m8 0h2m6 0h2m4 0h2m26 0h2m8 0h2m6 0h2m6 0h2m14 0h2m10 0h2m2 0h2m-98 2h2m4 0h2m24 0h2m4 0h2m6 0h2m6 0h2m0 0h2m6 0h2m6 0h2m14 0h2m0 0h2m-112 2h2m4 0h2m2 0h2m4 0h2m8 0h2m4 0h2m6 0h2m2 0h2m8 0h2m4 0h2m0 0h2m12 0h2m2 0h2m2 0h2m4 0h2m8 0h2m2 0h2m0 0h2m-107 2h2m9 0h2m0 0h2m10 0h2m8 0h2m0 0h2m18 0h2m2 0h2m8 0h2m2 0h2m0 0h2m0 0h2m6 0h2m4 0h2m0 0h2m16 0h2m-110 2h2m6 0h2m2 0h2m2 0h2m0 0h2m8 0h2m0 0h2m6 0h2m2 0h2m0 0h2m0 0h2m2 0h2m0 0h2m6 0h2m2 0h2m2 0h2m6 0h2m2 0h2m0 0h2m0 0h2m16 0h2m0 0h2m1 0h2m-110 1h2m7 1h2m6 0h2m0 0h2m6 0h2m2 0h2m0 0h2m10 0h2m6 0h2m18 0h2m10 0h2m0 0h2m8 1h2m-74 1h2m24 0h2m4 0h2m7 0h2m-33 2h2m10 0h2m6 0h2m-36 1h2m54 0h2" stroke="#2a5cff" stroke-width="2" fill="none"/><path d="M1451 129h2m4 2h2m8 0h2m-14 2h2m-14 2h2m8 0h2m0 0h2m10 2h2m-38 2h2m12 0h2m14 0h2m12 0h2m-34 2h2m12 0h2m0 0h2m0 0h2m-30 2h2m2 0h2m2 0h2m6 0h2m-12 2h2m2 2h2m10 2h2m8 0h2m-6 2h2m2 0h2m8 0h2m66 0h2m48 0h2m-158 2h2m8 0h2m2 0h2m2 0h2m84 0h2m0 0h2m42 0h2m2 0h2m-107 1h2m-57 1h2m30 0h2m92 0h2m16 0h2m0 0h2m-156 2h2m2 0h2m6 0h2m2 0h2m12 0h2m28 0h2m48 0h2m46 0h2m14 0h2m-164 2h2m8 0h2m16 0h2m10 0h2m72 0h2m6 0h2m24 0h2m2 0h2m2 0h2m2 0h2m0 0h2m-144 2h2m6 0h2m84 0h2m24 0h2m4 0h2m0 0h2m6 0h2m0 0h2m-158 2h2m14 0h2m4 0h2m0 0h2m12 0h2m56 0h2m36 0h2m-156 2h2m6 0h2m38 0h2m84 0h2m20 0h2m2 0h2m0 0h2m16 0h2m-140 2h2m2 0h2m6 0h2m64 0h2m0 0h2m2 0h2m16 0h2m0 0h2m6 0h2m0 0h2m0 0h2m0 0h2m16 0h2m-180 2h2m10 0h2m8 0h2m86 0h2m34 0h2m2 0h2m-146 2h2m38 0h2m60 0h2m8 0h2m4 0h2m2 0h2m10 0h2m0 0h2m0 0h2m4 0h2m18 0h2m4 0h2m-174 2h2m14 0h2m4 0h2m78 0h2m6 0h2m14 0h2m10 0h2m12 0h2m6 0h2m4 0h2m4 0h2m-180 2h2m18 0h2m14 0h2m0 0h2m54 0h2m24 0h2m8 0h2m2 0h2m6 0h2m6 0h2m28 0h2m-170 2h2m24 0h2m72 0h2m8 0h2m16 0h2m2 0h2m24 0h2m0 0h2m-160 2h2m90 0h2m16 0h2m0 0h2m10 0h2m0 0h2m20 0h2m2 0h2m2 0h2m0 0h2m-152 2h2m82 0h2m22 0h2m0 0h2m10 0h2m4 0h2m4 0h2m4 0h2m0 0h2m2 0h2m0 0h2m-46 2h2m8 0h2m24 0h2m0 0h2m-64 2h2m38 0h2m18 0h2m-144 2h2m84 0h2m4 0h2m14 0h2m6 0h2m14 0h2m4 0h2m0 0h2m-54 2h2m2 0h2m0 0h2m4 0h2m24 0h2m4 0h2m2 0h2m0 0h2m-62 2h2m22 0h2m10 0h2m6 0h2m8 0h2m0 0h2m8 0h2m-62 2h2m18 0h2m22 0h2m4 0h2m2 0h2m0 0h2m-60 2h2m0 0h2m4 0h2m0 0h2m10 0h2m4 0h2m0 0h2m14 0h2m4 0h2m-58 2h2m20 0h2m2 0h2m16 0h2m0 0h2m-40 2h2m44 0h2m-68 2h2m20 0h2m28 0h2m-42 2h2m18 0h2m22 0h2m4 0h2m-28 2h2m10 0h2m-34 2h2m2 0h2m6 0h2m6 0h2m12 0h2m-32 2h2m6 0h2m22 0h2m0 0h2m-30 2h2m24 0h2m-38 2h2m4 0h2m0 0h2m16 0h2m4 0h2m0 0h2m-22 2h2m0 0h2m2 0h2m6 0h2m-34 2h2m2 0h2m0 0h2m-20 2h2m8 0h2m2 0h2m16 0h2m2 0h2m2 0h2m-34 2h2m2 0h2m4 0h2m2 0h2m-88 2h2m72 0h2m8 0h2m0 0h2m14 0h2m7 0h2m-37 2h2m0 0h2m20 0h2m-116 2h2m2 0h2m2 0h2m6 0h2m4 0h2m72 0h2m4 0h2m0 0h2m2 0h2m2 0h2m4 0h2m-118 2h2m0 0h2m-16 2h2m16 0h2m10 0h2m2 0h2m34 0h2m22 0h2m8 0h2m8 0h2m-128 2h2m6 0h2m2 0h2m0 0h2m16 0h2m2 0h2m58 0h2m6 0h2m0 0h2m2 0h2m6 0h2m2 0h2m0 0h2m6 0h2m-128 2h2m10 0h2m0 0h2m2 0h2m8 0h2m16 0h2m4 0h2m26 0h2m26 0h2m10 0h2m4 0h2m-130 2h2m2 0h2m6 0h2m0 0h2m10 0h2m2 0h2m2 0h2m6 0h2m4 0h2m0 0h2m16 0h2m14 0h2m0 0h2m2 0h2m4 0h2m4 0h2m0 0h2m2 0h2m20 0h2m-134 2h2m6 0h2m0 0h2m4 0h2m0 0h2m22 0h2m4 0h2m2 0h2m10 0h2m0 0h2m4 0h2m2 0h2m4 0h2m4 0h2m4 0h2m2 0h2m6 0h2m6 0h2m8 0h2m-128 2h2m2 0h2m8 0h2m4 0h2m0 0h2m12 0h2m6 0h2m6 0h2m4 0h2m2 0h2m6 0h2m4 0h2m8 0h2m4 0h2m2 0h2m0 0h2m0 0h2m4 0h2m2 0h2m6 0h2m2 0h2m-116 2h2m38 0h2m0 0h2m8 0h2m16 0h2m2 0h2m0 0h2m2 0h2m12 0h2m6 0h2m-40 2h2m10 0h2m0 0h2m2 0h2m2 0h2m16 0h2m8 0h2m-134 2h2m8 0h2m0 0h2m48 0h2m14 0h2m4 0h2m0 0h2m8 0h2m10 0h2m2 0h2m6 0h2m0 0h2m-118 2h2m2 0h2m12 0h2m54 0h2m4 0h2m6 0h2m26 0h2m16 0h2m-128 2h2m0 0h2m0 0h2m0 0h2m8 0h2m42 0h2m0 0h2m0 0h2m10 0h2m0 0h2m22 0h2m4 0h2m0 0h2m-114 2h2m50 0h2m16 0h2m2 0h2m2 0h2m4 0h2m4 0h2m10 0h2m0 0h2m0 0h2m-114 2h2m0 0h2m4 0h2m36 0h2m36 0h2m0 0h2m2 0h2m12 0h2m0 0h2m0 0h2m2 0h2m0 0h2m2 0h2m2 0h2m-118 2h2m38 0h2m4 0h2m6 0h2m14 0h2m0 0h2m4 0h2m22 0h2m0 0h2m12 0h2m-126 2h2m2 0h2m38 0h2m6 0h2m16 0h2m8 0h2m12 0h2m4 0h2m8 0h2m0 0h2m21 0h2m-143 2h2m18 0h2m28 0h2m8 0h2m14 0h2m6 0h2m16 0h2m2 0h2m-98 2h2m2 0h2m8 0h2m24 0h2m8 0h2m0 0h2m4 0h2m0 0h2m0 0h2m16 0h2m14 0h2m2 0h2m4 0h2m0 0h2m0 0h2m-106 2h2m0 0h2m6 0h2m18 0h2m8 0h2m2 0h2m14 0h2m0 0h2m2 0h2m6 0h2m8 0h2m4 0h2m-96 2h2m4 0h2m2 0h2m4 0h2m2 0h2m0 0h2m0 0h2m10 0h2m22 0h2m0 0h2m8 0h2m6 0h2m8 0h2m4 0h2m6 0h2m2 0h2m-114 2h2m12 0h2m4 0h2m12 0h2m10 0h2m4 0h2m16 0h2m6 0h2m8 0h2m8 0h2m4 0h2m0 0h2m-94 2h2m2 0h2m10 0h2m6 0h2m0 0h2m6 0h2m16 0h2m10 0h2m0 0h2m24 0h2m-36 2h2m6 0h2m18 3h2" stroke="#2494ff" stroke-width="2" fill="none"/><path d="M1459 133h2m6 0h2m-30 4h2m-10 6h2m26 0h2m0 4h2m122 0h2m-134 2h2m12 0h2m4 6h2m106 0h2m4 0h2m0 0h2m-114 2h2m66 0h2m0 0h2m10 0h2m24 0h2m-144 2h2m14 0h2m80 0h2m26 0h2m18 0h2m-30 2h2m-142 2h2m40 0h2m92 0h2m18 0h2m4 0h2m0 0h2m8 0h2m-140 2h2m84 0h2m42 0h2m0 0h2m0 0h2m-8 2h2m0 0h2m4 0h2m-18 2h2m2 0h2m0 0h2m2 0h2m4 0h2m-156 2h2m124 0h2m6 0h2m10 0h2m-160 2h2m112 0h2m18 0h2m0 0h2m20 0h2m4 0h2m-176 2h2m24 0h2m80 0h2m50 0h2m0 0h2m8 0h2m-30 2h2m12 0h2m0 0h2m4 0h2m-42 2h2m20 0h2m12 0h2m2 0h2m-58 2h2m0 0h2m6 0h2m10 0h2m2 0h2m14 0h2m10 0h2m-14 2h2m0 0h2m-48 2h2m0 0h2m8 0h2m4 0h2m6 0h2m2 0h2m-22 2h2m12 0h2m4 0h2m-4 2h2m2 0h2m16 0h2m-34 2h2m2 0h2m-32 2h2m4 0h2m22 0h2m-42 2h2m6 0h2m6 0h2m34 0h2m0 0h2m4 0h2m-14 2h2m4 0h2m6 0h2m-42 2h2m0 0h2m2 0h2m0 0h2m2 0h2m10 0h2m4 0h2m2 0h2m-52 2h2m32 0h2m-26 2h2m26 0h2m0 0h2m0 0h2m-24 2h2m6 0h2m14 0h2m-34 2h2m0 0h2m6 0h2m2 0h2m4 0h2m6 0h2m0 0h2m-26 4h2m2 0h2m2 0h2m-14 2h2m4 0h2m2 0h2m0 0h2m-16 2h2m12 0h2m0 0h2m0 0h2m-22 2h2m4 0h2m12 0h2m-28 2h2m6 0h2m8 0h2m-22 2h2m0 0h2m2 0h2m8 0h2m-2 2h2m-104 2h2m86 0h2m4 0h2m-104 4h2m16 0h2m44 0h2m18 0h2m6 0h2m-104 2h2m2 0h2m2 0h2m52 0h2m20 0h2m26 0h2m-108 2h2m26 0h2m2 0h2m6 0h2m14 0h2m10 0h2m14 0h2m12 0h2m-108 2h2m2 0h2m0 0h2m0 0h2m4 0h2m8 0h2m66 0h2m6 0h2m6 0h2m10 0h2m-128 2h2m10 0h2m12 0h2m56 0h2m38 0h2m-124 2h2m16 0h2m18 0h2m8 0h2m2 0h2m0 0h2m4 0h2m10 0h2m4 0h2m14 0h2m12 0h2m-106 2h2m0 0h2m4 0h2m0 0h2m14 0h2m4 0h2m6 0h2m18 0h2m8 0h2m40 0h2m-116 2h2m8 0h2m10 0h2m34 0h2m6 0h2m16 0h2m6 0h2m4 0h2m10 0h2m2 0h2m-120 2h2m0 0h2m0 0h2m2 0h2m8 0h2m16 0h2m16 0h2m20 0h2m2 0h2m8 0h2m4 0h2m0 0h2m-90 2h2m26 0h2m24 0h2m2 0h2m6 0h2m0 0h2m0 0h2m0 0h2m4 0h2m4 0h2m6 0h2m10 0h2m8 0h2m-130 2h2m6 0h2m8 0h2m42 0h2m0 0h2m0 0h2m26 0h2m2 0h2m0 0h2m4 0h2m16 0h2m-128 2h2m2 0h2m30 0h2m16 0h2m4 0h2m18 0h2m-90 2h2m4 0h2m4 0h2m12 0h2m4 0h2m20 0h2m30 0h2m8 0h2m2 0h2m12 0h2m6 0h2m-104 2h2m8 0h2m14 0h2m26 0h2m6 0h2m4 0h2m-84 2h2m24 0h2m4 0h2m18 0h2m10 0h2m0 0h2m0 0h2m22 0h2m0 0h2m0 0h2m16 0h2m6 0h2m-108 2h2m6 0h2m16 0h2m20 0h2m2 0h2m6 0h2m0 0h2m6 0h2m2 0h2m18 0h2m-108 2h2m14 0h2m2 0h2m36 0h2m12 0h2m6 0h2m14 0h2m8 0h2m2 0h2m6 0h2m-110 2h2m2 0h2m2 0h2m0 0h2m12 0h2m22 0h2m8 0h2m20 0h2m-64 2h2m0 0h2m2 0h2m8 0h2m0 0h2m8 0h2m0 0h2m0 0h2m4 0h2m22 0h2m8 0h2m8 0h2m-78 2h2m6 0h2m6 0h2m4 0h2m2 0h2m6 0h2m4 0h2m22 0h2m-56 2h2m2 0h2m4 0h2m10 0h2m0 0h2m-68 2h2m20 0h2m20 0h2m14 0h2m24 0h2m-62 2h2m4 0h2m56 0h2m-54 2h2" stroke="#1ec4f0" stroke-width="2" fill="none"/><path d="M1461 129h2m6 26h2m-40 6h2m108 0h2m36 0h2m8 0h2m-12 2h2m0 0h2m6 0h2m-56 2h2m8 0h2m46 0h2m-38 2h2m8 0h2m12 0h2m-22 2h2m10 0h2m4 0h2m4 0h2m2 0h2m-22 2h2m4 0h2m4 0h2m0 0h2m6 0h2m-50 2h2m10 0h2m0 0h2m10 0h2m6 0h2m10 0h2m-22 2h2m0 0h2m0 0h2m12 0h2m-36 2h2m10 0h2m0 0h2m-40 2h2m26 0h2m2 0h2m6 0h2m2 0h2m-2 2h2m-22 2h2m4 0h2m6 0h2m-10 2h2m0 0h2m10 0h2m-22 2h2m4 0h2m2 0h2m6 0h2m-30 2h2m0 0h2m2 0h2m4 0h2m12 0h2m-12 2h2m4 0h2m-24 2h2m4 0h2m20 0h2m-36 2h2m2 0h2m6 0h2m20 0h2m-40 2h2m18 0h2m12 0h2m-36 2h2m10 0h2m0 0h2m0 0h2m0 0h2m-22 2h2m2 0h2m8 0h2m2 0h2m0 0h2m-16 2h2m4 0h2m4 0h2m8 0h2m-30 2h2m14 0h2m4 0h2m0 0h2m-26 2h2m0 0h2m8 0h2m-14 2h2m8 0h2m2 0h2m4 0h2m-30 2h2m22 0h2m-28 2h2m6 0h2m-2 2h2m-10 2h2m18 0h2m-24 2h2m0 0h2m16 0h2m-14 2h2m4 0h2m4 0h2m-16 2h2m0 0h2m-4 2h2m2 2h2m-112 2h2m2 0h2m6 0h2m2 0h2m8 0h2m78 0h2m0 0h2m4 0h2m0 0h2m-102 2h2m0 0h2m76 0h2m-98 2h2m0 0h2m2 0h2m12 0h2m0 2h2m0 0h2m0 0h2m4 0h2m52 0h2m0 0h2m14 0h2m-112 2h2m10 0h2m0 0h2m4 0h2m2 2h2m8 0h2m0 0h2m30 0h2m32 0h2m-110 2h2m24 0h2m12 0h2m2 0h2m20 0h2m6 0h2m6 0h2m4 0h2m-94 2h2m6 0h2m10 0h2m14 0h2m4 0h2m10 0h2m0 0h2m34 0h2m0 0h2m-90 2h2m2 0h2m38 0h2m0 0h2m2 0h2m0 0h2m40 0h2m-110 2h2m2 0h2m10 0h2m42 0h2m36 0h2m-90 2h2m14 0h2m30 0h2m14 0h2m4 0h2m18 0h2m6 0h2m6 0h2m-98 2h2m18 0h2m0 0h2m8 0h2m12 0h2m0 0h2m6 0h2m0 0h2m4 0h2m42 0h2m-112 2h2m2 0h2m10 0h2m2 0h2m26 0h2m4 0h2m10 0h2m2 0h2m16 0h2m-76 2h2m16 0h2m0 0h2m0 0h2m8 0h2m14 0h2m16 0h2m-82 2h2m2 0h2m22 0h2m10 0h2m30 0h2m8 0h2m2 0h2m-94 2h2m4 0h2m30 0h2m6 0h2m2 0h2m2 0h2m2 0h2m2 0h2m16 0h2m28 0h2m-122 2h2m6 0h2m2 0h2m12 0h2m4 0h2m8 0h2m12 0h2m4 0h2m4 0h2m14 0h2m20 0h2m-108 2h2m8 0h2m22 0h2m10 0h2m10 0h2m8 0h2m36 0h2m-102 2h2m8 0h2m16 0h2m8 0h2m6 0h2m32 0h2m0 0h2m-52 2h2m0 0h2m4 0h2m0 0h2m10 0h2m18 0h2m6 0h2m2 0h2m-74 2h2m4 0h2m0 0h2m14 2h2m14 2h2" stroke="#20d8b4" stroke-width="2" fill="none"/><path d="M1463 151h2m118 6h2m-6 2h2m12 0h2m-4 4h2m0 0h2m-14 2h2m-18 2h2m12 0h2m2 0h2m-16 2h2m0 2h2m-6 2h2m2 0h2m2 0h2m-14 2h2m10 0h2m-36 2h2m20 0h2m8 0h2m6 0h2m-12 2h2m2 0h2m-22 2h2m0 0h2m2 0h2m10 2h2m-8 2h2m2 0h2m-16 2h2m2 0h2m6 0h2m-24 2h2m2 0h2m-26 2h2m6 0h2m8 0h2m4 0h2m-8 2h2m4 0h2m4 0h2m8 0h2m-34 2h2m14 2h2m-14 2h2m2 0h2m10 0h2m0 0h2m-20 4h2m4 0h2m0 0h2m-26 2h2m14 0h2m10 0h2m-20 4h2m0 0h2m6 0h2m-12 2h2m8 0h2m-10 2h2m4 0h2m2 0h2m-20 2h2m6 0h2m-10 2h2m6 0h2m-18 6h2m8 0h2m2 0h2m2 0h2m-12 2h2m0 0h2m0 0h2m0 0h2m-6 4h2m-114 2h2m2 0h2m2 0h2m-16 2h2m10 0h2m2 0h2m18 0h2m38 0h2m-60 2h2m6 0h2m8 0h2m24 0h2m14 0h2m-80 2h2m8 0h2m0 0h2m18 0h2m36 0h2m22 0h2m-92 2h2m0 0h2m6 0h2m0 0h2m2 0h2m74 0h2m-6 2h2m-100 2h2m6 0h2m12 0h2m6 0h2m4 0h2m4 0h2m18 0h2m0 0h2m6 0h2m28 0h2m-90 2h2m10 0h2m2 0h2m4 0h2m4 0h2m0 0h2m12 0h2m32 0h2m10 0h2m-104 2h2m0 0h2m4 0h2m0 0h2m0 0h2m2 0h2m2 0h2m0 0h2m6 0h2m0 0h2m4 0h2m0 0h2m0 0h2m0 0h2m8 0h2m10 0h2m34 0h2m-108 2h2m4 0h2m14 0h2m0 0h2m0 0h2m0 0h2m0 0h2m4 0h2m8 0h2m0 0h2m2 0h2m22 0h2m2 0h2m4 0h2m0 0h2m14 0h2m-110 2h2m12 0h2m4 0h2m18 0h2m0 0h2m0 0h2m14 0h2m24 0h2m0 0h2m10 0h2m8 0h2m-88 2h2m6 0h2m24 0h2m6 0h2m4 0h2m18 0h2m2 0h2m2 0h2m-90 2h2m2 0h2m6 0h2m12 0h2m2 0h2m12 0h2m4 0h2m2 0h2m28 0h2m-96 2h2m8 0h2m12 0h2m4 0h2m0 0h2m2 0h2m16 0h2m10 0h2m2 0h2m24 0h2m-78 2h2m10 0h2m12 0h2m26 0h2m2 0h2m2 0h2m-78 2h2m12 0h2m12 0h2m0 0h2m6 0h2m2 0h2m4 0h2m26 0h2m4 0h2m8 0h2m-66 2h2m0 0h2m0 0h2m6 0h2m0 0h2m-30 2h2m0 0h2m14 0h2m20 0h2m24 0h2m4 0h2m-66 2h2m0 0h2m28 2h2m-28 2h2m-8 4h2m12 0h2" stroke="#30dc78" stroke-width="2" fill="none"/><path d="M1585 165h2m4 2h2m-16 4h2m10 0h2m-10 4h2m-12 2h2m-10 4h2m-4 2h2m2 2h2m2 0h2m4 0h2m-18 4h2m2 2h2m8 0h2m-22 2h2m6 0h2m-20 2h2m8 0h2m0 0h2m8 0h2m-4 2h2m-8 4h2m-24 4h2m12 2h2m-14 2h2m0 0h2m6 0h2m-20 2h2m0 2h2m-8 4h2m6 0h2m2 0h2m-14 4h2m-8 4h2m-92 8h2m-4 2h2m68 0h2m22 2h2m-20 2h2m-90 4h2m4 0h2m30 0h2m-38 2h2m4 0h2m8 0h2m8 0h2m36 0h2m22 0h2m-86 2h2m34 0h2m48 0h2m-72 2h2m34 0h2m12 0h2m-66 2h2m2 0h2m16 0h2m28 0h2m16 0h2m-54 2h2m72 0h2m-114 2h2m20 0h2m6 0h2m34 0h2m18 0h2m6 0h2m-94 2h2m2 0h2m24 0h2m2 0h2m28 0h2m-28 2h2m-18 2h2m14 0h2m2 0h2m-28 2h2m2 0h2m68 0h2m-62 2h2m-22 4h2m24 0h2" stroke="#5ee640" stroke-width="2" fill="none"/><path d="M1587 163h2m-14 2h2m12 2h2m-16 2h2m2 2h2m-16 2h2m12 0h2m-28 2h2m28 0h2m0 0h2m-8 2h2m-18 2h2m2 2h2m6 0h2m-20 2h2m4 0h2m0 4h2m-4 2h2m0 0h2m-14 2h2m6 0h2m-8 2h2m2 0h2m4 0h2m-16 2h2m4 0h2m-16 2h2m2 0h2m0 0h2m-12 4h2m0 0h2m12 0h2m-16 2h2m2 2h2m-6 2h2m4 0h2m-12 4h2m2 0h2m-4 6h2m-18 2h2m2 0h2m0 0h2m-2 2h2m-10 4h2m10 2h2m-14 2h2m-84 2h2m-10 2h2m10 0h2m-8 4h2m2 0h2m-14 2h2m2 0h2m0 0h2m2 0h2m20 0h2m-50 2h2m12 0h2m0 0h2m0 0h2m6 0h2m2 0h2m-26 2h2m4 0h2m4 0h2m0 0h2m2 0h2m4 0h2m48 0h2m-80 2h2m8 0h2m0 0h2m0 0h2m6 0h2m12 0h2m-28 2h2m4 0h2m0 0h2m0 0h2m6 0h2m56 0h2m-92 2h2m0 0h2m4 0h2m2 0h2m10 0h2m4 0h2m0 0h2m0 0h2m0 0h2m32 0h2m-66 2h2m6 0h2m2 0h2m0 0h2m16 0h2m2 0h2m34 0h2m10 0h2m2 0h2m-110 2h2m8 0h2m0 0h2m8 0h2m4 0h2m0 0h2m6 0h2m0 0h2m0 0h2m4 0h2m0 0h2m0 0h2m0 0h2m0 0h2m4 0h2m2 0h2m32 0h2m-86 2h2m6 0h2m6 0h2m0 0h2m6 0h2m10 0h2m4 0h2m14 0h2m10 0h2m4 0h2m6 0h2m-86 2h2m2 0h2m2 0h2m4 0h2m14 0h2m36 0h2m-80 2h2m16 0h2m0 0h2m0 0h2m0 0h2m0 0h2m2 0h2m2 0h2m10 0h2m2 0h2m38 0h2m-84 2h2m2 0h2m6 0h2m6 0h2m-12 2h2m2 0h2m16 0h2m-18 6h2m0 0h2m-14 2h2" stroke="#b4ee28" stroke-width="2" fill="none"/></g>
<rect x="1386.8" y="51.7" width="231" height="227" fill="none" stroke="#777" stroke-width="2"/>
<defs><linearGradient id="pu" x1="0" x2="1" y1="0" y2="0"><stop offset="0" stop-color="#a89a30"/><stop offset="0.3" stop-color="#b03a28"/><stop offset="0.5" stop-color="#a02030"/><stop offset="0.8" stop-color="#b0a030"/><stop offset="1" stop-color="#40a040"/></linearGradient></defs>
<rect x="1387.8" y="277.1" width="110" height="2.2" fill="url(#pu)" opacity="0.85"/>
<path d="M1439.9 278.7v6.5M1450 278.7v6.5M1457.2 278.7v6.5M1467.3 278.7v6.5M1471.2 278.7v6.5M1474.5 278.7v6.5M1477.5 278.7v6.5M1497.4 278.7v6.5M1507.5 278.7v6.5M1514.7 278.7v6.5M1524.8 278.7v6.5M1528.7 278.7v6.5M1532 278.7v6.5M1535 278.7v6.5M1554.9 278.7v6.5M1565 278.7v6.5M1572.2 278.7v6.5M1582.3 278.7v6.5M1586.2 278.7v6.5M1589.5 278.7v6.5M1592.5 278.7v6.5M1612.4 278.7v6.5M1398.2 278.7v6.5M1402.8 278.7v6.5M1406.6 278.7v6.5M1412.3 278.7v6.5M1414.4 278.7v6.5M1416.4 278.7v6.5M1418.3 278.7v6.5M1386.8 115.1h-6.5M1386.8 105h-6.5M1386.8 97.8h-6.5M1386.8 87.7h-6.5M1386.8 83.8h-6.5M1386.8 80.5h-6.5M1386.8 77.5h-6.5M1386.8 172.6h-6.5M1386.8 162.5h-6.5M1386.8 155.3h-6.5M1386.8 145.2h-6.5M1386.8 141.3h-6.5M1386.8 138h-6.5M1386.8 135h-6.5M1386.8 230.1h-6.5M1386.8 220h-6.5M1386.8 212.8h-6.5M1386.8 202.7h-6.5M1386.8 198.8h-6.5M1386.8 195.5h-6.5M1386.8 192.5h-6.5M1386.8 57.6h-6.5M1386.8 251.8h-6.5M1386.8 254.7h-6.5M1386.8 258.1h-6.5M1386.8 261.3h-6.5M1386.8 270.7h-6.5" stroke="#7a7a7a" stroke-width="1.6" fill="none"/><path d="M1462.8 278.7v9.5M1520.3 278.7v9.5M1577.8 278.7v9.5M1409.6 278.7v9.5M1386.8 92.2h-9.5M1386.8 149.7h-9.5M1386.8 207.2h-9.5M1386.8 265.7h-9.5" stroke="#6a6a6a" stroke-width="1.6" fill="none"/><path d="M1422.6 278.7v13M1480.1 278.7v13M1537.6 278.7v13M1595.1 278.7v13M1386.8 74.9h-13M1386.8 132.4h-13M1386.8 189.9h-13M1386.8 247.4h-13" stroke="#4a4a4a" stroke-width="2.3" fill="none"/>
<path d="M1485 51.7 L1476.2 212.1 L1485 278.7" fill="none" stroke="#333" stroke-width="1.9" stroke-linejoin="miter"/>
<path d="M1386.8 220.7 L1476.2 212.1 L1537.7 216.9 L1617.8 221.6" fill="none" stroke="#333" stroke-width="1.9" stroke-linejoin="miter"/>
<path d="M1386.8 191.6 L1447.8 191.6 L1534.5 102.4 L1534.5 51.7" fill="none" stroke="#111" stroke-width="3.3" stroke-linejoin="miter"/>
<path d="M1515 278.7 L1515 245.2 L1604.5 153.8 L1617.8 153.8" fill="none" stroke="#111" stroke-width="3.3" stroke-linejoin="miter"/>
<text x="1386.3" y="319.2" text-anchor="middle" font-size="20">10<tspan font-size="13.5" dy="-9.6" dx="0.6">2</tspan></text><text x="1421.8" y="319.2" text-anchor="middle" font-size="20">10<tspan font-size="13.5" dy="-9.6" dx="0.6">3</tspan></text><text x="1479.3" y="319.2" text-anchor="middle" font-size="20">10<tspan font-size="13.5" dy="-9.6" dx="0.6">4</tspan></text><text x="1536.8" y="319.2" text-anchor="middle" font-size="20">10<tspan font-size="13.5" dy="-9.6" dx="0.6">5</tspan></text><text x="1594.3" y="319.2" text-anchor="middle" font-size="20">10<tspan font-size="13.5" dy="-9.6" dx="0.6">6</tspan></text><text x="1366.5" y="82" text-anchor="end" font-size="20">10<tspan font-size="13.5" dy="-10" dx="1">6</tspan></text><text x="1366.5" y="139.5" text-anchor="end" font-size="20">10<tspan font-size="13.5" dy="-10" dx="1">5</tspan></text><text x="1366.5" y="197" text-anchor="end" font-size="20">10<tspan font-size="13.5" dy="-10" dx="1">4</tspan></text><text x="1366.5" y="254.5" text-anchor="end" font-size="20">10<tspan font-size="13.5" dy="-10" dx="1">3</tspan></text><text x="1366.5" y="286.3" text-anchor="end" font-size="20">10<tspan font-size="13.5" dy="-10" dx="1">2</tspan></text><text x="1502.3" y="346.6" text-anchor="middle" font-size="21">Meso [25 nM]</text><text transform="translate(1322 164.7) rotate(-90)" text-anchor="middle" font-size="21">Cationic [4.8 nM]</text><text x="1404" y="89.2" font-size="21.3">4.5%</text><text x="1600.4" y="265.7" text-anchor="end" font-size="21.3">4.9%</text>
<clipPath id="c2"><rect x="1719.8" y="51.1" width="231" height="227"/></clipPath><g clip-path="url(#c2)"><path d="M1890 109h2m-10 2h2m-4 1h2m-33 2h2m15 0h2m21 0h2m-34 1h2m17 1h2m37 0h2m12 0h2m-15 1h2m-105 1h2m48 0h2m18 0h2m36 0h2m-53 1h2m3 0h2m4 0h2m2 0h2m-80 1h2m45 0h2m15 0h2m30 0h2m-111 1h2m9 0h2m67 0h2m3 0h2m7 0h2m-104 1h2m8 0h2m3 0h2m58 0h2m11 0h2m14 0h2m1 0h2m-1 0h2m50 0h2m-180 1h2m12 0h2m40 0h2m15 0h2m3 0h2m21 0h2m15 0h2m18 0h2m3 0h2m-131 1h2m35 0h2m-1 0h2m19 0h2m-1 0h2m28 0h2m11 0h2m-1 0h2m1 0h2m18 0h2m8 0h2m4 0h2m-161 1h2m1 0h2m6 0h2m6 0h2m27 0h2m16 0h2m14 0h2m1 0h2m3 0h2m4 0h2m2 0h2m66 0h2m14 0h2m-99 1h2m10 0h2m12 0h2m0 0h2m10 0h2m12 0h2m13 0h2m14 0h2m-164 1h2m21 0h2m16 0h2m14 0h2m6 0h2m14 0h2m0 0h2m11 0h2m58 0h2m-148 1h2m14 0h2m1 0h2m8 0h2m10 0h2m15 0h2m10 0h2m49 0h2m-97 1h2m39 0h2m9 0h2m8 0h2m35 0h2m17 0h2m3 0h2m-155 1h2m2 0h2m3 0h2m0 0h2m0 0h2m19 0h2m12 0h2m23 0h2m26 0h2m9 0h2m10 0h2m3 0h2m-105 1h2m10 0h2m13 0h2m8 0h2m5 0h2m4 0h2m43 0h2m10 0h2m6 0h2m11 0h2m-146 1h2m6 0h2m3 0h2m2 0h2m8 0h2m2 0h2m1 0h2m0 0h2m8 0h2m8 0h2m23 0h2m22 0h2m33 0h2m-177 1h2m10 0h2m4 0h2m6 0h2m-1 0h2m0 0h2m25 0h2m19 0h2m59 0h2m9 0h2m0 0h2m-144 1h2m0 0h2m22 0h2m14 0h2m91 0h2m3 0h2m8 0h2m14 0h2m-177 1h2m31 0h2m14 0h2m7 0h2m56 0h2m18 0h2m40 0h2m-188 1h2m8 0h2m0 0h2m15 0h2m21 0h2m104 0h2m29 0h2m-183 1h2m3 0h2m13 0h2m33 0h2m17 0h2m58 0h2m18 0h2m1 0h2m21 0h2m11 0h2m-191 1h2m27 0h2m33 0h2m57 0h2m21 0h2m17 0h2m-184 1h2m4 0h2m170 0h2m0 0h2m19 0h2m-161 1h2m147 0h2m0 0h2m-193 1h2m0 0h2m5 0h2m13 0h2m-38 1h2m0 0h2m22 0h2m154 0h2m16 0h2m0 0h2m13 0h2m-187 1h2m156 0h2m-174 1h2m0 0h2m10 0h2m5 0h2m139 0h2m25 0h2m-182 1h2m161 0h2m-179 1h2m9 0h2m6 0h2m63 0h2m109 0h2m-40 1h2m27 0h2m-183 1h2m2 0h2m182 0h2m6 0h2m-204 1h2m184 0h2m5 0h2m1 0h2m-206 1h2m176 0h2m18 0h2m1 0h2m-196 1h2m9 0h2m180 1h2m0 0h2m7 0h2m-1 0h2m-212 1h2m3 0h2m174 0h2m3 0h2m-182 1h2m4 0h2m174 0h2m8 0h2m-7 1h2m7 0h2m2 0h2m-206 1h2m181 0h2m15 0h2m-203 1h2m6 0h2m-13 2h2m1 0h2m22 0h2m179 0h2m1 0h2m-215 1h2m196 0h2m5 0h2m-216 1h2m11 0h2m206 0h2m-216 1h2m208 0h2m-205 1h2m-1 0h2m-9 1h2m5 0h2m195 0h2m-208 1h2m211 0h2m-12 1h2m-202 1h2m209 0h2m-218 1h2m55 0h2m150 0h2m2 0h2m0 1h2m3 0h2m-228 1h2m217 0h2m0 0h2m-6 1h2m4 0h2m-212 1h2m5 0h2m196 1h2m2 0h2m-227 2h2m4 0h2m3 0h2m7 0h2m198 1h2m4 0h2m-225 1h2m219 2h2m1 0h2m-222 1h2m2 0h2m206 0h2m3 1h2m-214 1h2m-6 1h2m15 0h2m192 0h2m7 0h2m-224 1h2m2 1h2m-12 1h2m211 0h2m3 0h2m6 0h2m-219 1h2m0 0h2m207 1h2m-221 1h2m210 1h2m-212 1h2m9 0h2m1 1h2m2 0h2m-11 1h2m201 0h2m-157 1h2m-53 1h2m202 0h2m2 0h2m-219 2h2m13 0h2m-3 1h2m1 0h2m187 2h2m4 0h2m-201 1h2m-14 1h2m30 0h2m-11 1h2m10 0h2m26 0h2m142 0h2m-197 1h2m3 0h2m37 0h2m23 0h2m118 0h2m15 0h2m-186 1h2m11 0h2m-29 1h2m174 0h2m-194 1h2m7 0h2m6 1h2m2 0h2m-28 1h2m13 0h2m8 0h2m40 0h2m122 0h2m6 0h2m-184 1h2m176 0h2m-189 1h2m196 0h2m-194 1h2m6 0h2m45 0h2m-69 1h2m9 0h2m14 0h2m2 0h2m-19 1h2m7 0h2m-6 1h2m75 0h2m100 0h2m-195 1h2m10 0h2m-1 0h2m9 0h2m51 0h2m-48 1h2m29 0h2m118 0h2m-161 1h2m-31 1h2m56 0h2m-36 1h2m155 0h2m-177 1h2m8 1h2m160 0h2m1 0h2m-178 1h2m166 0h2m4 0h2m-182 1h2m74 1h2m97 0h2m1 0h2m-172 1h2m75 0h2m88 0h2m0 0h2m-178 1h2m0 1h2m7 1h2m153 2h2m-5 2h2m-164 1h2m193 2h2m-25 1h2m11 0h2m0 0h2m-19 2h2m-9 1h2m-1 0h2m5 1h2m-5 1h2m37 0h2m-43 1h2m-5 1h2m0 0h2m8 0h2m-7 1h2m12 0h2m18 0h2m-29 1h2m14 0h2m15 0h2m-49 1h2m14 0h2m4 0h2m-13 1h2m-14 1h2m47 0h2m-48 1h2m1 0h2m5 0h2m24 0h2m-42 1h2m22 0h2m24 0h2m-47 1h2m7 0h2m7 0h2m2 0h2m8 0h2m-30 1h2m1 0h2m1 0h2m34 0h2m-31 1h2m16 0h2m3 0h2m-33 1h2m1 0h2m29 1h2m-39 1h2m26 0h2m-36 1h2m7 0h2m2 0h2m15 0h2m-25 1h2m1 0h2m8 1h2m16 0h2m-62 1h2m13 0h2m7 0h2m15 0h2m27 0h2m-30 1h2m1 0h2m1 0h2m0 0h2m11 0h2m-52 1h2m9 0h2m1 0h2m0 0h2m-18 1h2m12 1h2m3 0h2m2 0h2m-11 1h2m8 0h2m5 0h2m-28 2h2m22 0h2m4 0h2m-42 1h2m-151 1h2m149 0h2m38 0h2m-48 1h2m13 0h2m-1 0h2m7 0h2m1 0h2m11 0h2m10 0h2m-66 1h2m7 0h2m9 0h2m16 0h2m-23 1h2m4 0h2m29 0h2m2 0h2m-64 1h2m18 0h2m12 0h2m2 0h2m7 0h2m-45 1h2m11 0h2m7 0h2m-12 1h2m18 0h2m4 0h2m-35 1h2m19 0h2m-62 1h2m1 0h2m20 0h2m23 0h2m16 0h2m-68 1h2m13 0h2m25 0h2m2 0h2" stroke="#8f8fff" stroke-width="2" fill="none"/><path d="M1907 125h2m-40 1h2m-5 1h2m-5 1h2m5 0h2m15 0h2m-40 1h2m9 0h2m16 0h2m11 0h2m-36 1h2m2 0h2m21 0h2m-23 1h2m26 0h2m3 0h2m7 0h2m14 0h2m-146 1h2m54 0h2m32 0h2m5 0h2m29 0h2m4 0h2m-88 1h2m34 0h2m13 0h2m3 0h2m29 0h2m10 0h2m-142 1h2m19 0h2m14 0h2m3 0h2m3 0h2m20 0h2m-1 0h2m12 0h2m5 0h2m-1 0h2m16 0h2m-83 1h2m7 0h2m13 0h2m44 0h2m11 0h2m13 0h2m-126 1h2m0 0h2m3 0h2m8 0h2m3 0h2m28 0h2m8 0h2m1 0h2m9 0h2m5 0h2m5 0h2m1 0h2m30 0h2m9 0h2m-101 1h2m0 0h2m16 0h2m36 0h2m10 0h2m1 0h2m5 0h2m-120 1h2m9 0h2m17 0h2m1 0h2m14 0h2m32 0h2m0 0h2m23 0h2m0 0h2m3 0h2m-125 1h2m7 0h2m14 0h2m8 0h2m4 0h2m5 0h2m2 0h2m9 0h2m3 0h2m1 0h2m2 0h2m15 0h2m5 0h2m23 0h2m-125 1h2m0 0h2m22 0h2m20 0h2m-1 0h2m0 0h2m0 0h2m3 0h2m21 0h2m17 0h2m2 0h2m7 0h2m4 0h2m0 0h2m3 0h2m2 0h2m-123 1h2m3 0h2m8 0h2m15 0h2m13 0h2m35 0h2m1 0h2m17 0h2m7 0h2m11 0h2m0 0h2m-160 1h2m8 0h2m4 0h2m28 0h2m14 0h2m33 0h2m0 0h2m12 0h2m0 0h2m11 0h2m15 0h2m0 0h2m4 0h2m11 0h2m13 0h2m-164 1h2m5 0h2m0 0h2m7 0h2m11 0h2m14 0h2m6 0h2m2 0h2m0 0h2m6 0h2m10 0h2m22 0h2m12 0h2m20 0h2m-119 1h2m3 0h2m13 0h2m0 0h2m-1 0h2m1 0h2m7 0h2m12 0h2m21 0h2m2 0h2m16 0h2m5 0h2m12 0h2m5 0h2m-180 1h2m13 0h2m8 0h2m14 0h2m5 0h2m8 0h2m14 0h2m14 0h2m16 0h2m3 0h2m19 0h2m3 0h2m11 0h2m7 0h2m-155 1h2m5 0h2m5 0h2m1 0h2m20 0h2m14 0h2m2 0h2m16 0h2m1 0h2m1 0h2m4 0h2m24 0h2m0 0h2m0 0h2m0 0h2m4 0h2m6 0h2m5 0h2m0 0h2m10 0h2m1 0h2m-157 1h2m6 0h2m17 0h2m20 0h2m14 0h2m5 0h2m61 0h2m5 0h2m5 0h2m2 0h2m-155 1h2m25 0h2m6 0h2m12 0h2m0 0h2m20 0h2m0 0h2m34 0h2m0 0h2m10 0h2m0 0h2m12 0h2m0 0h2m7 0h2m15 0h2m-148 1h2m39 0h2m68 0h2m1 0h2m7 0h2m0 0h2m3 0h2m5 0h2m5 0h2m7 0h2m-185 1h2m6 0h2m7 0h2m9 0h2m2 0h2m22 0h2m12 0h2m42 0h2m0 0h2m2 0h2m8 0h2m2 0h2m0 0h2m7 0h2m0 0h2m15 0h2m5 0h2m6 0h2m-187 1h2m184 0h2m5 0h2m-191 1h2m0 0h2m3 0h2m0 0h2m2 0h2m2 0h2m0 0h2m-1 0h2m1 0h2m3 0h2m22 0h2m22 0h2m12 0h2m4 0h2m0 0h2m6 0h2m4 0h2m18 0h2m50 0h2m-181 1h2m18 0h2m117 0h2m8 0h2m0 0h2m14 0h2m4 0h2m-190 1h2m16 0h2m16 0h2m32 0h2m0 0h2m16 0h2m8 0h2m4 0h2m4 0h2m28 0h2m12 0h2m12 0h2m10 0h2m4 0h2m-24 1h2m-151 1h2m0 0h2m2 0h2m7 0h2m4 0h2m4 0h2m2 0h2m10 0h2m4 0h2m20 0h2m12 0h2m6 0h2m6 0h2m4 0h2m6 0h2m0 0h2m22 0h2m19 0h2m13 0h2m-191 1h2m8 0h2m151 0h2m1 0h2m18 0h2m-180 1h2m2 0h2m9 0h2m8 0h2m34 0h2m2 0h2m2 0h2m2 0h2m0 0h2m0 0h2m0 0h2m4 0h2m52 0h2m6 0h2m15 0h2m6 0h2m-1 0h2m-182 1h2m2 0h2m6 0h2m158 0h2m10 0h2m-196 1h2m16 0h2m0 0h2m2 0h2m24 0h2m10 0h2m28 0h2m38 0h2m2 0h2m24 0h2m0 0h2m4 0h2m15 0h2m-185 1h2m0 0h2m1 0h2m1 0h2m8 0h2m165 0h2m2 0h2m0 0h2m-188 1h2m7 0h2m64 0h2m4 0h2m2 0h2m12 0h2m22 0h2m6 0h2m34 0h2m11 0h2m-185 1h2m14 0h2m171 0h2m0 0h2m-173 1h2m70 0h2m16 0h2m30 0h2m6 0h2m4 0h2m-161 1h2m3 0h2m0 0h2m9 0h2m11 1h2m12 0h2m2 0h2m22 0h2m4 0h2m12 0h2m0 0h2m22 0h2m2 0h2m10 0h2m2 0h2m10 0h2m0 0h2m-148 1h2m-9 1h2m-1 0h2m12 0h2m2 0h2m12 0h2m8 0h2m30 0h2m14 0h2m22 0h2m16 0h2m52 0h2m2 0h2m0 0h2m0 0h2m-185 1h2m-10 1h2m23 0h2m14 0h2m38 0h2m12 0h2m8 0h2m26 0h2m10 0h2m10 0h2m-163 2h2m0 0h2m11 0h2m8 0h2m50 0h2m4 0h2m8 0h2m26 0h2m-109 1h2m177 0h2m2 0h2m-199 1h2m1 0h2m3 0h2m35 0h2m36 0h2m48 0h2m8 0h2m-140 1h2m-12 1h2m5 0h2m4 0h2m5 0h2m24 0h2m38 0h2m6 0h2m54 0h2m-147 1h2m198 0h2m-185 1h2m30 0h2m30 0h2m2 0h2m0 0h2m12 0h2m2 0h2m0 0h2m16 0h2m-124 1h2m1 0h2m0 0h2m187 0h2m-193 1h2m49 0h2m2 0h2m4 0h2m12 0h2m20 0h2m10 0h2m16 0h2m6 0h2m51 0h2m0 0h2m-201 1h2m3 0h2m-9 1h2m46 0h2m20 0h2m0 0h2m10 0h2m6 0h2m-89 1h2m8 0h2m181 0h2m-195 1h2m13 0h2m2 0h2m40 0h2m40 0h2m8 0h2m79 0h2m-199 1h2m6 1h2m16 0h2m20 0h2m0 0h2m26 0h2m8 0h2m6 0h2m6 0h2m14 0h2m-121 1h2m10 0h2m0 0h2m181 0h2m-191 1h2m6 0h2m67 0h2m2 0h2m8 0h2m14 0h2m-117 1h2m1 1h2m9 0h2m15 0h2m30 0h2m24 0h2m12 0h2m2 0h2m80 0h2m-179 1h2m1 0h2m176 0h2m3 0h2m-188 1h2m2 0h2m2 0h2m15 0h2m26 0h2m4 0h2m28 0h2m6 0h2m24 0h2m52 0h2m-186 2h2m5 0h2m9 0h2m4 0h2m10 0h2m16 0h2m8 0h2m0 0h2m8 0h2m28 0h2m-112 1h2m13 0h2m1 0h2m169 0h2m-1 0h2m5 0h2m-188 1h2m25 0h2m12 0h2m0 0h2m10 0h2m6 0h2m4 0h2m4 0h2m28 0h2m62 0h2m-177 1h2m2 0h2m4 0h2m172 0h2m-189 1h2m5 0h2m2 0h2m23 0h2m14 0h2m20 0h2m8 0h2m6 0h2m0 0h2m22 0h2m63 0h2m-1 0h2m-184 1h2m8 0h2m2 0h2m0 0h2m7 0h2m-18 1h2m22 0h2m5 0h2m0 0h2m8 0h2m2 0h2m16 0h2m0 0h2m30 0h2m16 0h2m49 0h2m-182 1h2m7 0h2m166 0h2m3 0h2m-173 1h2m15 0h2m1 0h2m14 0h2m0 0h2m0 0h2m10 0h2m8 0h2m4 0h2m-58 1h2m-22 1h2m15 0h2m0 0h2m1 0h2m0 0h2m2 0h2m9 0h2m-1 0h2m4 0h2m1 0h2m11 0h2m8 0h2m0 0h2m20 0h2m78 0h2m-158 1h2m9 0h2m3 0h2m6 0h2m-31 1h2m1 0h2m16 0h2m0 0h2m20 0h2m5 0h2m5 0h2m2 0h2m0 0h2m2 0h2m-70 1h2m10 0h2m2 0h2m9 0h2m4 0h2m0 0h2m4 0h2m6 0h2m105 0h2m-150 1h2m12 0h2m2 0h2m9 0h2m4 0h2m23 0h2m4 0h2m4 0h2m-82 1h2m5 0h2m8 0h2m2 0h2m9 0h2m121 0h2m-1 0h2m-168 1h2m23 0h2m3 0h2m0 0h2m2 0h2m2 0h2m17 0h2m21 0h2m14 0h2m0 0h2m63 0h2m-177 1h2m42 0h2m19 0h2m7 0h2m94 0h2m-134 1h2m8 0h2m3 0h2m4 0h2m2 0h2m13 0h2m24 0h2m58 0h2m-146 1h2m2 0h2m0 0h2m2 0h2m5 0h2m1 0h2m1 0h2m16 0h2m21 0h2m-63 1h2m3 0h2m8 0h2m12 0h2m18 0h2m1 0h2m15 0h2m14 0h2m12 0h2m-94 1h2m2 0h2m25 0h2m3 0h2m2 0h2m6 0h2m7 0h2m77 0h2m-151 1h2m12 0h2m7 0h2m12 0h2m4 0h2m0 0h2m0 0h2m14 0h2m3 0h2m4 0h2m69 0h2m-149 1h2m21 0h2m9 0h2m6 0h2m13 0h2m19 0h2m70 0h2m-159 1h2m20 0h2m6 0h2m2 0h2m27 0h2m-1 0h2m19 0h2m7 0h2m0 0h2m-89 1h2m39 0h2m8 0h2m7 0h2m-85 1h2m15 0h2m6 0h2m9 0h2m0 0h2m0 0h2m11 0h2m4 0h2m6 0h2m7 0h2m82 0h2m4 0h2m-157 1h2m43 0h2m22 0h2m4 0h2m76 0h2m2 0h2m-124 1h2m25 0h2m2 0h2m1 0h2m16 0h2m8 0h2m48 0h2m1 0h2m-160 1h2m55 0h2m12 0h2m7 0h2m-67 1h2m14 0h2m0 0h2m12 0h2m11 0h2m9 0h2m2 0h2m6 0h2m0 0h2m2 0h2m8 0h2m10 0h2m-105 1h2m43 0h2m11 0h2m6 0h2m-88 1h2m18 0h2m-1 0h2m12 0h2m66 0h2m-91 1h2m-1 0h2m60 0h2m7 0h2m79 0h2m-162 1h2m5 0h2m1 0h2m54 0h2m4 0h2m85 1h2m5 0h2m-175 1h2m73 0h2m0 0h2m10 0h2m12 0h2m0 0h2m50 0h2m7 0h2m1 0h2m-168 1h2m4 0h2m-9 1h2m63 0h2m6 0h2m-80 1h2m166 0h2m-164 1h2m162 0h2m-173 1h2m-1 0h2m-1 1h2m1 0h2m-5 2h2m-4 1h2m3 0h2m-4 1h2m2 0h2m155 0h2m-166 1h2m1 1h2m153 0h2m-1 0h2m7 0h2m-169 2h2m153 0h2m2 0h2m-4 1h2m4 0h2m-10 2h2m2 0h2m1 0h2m8 0h2m-18 1h2m-4 1h2m1 1h2m-1 0h2m-5 1h2m3 0h2m-20 1h2m7 0h2m2 0h2m7 0h2m0 0h2m-12 1h2m-158 1h2m2 0h2m151 0h2m-8 1h2m0 0h2m5 0h2m-162 1h2m160 0h2m-5 1h2m6 0h2m-1 0h2m-11 1h2m1 0h2m2 0h2m3 1h2m-175 1h2m4 0h2m134 0h2m11 0h2m23 0h2m-29 1h2m-153 1h2m146 0h2m28 0h2m-24 1h2m-158 1h2m0 0h2m132 0h2m12 0h2m1 0h2m-12 1h2m2 0h2m7 0h2m-160 1h2m2 0h2m6 0h2m122 0h2m0 0h2m19 0h2m-18 1h2m0 0h2m3 0h2m-144 1h2m122 0h2m0 0h2m14 0h2m-12 1h2m2 0h2m3 0h2m1 0h2m10 0h2m2 0h2m3 0h2m-171 1h2m6 0h2m106 0h2m15 0h2m1 0h2m-140 1h2m130 0h2m7 0h2m0 0h2m-1 0h2m2 0h2m-150 1h2m16 0h2m46 0h2m0 0h2m28 0h2m2 0h2m10 0h2m0 0h2m12 0h2m0 0h2m8 0h2m0 0h2m-148 1h2m147 0h2m4 0h2m-142 1h2m17 0h2m34 0h2m24 0h2m12 0h2m33 0h2m-1 0h2m11 0h2m-159 1h2m3 0h2m7 0h2m111 0h2m-119 1h2m42 0h2m0 0h2m30 0h2m10 0h2m27 0h2m12 0h2m2 0h2m-144 1h2m11 0h2m65 0h2m16 0h2m10 0h2m10 0h2m5 0h2m-132 1h2m18 0h2m7 0h2m3 0h2m2 0h2m39 0h2m25 0h2m5 0h2m13 0h2m-126 1h2m5 0h2m9 0h2m32 0h2m5 0h2m19 0h2m3 0h2m40 0h2m3 0h2" stroke="#6262ff" stroke-width="2" fill="none"/><path d="M1867 131h2m1 0h2m-27 1h2m32 0h2m4 0h2m-59 2h2m4 0h2m5 0h2m6 0h2m9 0h2m4 0h2m18 0h2m-50 1h2m5 0h2m-1 0h2m8 0h2m-15 1h2m6 0h2m5 0h2m-93 1h2m71 0h2m12 0h2m0 0h2m3 0h2m1 0h2m0 0h2m10 0h2m-85 1h2m5 0h2m4 0h2m35 0h2m11 0h2m-21 1h2m22 0h2m10 0h2m-102 1h2m67 0h2m2 0h2m5 0h2m8 0h2m41 0h2m-99 1h2m38 0h2m0 0h2m6 0h2m4 0h2m10 0h2m1 0h2m-73 1h2m7 0h2m1 0h2m20 0h2m2 0h2m1 0h2m0 0h2m23 0h2m7 0h2m4 0h2m1 0h2m3 0h2m8 0h2m-79 1h2m9 0h2m18 0h2m36 0h2m-125 1h2m-1 0h2m1 0h2m34 0h2m14 0h2m39 0h2m5 0h2m-1 0h2m17 0h2m12 0h2m-151 1h2m20 0h2m6 0h2m7 0h2m21 0h2m1 0h2m5 0h2m1 0h2m0 0h2m3 0h2m7 0h2m1 0h2m2 0h2m22 0h2m-117 1h2m-1 0h2m18 0h2m0 0h2m0 0h2m2 0h2m7 0h2m12 0h2m25 0h2m0 0h2m2 0h2m2 0h2m0 0h2m0 0h2m10 0h2m40 0h2m-154 1h2m8 0h2m11 0h2m11 0h2m9 0h2m3 0h2m54 0h2m8 0h2m-130 1h2m0 0h2m13 0h2m9 0h2m2 0h2m4 0h2m0 0h2m0 0h2m12 0h2m12 0h2m8 0h2m4 0h2m2 0h2m0 0h2m4 0h2m4 0h2m0 0h2m8 0h2m2 0h2m0 0h2m32 0h2m2 0h2m-158 1h2m19 0h2m33 0h2m72 0h2m27 0h2m-143 1h2m4 0h2m6 0h2m0 0h2m0 0h2m0 0h2m2 0h2m2 0h2m4 0h2m0 0h2m4 0h2m0 0h2m0 0h2m2 0h2m0 0h2m0 0h2m4 0h2m0 0h2m2 0h2m0 0h2m0 0h2m0 0h2m0 0h2m2 0h2m12 0h2m0 0h2m16 0h2m-129 1h2m10 0h2m109 0h2m21 0h2m9 0h2m-166 1h2m14 0h2m2 0h2m2 0h2m0 0h2m8 0h2m0 0h2m6 0h2m0 0h2m0 0h2m4 0h2m6 0h2m10 0h2m0 0h2m4 0h2m4 0h2m0 0h2m10 0h2m0 0h2m10 0h2m6 0h2m0 0h2m0 0h2m6 1h2m0 0h2m7 0h2m0 0h2m1 0h2m-155 1h2m-1 0h2m1 0h2m-1 0h2m1 0h2m17 0h2m0 0h2m2 0h2m6 0h2m2 0h2m8 0h2m2 0h2m0 0h2m2 0h2m0 0h2m2 0h2m2 0h2m0 0h2m2 0h2m0 0h2m2 0h2m10 0h2m2 0h2m6 0h2m0 0h2m2 0h2m6 0h2m2 0h2m0 0h2m4 0h2m16 0h2m1 0h2m-166 1h2m14 0h2m131 0h2m-157 1h2m0 0h2m15 0h2m0 0h2m2 0h2m4 0h2m0 0h2m8 0h2m2 0h2m6 0h2m4 0h2m2 0h2m8 0h2m4 0h2m0 0h2m2 0h2m2 0h2m10 0h2m8 0h2m2 0h2m0 0h2m12 0h2m0 0h2m2 0h2m0 0h2m0 0h2m0 0h2m0 0h2m3 0h2m14 0h2m2 0h2m-163 1h2m4 0h2m134 0h2m2 0h2m-128 1h2m0 0h2m0 0h2m0 0h2m0 0h2m2 0h2m0 0h2m0 0h2m0 0h2m4 0h2m2 0h2m6 0h2m16 0h2m6 0h2m6 0h2m0 0h2m2 0h2m0 0h2m0 0h2m0 0h2m0 0h2m0 0h2m6 0h2m0 0h2m0 0h2m0 0h2m0 0h2m0 0h2m2 0h2m4 0h2m0 0h2m0 0h2m6 0h2m6 0h2m6 0h2m-164 1h2m159 0h2m-160 1h2m5 0h2m8 0h2m14 0h2m2 0h2m10 0h2m0 0h2m2 0h2m2 0h2m2 0h2m4 0h2m0 0h2m0 0h2m2 0h2m0 0h2m0 0h2m0 0h2m6 0h2m0 0h2m4 0h2m6 0h2m2 0h2m0 0h2m6 0h2m4 0h2m0 0h2m0 0h2m14 0h2m4 0h2m9 1h2m-167 1h2m0 0h2m4 0h2m2 0h2m0 0h2m0 0h2m0 0h2m0 0h2m0 0h2m6 0h2m0 0h2m10 0h2m6 0h2m0 0h2m10 0h2m2 0h2m0 0h2m0 0h2m2 0h2m6 0h2m2 0h2m0 0h2m8 0h2m0 0h2m2 0h2m2 0h2m2 0h2m2 0h2m2 0h2m4 0h2m0 0h2m6 0h2m2 0h2m0 0h2m4 0h2m0 0h2m0 0h2m0 0h2m0 0h2m-171 1h2m-5 1h2m6 0h2m0 0h2m2 0h2m2 0h2m0 0h2m8 0h2m0 0h2m0 0h2m0 0h2m18 0h2m2 0h2m2 0h2m0 0h2m2 0h2m0 0h2m0 0h2m0 0h2m10 0h2m4 0h2m2 0h2m0 0h2m2 0h2m0 0h2m0 0h2m0 0h2m4 0h2m0 0h2m4 0h2m0 0h2m0 0h2m2 0h2m2 0h2m8 0h2m10 0h2m0 0h2m0 0h2m0 0h2m0 0h2m0 0h2m0 0h2m0 0h2m-180 2h2m16 0h2m10 0h2m0 0h2m0 0h2m0 0h2m10 0h2m6 0h2m0 0h2m0 0h2m2 0h2m0 0h2m2 0h2m0 0h2m22 0h2m10 0h2m0 0h2m0 0h2m2 0h2m2 0h2m2 0h2m2 0h2m12 0h2m0 0h2m12 0h2m2 0h2m8 0h2m8 0h2m0 0h2m-188 1h2m11 0h2m-12 1h2m9 0h2m6 0h2m4 0h2m6 0h2m0 0h2m12 0h2m2 0h2m8 0h2m6 0h2m2 0h2m0 0h2m2 0h2m4 0h2m2 0h2m0 0h2m0 0h2m0 0h2m4 0h2m10 0h2m2 0h2m2 0h2m0 0h2m2 0h2m2 0h2m0 0h2m2 0h2m12 0h2m0 0h2m14 0h2m-172 1h2m0 0h2m2 1h2m0 0h2m0 0h2m16 0h2m12 0h2m0 0h2m0 0h2m0 0h2m2 0h2m0 0h2m2 0h2m8 0h2m6 0h2m8 0h2m0 0h2m6 0h2m2 0h2m2 0h2m0 0h2m0 0h2m0 0h2m2 0h2m8 0h2m0 0h2m6 0h2m0 0h2m0 0h2m0 0h2m4 0h2m2 0h2m0 0h2m4 0h2m18 0h2m0 0h2m2 0h2m-188 1h2m0 0h2m3 0h2m-8 1h2m15 0h2m2 0h2m4 0h2m0 0h2m0 0h2m6 0h2m0 0h2m10 0h2m0 0h2m0 0h2m4 0h2m0 0h2m12 0h2m0 0h2m0 0h2m8 0h2m4 0h2m0 0h2m4 0h2m0 0h2m0 0h2m0 0h2m4 0h2m4 0h2m0 0h2m2 0h2m0 0h2m0 0h2m2 0h2m0 0h2m4 0h2m0 0h2m0 0h2m0 0h2m4 0h2m0 0h2m2 0h2m22 0h2m-186 2h2m0 0h2m0 0h2m0 0h2m0 0h2m8 0h2m8 0h2m0 0h2m4 0h2m2 0h2m0 0h2m14 0h2m0 0h2m4 0h2m0 0h2m8 0h2m6 0h2m4 0h2m2 0h2m0 0h2m2 0h2m4 0h2m0 0h2m0 0h2m2 0h2m2 0h2m4 0h2m2 0h2m4 0h2m4 0h2m28 0h2m2 0h2m-183 2h2m5 0h2m4 0h2m2 0h2m4 0h2m4 0h2m16 0h2m10 0h2m0 0h2m0 0h2m0 0h2m2 0h2m2 0h2m4 0h2m0 0h2m6 0h2m0 0h2m2 0h2m0 0h2m0 0h2m2 0h2m2 0h2m2 0h2m0 0h2m6 0h2m0 0h2m0 0h2m4 0h2m16 0h2m-146 1h2m183 0h2m-185 1h2m0 0h2m2 0h2m0 0h2m6 0h2m4 0h2m4 0h2m2 0h2m4 0h2m0 0h2m0 0h2m0 0h2m2 0h2m4 0h2m0 0h2m2 0h2m16 0h2m22 0h2m6 0h2m4 0h2m4 0h2m4 0h2m2 0h2m0 0h2m4 0h2m20 0h2m14 0h2m0 0h2m0 0h2m-187 2h2m1 0h2m0 0h2m2 0h2m0 0h2m24 0h2m2 0h2m12 0h2m4 0h2m4 0h2m0 0h2m6 0h2m0 0h2m2 0h2m0 0h2m0 0h2m2 0h2m2 0h2m0 0h2m4 0h2m2 0h2m2 0h2m2 0h2m12 0h2m4 0h2m0 0h2m0 0h2m14 0h2m22 0h2m-192 1h2m6 0h2m10 1h2m0 0h2m0 0h2m0 0h2m8 0h2m2 0h2m0 0h2m2 0h2m2 0h2m6 0h2m2 0h2m8 0h2m2 0h2m6 0h2m4 0h2m0 0h2m2 0h2m0 0h2m0 0h2m0 0h2m2 0h2m2 0h2m2 0h2m0 0h2m2 0h2m0 0h2m2 0h2m2 0h2m4 0h2m4 0h2m12 0h2m34 0h2m-181 1h2m-7 1h2m0 0h2m0 0h2m0 0h2m6 0h2m0 0h2m4 0h2m0 0h2m0 0h2m6 0h2m0 0h2m0 0h2m0 0h2m0 0h2m2 0h2m0 0h2m0 0h2m0 0h2m2 0h2m0 0h2m0 0h2m4 0h2m0 0h2m12 0h2m14 0h2m0 0h2m8 0h2m2 0h2m2 0h2m0 0h2m0 0h2m2 0h2m2 0h2m4 0h2m0 0h2m0 0h2m34 0h2m4 0h2m-172 2h2m0 0h2m2 0h2m0 0h2m4 0h2m14 0h2m0 0h2m0 0h2m2 0h2m0 0h2m10 0h2m0 0h2m6 0h2m4 0h2m0 0h2m4 0h2m0 0h2m4 0h2m0 0h2m0 0h2m10 0h2m0 0h2m0 0h2m0 0h2m0 0h2m6 0h2m16 0h2m26 0h2m2 0h2m-179 1h2m-3 1h2m14 0h2m2 0h2m2 0h2m0 0h2m2 0h2m0 0h2m0 0h2m2 0h2m4 0h2m0 0h2m2 0h2m8 0h2m0 0h2m10 0h2m12 0h2m2 0h2m2 0h2m0 0h2m0 0h2m2 0h2m4 0h2m2 0h2m0 0h2m2 0h2m0 0h2m0 0h2m6 0h2m0 0h2m2 0h2m42 0h2m1 0h2m-178 2h2m-1 0h2m0 0h2m12 0h2m4 0h2m2 0h2m0 0h2m8 0h2m22 0h2m2 0h2m10 0h2m6 0h2m2 0h2m0 0h2m0 0h2m0 0h2m6 0h2m10 0h2m6 0h2m6 0h2m30 0h2m2 0h2m-182 1h2m1 0h2m179 0h2m-187 1h2m5 0h2m2 0h2m2 0h2m4 0h2m12 0h2m6 0h2m0 0h2m4 0h2m2 0h2m0 0h2m12 0h2m2 0h2m10 0h2m2 0h2m0 0h2m4 0h2m0 0h2m2 0h2m2 0h2m0 0h2m6 0h2m4 0h2m0 0h2m4 0h2m-141 2h2m23 0h2m4 0h2m2 0h2m0 0h2m8 0h2m2 0h2m0 0h2m0 0h2m0 0h2m2 0h2m0 0h2m0 0h2m0 0h2m4 0h2m2 0h2m0 0h2m2 0h2m10 0h2m0 0h2m0 0h2m0 0h2m2 0h2m6 0h2m0 0h2m2 0h2m16 0h2m34 0h2m6 0h2m0 0h2m0 0h2m-180 2h2m11 0h2m4 0h2m-1 0h2m6 0h2m8 0h2m0 0h2m0 0h2m10 0h2m0 0h2m8 0h2m4 0h2m2 0h2m4 0h2m0 0h2m0 0h2m2 0h2m0 0h2m0 0h2m4 0h2m0 0h2m2 0h2m0 0h2m4 0h2m0 0h2m0 0h2m18 0h2m32 0h2m4 0h2m-166 1h2m-5 1h2m17 0h2m2 0h2m0 0h2m4 0h2m6 0h2m6 0h2m0 0h2m0 0h2m2 0h2m4 0h2m0 0h2m0 0h2m4 0h2m2 0h2m14 0h2m0 0h2m6 0h2m6 0h2m6 0h2m45 0h2m-158 1h2m-3 1h2m3 0h2m2 0h2m3 0h2m0 0h2m6 0h2m0 0h2m6 0h2m2 0h2m2 0h2m0 0h2m0 0h2m2 0h2m0 0h2m12 0h2m2 0h2m4 0h2m2 0h2m0 0h2m0 0h2m6 0h2m2 0h2m0 0h2m44 0h2m0 0h2m4 0h2m-152 1h2m-17 1h2m10 0h2m10 0h2m4 0h2m-1 0h2m12 0h2m0 0h2m2 0h2m8 0h2m8 0h2m0 0h2m0 0h2m0 0h2m0 0h2m0 0h2m4 0h2m4 0h2m4 0h2m2 0h2m56 0h2m-144 1h2m5 0h2m6 0h2m129 0h2m-124 1h2m4 0h2m6 0h2m4 0h2m6 0h2m2 0h2m0 0h2m4 0h2m0 0h2m0 0h2m2 0h2m0 0h2m2 0h2m6 0h2m57 0h2m-120 1h2m-45 1h2m15 0h2m25 0h2m16 0h2m2 0h2m4 0h2m4 0h2m0 0h2m0 0h2m0 0h2m0 0h2m6 0h2m0 0h2m0 0h2m0 0h2m52 0h2m5 0h2m-133 1h2m2 0h2m0 0h2m23 0h2m-61 1h2m21 0h2m27 0h2m11 0h2m1 0h2m6 0h2m4 0h2m2 0h2m2 0h2m2 0h2m4 0h2m42 0h2m2 0h2m2 0h2m-145 1h2m28 0h2m8 0h2m6 0h2m3 0h2m-41 1h2m11 0h2m5 0h2m9 0h2m18 0h2m12 0h2m6 0h2m4 0h2m0 0h2m34 0h2m6 0h2m0 0h2m-151 1h2m-1 0h2m3 0h2m4 0h2m1 0h2m14 0h2m5 0h2m5 0h2m3 0h2m3 0h2m11 0h2m0 0h2m-71 1h2m9 0h2m14 0h2m17 0h2m11 0h2m23 0h2m4 0h2m0 0h2m50 0h2m-129 1h2m10 0h2m26 0h2m5 0h2m2 0h2m0 0h2m-64 1h2m4 0h2m14 0h2m1 0h2m43 0h2m2 0h2m0 0h2m0 0h2m-51 1h2m0 0h2m-1 0h2m4 0h2m2 0h2m25 0h2m67 0h2m-143 1h2m18 0h2m-1 0h2m32 0h2m16 0h2m2 0h2m2 0h2m2 0h2m2 0h2m4 0h2m36 0h2m3 0h2m-138 1h2m-1 0h2m40 0h2m-19 1h2m-1 0h2m24 0h2m14 0h2m0 0h2m40 0h2m16 0h2m1 0h2m0 0h2m-143 1h2m15 0h2m16 0h2m8 0h2m0 0h2m12 0h2m-1 0h2m0 0h2m5 0h2m-67 1h2m15 0h2m11 0h2m24 0h2m1 0h2m-1 0h2m1 0h2m1 0h2m0 0h2m6 0h2m2 0h2m0 0h2m4 0h2m2 0h2m32 0h2m-109 1h2m-40 1h2m9 0h2m0 0h2m0 0h2m2 0h2m0 0h2m4 0h2m7 0h2m-1 0h2m7 0h2m18 0h2m13 0h2m0 0h2m6 0h2m6 0h2m2 0h2m2 0h2m34 0h2m-144 1h2m47 0h2m1 0h2m1 0h2m-57 1h2m4 0h2m0 0h2m0 0h2m0 0h2m2 0h2m8 0h2m0 0h2m0 0h2m2 0h2m2 0h2m36 0h2m50 0h2m10 0h2m0 0h2m3 0h2m-155 1h2m45 0h2m1 0h2m11 0h2m-57 1h2m0 0h2m2 0h2m0 0h2m20 0h2m0 0h2m0 0h2m0 0h2m4 0h2m14 0h2m3 0h2m3 0h2m4 0h2m4 0h2m2 0h2m2 0h2m0 0h2m4 0h2m4 0h2m28 0h2m0 0h2m-144 1h2m50 0h2m18 0h2m-68 1h2m0 0h2m0 0h2m0 0h2m6 0h2m22 0h2m0 0h2m4 0h2m0 0h2m13 0h2m-1 0h2m0 0h2m0 0h2m0 0h2m0 0h2m0 0h2m6 0h2m2 0h2m2 0h2m0 0h2m0 0h2m34 0h2m2 0h2m0 0h2m2 0h2m-150 1h2m61 0h2m88 0h2m-159 1h2m2 0h2m0 0h2m2 0h2m34 0h2m2 0h2m0 0h2m0 0h2m0 0h2m2 0h2m6 0h2m4 0h2m0 0h2m2 0h2m0 0h2m0 0h2m0 0h2m0 0h2m6 0h2m44 0h2m4 0h2m-146 2h2m8 0h2m0 0h2m40 0h2m0 0h2m0 0h2m8 0h2m0 0h2m0 0h2m4 0h2m0 0h2m6 0h2m10 0h2m6 0h2m30 0h2m0 0h2m1 1h2m2 0h2m-158 1h2m1 0h2m0 0h2m0 0h2m6 0h2m42 0h2m10 0h2m6 0h2m0 0h2m6 0h2m2 0h2m4 0h2m8 0h2m34 0h2m5 1h2m-159 1h2m2 0h2m2 0h2m0 0h2m56 0h2m2 0h2m4 0h2m0 0h2m34 0h2m6 0h2m18 0h2m0 0h2m2 0h2m-155 1h2m-3 1h2m2 0h2m2 0h2m74 0h2m0 0h2m22 0h2m32 0h2m4 0h2m-150 2h2m2 0h2m0 0h2m66 0h2m26 0h2m0 0h2m14 0h2m24 0h2m2 0h2m0 0h2m0 0h2m-160 2h2m4 0h2m2 0h2m4 0h2m78 0h2m28 0h2m26 0h2m-157 1h2m3 1h2m4 0h2m64 0h2m20 0h2m48 0h2m0 0h2m0 0h2m-156 2h2m0 0h2m0 0h2m2 0h2m2 0h2m86 0h2m8 0h2m8 0h2m8 0h2m0 0h2m0 0h2m8 0h2m0 0h2m2 0h2m0 0h2m0 1h2m-148 1h2m50 0h2m72 0h2m6 0h2m2 0h2m-146 2h2m0 0h2m102 0h2m28 0h2m4 0h2m4 0h2m3 1h2m-153 1h2m128 0h2m12 0h2m0 0h2m-152 2h2m132 0h2m2 0h2m8 0h2m-144 2h2m2 0h2m2 0h2m66 0h2m48 0h2m6 0h2m0 0h2m7 0h2m0 0h2m0 0h2m-9 1h2m9 0h2m-159 1h2m4 0h2m128 0h2m2 0h2m0 0h2m0 0h2m1 0h2m15 0h2m-14 1h2m6 0h2m-162 1h2m4 0h2m36 0h2m48 0h2m28 0h2m2 0h2m2 0h2m0 0h2m0 0h2m0 0h2m2 0h2m14 1h2m-162 1h2m2 0h2m4 0h2m2 0h2m4 0h2m112 0h2m0 0h2m0 0h2m0 0h2m0 0h2m4 1h2m3 0h2m-1 0h2m-150 1h2m0 0h2m0 0h2m0 0h2m4 0h2m70 0h2m28 0h2m2 0h2m0 0h2m2 0h2m2 0h2m-135 1h2m168 0h2m-165 1h2m0 0h2m4 0h2m0 0h2m90 0h2m4 0h2m0 0h2m10 0h2m0 0h2m0 0h2m12 0h2m-147 1h2m149 0h2m-149 1h2m1 0h2m0 0h2m0 0h2m10 0h2m46 0h2m0 0h2m4 0h2m4 0h2m2 0h2m6 0h2m6 0h2m4 0h2m0 0h2m4 0h2m0 0h2m0 0h2m0 0h2m6 1h2m1 0h2m14 0h2m-156 1h2m11 0h2m0 0h2m0 0h2m4 0h2m6 0h2m0 0h2m30 0h2m6 0h2m2 0h2m0 0h2m0 0h2m24 0h2m0 0h2m6 0h2m2 0h2m0 0h2m0 0h2m0 0h2m2 0h2m5 1h2m-132 1h2m-1 0h2m6 0h2m2 0h2m0 0h2m0 0h2m0 0h2m0 0h2m0 0h2m0 0h2m8 0h2m2 0h2m8 0h2m2 0h2m12 0h2m8 0h2m2 0h2m4 0h2m8 0h2m2 0h2m0 0h2m6 0h2m0 0h2m0 0h2m5 0h2m3 0h2m-124 1h2m111 0h2m-1 0h2m-110 1h2m0 0h2m12 0h2m2 0h2m0 0h2m2 0h2m2 0h2m0 0h2m6 0h2m2 0h2m0 0h2m0 0h2m2 0h2m2 0h2m0 0h2m6 0h2m0 0h2m0 0h2m2 0h2m12 0h2m2 0h2m0 0h2m0 0h2m9 0h2m-111 2h2m6 0h2m0 0h2m2 0h2m0 0h2m0 0h2m4 0h2m8 0h2m0 0h2m4 0h2m4 0h2m0 0h2m2 0h2m15 0h2m5 0h2m16 0h2m8 0h2m-111 1h2m5 0h2m1 0h2m53 0h2m12 0h2m13 0h2m22 0h2m-116 1h2m3 0h2m4 0h2m4 0h2m0 0h2m2 0h2m4 0h2m4 0h2m0 0h2m0 0h2m12 0h2m3 0h2m20 0h2m-37 1h2m0 0h2m12 0h2m11 0h2m2 0h2m3 0h2" stroke="#3a3aff" stroke-width="2" fill="none"/><path d="M1881 138h2m7 1h2m-45 1h2m-30 1h2m-35 1h2m9 0h2m19 0h2m50 0h2m-84 2h2m4 0h2m22 0h2m28 0h2m47 0h2m-115 2h2m56 0h2m10 0h2m-75 1h2m7 0h2m97 0h2m-93 1h2m20 0h2m16 0h2m30 0h2m-91 1h2m44 0h2m-37 1h2m12 0h2m8 0h2m14 0h2m14 0h2m10 0h2m2 0h2m6 0h2m6 0h2m31 0h2m-139 1h2m117 0h2m-107 1h2m0 0h2m8 0h2m12 0h2m6 0h2m6 0h2m2 0h2m6 0h2m30 0h2m4 0h2m20 0h2m-122 2h2m0 0h2m0 0h2m8 0h2m2 0h2m2 0h2m2 0h2m4 0h2m18 0h2m18 0h2m0 0h2m0 0h2m6 0h2m-92 2h2m8 0h2m6 0h2m38 0h2m2 0h2m4 0h2m0 0h2m0 0h2m6 0h2m22 0h2m4 0h2m-116 2h2m0 0h2m26 0h2m8 0h2m10 0h2m14 0h2m4 0h2m0 0h2m4 0h2m14 0h2m14 0h2m20 0h2m-7 1h2m8 0h2m-139 1h2m26 0h2m4 0h2m8 0h2m26 0h2m0 0h2m0 0h2m4 0h2m6 0h2m44 0h2m-163 1h2m13 1h2m4 0h2m12 0h2m2 0h2m4 0h2m2 0h2m0 0h2m6 0h2m0 0h2m10 0h2m24 0h2m6 0h2m0 0h2m0 0h2m-98 2h2m8 0h2m0 0h2m8 0h2m0 0h2m0 0h2m0 0h2m0 0h2m2 0h2m2 0h2m24 0h2m4 0h2m8 0h2m22 0h2m0 0h2m6 0h2m6 0h2m10 0h2m4 0h2m16 0h2m1 0h2m-171 2h2m6 0h2m26 0h2m0 0h2m22 0h2m0 0h2m0 0h2m2 0h2m0 0h2m4 0h2m6 0h2m0 0h2m0 0h2m0 0h2m24 0h2m6 0h2m14 0h2m2 0h2m-153 2h2m11 0h2m16 0h2m2 0h2m0 0h2m10 0h2m0 0h2m4 0h2m16 0h2m16 0h2m14 0h2m18 0h2m10 0h2m0 0h2m4 0h2m4 0h2m0 0h2m6 0h2m0 0h2m-164 2h2m4 0h2m0 0h2m14 0h2m26 0h2m6 0h2m6 0h2m0 0h2m6 0h2m24 0h2m0 0h2m0 0h2m10 0h2m14 0h2m10 0h2m2 0h2m8 0h2m0 0h2m4 0h2m2 0h2m-166 2h2m0 0h2m6 0h2m12 0h2m0 0h2m0 0h2m6 0h2m6 0h2m4 0h2m0 0h2m12 0h2m0 0h2m4 0h2m18 0h2m4 0h2m4 0h2m6 0h2m4 0h2m0 0h2m10 0h2m8 0h2m8 0h2m2 0h2m2 0h2m-168 2h2m0 0h2m4 0h2m8 0h2m10 0h2m2 0h2m2 0h2m0 0h2m8 0h2m4 0h2m4 0h2m12 0h2m12 0h2m8 0h2m8 0h2m2 0h2m14 0h2m0 0h2m8 0h2m16 0h2m-178 1h2m182 0h2m-174 1h2m4 0h2m2 0h2m6 0h2m2 0h2m12 0h2m14 0h2m46 0h2m0 0h2m0 0h2m6 0h2m0 0h2m2 0h2m0 0h2m0 0h2m8 0h2m6 0h2m0 0h2m20 0h2m0 0h2m2 0h2m-166 2h2m4 0h2m8 0h2m2 0h2m14 0h2m0 0h2m16 0h2m8 0h2m14 0h2m0 0h2m0 0h2m4 0h2m6 0h2m14 0h2m6 0h2m6 0h2m2 0h2m24 0h2m-168 2h2m0 0h2m6 0h2m6 0h2m6 0h2m2 0h2m0 0h2m2 0h2m12 0h2m0 0h2m8 0h2m24 0h2m6 0h2m6 0h2m0 0h2m6 0h2m12 0h2m0 0h2m2 0h2m2 0h2m16 0h2m6 0h2m2 0h2m-182 1h2m4 1h2m32 0h2m2 0h2m2 0h2m2 0h2m8 0h2m2 0h2m44 0h2m2 0h2m2 0h2m0 0h2m14 0h2m0 0h2m12 0h2m4 0h2m14 0h2m-172 2h2m8 0h2m8 0h2m40 0h2m4 0h2m4 0h2m26 0h2m2 0h2m10 0h2m2 0h2m0 0h2m6 0h2m0 0h2m4 0h2m28 0h2m2 0h2m-180 2h2m0 0h2m12 0h2m4 0h2m0 0h2m0 0h2m0 0h2m0 0h2m10 0h2m8 0h2m0 0h2m8 0h2m0 0h2m18 0h2m30 0h2m0 0h2m2 0h2m8 0h2m2 0h2m4 0h2m4 0h2m12 0h2m10 0h2m-174 2h2m24 0h2m4 0h2m4 0h2m14 0h2m16 0h2m2 0h2m6 0h2m6 0h2m4 0h2m8 0h2m28 0h2m18 0h2m2 0h2m4 0h2m0 0h2m-168 2h2m0 0h2m2 0h2m20 0h2m0 0h2m0 0h2m2 0h2m0 0h2m6 0h2m0 0h2m0 0h2m4 0h2m10 0h2m0 0h2m0 0h2m2 0h2m18 0h2m4 0h2m0 0h2m0 0h2m8 0h2m0 0h2m2 0h2m6 0h2m6 0h2m12 0h2m4 0h2m-160 2h2m0 0h2m4 0h2m0 0h2m8 0h2m0 0h2m0 0h2m4 0h2m20 0h2m8 0h2m2 0h2m12 0h2m8 0h2m14 0h2m52 0h2m2 0h2m-167 2h2m3 0h2m4 0h2m4 0h2m4 0h2m38 0h2m4 0h2m0 0h2m8 0h2m18 0h2m0 0h2m0 0h2m4 0h2m4 0h2m0 0h2m4 0h2m0 0h2m6 0h2m12 0h2m6 0h2m-148 2h2m16 0h2m4 0h2m10 0h2m24 0h2m6 0h2m14 0h2m10 0h2m0 0h2m2 0h2m2 0h2m32 0h2m-130 2h2m36 0h2m12 0h2m0 0h2m0 0h2m8 0h2m8 0h2m0 0h2m4 0h2m0 0h2m2 0h2m0 0h2m16 0h2m10 0h2m4 0h2m0 0h2m0 0h2m-154 1h2m26 1h2m16 0h2m8 0h2m0 0h2m6 0h2m2 0h2m0 0h2m2 0h2m10 0h2m2 0h2m14 0h2m0 0h2m26 0h2m0 0h2m-108 2h2m4 0h2m0 0h2m6 0h2m16 0h2m4 0h2m6 0h2m2 0h2m4 0h2m0 0h2m2 0h2m6 0h2m26 0h2m2 0h2m8 0h2m-66 2h2m8 0h2m0 0h2m2 0h2m6 0h2m6 0h2m4 0h2m8 0h2m2 0h2m0 0h2m0 0h2m2 0h2m-68 2h2m12 0h2m2 0h2m0 0h2m6 0h2m22 0h2m8 0h2m-50 2h2m8 0h2m26 0h2m-131 2h2m53 0h2m14 0h2m0 0h2m0 0h2m24 0h2m28 0h2m0 0h2m-95 2h2m11 0h2m10 0h2m2 0h2m2 0h2m4 0h2m6 0h2m0 0h2m6 0h2m24 0h2m2 0h2m-42 2h2m0 0h2m0 0h2m32 0h2m8 0h2m-120 1h2m-12 1h2m58 0h2m10 0h2m8 0h2m22 0h2m10 0h2m4 0h2m-128 1h2m64 1h2m6 0h2m2 0h2m0 0h2m2 0h2m2 0h2m30 0h2m-125 1h2m58 0h2m-76 1h2m5 0h2m72 0h2m6 0h2m6 0h2m12 0h2m10 0h2m8 0h2m-114 2h2m0 0h2m7 0h2m45 0h2m4 0h2m2 0h2m12 0h2m16 0h2m4 0h2m0 0h2m-62 1h2m-64 1h2m2 0h2m60 0h2m2 0h2m0 0h2m10 0h2m2 0h2m26 0h2m4 0h2m0 0h2m-141 1h2m13 1h2m4 0h2m2 0h2m0 0h2m2 0h2m8 0h2m36 0h2m8 0h2m4 0h2m6 0h2m20 0h2m2 0h2m0 0h2m8 0h2m-144 2h2m24 0h2m0 0h2m2 0h2m0 0h2m0 0h2m0 0h2m20 0h2m16 0h2m2 0h2m2 0h2m10 0h2m28 0h2m10 0h2m-140 2h2m2 0h2m6 0h2m2 0h2m4 0h2m2 0h2m2 0h2m0 0h2m12 0h2m10 0h2m18 0h2m6 0h2m0 0h2m0 0h2m0 0h2m0 0h2m0 0h2m4 0h2m0 0h2m4 0h2m10 0h2m0 0h2m0 0h2m-140 2h2m0 0h2m4 0h2m0 0h2m0 0h2m4 0h2m20 0h2m0 0h2m0 0h2m4 0h2m14 0h2m0 0h2m0 0h2m22 0h2m0 0h2m4 0h2m6 0h2m24 0h2m4 0h2m-150 2h2m12 0h2m0 0h2m4 0h2m26 0h2m0 0h2m4 0h2m6 0h2m0 0h2m2 0h2m2 0h2m0 0h2m0 0h2m8 0h2m8 0h2m2 0h2m2 0h2m4 0h2m26 0h2m0 0h2m-136 2h2m10 0h2m4 0h2m16 0h2m0 0h2m8 0h2m2 0h2m0 0h2m2 0h2m2 0h2m0 0h2m4 0h2m10 0h2m2 0h2m0 0h2m8 0h2m0 0h2m6 0h2m10 0h2m6 0h2m0 0h2m4 0h2m-144 2h2m0 0h2m0 0h2m4 0h2m14 0h2m14 0h2m20 0h2m4 0h2m0 0h2m4 0h2m10 0h2m2 0h2m8 0h2m32 0h2m2 0h2m4 0h2m-150 2h2m4 0h2m10 0h2m34 0h2m4 0h2m20 0h2m14 0h2m10 0h2m14 0h2m2 0h2m8 0h2m-150 2h2m2 0h2m2 0h2m0 0h2m44 0h2m4 0h2m4 0h2m0 0h2m4 0h2m6 0h2m0 0h2m8 0h2m12 0h2m14 0h2m20 0h2m-152 2h2m2 0h2m4 0h2m2 0h2m0 0h2m48 0h2m4 0h2m6 0h2m0 0h2m24 0h2m22 0h2m8 0h2m0 0h2m-136 2h2m0 0h2m12 0h2m34 0h2m6 0h2m12 0h2m12 0h2m24 0h2m12 0h2m4 0h2m-150 2h2m2 0h2m4 0h2m0 0h2m0 0h2m0 0h2m58 0h2m2 0h2m4 0h2m8 0h2m12 0h2m4 0h2m18 0h2m12 0h2m-140 2h2m0 0h2m58 0h2m40 0h2m8 0h2m2 0h2m8 0h2m6 0h2m-148 2h2m10 0h2m2 0h2m52 0h2m36 0h2m16 0h2m12 0h2m2 0h2m-134 2h2m70 0h2m24 0h2m6 0h2m6 0h2m0 0h2m0 0h2m-122 2h2m6 0h2m62 0h2m0 0h2m14 0h2m16 0h2m0 0h2m6 0h2m2 0h2m8 0h2m-132 2h2m12 0h2m36 0h2m8 0h2m0 0h2m6 0h2m30 0h2m0 0h2m2 0h2m2 0h2m0 0h2m8 0h2m-138 2h2m10 0h2m2 0h2m6 0h2m38 0h2m28 0h2m0 0h2m22 0h2m2 0h2m2 0h2m12 1h2m-142 1h2m8 0h2m4 0h2m6 0h2m74 0h2m4 0h2m0 0h2m2 0h2m4 0h2m2 0h2m-114 2h2m2 0h2m0 0h2m22 0h2m28 0h2m0 0h2m2 0h2m0 0h2m12 0h2m0 0h2m38 0h2m4 1h2m-134 1h2m4 0h2m16 0h2m0 0h2m16 0h2m0 0h2m2 0h2m2 0h2m6 0h2m16 0h2m0 0h2m0 0h2m0 0h2m2 0h2m6 0h2m12 0h2m0 0h2m-126 2h2m10 0h2m0 0h2m0 0h2m0 0h2m0 0h2m4 0h2m2 0h2m6 0h2m10 0h2m6 0h2m8 0h2m10 0h2m4 0h2m10 0h2m0 0h2m4 0h2m0 0h2m16 0h2m-124 2h2m34 0h2m2 0h2m18 0h2m2 0h2m2 0h2m8 0h2m0 0h2m2 0h2m0 0h2m0 0h2m4 0h2m10 0h2m0 0h2m-80 2h2m12 0h2m20 0h2m4 0h2m0 0h2m18 0h2m10 0h2m-92 2h2m0 0h2m0 0h2m8 0h2m8 0h2m4 0h2m0 0h2m16 0h2m4 0h2m10 0h2m4 0h2m6 0h2m14 1h2m-84 1h2m41 0h2m-1 0h2m15 0h2m-57 2h2m4 0h2" stroke="#2a5cff" stroke-width="2" fill="none"/><path d="M1869 142h2m-84 4h2m15 0h2m88 1h2m-56 3h2m0 0h2m38 0h2m-90 2h2m-2 2h2m90 0h2m2 0h2m-74 2h2m58 0h2m-112 2h2m52 0h2m14 0h2m72 0h2m-140 2h2m18 0h2m0 0h2m6 0h2m60 0h2m30 0h2m-110 2h2m8 0h2m18 0h2m36 0h2m14 0h2m-76 2h2m2 0h2m4 0h2m-28 2h2m14 0h2m82 0h2m12 0h2m0 0h2m8 0h2m0 0h2m0 0h2m0 0h2m2 0h2m4 0h2m-150 2h2m22 0h2m10 0h2m30 0h2m12 0h2m6 0h2m38 0h2m4 0h2m10 0h2m-156 2h2m6 0h2m0 0h2m4 0h2m14 0h2m2 0h2m8 0h2m2 0h2m8 0h2m12 0h2m12 0h2m42 0h2m12 0h2m-136 2h2m4 0h2m24 0h2m34 0h2m66 0h2m0 0h2m6 0h2m-179 1h2m9 1h2m32 0h2m2 0h2m54 0h2m30 0h2m10 0h2m2 0h2m4 0h2m4 0h2m0 0h2m0 0h2m-158 2h2m6 0h2m10 0h2m16 0h2m34 0h2m6 0h2m40 0h2m0 0h2m4 0h2m22 0h2m0 0h2m4 0h2m-132 2h2m10 0h2m6 0h2m22 0h2m26 0h2m4 0h2m10 0h2m4 0h2m8 0h2m0 0h2m14 0h2m2 0h2m-186 2h2m24 0h2m14 0h2m16 0h2m26 0h2m84 0h2m2 0h2m2 0h2m-140 2h2m20 0h2m14 0h2m24 0h2m30 0h2m2 0h2m12 0h2m16 0h2m0 0h2m2 0h2m2 0h2m-166 2h2m42 0h2m10 0h2m26 0h2m4 0h2m50 0h2m2 0h2m2 0h2m2 0h2m4 0h2m-156 2h2m28 0h2m6 0h2m38 0h2m2 0h2m0 0h2m22 0h2m2 0h2m0 0h2m12 0h2m18 0h2m2 0h2m-150 2h2m10 0h2m16 0h2m10 0h2m40 0h2m12 0h2m0 0h2m0 0h2m10 0h2m0 0h2m0 0h2m8 0h2m4 0h2m10 0h2m0 0h2m-160 2h2m4 0h2m2 0h2m4 0h2m20 0h2m8 0h2m54 0h2m0 0h2m2 0h2m8 0h2m6 0h2m-102 2h2m2 0h2m26 0h2m32 0h2m4 0h2m12 0h2m6 0h2m4 0h2m2 0h2m2 0h2m6 0h2m6 0h2m-94 2h2m20 0h2m6 0h2m10 0h2m0 0h2m12 0h2m8 0h2m4 0h2m-36 2h2m0 0h2m4 0h2m2 0h2m8 0h2m12 0h2m4 0h2m0 0h2m-140 2h2m56 0h2m12 0h2m0 0h2m8 0h2m24 0h2m20 0h2m4 0h2m-120 2h2m74 0h2m2 0h2m28 0h2m8 0h2m0 0h2m-54 2h2m2 0h2m0 0h2m18 0h2m-38 2h2m0 0h2m24 0h2m8 0h2m-36 2h2m2 0h2m4 0h2m8 0h2m0 0h2m18 0h2m-74 2h2m16 0h2m14 0h2m2 0h2m0 0h2m16 0h2m0 0h2m18 0h2m-52 2h2m4 0h2m2 0h2m18 0h2m14 0h2m-46 2h2m8 0h2m12 0h2m2 0h2m0 0h2m8 0h2m-118 2h2m76 0h2m4 0h2m2 0h2m0 0h2m2 0h2m6 0h2m4 0h2m4 0h2m-38 2h2m22 0h2m2 0h2m4 0h2m-42 2h2m2 0h2m4 0h2m6 0h2m-98 2h2m62 0h2m42 0h2m0 0h2m-52 2h2m14 0h2m2 0h2m30 0h2m-118 2h2m66 0h2m2 0h2m10 0h2m2 0h2m20 0h2m-120 2h2m4 0h2m4 0h2m42 0h2m58 0h2m4 0h2m-130 2h2m4 0h2m60 0h2m18 0h2m4 0h2m2 0h2m4 0h2m4 0h2m6 0h2m2 0h2m-132 2h2m4 0h2m8 0h2m4 0h2m2 0h2m6 0h2m12 0h2m66 0h2m0 0h2m6 0h2m-110 2h2m12 0h2m0 0h2m4 0h2m22 0h2m6 0h2m0 0h2m10 0h2m4 0h2m0 0h2m20 0h2m0 0h2m0 0h2m2 0h2m0 0h2m-136 2h2m16 0h2m6 0h2m2 0h2m0 0h2m14 0h2m2 0h2m4 0h2m16 0h2m8 0h2m6 0h2m10 0h2m2 0h2m6 0h2m2 0h2m16 1h2m-142 1h2m0 0h2m0 0h2m0 0h2m6 0h2m6 0h2m6 0h2m0 0h2m4 0h2m32 0h2m0 0h2m0 0h2m0 0h2m2 0h2m4 0h2m0 0h2m0 0h2m0 0h2m8 0h2m14 0h2m-134 2h2m10 0h2m34 0h2m4 0h2m6 0h2m0 0h2m0 0h2m4 0h2m12 0h2m2 0h2m4 0h2m2 0h2m0 0h2m2 0h2m2 0h2m18 0h2m0 0h2m6 0h2m-136 2h2m36 0h2m20 0h2m0 0h2m8 0h2m0 0h2m0 0h2m0 0h2m18 0h2m2 0h2m0 0h2m10 0h2m2 0h2m-114 2h2m46 0h2m6 0h2m6 0h2m6 0h2m6 0h2m0 0h2m10 0h2m0 0h2m16 0h2m4 0h2m2 0h2m2 0h2m-144 2h2m4 0h2m16 0h2m6 0h2m16 0h2m10 0h2m24 0h2m2 0h2m10 0h2m16 0h2m0 0h2m2 0h2m4 0h2m-140 2h2m12 0h2m4 0h2m40 0h2m6 0h2m0 0h2m12 0h2m24 0h2m4 0h2m10 0h2m2 0h2m-136 2h2m12 0h2m62 0h2m4 0h2m0 0h2m14 0h2m4 0h2m2 0h2m0 0h2m6 0h2m2 0h2m4 0h2m4 0h2m-140 2h2m0 0h2m10 0h2m54 0h2m24 0h2m6 0h2m2 0h2m4 0h2m2 0h2m6 0h2m8 0h2m2 0h2m-132 2h2m2 0h2m0 0h2m4 0h2m46 0h2m12 0h2m8 0h2m4 0h2m4 0h2m4 0h2m0 0h2m2 0h2m6 0h2m2 0h2m0 0h2m0 0h2m-132 2h2m18 0h2m38 0h2m2 0h2m12 0h2m0 0h2m6 0h2m2 0h2m4 0h2m4 0h2m0 0h2m0 0h2m2 0h2m0 0h2m0 0h2m12 0h2m0 0h2m2 0h2m-132 2h2m44 0h2m2 0h2m8 0h2m10 0h2m2 0h2m2 0h2m0 0h2m0 0h2m14 0h2m6 0h2m0 0h2m0 0h2m-124 2h2m8 0h2m4 0h2m2 0h2m14 0h2m6 0h2m30 0h2m0 0h2m14 0h2m12 0h2m20 0h2m-128 2h2m0 0h2m0 0h2m2 0h2m4 0h2m80 0h2m8 0h2m2 0h2m0 0h2m-106 2h2m30 0h2m6 0h2m2 0h2m12 0h2m16 0h2m0 0h2m0 0h2m4 0h2m2 0h2m12 0h2m-96 2h2m0 0h2m22 0h2m12 0h2m10 0h2m6 0h2m12 0h2m0 0h2m0 0h2m2 0h2m2 0h2m2 0h2m2 0h2m-100 2h2m4 0h2m0 0h2m8 0h2m2 0h2m0 0h2m2 0h2m2 0h2m4 0h2m6 0h2m0 0h2m8 0h2m0 0h2m2 0h2m0 0h2m0 0h2m12 0h2m6 0h2m-78 2h2m4 0h2m4 0h2m12 0h2m12 0h2m0 0h2m4 0h2m8 0h2m-70 2h2m0 0h2m4 0h2m0 0h2m2 0h2m8 0h2m6 0h2m0 0h2m6 0h2m26 0h2m4 0h2m-60 2h2m8 0h2m20 0h2m28 0h2m-52 2h2m2 0h2m-16 2h2m0 0h2m10 0h2" stroke="#2494ff" stroke-width="2" fill="none"/><path d="M1806 152h2m-32 2h2m74 0h2m16 0h2m43 3h2m-125 1h2m-18 6h2m52 0h2m32 0h2m-78 2h2m2 0h2m74 0h2m-100 2h2m22 0h2m128 0h2m-144 4h2m126 0h2m-20 2h2m10 0h2m4 0h2m2 0h2m-138 2h2m10 0h2m8 0h2m0 0h2m102 0h2m0 0h2m2 0h2m-148 2h2m10 0h2m122 0h2m10 0h2m4 0h2m-146 2h2m118 0h2m6 0h2m2 0h2m14 0h2m-156 2h2m6 0h2m114 0h2m2 0h2m0 0h2m-74 2h2m12 0h2m50 0h2m4 0h2m0 0h2m10 0h2m6 0h2m-18 2h2m-146 2h2m120 0h2m16 0h2m-116 2h2m106 0h2m0 0h2m18 0h2m-62 2h2m24 0h2m14 0h2m2 0h2m10 0h2m-44 2h2m14 0h2m0 0h2m4 0h2m8 0h2m4 0h2m0 0h2m-138 2h2m104 0h2m28 0h2m-50 2h2m18 0h2m16 0h2m-146 1h2m102 1h2m10 0h2m0 0h2m2 0h2m0 0h2m-18 2h2m6 0h2m2 0h2m8 0h2m0 0h2m0 0h2m-20 2h2m14 0h2m0 0h2m2 0h2m6 0h2m-42 2h2m20 0h2m2 0h2m4 0h2m2 0h2m-36 2h2m2 0h2m-2 2h2m2 0h2m4 0h2m4 0h2m0 0h2m-34 2h2m0 0h2m6 0h2m-4 2h2m10 0h2m0 0h2m-42 2h2m10 0h2m8 0h2m0 0h2m10 0h2m-14 2h2m0 0h2m4 0h2m4 0h2m0 0h2m0 0h2m0 0h2m0 0h2m0 0h2m-42 2h2m30 0h2m6 0h2m-127 1h2m107 1h2m2 0h2m-50 2h2m20 0h2m0 0h2m2 0h2m2 0h2m6 0h2m0 0h2m6 0h2m-50 2h2m10 0h2m8 0h2m4 0h2m-118 2h2m14 0h2m8 0h2m100 0h2m-130 2h2m8 0h2m2 0h2m2 0h2m90 0h2m4 0h2m0 0h2m16 0h2m-124 2h2m0 0h2m2 0h2m4 0h2m0 0h2m52 0h2m6 0h2m14 0h2m6 0h2m2 0h2m-86 2h2m6 0h2m28 0h2m6 0h2m14 0h2m16 0h2m-126 2h2m14 0h2m16 0h2m14 0h2m0 0h2m54 0h2m14 0h2m6 0h2m-80 2h2m10 0h2m12 0h2m2 0h2m2 0h2m18 0h2m0 0h2m10 0h2m0 0h2m6 0h2m-130 2h2m4 0h2m0 0h2m2 0h2m28 0h2m4 0h2m4 0h2m10 0h2m0 0h2m10 0h2m0 0h2m20 0h2m6 0h2m2 0h2m12 0h2m-128 2h2m16 0h2m18 0h2m4 0h2m10 0h2m20 0h2m8 0h2m10 0h2m2 0h2m8 0h2m2 0h2m-112 2h2m24 0h2m10 0h2m20 0h2m2 0h2m8 0h2m0 0h2m10 0h2m0 0h2m0 0h2m2 0h2m2 0h2m-122 2h2m10 0h2m0 0h2m20 0h2m10 0h2m4 0h2m4 0h2m22 0h2m10 0h2m0 0h2m-86 2h2m2 0h2m32 0h2m0 0h2m4 0h2m0 0h2m38 0h2m8 0h2m0 0h2m14 0h2m-126 2h2m44 0h2m0 0h2m0 0h2m12 0h2m2 0h2m2 0h2m0 0h2m0 0h2m4 0h2m4 0h2m12 0h2m8 0h2m4 0h2m-92 2h2m34 0h2m2 0h2m0 0h2m16 0h2m2 0h2m16 0h2m-116 2h2m6 0h2m0 0h2m4 0h2m6 0h2m4 0h2m10 0h2m6 0h2m14 0h2m2 0h2m0 0h2m6 0h2m0 0h2m8 0h2m4 0h2m-104 2h2m8 0h2m2 0h2m0 0h2m8 0h2m54 0h2m14 0h2m6 0h2m2 0h2m-100 2h2m32 0h2m8 0h2m24 0h2m0 0h2m0 0h2m0 0h2m4 0h2m0 0h2m2 0h2m16 0h2m-98 2h2m0 0h2m2 0h2m16 0h2m4 0h2m4 0h2m2 0h2m10 0h2m6 0h2m0 0h2m0 0h2m16 0h2m4 0h2m-92 2h2m4 0h2m0 0h2m6 0h2m8 0h2m4 0h2m4 0h2m0 0h2m2 0h2m0 0h2m6 0h2m0 0h2m0 0h2m0 0h2m26 0h2m2 0h2m4 0h2m4 0h2m-120 2h2m8 0h2m8 0h2m0 0h2m4 0h2m18 0h2m6 0h2m0 0h2m0 0h2m10 0h2m6 0h2m0 0h2m-76 2h2m10 0h2m8 0h2m32 0h2m0 0h2m20 0h2m16 0h2m-90 2h2m2 0h2m2 0h2m4 0h2m12 0h2m4 0h2m52 0h2m-100 2h2m16 0h2m48 0h2m-38 2h2" stroke="#1ec4f0" stroke-width="2" fill="none"/><path d="M1840 160h2m-6 8h2m40 0h2m26 0h2m8 0h2m-4 2h2m-156 2h2m154 0h2m-128 2h2m108 2h2m12 0h2m2 0h2m-22 2h2m10 0h2m0 0h2m12 0h2m-16 2h2m2 0h2m-2 2h2m6 0h2m-20 2h2m-18 2h2m4 0h2m4 0h2m4 0h2m4 0h2m-102 2h2m82 0h2m14 0h2m2 0h2m-16 2h2m2 0h2m-34 2h2m8 0h2m8 0h2m8 2h2m-26 2h2m10 0h2m10 0h2m4 0h2m-34 2h2m8 0h2m6 0h2m-10 2h2m2 0h2m4 0h2m-16 2h2m14 0h2m4 0h2m-42 2h2m2 0h2m12 0h2m-18 2h2m14 0h2m0 0h2m2 0h2m8 0h2m-28 2h2m4 0h2m6 0h2m0 0h2m4 0h2m2 0h2m-34 2h2m4 0h2m4 0h2m4 0h2m-18 2h2m4 0h2m4 0h2m14 0h2m-16 2h2m0 0h2m4 0h2m-28 2h2m6 0h2m-22 4h2m4 0h2m0 0h2m-18 2h2m14 0h2m0 0h2m0 0h2m0 0h2m0 0h2m12 0h2m-26 4h2m6 0h2m2 0h2m-110 2h2m8 0h2m70 0h2m4 0h2m2 0h2m4 0h2m4 0h2m-24 2h2m6 0h2m-116 2h2m18 0h2m10 0h2m12 0h2m-36 2h2m2 0h2m2 0h2m6 0h2m104 0h2m-116 2h2m6 0h2m10 0h2m28 0h2m36 0h2m-106 2h2m2 0h2m30 0h2m80 0h2m-124 2h2m34 0h2m2 0h2m6 0h2m10 0h2m20 0h2m0 0h2m8 0h2m-98 2h2m4 0h2m0 0h2m2 0h2m10 0h2m40 0h2m6 0h2m12 0h2m4 0h2m14 0h2m-52 2h2m14 0h2m26 0h2m14 0h2m-124 2h2m18 0h2m2 0h2m12 0h2m14 0h2m6 0h2m2 0h2m4 0h2m4 0h2m0 0h2m4 0h2m6 0h2m2 0h2m4 0h2m2 0h2m10 0h2m-122 2h2m34 0h2m10 0h2m6 0h2m2 0h2m8 0h2m12 0h2m-82 2h2m4 0h2m2 0h2m8 0h2m6 0h2m8 0h2m6 0h2m0 0h2m0 0h2m4 0h2m6 0h2m6 0h2m16 0h2m8 0h2m-118 2h2m54 0h2m4 0h2m0 0h2m2 0h2m2 0h2m2 0h2m4 0h2m2 0h2m0 0h2m0 0h2m-80 2h2m6 0h2m4 0h2m38 0h2m2 0h2m18 0h2m-94 2h2m20 0h2m0 0h2m40 0h2m8 0h2m12 0h2m8 0h2m6 0h2m24 0h2m-128 2h2m4 0h2m12 0h2m18 0h2m2 0h2m0 0h2m8 0h2m0 0h2m0 0h2m6 0h2m6 0h2m8 0h2m6 0h2m14 0h2m-98 2h2m36 0h2m12 0h2m0 0h2m4 0h2m14 0h2m6 0h2m-86 2h2m10 0h2m0 0h2m10 0h2m24 0h2m0 0h2m10 0h2m8 0h2m-78 2h2m4 0h2m16 0h2m8 0h2m30 0h2m14 0h2m-84 2h2m8 0h2m28 0h2m6 0h2m-48 2h2m18 0h2m8 0h2m8 0h2m24 0h2m22 0h2m-70 2h2m2 0h2m2 0h2m4 0h2m18 0h2m-42 4h2" stroke="#20d8b4" stroke-width="2" fill="none"/><path d="M1766 166h2m156 0h2m-16 10h2m8 0h2m-4 2h2m-140 2h2m118 0h2m8 0h2m2 0h2m-12 2h2m4 0h2m6 0h2m-2 2h2m-8 2h2m-14 2h2m4 0h2m4 0h2m-74 2h2m46 0h2m20 0h2m0 0h2m2 0h2m-36 2h2m8 0h2m18 0h2m0 0h2m-34 2h2m18 0h2m-14 2h2m-8 2h2m0 0h2m6 0h2m-8 2h2m-16 2h2m0 0h2m2 0h2m2 0h2m4 0h2m14 0h2m-44 2h2m10 0h2m6 0h2m6 0h2m-20 2h2m4 0h2m0 0h2m4 2h2m4 0h2m-32 2h2m6 0h2m6 0h2m12 0h2m-22 2h2m0 0h2m-14 2h2m12 0h2m-18 2h2m6 0h2m0 0h2m0 0h2m14 0h2m-16 2h2m-18 2h2m6 0h2m2 0h2m0 0h2m0 0h2m2 0h2m-2 2h2m-18 2h2m2 0h2m-14 2h2m0 0h2m4 0h2m2 0h2m-102 2h2m66 0h2m-70 2h2m-14 2h2m8 0h2m86 0h2m-100 2h2m18 0h2m6 0h2m60 0h2m2 0h2m4 0h2m4 0h2m2 0h2m0 0h2m-116 2h2m4 0h2m92 0h2m0 0h2m-110 2h2m2 0h2m4 0h2m2 0h2m6 0h2m2 0h2m14 0h2m54 0h2m4 0h2m0 0h2m-108 2h2m8 0h2m10 0h2m12 0h2m36 0h2m42 0h2m-114 2h2m2 0h2m8 0h2m2 0h2m0 0h2m0 0h2m0 0h2m52 0h2m32 0h2m-124 2h2m6 0h2m2 0h2m16 0h2m6 0h2m2 0h2m6 0h2m32 0h2m6 0h2m-84 2h2m16 0h2m60 0h2m-78 2h2m2 0h2m24 0h2m24 0h2m34 0h2m-108 2h2m4 0h2m16 0h2m46 0h2m8 0h2m-76 2h2m6 0h2m0 0h2m10 0h2m0 0h2m0 0h2m0 0h2m36 0h2m2 0h2m10 0h2m-100 2h2m32 0h2m4 0h2m10 0h2m10 0h2m18 0h2m-72 2h2m8 0h2m8 0h2m20 0h2m-40 2h2m0 0h2m2 0h2m20 0h2m46 0h2m0 0h2m2 0h2m-78 2h2m14 0h2m4 0h2m8 0h2m0 0h2m0 0h2m6 0h2m2 0h2m14 0h2m2 0h2m-86 2h2m20 0h2m0 0h2m6 0h2m6 0h2m4 0h2m18 0h2m18 0h2m-68 2h2m12 0h2m4 0h2m0 0h2m-40 2h2m26 2h2m12 0h2" stroke="#30dc78" stroke-width="2" fill="none"/><path d="M1806 162h2m110 10h2m-4 2h2m-2 2h2m-8 10h2m4 0h2m-16 4h2m-12 6h2m2 0h2m6 0h2m-4 2h2m-22 2h2m12 0h2m0 0h2m-2 2h2m-30 2h2m2 10h2m10 2h2m-26 2h2m6 2h2m-6 4h2m-18 4h2m8 0h2m-16 2h2m16 0h2m-6 2h2m-96 4h2m-2 2h2m12 0h2m68 0h2m-98 2h2m16 0h2m2 0h2m84 0h2m-108 2h2m8 0h2m-10 2h2m42 0h2m4 0h2m2 0h2m16 0h2m16 0h2m12 0h2m-116 2h2m6 0h2m10 0h2m4 0h2m4 0h2m20 0h2m2 0h2m-62 2h2m4 0h2m0 0h2m46 0h2m14 0h2m4 0h2m20 0h2m-110 2h2m18 0h2m16 0h2m24 0h2m16 0h2m-78 2h2m0 0h2m8 0h2m28 0h2m-44 2h2m22 0h2m2 0h2m4 0h2m6 0h2m-20 2h2m2 0h2m0 0h2m8 0h2m2 0h2m4 0h2m32 0h2m-72 2h2m6 0h2m12 0h2m12 0h2m-28 2h2m8 0h2m-18 2h2m56 0h2m-64 2h2m12 4h2m-8 2h2m58 0h2" stroke="#5ee640" stroke-width="2" fill="none"/><path d="M1908 182h2m-6 2h2m4 0h2m-4 4h2m-4 2h2m-18 2h2m14 0h2m0 0h2m-6 2h2m-8 2h2m0 0h2m-10 2h2m6 0h2m-10 2h2m-10 6h2m-14 2h2m6 0h2m-2 4h2m0 4h2m-14 2h2m-12 4h2m0 0h2m10 2h2m-28 2h2m16 0h2m-2 2h2m-16 4h2m2 0h2m6 0h2m-116 2h2m12 0h2m0 0h2m96 2h2m-112 2h2m0 0h2m6 0h2m2 0h2m2 0h2m12 0h2m-32 2h2m2 0h2m0 0h2m0 0h2m0 0h2m0 0h2m88 0h2m-110 2h2m10 0h2m6 0h2m12 0h2m4 0h2m52 0h2m8 0h2m6 0h2m-122 2h2m2 0h2m0 0h2m10 0h2m2 0h2m0 0h2m0 0h2m0 0h2m0 0h2m4 0h2m4 0h2m-34 2h2m6 0h2m2 0h2m4 0h2m10 0h2m-42 2h2m6 0h2m4 0h2m2 0h2m2 0h2m0 0h2m0 0h2m0 0h2m0 0h2m2 0h2m0 0h2m40 0h2m4 0h2m-82 2h2m6 0h2m0 0h2m2 0h2m2 0h2m0 0h2m4 0h2m0 0h2m2 0h2m-30 2h2m2 0h2m2 0h2m6 0h2m0 0h2m0 0h2m0 0h2m10 0h2m-32 2h2m2 0h2m0 0h2m2 0h2m0 0h2m12 0h2m2 0h2m40 0h2m-76 2h2m2 0h2m0 0h2m2 0h2m0 0h2m0 0h2m8 0h2m0 0h2m0 0h2m16 0h2m30 0h2m-88 2h2m4 0h2m12 0h2m2 0h2m-16 2h2m2 0h2m2 0h2m0 0h2m4 0h2m0 0h2m60 0h2m-84 2h2m6 2h2m6 0h2m2 0h2m2 0h2m-8 2h2" stroke="#b4ee28" stroke-width="2" fill="none"/></g>
<rect x="1719.8" y="51.1" width="231" height="227" fill="none" stroke="#777" stroke-width="2"/>
<path d="M1772.9 278.1v6.5M1783 278.1v6.5M1790.2 278.1v6.5M1800.3 278.1v6.5M1804.2 278.1v6.5M1807.5 278.1v6.5M1810.5 278.1v6.5M1830.4 278.1v6.5M1840.5 278.1v6.5M1847.7 278.1v6.5M1857.8 278.1v6.5M1861.7 278.1v6.5M1865 278.1v6.5M1868 278.1v6.5M1887.9 278.1v6.5M1898 278.1v6.5M1905.2 278.1v6.5M1915.3 278.1v6.5M1919.2 278.1v6.5M1922.5 278.1v6.5M1925.5 278.1v6.5M1945.4 278.1v6.5M1731.2 278.1v6.5M1735.8 278.1v6.5M1739.6 278.1v6.5M1745.3 278.1v6.5M1747.4 278.1v6.5M1749.4 278.1v6.5M1751.3 278.1v6.5M1719.8 114.5h-6.5M1719.8 104.4h-6.5M1719.8 97.2h-6.5M1719.8 87.1h-6.5M1719.8 83.2h-6.5M1719.8 79.9h-6.5M1719.8 76.9h-6.5M1719.8 172h-6.5M1719.8 161.9h-6.5M1719.8 154.7h-6.5M1719.8 144.6h-6.5M1719.8 140.7h-6.5M1719.8 137.4h-6.5M1719.8 134.4h-6.5M1719.8 229.5h-6.5M1719.8 219.4h-6.5M1719.8 212.2h-6.5M1719.8 202.1h-6.5M1719.8 198.2h-6.5M1719.8 194.9h-6.5M1719.8 191.9h-6.5M1719.8 57h-6.5M1719.8 251.2h-6.5M1719.8 254.1h-6.5M1719.8 257.5h-6.5M1719.8 260.7h-6.5M1719.8 270.1h-6.5" stroke="#7a7a7a" stroke-width="1.6" fill="none"/><path d="M1795.8 278.1v9.5M1853.3 278.1v9.5M1910.8 278.1v9.5M1742.6 278.1v9.5M1719.8 91.6h-9.5M1719.8 149.1h-9.5M1719.8 206.6h-9.5M1719.8 265.1h-9.5" stroke="#6a6a6a" stroke-width="1.6" fill="none"/><path d="M1755.6 278.1v13M1813.1 278.1v13M1870.6 278.1v13M1928.1 278.1v13M1719.8 74.3h-13M1719.8 131.8h-13M1719.8 189.3h-13M1719.8 246.8h-13" stroke="#4a4a4a" stroke-width="2.3" fill="none"/>
<path d="M1819.6 51.1 L1810.1 216.9 L1818.6 278.1" fill="none" stroke="#333" stroke-width="1.9" stroke-linejoin="miter"/>
<path d="M1719.8 226.3 L1810.1 216.9 L1877 220.7 L1950.8 227" fill="none" stroke="#333" stroke-width="1.9" stroke-linejoin="miter"/>
<path d="M1719.8 180.6 L1766.6 180.6 L1847 104.3 L1847 51.1" fill="none" stroke="#111" stroke-width="3.3" stroke-linejoin="miter"/>
<path d="M1855.5 278.1 L1855.5 246.8 L1950.8 158.5" fill="none" stroke="#111" stroke-width="3.3" stroke-linejoin="miter"/>
<text x="1719.3" y="318.6" text-anchor="middle" font-size="20">10<tspan font-size="13.5" dy="-9.6" dx="0.6">2</tspan></text><text x="1754.8" y="318.6" text-anchor="middle" font-size="20">10<tspan font-size="13.5" dy="-9.6" dx="0.6">3</tspan></text><text x="1812.3" y="318.6" text-anchor="middle" font-size="20">10<tspan font-size="13.5" dy="-9.6" dx="0.6">4</tspan></text><text x="1869.8" y="318.6" text-anchor="middle" font-size="20">10<tspan font-size="13.5" dy="-9.6" dx="0.6">5</tspan></text><text x="1927.3" y="318.6" text-anchor="middle" font-size="20">10<tspan font-size="13.5" dy="-9.6" dx="0.6">6</tspan></text><text x="1699.5" y="81.4" text-anchor="end" font-size="20">10<tspan font-size="13.5" dy="-10" dx="1">6</tspan></text><text x="1699.5" y="138.9" text-anchor="end" font-size="20">10<tspan font-size="13.5" dy="-10" dx="1">5</tspan></text><text x="1699.5" y="196.4" text-anchor="end" font-size="20">10<tspan font-size="13.5" dy="-10" dx="1">4</tspan></text><text x="1699.5" y="253.9" text-anchor="end" font-size="20">10<tspan font-size="13.5" dy="-10" dx="1">3</tspan></text><text x="1699.5" y="285.7" text-anchor="end" font-size="20">10<tspan font-size="13.5" dy="-10" dx="1">2</tspan></text><text x="1835.3" y="346" text-anchor="middle" font-size="21">Meso [25 nM]</text><text transform="translate(1655 164.1) rotate(-90)" text-anchor="middle" font-size="21">Anionic [12.5 nM]</text><text x="1737.6" y="90.1" font-size="21.3">4.8%</text><text x="1935.9" y="265.7" text-anchor="end" font-size="21.3">6.1%</text>
<clipPath id="c3"><rect x="1044.7" y="382.9" width="231" height="227"/></clipPath><g clip-path="url(#c3)"><path d="M1228 452h2m4 0h2m-17 2h2m1 0h2m-1 1h2m0 0h2m-6 1h2m10 0h2m-20 1h2m3 0h2m15 2h2m0 0h2m-31 1h2m23 1h2m0 1h2m-33 2h2m28 1h2m0 0h2m-33 1h2m44 0h2m-52 2h2m-3 1h2m-4 3h2m-6 1h2m38 0h2m-41 1h2m-6 1h2m-1 2h2m34 0h2m0 0h2m-41 1h2m30 0h2m0 0h2m22 0h2m-22 1h2m-46 1h2m34 0h2m-42 2h2m1 1h2m-3 1h2m53 0h2m9 0h2m-73 2h2m35 0h2m-37 1h2m52 0h2m-66 1h2m39 0h2m0 0h2m-39 1h2m-7 1h2m3 0h2m31 0h2m3 0h2m-42 1h2m42 0h2m-51 1h2m38 1h2m0 0h2m-42 1h2m-4 1h2m69 0h2m-74 1h2m-4 1h2m62 0h2m-69 1h2m36 0h2m1 1h2m4 0h2m-1 0h2m-50 1h2m32 0h2m1 0h2m9 1h2m3 0h2m23 0h2m-44 2h2m-43 1h2m33 0h2m12 0h2m-56 2h2m36 1h2m27 1h2m15 0h2m-90 1h2m0 0h2m39 0h2m-9 1h2m1 0h2m-1 0h2m21 0h2m-67 1h2m0 0h2m50 0h2m-3 1h2m-15 1h2m-44 1h2m36 0h2m11 1h2m-55 1h2m34 0h2m42 0h2m-33 1h2m9 0h2m-66 1h2m37 0h2m29 0h2m-32 1h2m-4 1h2m-43 1h2m42 0h2m65 0h2m-78 1h2m21 0h2m-22 1h2m-1 0h2m23 0h2m10 0h2m-84 1h2m47 0h2m9 0h2m1 0h2m13 0h2m-79 1h2m34 1h2m1 0h2m41 0h2m-87 1h2m44 0h2m14 0h2m1 0h2m25 0h2m-94 1h2m37 0h2m44 0h2m-90 1h2m39 1h2m-42 1h2m66 0h2m36 0h2m-110 1h2m33 0h2m12 0h2m-54 1h2m41 0h2m2 0h2m15 0h2m-19 1h2m8 0h2m29 0h2m-18 1h2m14 1h2m-55 1h2m-42 1h2m1 0h2m46 0h2m18 0h2m-35 1h2m42 0h2m-123 1h2m0 0h2m2 0h2m0 0h2m67 0h2m14 0h2m-82 1h2m118 0h2m-143 1h2m24 0h2m4 0h2m13 0h2m34 0h2m-70 1h2m14 0h2m52 0h2m-88 1h2m8 0h2m2 0h2m1 0h2m13 0h2m1 0h2m5 0h2m4 0h2m30 0h2m8 0h2m23 0h2m12 0h2m-130 1h2m4 0h2m7 0h2m11 0h2m15 0h2m-61 1h2m14 0h2m12 0h2m12 0h2m4 0h2m5 0h2m1 0h2m35 0h2m14 0h2m6 0h2m1 0h2m12 0h2m-143 1h2m19 0h2m7 0h2m6 0h2m16 0h2m0 0h2m38 0h2m11 0h2m13 0h2m35 0h2m-156 1h2m5 0h2m1 0h2m0 0h2m5 0h2m30 0h2m34 0h2m35 0h2m-136 1h2m11 0h2m4 0h2m5 0h2m12 0h2m0 0h2m11 0h2m38 0h2m11 0h2m7 0h2m0 0h2m16 0h2m-139 1h2m22 0h2m15 0h2m0 0h2m16 0h2m39 0h2m-110 1h2m15 0h2m-1 0h2m1 0h2m-1 0h2m0 0h2m3 0h2m2 0h2m-1 0h2m23 0h2m-1 0h2m38 0h2m5 0h2m30 0h2m-143 1h2m14 0h2m4 0h2m16 0h2m28 0h2m0 0h2m34 0h2m2 0h2m-108 1h2m13 0h2m3 0h2m73 0h2m-71 1h2m20 0h2m44 0h2m0 0h2m17 0h2m-1 0h2m-109 1h2m0 0h2m0 0h2m90 0h2m-104 1h2m2 0h2m0 0h2m-1 0h2m1 0h2m-1 0h2m4 0h2m36 0h2m28 0h2m2 0h2m4 0h2m50 0h2m-152 1h2m3 0h2m111 0h2m14 0h2m-129 1h2m3 0h2m72 0h2m2 0h2m0 0h2m40 0h2m-138 1h2m89 0h2m12 0h2m-1 0h2m-108 1h2m6 0h2m10 0h2m64 0h2m37 0h2m7 0h2m-42 1h2m-99 1h2m4 0h2m1 0h2m2 0h2m2 0h2m66 0h2m6 0h2m0 0h2m-5 1h2m3 0h2m45 0h2m-58 1h2m14 0h2m10 0h2m35 0h2m-151 1h2m87 0h2m1 0h2m24 0h2m20 0h2m-143 1h2m82 0h2m2 0h2m21 0h2m4 1h2m0 0h2m10 0h2m-48 1h2m4 0h2m5 0h2m29 0h2m-45 1h2m17 0h2m-25 1h2m16 0h2m2 0h2m11 0h2m3 0h2m-3 1h2m-25 1h2m5 0h2m5 0h2m6 0h2m8 0h2m-46 1h2m2 0h2m1 0h2m-1 0h2m7 0h2m1 0h2m1 0h2m-23 1h2m16 0h2m15 0h2m-31 1h2m13 0h2m10 0h2m-43 1h2m6 0h2m5 0h2m0 0h2m0 0h2m4 0h2m8 0h2m8 0h2m-34 2h2m15 0h2m3 0h2m-13 1h2m15 0h2m-31 1h2m3 0h2m7 0h2m32 0h2m-47 1h2m2 0h2m1 0h2m15 0h2m1 0h2m6 0h2m-44 1h2m10 0h2m40 0h2m-31 1h2m9 0h2m-29 1h2m4 0h2m25 0h2m9 0h2m-48 1h2m1 0h2m5 0h2m0 0h2m18 0h2m-35 1h2m2 0h2m1 0h2m0 0h2m-1 0h2m16 0h2m20 0h2m-39 1h2m1 0h2m1 0h2m-27 1h2m1 0h2m0 0h2m12 0h2m6 0h2m18 0h2m-42 1h2m2 0h2m1 0h2m13 0h2m2 0h2m-37 1h2m0 0h2m8 0h2m14 0h2m0 0h2m9 0h2m1 0h2m-38 1h2m5 0h2m4 0h2m-1 0h2m1 0h2m-117 1h2m0 0h2m88 0h2m4 0h2m25 0h2m-31 1h2m6 0h2m10 0h2m20 0h2m5 0h2m-57 1h2m11 0h2m1 0h2m-13 1h2m-1 0h2m6 0h2m5 0h2m1 0h2m-32 1h2m16 0h2m3 0h2m6 0h2m4 0h2m11 0h2m-46 1h2m0 0h2m3 0h2m-1 0h2m25 0h2m9 0h2m-122 1h2m62 0h2m27 0h2m1 0h2m-25 1h2m1 0h2m3 0h2m12 0h2m11 0h2m-42 1h2m1 0h2m6 0h2m2 0h2m-1 0h2m4 0h2m0 0h2m5 0h2m-29 1h2m0 0h2m0 0h2m3 0h2m12 0h2m3 0h2m1 0h2m-119 1h2m0 0h2m4 0h2m2 0h2m66 0h2m7 0h2m4 0h2m32 0h2m-132 1h2m92 0h2m2 0h2m5 0h2m1 0h2m0 0h2m0 0h2m0 0h2m-1 0h2m-46 1h2m4 0h2m0 0h2m5 0h2m8 0h2m10 0h2m9 0h2m-37 1h2m1 0h2m2 0h2m1 0h2m16 0h2m-114 1h2m13 0h2m40 0h2m27 0h2m21 0h2m-110 1h2m5 0h2m69 0h2m1 0h2m32 0h2m10 0h2m-130 1h2m0 0h2m-1 0h2m3 0h2m0 0h2m1 0h2m10 0h2m2 0h2m26 0h2m6 0h2m0 0h2m2 0h2m5 0h2m7 0h2m8 0h2m13 0h2m3 0h2m-114 1h2m4 0h2m62 0h2m16 0h2m12 0h2m5 0h2m0 0h2m-103 1h2m4 0h2m49 0h2m6 0h2m2 0h2m-1 0h2m13 0h2m6 0h2m10 0h2m8 0h2m-126 1h2m3 0h2m54 0h2m0 0h2m3 0h2m6 0h2m20 0h2m5 0h2" stroke="#8f8fff" stroke-width="2" fill="none"/><path d="M1228 455h2m-5 1h2m0 0h2m0 0h2m0 0h2m-16 2h2m10 0h2m0 0h2m0 0h2m-4 2h2m0 0h2m-20 2h2m16 0h2m-23 1h2m-5 1h2m22 2h2m-30 2h2m2 0h2m22 0h2m-2 4h2m-40 4h2m24 0h2m-2 2h2m-4 2h2m0 0h2m-33 1h2m-3 1h2m28 0h2m-34 2h2m-6 2h2m-6 4h2m2 0h2m24 0h2m-36 2h2m26 2h2m0 0h2m1 0h2m-39 2h2m28 0h2m3 0h2m-37 2h2m26 0h2m0 0h2m-8 2h2m0 0h2m-34 2h2m28 0h2m1 0h2m-11 2h2m2 0h2m-38 2h2m30 0h2m-36 2h2m32 0h2m-36 2h2m28 0h2m-34 2h2m28 0h2m-2 2h2m-8 2h2m0 0h2m-38 2h2m30 0h2m0 0h2m-8 4h2m-2 2h2m-39 2h2m-1 0h2m-6 2h2m0 0h2m33 0h2m-41 2h2m35 0h2m-41 2h2m-2 2h2m0 0h2m28 0h2m0 0h2m-42 2h2m30 0h2m0 0h2m-6 2h2m-34 2h2m28 0h2m0 0h2m0 1h2m-8 1h2m0 0h2m1 1h2m-35 1h2m24 0h2m-62 2h2m32 0h2m27 1h2m-5 1h2m-57 1h2m-1 0h2m-20 1h2m34 0h2m6 0h2m0 0h2m20 0h2m-59 1h2m5 0h2m4 0h2m3 0h2m12 0h2m27 0h2m-73 1h2m1 0h2m0 0h2m0 0h2m0 0h2m2 0h2m4 0h2m0 0h2m0 0h2m2 0h2m5 0h2m-1 0h2m2 0h2m26 0h2m-70 2h2m0 0h2m4 0h2m0 0h2m0 0h2m0 0h2m2 0h2m2 0h2m4 0h2m0 0h2m0 0h2m6 0h2m0 0h2m20 0h2m0 0h2m0 0h2m-78 1h2m0 0h2m0 0h2m8 1h2m14 0h2m0 0h2m0 0h2m2 0h2m10 0h2m0 0h2m2 0h2m10 0h2m0 0h2m0 0h2m8 0h2m-8 1h2m-82 1h2m2 0h2m0 0h2m0 0h2m4 0h2m4 0h2m4 0h2m0 0h2m0 0h2m2 0h2m6 0h2m0 0h2m6 0h2m4 0h2m4 0h2m4 0h2m-85 1h2m3 0h2m-1 1h2m-1 0h2m2 0h2m0 0h2m0 0h2m0 0h2m24 0h2m18 0h2m4 0h2m0 0h2m8 0h2m-74 2h2m2 0h2m2 0h2m2 0h2m10 0h2m4 0h2m26 0h2m0 0h2m0 0h2m2 0h2m2 0h2m4 0h2m-82 1h2m-4 1h2m0 0h2m0 0h2m2 0h2m2 0h2m0 0h2m2 0h2m8 0h2m22 0h2m8 0h2m4 0h2m2 0h2m0 0h2m0 0h2m2 0h2m-86 1h2m-2 1h2m6 0h2m0 0h2m0 0h2m0 0h2m4 0h2m44 0h2m6 0h2m2 0h2m0 0h2m0 0h2m-85 2h2m69 0h2m0 0h2m0 0h2m4 0h2m2 0h2m5 0h2m-95 2h2m4 0h2m2 0h2m58 0h2m12 0h2m-86 2h2m0 0h2m0 0h2m0 0h2m0 0h2m4 0h2m56 0h2m4 0h2m0 0h2m0 0h2m2 0h2m0 0h2m-90 2h2m0 0h2m72 0h2m2 0h2m4 0h2m2 0h2m-92 2h2m0 0h2m4 0h2m72 0h2m2 0h2m2 0h2m2 1h2m-96 1h2m0 0h2m80 0h2m0 0h2m0 0h2m0 0h2m3 0h2m-97 2h2m0 0h2m0 0h2m2 0h2m72 0h2m0 0h2m2 0h2m2 0h2m1 0h2m-87 2h2m68 0h2m2 0h2m0 0h2m0 0h2m0 0h2m4 0h2m3 0h2m-5 1h2m-20 1h2m0 0h2m0 0h2m4 0h2m-92 2h2m0 0h2m4 0h2m78 0h2m0 0h2m5 0h2m-99 2h2m4 0h2m0 0h2m76 0h2m0 0h2m0 0h2m8 1h2m-102 1h2m4 0h2m2 0h2m60 0h2m2 0h2m2 0h2m6 0h2m6 0h2m-4 1h2m-90 1h2m0 0h2m4 0h2m66 0h2m4 0h2m0 0h2m-92 2h2m0 0h2m2 0h2m0 0h2m70 0h2m0 0h2m0 0h2m0 0h2m0 0h2m8 0h2m-7 1h2m-95 1h2m0 0h2m10 0h2m62 0h2m8 0h2m5 1h2m-87 1h2m2 0h2m48 0h2m0 0h2m6 0h2m2 0h2m-76 2h2m0 0h2m0 0h2m0 0h2m2 0h2m0 0h2m0 0h2m30 0h2m14 0h2m6 0h2m4 0h2m-76 2h2m0 0h2m2 0h2m2 0h2m4 0h2m40 0h2m0 0h2m2 0h2m2 0h2m0 0h2m6 1h2m3 0h2m2 0h2m-93 1h2m4 0h2m2 0h2m0 0h2m0 0h2m4 0h2m0 0h2m4 0h2m4 0h2m4 0h2m18 0h2m0 0h2m8 0h2m0 0h2m23 1h2m-91 1h2m4 0h2m0 0h2m0 0h2m4 0h2m0 0h2m0 0h2m0 0h2m2 0h2m12 0h2m0 0h2m10 0h2m0 0h2m0 0h2m2 0h2m9 0h2m-81 1h2m8 1h2m2 0h2m2 0h2m8 0h2m4 0h2m0 0h2m4 0h2m0 0h2m0 0h2m2 0h2m4 0h2m0 0h2m4 0h2m-57 2h2m11 0h2m2 0h2m2 0h2m0 0h2m0 0h2m0 0h2m0 0h2m10 0h2m0 0h2m0 0h2m0 0h2m0 0h2m-47 1h2" stroke="#6262ff" stroke-width="2" fill="none"/><path d="M1223 456h2m-6 2h2m0 0h2m0 0h2m0 0h2m-12 2h2m12 0h2m-18 2h2m2 0h2m12 0h2m-22 2h2m20 0h2m-24 2h2m18 0h2m-26 2h2m20 0h2m0 0h2m-28 2h2m0 0h2m20 0h2m0 0h2m-32 2h2m16 0h2m8 0h2m-32 2h2m2 0h2m2 0h2m20 0h2m-34 2h2m26 0h2m-32 2h2m0 0h2m18 0h2m4 0h2m-34 2h2m0 0h2m0 0h2m20 0h2m-32 2h2m4 0h2m18 0h2m0 0h2m0 0h2m-28 2h2m18 0h2m0 0h2m-30 2h2m0 0h2m22 0h2m0 0h2m-34 2h2m0 0h2m22 0h2m0 0h2m0 0h2m-32 2h2m22 0h2m-28 2h2m0 0h2m22 0h2m3 0h2m-35 2h2m-6 2h2m24 0h2m2 0h2m-36 2h2m4 0h2m2 0h2m14 0h2m-28 2h2m22 0h2m-32 2h2m2 0h2m0 0h2m22 0h2m-34 2h2m0 0h2m22 0h2m-30 2h2m0 0h2m2 0h2m-10 2h2m0 0h2m0 0h2m18 0h2m2 0h2m4 1h2m-40 1h2m28 0h2m-34 2h2m28 0h2m-34 2h2m0 0h2m26 0h2m0 0h2m-36 2h2m-4 2h2m24 0h2m0 0h2m-34 2h2m0 0h2m0 0h2m26 0h2m-34 2h2m0 0h2m22 0h2m-32 2h2m0 0h2m-4 2h2m26 0h2m0 0h2m-34 2h2m24 0h2m0 0h2m0 0h2m-30 2h2m20 0h2m0 0h2m-34 2h2m0 0h2m6 0h2m18 0h2m-4 2h2m-34 2h2m0 0h2m-4 2h2m26 0h2m-34 2h2m0 0h2m22 0h2m-28 2h2m0 0h2m20 0h2m-26 2h2m20 0h2m-8 2h2m-20 2h2m18 0h2m0 0h2m0 0h2m-24 2h2m14 0h2m0 0h2m2 0h2m-34 1h2m-37 1h2m13 0h2m10 0h2m14 0h2m16 0h2m0 0h2m3 1h2m-75 1h2m6 0h2m8 0h2m6 0h2m8 0h2m0 0h2m6 0h2m0 0h2m0 0h2m0 0h2m0 0h2m2 0h2m0 0h2m0 0h2m-68 2h2m0 0h2m4 0h2m0 0h2m6 0h2m0 0h2m0 0h2m2 0h2m6 0h2m2 0h2m4 0h2m0 0h2m12 0h2m0 0h2m-60 2h2m0 0h2m2 0h2m4 0h2m12 0h2m0 0h2m6 0h2m8 0h2m2 0h2m0 0h2m-58 2h2m6 0h2m0 0h2m2 0h2m4 0h2m4 0h2m0 0h2m2 0h2m0 0h2m0 0h2m0 0h2m2 0h2m4 0h2m6 0h2m2 0h2m2 0h2m0 0h2m-68 2h2m2 0h2m0 0h2m0 0h2m8 0h2m12 0h2m2 0h2m0 0h2m0 0h2m2 0h2m0 0h2m6 0h2m2 0h2m2 0h2m-74 2h2m2 0h2m4 0h2m2 0h2m2 0h2m6 0h2m8 0h2m0 0h2m8 0h2m0 0h2m0 0h2m0 0h2m4 0h2m10 0h2m-78 2h2m10 0h2m2 0h2m2 0h2m2 0h2m2 0h2m0 0h2m0 0h2m6 0h2m8 0h2m2 0h2m6 0h2m2 0h2m-72 2h2m6 0h2m2 0h2m2 0h2m0 0h2m18 0h2m10 0h2m2 0h2m4 0h2m12 0h2m4 0h2m-78 2h2m2 0h2m0 0h2m2 0h2m26 0h2m2 0h2m4 0h2m2 0h2m6 0h2m6 0h2m0 0h2m0 0h2m0 0h2m4 0h2m-80 2h2m0 0h2m4 0h2m6 0h2m34 0h2m10 0h2m0 0h2m-74 2h2m0 0h2m0 0h2m0 0h2m0 0h2m4 0h2m0 0h2m0 0h2m2 0h2m34 0h2m10 0h2m2 0h2m2 0h2m-80 2h2m0 0h2m2 0h2m0 0h2m0 0h2m54 0h2m2 0h2m2 0h2m-76 2h2m0 0h2m0 0h2m0 0h2m64 0h2m0 0h2m2 0h2m-78 2h2m4 0h2m6 0h2m0 0h2m40 0h2m0 0h2m2 0h2m4 0h2m0 0h2m0 0h2m4 0h2m-86 2h2m0 0h2m0 0h2m0 0h2m4 0h2m50 0h2m4 0h2m0 0h2m0 0h2m4 0h2m-84 2h2m2 0h2m0 0h2m4 0h2m8 0h2m12 0h2m32 0h2m4 0h2m8 0h2m-84 2h2m6 0h2m4 0h2m50 0h2m4 0h2m2 0h2m0 0h2m0 0h2m0 0h2m6 0h2m-94 2h2m0 0h2m4 0h2m4 0h2m0 0h2m14 0h2m26 0h2m0 0h2m0 0h2m0 0h2m2 0h2m2 0h2m2 0h2m0 0h2m0 0h2m-78 2h2m10 0h2m18 0h2m4 0h2m26 0h2m2 0h2m2 0h2m0 0h2m-82 2h2m4 0h2m4 0h2m4 0h2m4 0h2m0 0h2m30 0h2m0 0h2m2 0h2m2 0h2m0 0h2m0 0h2m0 0h2m6 0h2m-84 2h2m4 0h2m0 0h2m0 0h2m0 0h2m0 0h2m0 0h2m0 0h2m8 0h2m16 0h2m12 0h2m0 0h2m0 0h2m2 0h2m0 0h2m0 0h2m0 0h2m-76 2h2m0 0h2m0 0h2m0 0h2m0 0h2m2 0h2m0 0h2m0 0h2m2 0h2m10 0h2m22 0h2m6 0h2m0 0h2m0 0h2m0 0h2m0 0h2m2 0h2m0 0h2m-82 2h2m0 0h2m0 0h2m0 0h2m2 0h2m4 0h2m0 0h2m0 0h2m0 0h2m0 0h2m16 0h2m0 0h2m6 0h2m0 0h2m4 0h2m4 0h2m0 0h2m0 0h2m-62 2h2m14 0h2m2 0h2m0 0h2m4 0h2m10 0h2m2 0h2m0 0h2m0 0h2m0 0h2m0 0h2m2 0h2m0 0h2m6 0h2m2 0h2m-66 2h2m0 0h2m2 0h2m0 0h2m0 0h2m2 0h2m10 0h2m2 0h2m2 0h2m0 0h2m4 0h2m6 0h2m-66 2h2m12 0h2m6 0h2m0 0h2m2 0h2m0 0h2m4 0h2m4 0h2m0 0h2m0 0h2m0 0h2m4 0h2m8 0h2m0 0h2m-62 2h2m12 0h2m0 0h2m8 0h2m2 0h2m0 0h2m0 0h2m0 0h2m2 0h2m4 0h2m4 0h2m0 0h2m-44 2h2m4 0h2m2 0h2m4 0h2m14 0h2m-32 2h2m24 0h2m2 0h2" stroke="#3a3aff" stroke-width="2" fill="none"/><path d="M1227 458h2m-12 2h2m0 0h2m0 0h2m6 2h2m-4 2h2m0 0h2m0 0h2m-24 2h2m4 0h2m12 0h2m-18 2h2m-12 4h2m-4 2h2m20 0h2m-26 2h2m0 0h2m12 2h2m-26 4h2m-4 2h2m16 0h2m0 0h2m4 0h2m-26 2h2m0 0h2m4 0h2m8 0h2m-26 2h2m-2 2h2m0 0h2m14 0h2m2 0h2m-24 2h2m10 0h2m4 0h2m-20 2h2m12 0h2m0 0h2m-28 2h2m0 0h2m4 0h2m8 0h2m2 0h2m-6 2h2m2 0h2m-22 2h2m12 0h2m-8 2h2m-22 2h2m0 0h2m14 0h2m2 2h2m-26 2h2m18 0h2m-28 2h2m0 0h2m0 0h2m18 0h2m-28 2h2m20 0h2m-26 2h2m18 0h2m2 0h2m-4 2h2m-30 2h2m2 0h2m18 2h2m-10 2h2m-24 2h2m22 0h2m0 0h2m-30 2h2m14 2h2m-24 2h2m22 2h2m-28 2h2m22 0h2m-8 2h2m-28 2h2m6 0h2m8 0h2m6 0h2m-20 2h2m10 0h2m-4 2h2m-2 2h2m-2 2h2m-22 2h2m10 0h2m0 0h2m0 0h2m-12 2h2m4 0h2m0 0h2m-16 2h2m0 0h2m0 0h2m0 0h2m4 0h2m0 0h2m-44 2h2m40 0h2m-56 2h2m8 0h2m30 0h2m0 0h2m4 0h2m-54 2h2m12 0h2m20 0h2m12 0h2m-60 2h2m6 0h2m2 0h2m4 0h2m6 0h2m8 0h2m12 0h2m2 0h2m-50 2h2m0 0h2m2 0h2m4 0h2m0 0h2m0 0h2m0 0h2m0 0h2m2 0h2m-22 2h2m14 0h2m2 0h2m12 0h2m-46 2h2m6 0h2m16 0h2m0 0h2m8 0h2m0 0h2m4 0h2m-66 2h2m0 0h2m6 0h2m6 0h2m0 0h2m4 0h2m2 0h2m10 0h2m0 0h2m2 0h2m4 0h2m2 0h2m0 0h2m-54 2h2m4 0h2m2 0h2m0 0h2m6 0h2m6 0h2m16 0h2m0 0h2m6 0h2m-58 2h2m14 0h2m0 0h2m2 0h2m6 0h2m12 0h2m4 0h2m-52 2h2m10 0h2m0 0h2m4 0h2m10 0h2m4 0h2m4 0h2m2 0h2m0 0h2m0 0h2m0 0h2m0 0h2m10 0h2m-70 2h2m0 0h2m6 0h2m26 0h2m8 0h2m2 0h2m2 0h2m2 0h2m2 0h2m-70 2h2m0 0h2m2 0h2m0 0h2m2 0h2m2 0h2m0 0h2m20 0h2m8 0h2m0 0h2m0 0h2m2 0h2m2 0h2m4 0h2m-72 2h2m4 0h2m8 0h2m12 0h2m6 0h2m24 0h2m-64 2h2m2 0h2m0 0h2m2 0h2m0 0h2m0 0h2m32 0h2m6 0h2m8 0h2m-78 2h2m6 0h2m6 0h2m0 0h2m4 0h2m36 0h2m6 0h2m0 0h2m2 0h2m-74 2h2m2 0h2m8 0h2m0 0h2m4 0h2m6 0h2m22 0h2m12 0h2m2 0h2m-68 2h2m0 0h2m6 0h2m2 0h2m22 0h2m6 0h2m0 0h2m8 0h2m2 0h2m2 0h2m-68 2h2m0 0h2m2 0h2m4 0h2m0 0h2m6 0h2m22 0h2m0 0h2m2 0h2m0 0h2m2 0h2m-60 2h2m4 0h2m0 0h2m2 0h2m10 0h2m8 0h2m10 0h2m6 0h2m2 0h2m8 0h2m2 0h2m-60 2h2m14 0h2m4 0h2m8 0h2m0 0h2m-40 2h2m2 0h2m0 0h2m0 0h2m2 0h2m8 0h2m0 0h2m4 0h2m2 0h2m0 0h2m2 0h2m0 0h2m0 0h2m-38 2h2m0 0h2m2 0h2m4 0h2m14 0h2m16 0h2m-58 2h2m0 0h2m0 0h2m10 0h2m8 0h2m6 0h2m16 0h2m-44 2h2m8 0h2m4 0h2m2 0h2m4 0h2m4 0h2m8 0h2m-36 2h2m16 0h2m2 0h2m4 0h2m-24 4h2" stroke="#2a5cff" stroke-width="2" fill="none"/><path d="M1225 460h2m0 0h2m-14 4h2m4 0h2m-10 2h2m6 0h2m-12 2h2m14 0h2m-20 2h2m6 0h2m6 0h2m0 0h2m-24 2h2m2 0h2m6 0h2m4 0h2m-8 2h2m0 0h2m6 0h2m-24 2h2m16 0h2m-18 2h2m10 0h2m-14 2h2m6 0h2m-20 2h2m2 2h2m-14 2h2m6 0h2m2 0h2m4 0h2m-22 2h2m0 0h2m12 0h2m0 0h2m-18 2h2m6 0h2m-16 2h2m16 0h2m-16 4h2m2 0h2m-20 2h2m2 0h2m-8 2h2m0 0h2m12 0h2m-2 2h2m0 0h2m0 0h2m-24 2h2m8 0h2m10 0h2m-26 2h2m18 2h2m-10 2h2m-24 2h2m20 0h2m-26 2h2m18 0h2m-4 2h2m-26 2h2m-4 2h2m-2 2h2m0 0h2m4 0h2m6 2h2m-18 2h2m10 0h2m0 0h2m-22 2h2m8 2h2m2 0h2m-24 2h2m18 0h2m0 0h2m-8 2h2m-22 2h2m0 0h2m6 0h2m6 0h2m2 0h2m-8 2h2m0 0h2m-4 2h2m-22 2h2m0 0h2m4 0h2m8 0h2m-22 4h2m-2 2h2m-2 2h2m4 2h2m0 0h2m-6 2h2m-10 2h2m-10 2h2m-40 2h2m10 0h2m22 2h2m-38 2h2m2 0h2m6 0h2m0 0h2m0 0h2m0 0h2m6 0h2m-38 2h2m10 0h2m10 0h2m0 0h2m0 0h2m2 0h2m4 0h2m-34 2h2m4 0h2m0 0h2m36 0h2m-52 2h2m8 0h2m2 0h2m18 0h2m10 0h2m6 0h2m-56 2h2m0 0h2m4 0h2m28 0h2m4 0h2m2 0h2m-56 2h2m8 0h2m6 0h2m10 0h2m10 0h2m0 0h2m-40 2h2m10 0h2m0 0h2m6 0h2m16 0h2m4 0h2m-46 2h2m14 0h2m0 0h2m6 0h2m10 0h2m6 0h2m2 0h2m-60 2h2m2 0h2m4 0h2m4 0h2m-2 2h2m20 0h2m0 0h2m2 0h2m2 0h2m0 0h2m4 0h2m-64 2h2m14 0h2m4 0h2m0 0h2m8 0h2m22 0h2m0 0h2m-56 2h2m14 0h2m22 0h2m2 0h2m8 0h2m2 0h2m-54 2h2m8 0h2m0 0h2m18 0h2m0 0h2m0 0h2m-42 2h2m4 0h2m4 0h2m12 0h2m4 0h2m4 0h2m0 0h2m-26 2h2m0 0h2m2 0h2m0 0h2m8 0h2m4 0h2m2 0h2m-34 2h2m4 0h2m0 0h2m6 0h2m0 0h2m4 0h2m0 0h2m0 0h2m4 0h2m6 0h2m-34 2h2m2 0h2m-10 2h2m4 0h2m6 0h2m10 0h2m-36 2h2m2 0h2m6 0h2m2 0h2m4 0h2m-16 2h2m0 0h2m0 0h2m2 0h2m0 2h2m8 0h2m-10 4h2" stroke="#2494ff" stroke-width="2" fill="none"/><path d="M1219 462h2m2 0h2m-8 2h2m-2 2h2m8 0h2m-12 2h2m6 0h2m-16 2h2m10 0h2m-18 2h2m18 0h2m-8 2h2m2 0h2m-24 2h2m2 0h2m0 0h2m2 0h2m2 0h2m-18 2h2m-8 4h2m2 0h2m4 0h2m-12 2h2m2 0h2m4 0h2m-12 2h2m6 0h2m0 0h2m-16 2h2m-12 6h2m4 0h2m0 0h2m2 0h2m-14 2h2m2 0h2m8 0h2m-8 2h2m-6 2h2m-16 2h2m10 0h2m-10 2h2m8 2h2m-18 2h2m-6 2h2m-8 2h2m6 0h2m0 0h2m2 0h2m-8 2h2m2 0h2m-24 2h2m0 0h2m4 0h2m8 0h2m2 0h2m-8 4h2m2 0h2m-26 2h2m18 0h2m-24 2h2m2 0h2m-8 2h2m14 0h2m-2 2h2m-16 2h2m4 0h2m6 0h2m-24 2h2m10 0h2m-16 2h2m2 0h2m12 0h2m0 0h2m-22 2h2m8 0h2m0 0h2m-20 2h2m4 0h2m8 0h2m-20 2h2m0 0h2m8 2h2m0 0h2m-18 2h2m0 0h2m2 0h2m-10 2h2m2 0h2m6 0h2m4 0h2m-16 4h2m0 8h2m-24 8h2m-22 2h2m2 0h2m14 0h2m-20 2h2m4 0h2m-26 2h2m14 0h2m8 0h2m18 0h2m-32 2h2m-18 2h2m10 0h2m0 0h2m8 0h2m6 0h2m0 0h2m2 0h2m-48 2h2m14 0h2m16 0h2m4 0h2m0 0h2m-32 2h2m8 0h2m28 0h2m2 0h2m-42 2h2m0 0h2m0 0h2m0 0h2m16 0h2m-44 2h2m0 0h2m10 0h2m10 0h2m2 0h2m4 0h2m2 0h2m2 0h2m0 0h2m0 0h2m-48 2h2m6 0h2m0 0h2m6 0h2m4 0h2m2 0h2m4 0h2m10 0h2m0 0h2m0 0h2m-44 2h2m2 0h2m8 0h2m4 0h2m0 0h2m-18 2h2m0 0h2m4 0h2m10 0h2m0 0h2m8 0h2m4 0h2m-28 2h2m10 0h2m-32 2h2m4 0h2m6 0h2m-8 2h2m6 0h2m8 0h2m-24 2h2m22 0h2" stroke="#1ec4f0" stroke-width="2" fill="none"/><path d="M1223 460h2m-4 2h2m4 0h2m-6 2h2m0 0h2m-8 2h2m2 0h2m-10 2h2m2 0h2m0 0h2m-8 2h2m2 0h2m0 2h2m2 0h2m-22 2h2m4 0h2m2 0h2m2 2h2m-22 2h2m2 0h2m8 0h2m-18 2h2m2 0h2m10 0h2m-12 2h2m6 0h2m-16 2h2m0 6h2m0 0h2m-14 2h2m4 0h2m2 0h2m-18 2h2m10 0h2m-12 4h2m-12 2h2m2 0h2m2 0h2m-12 2h2m0 0h2m2 0h2m-4 2h2m-16 2h2m4 0h2m0 0h2m0 0h2m2 0h2m2 0h2m-10 2h2m-12 2h2m12 0h2m-18 2h2m-6 2h2m-6 2h2m-6 4h2m-2 4h2m6 0h2m2 0h2m0 2h2m-28 2h2m0 0h2m12 0h2m4 0h2m-26 2h2m10 0h2m-14 6h2m0 0h2m0 2h2m-6 2h2m2 0h2m-10 2h2m2 0h2m-2 2h2m2 0h2m-14 2h2m0 0h2m4 0h2m-12 2h2m2 2h2m0 0h2m-42 18h2m-24 2h2m6 0h2m4 0h2m12 0h2m4 0h2m-30 2h2m10 0h2m0 0h2m2 0h2m4 0h2m0 0h2m-6 2h2m-32 2h2m22 0h2m-6 2h2m0 0h2m0 0h2m-16 2h2m0 0h2m6 0h2m6 0h2m0 0h2m0 0h2m6 0h2m-22 2h2m4 0h2m0 0h2m-14 2h2m6 0h2m0 0h2m-18 2h2m4 0h2m8 0h2m6 0h2m-32 6h2m16 0h2m2 0h2m2 0h2m-6 4h2m-12 2h2m4 2h2" stroke="#20d8b4" stroke-width="2" fill="none"/><path d="M1223 468h2m-14 4h2m0 0h2m0 0h2m-6 4h2m2 0h2m-12 2h2m-8 2h2m2 0h2m0 0h2m4 0h2m-16 8h2m-6 2h2m0 0h2m-10 2h2m2 0h2m0 0h2m-16 2h2m16 0h2m-20 2h2m8 0h2m-8 2h2m2 0h2m2 0h2m-22 6h2m8 0h2m-8 2h2m2 0h2m-16 2h2m4 0h2m-2 2h2m-10 2h2m6 0h2m2 0h2m-14 2h2m0 0h2m-6 2h2m0 0h2m0 0h2m2 0h2m-18 2h2m0 0h2m12 0h2m-16 2h2m6 0h2m-12 2h2m4 2h2m-6 2h2m-12 2h2m-12 6h2m4 0h2m2 0h2m0 0h2m-20 4h2m4 0h2m0 0h2m-6 2h2m2 0h2m-2 4h2m-8 2h2m-4 2h2m-50 20h2m2 2h2m-8 4h2m10 0h2m-20 2h2m0 0h2m12 0h2m4 0h2m-26 2h2m6 0h2m22 2h2m-40 2h2m12 2h2m16 0h2m2 0h2m-6 2h2m-18 2h2m-2 2h2m2 4h2" stroke="#30dc78" stroke-width="2" fill="none"/><path d="M1225 462h2m-8 2h2m-12 10h2m-2 4h2m-2 2h2m-4 2h2m0 0h2m-12 6h2m-20 10h2m-6 4h2m2 0h2m2 2h2m-10 4h2m-10 2h2m2 0h2m0 0h2m-12 2h2m-10 6h2m4 0h2m0 0h2m-8 2h2m0 2h2m-14 4h2m-10 4h2m2 0h2m6 0h2m-12 2h2m-16 8h2m-2 2h2m2 2h2m-42 24h2m2 4h2m-16 2h2m10 0h2m-12 2h2m-6 2h2m16 0h2m-20 2h2m6 0h2m-18 2h2m12 4h2m2 0h2m0 2h2m-6 2h2" stroke="#5ee640" stroke-width="2" fill="none"/><path d="M1225 466h2m-14 4h2m6 0h2m-10 4h2m-4 4h2m-12 4h2m-10 2h2m8 0h2m-12 4h2m0 0h2m4 0h2m-12 2h2m-2 4h2m-12 6h2m6 0h2m-18 4h2m8 2h2m-18 2h2m6 0h2m2 0h2m-14 2h2m-10 4h2m0 0h2m6 0h2m-16 2h2m2 0h2m-2 2h2m0 0h2m4 0h2m-18 2h2m0 0h2m2 0h2m2 0h2m4 0h2m-18 2h2m4 0h2m0 0h2m-16 2h2m4 0h2m0 0h2m0 0h2m-14 2h2m0 0h2m4 0h2m0 0h2m-12 2h2m2 0h2m0 0h2m0 0h2m-14 2h2m-4 2h2m2 0h2m2 0h2m2 0h2m0 0h2m-14 2h2m2 0h2m-4 2h2m-2 4h2m-16 4h2m2 0h2m-6 4h2m2 0h2m-52 24h2m4 2h2m8 2h2m-8 4h2m8 0h2m2 0h2m-22 2h2m2 0h2m0 0h2m-8 6h2m0 0h2m10 8h2" stroke="#b4ee28" stroke-width="2" fill="none"/></g>
<rect x="1044.7" y="382.9" width="231" height="227" fill="none" stroke="#777" stroke-width="2"/>
<path d="M1097.8 609.9v6.5M1107.9 609.9v6.5M1115.1 609.9v6.5M1125.2 609.9v6.5M1129.1 609.9v6.5M1132.4 609.9v6.5M1135.4 609.9v6.5M1155.3 609.9v6.5M1165.4 609.9v6.5M1172.6 609.9v6.5M1182.7 609.9v6.5M1186.6 609.9v6.5M1189.9 609.9v6.5M1192.9 609.9v6.5M1212.8 609.9v6.5M1222.9 609.9v6.5M1230.1 609.9v6.5M1240.2 609.9v6.5M1244.1 609.9v6.5M1247.4 609.9v6.5M1250.4 609.9v6.5M1270.3 609.9v6.5M1056.1 609.9v6.5M1060.7 609.9v6.5M1064.5 609.9v6.5M1070.2 609.9v6.5M1072.3 609.9v6.5M1074.3 609.9v6.5M1076.2 609.9v6.5M1044.7 446.3h-6.5M1044.7 436.2h-6.5M1044.7 429h-6.5M1044.7 418.9h-6.5M1044.7 415h-6.5M1044.7 411.7h-6.5M1044.7 408.7h-6.5M1044.7 503.8h-6.5M1044.7 493.7h-6.5M1044.7 486.5h-6.5M1044.7 476.4h-6.5M1044.7 472.5h-6.5M1044.7 469.2h-6.5M1044.7 466.2h-6.5M1044.7 561.3h-6.5M1044.7 551.2h-6.5M1044.7 544h-6.5M1044.7 533.9h-6.5M1044.7 530h-6.5M1044.7 526.7h-6.5M1044.7 523.7h-6.5M1044.7 388.8h-6.5M1044.7 583h-6.5M1044.7 585.9h-6.5M1044.7 589.3h-6.5M1044.7 592.5h-6.5M1044.7 601.9h-6.5" stroke="#7a7a7a" stroke-width="1.6" fill="none"/><path d="M1120.7 609.9v9.5M1178.2 609.9v9.5M1235.7 609.9v9.5M1067.5 609.9v9.5M1044.7 423.4h-9.5M1044.7 480.9h-9.5M1044.7 538.4h-9.5M1044.7 596.9h-9.5" stroke="#6a6a6a" stroke-width="1.6" fill="none"/><path d="M1080.5 609.9v13M1138 609.9v13M1195.5 609.9v13M1253 609.9v13M1044.7 406.1h-13M1044.7 463.6h-13M1044.7 521.1h-13M1044.7 578.6h-13" stroke="#4a4a4a" stroke-width="2.3" fill="none"/>
<path d="M1132 382.9 L1121.6 547.2 L1132 609.9" fill="none" stroke="#333" stroke-width="1.9" stroke-linejoin="miter"/>
<path d="M1044.7 558.3 L1121.6 547.2 L1151.5 551 L1275.7 558.3" fill="none" stroke="#333" stroke-width="1.9" stroke-linejoin="miter"/>
<path d="M1044.7 546.3 L1121.6 546.3 L1240.8 436.9 L1240.8 382.9" fill="none" stroke="#111" stroke-width="3.3" stroke-linejoin="miter"/>
<path d="M1139.5 609.9 L1139.5 562 L1247.7 450.7 L1275.7 450.7" fill="none" stroke="#111" stroke-width="3.3" stroke-linejoin="miter"/>
<text x="1044.2" y="650.4" text-anchor="middle" font-size="20">10<tspan font-size="13.5" dy="-9.6" dx="0.6">2</tspan></text><text x="1079.7" y="650.4" text-anchor="middle" font-size="20">10<tspan font-size="13.5" dy="-9.6" dx="0.6">3</tspan></text><text x="1137.2" y="650.4" text-anchor="middle" font-size="20">10<tspan font-size="13.5" dy="-9.6" dx="0.6">4</tspan></text><text x="1194.7" y="650.4" text-anchor="middle" font-size="20">10<tspan font-size="13.5" dy="-9.6" dx="0.6">5</tspan></text><text x="1252.2" y="650.4" text-anchor="middle" font-size="20">10<tspan font-size="13.5" dy="-9.6" dx="0.6">6</tspan></text><text x="1024.4" y="413.2" text-anchor="end" font-size="20">10<tspan font-size="13.5" dy="-10" dx="1">6</tspan></text><text x="1024.4" y="470.7" text-anchor="end" font-size="20">10<tspan font-size="13.5" dy="-10" dx="1">5</tspan></text><text x="1024.4" y="528.2" text-anchor="end" font-size="20">10<tspan font-size="13.5" dy="-10" dx="1">4</tspan></text><text x="1024.4" y="585.7" text-anchor="end" font-size="20">10<tspan font-size="13.5" dy="-10" dx="1">3</tspan></text><text x="1024.4" y="617.5" text-anchor="end" font-size="20">10<tspan font-size="13.5" dy="-10" dx="1">2</tspan></text><text x="1160.2" y="677.8" text-anchor="middle" font-size="21">Cationic [100 nM]</text><text transform="translate(979.9 495.9) rotate(-90)" text-anchor="middle" font-size="21">Anionic [12.5 nM]</text><text x="1061.1" y="419.5" font-size="21.3">5.9%</text><text x="1267.9" y="595.2" text-anchor="end" font-size="21.3">4.2%</text>
<clipPath id="c4"><rect x="1388" y="382.9" width="231" height="227"/></clipPath><g clip-path="url(#c4)"><path d="M1566 463h2m9 1h2m-15 3h2m2 2h2m-17 1h2m6 0h2m2 2h2m-16 1h2m0 0h2m8 2h2m-14 1h2m10 0h2m3 0h2m2 0h2m-26 1h2m3 0h2m-11 1h2m9 0h2m-28 1h2m16 0h2m7 0h2m10 0h2m-21 1h2m0 0h2m-16 2h2m17 1h2m-20 1h2m7 0h2m1 0h2m8 0h2m-28 1h2m6 0h2m-4 2h2m11 0h2m7 0h2m-39 1h2m2 0h2m15 0h2m-21 1h2m24 0h2m5 0h2m-40 1h2m20 0h2m9 0h2m-27 1h2m-14 1h2m2 0h2m32 0h2m-42 1h2m43 0h2m-15 1h2m2 0h2m0 0h2m-12 1h2m15 0h2m7 1h2m-13 1h2m2 0h2m-16 1h2m6 0h2m8 0h2m3 0h2m-67 1h2m3 0h2m0 0h2m27 0h2m34 0h2m-73 1h2m0 0h2m0 0h2m28 0h2m2 0h2m3 0h2m11 0h2m6 0h2m-26 1h2m5 0h2m4 0h2m-62 1h2m0 0h2m29 0h2m12 0h2m17 0h2m-70 2h2m49 0h2m4 0h2m4 0h2m15 0h2m-34 1h2m5 0h2m3 0h2m-61 1h2m32 0h2m9 0h2m-44 1h2m4 0h2m-10 1h2m41 0h2m18 0h2m-37 1h2m21 0h2m3 0h2m17 0h2m-86 1h2m26 0h2m44 0h2m15 0h2m-1 0h2m-89 1h2m41 0h2m8 0h2m12 0h2m9 0h2m-77 1h2m-13 1h2m6 0h2m29 0h2m25 0h2m-1 0h2m-66 1h2m5 0h2m57 0h2m10 0h2m0 0h2m6 0h2m-56 1h2m-42 1h2m31 0h2m10 0h2m37 0h2m0 0h2m-85 1h2m3 0h2m33 0h2m-48 1h2m8 0h2m28 0h2m-39 1h2m1 0h2m26 0h2m5 1h2m50 0h2m-90 1h2m1 0h2m3 1h2m21 0h2m46 0h2m-79 1h2m24 0h2m-39 1h2m10 1h2m14 0h2m-30 1h2m22 0h2m59 0h2m13 0h2m-98 1h2m27 0h2m5 0h2m-34 1h2m20 0h2m58 0h2m-88 1h2m75 0h2m11 0h2m0 0h2m-99 1h2m9 0h2m1 0h2m9 0h2m14 0h2m37 0h2m-76 1h2m24 0h2m3 0h2m50 0h2m-56 1h2m61 0h2m-103 1h2m19 0h2m0 0h2m4 0h2m1 0h2m0 0h2m58 0h2m-89 1h2m4 0h2m1 0h2m-1 0h2m17 0h2m-17 1h2m7 0h2m64 0h2m-1 0h2m-77 1h2m1 0h2m-20 1h2m5 0h2m-1 0h2m1 0h2m8 0h2m-1 0h2m65 0h2m-77 1h2m10 0h2m-46 1h2m24 0h2m6 0h2m63 0h2m4 0h2m-98 1h2m31 0h2m69 0h2m-82 1h2m65 0h2m-6 1h2m-76 1h2m79 0h2m-99 2h2m23 0h2m7 0h2m5 0h2m44 0h2m-79 1h2m24 0h2m53 0h2m-88 1h2m82 0h2m8 0h2m-156 1h2m4 0h2m11 0h2m35 0h2m26 0h2m-29 1h2m12 0h2m5 0h2m-1 0h2m63 0h2m-122 1h2m0 0h2m30 0h2m0 0h2m17 0h2m10 0h2m-56 1h2m11 0h2m9 0h2m76 0h2m-145 1h2m23 0h2m14 0h2m3 0h2m5 0h2m5 0h2m18 0h2m-89 1h2m7 0h2m11 0h2m30 0h2m2 0h2m8 0h2m-73 1h2m45 0h2m5 0h2m11 0h2m4 0h2m8 0h2m61 0h2m2 0h2m1 1h2m-160 1h2m0 0h2m8 0h2m67 0h2m69 0h2m0 0h2m-160 1h2m158 0h2m7 0h2m-169 1h2m1 1h2m154 0h2m-8 1h2m6 0h2m-166 1h2m4 0h2m145 0h2m-152 1h2m157 0h2m3 0h2m-11 1h2m-162 1h2m152 0h2m2 0h2m-153 3h2m151 0h2m3 0h2m-9 2h2m1 1h2m0 1h2m5 0h2m-20 1h2m17 0h2m-24 1h2m31 1h2m-34 1h2m13 0h2m9 0h2m1 0h2m-12 1h2m-14 1h2m0 0h2m6 1h2m1 0h2m-10 1h2m-9 1h2m7 0h2m-4 2h2m2 1h2m2 0h2m7 0h2m-4 1h2m4 1h2m-23 1h2m7 0h2m0 0h2m-7 1h2m0 0h2m9 0h2m5 1h2m-20 1h2m-1 1h2m4 1h2m-17 1h2m2 0h2m5 0h2m-4 1h2m6 0h2m0 0h2m-8 2h2m12 0h2m-13 1h2m-1 1h2m1 0h2m2 0h2m-26 1h2m2 0h2m0 1h2m2 0h2m-13 2h2m13 0h2m-16 1h2m8 0h2m-20 1h2m7 0h2m14 1h2m-22 1h2m1 0h2m-1 0h2m-166 1h2m5 0h2m161 0h2m1 0h2m-16 1h2m-19 1h2m10 0h2m4 0h2m0 0h2m8 0h2m-171 2h2m11 0h2m92 0h2m38 1h2m4 0h2m0 0h2" stroke="#8f8fff" stroke-width="2" fill="none"/><path d="M1546 480h2m-4 2h2m0 0h2m2 1h2m-20 1h2m11 1h2m1 0h2m-16 1h2m3 0h2m3 0h2m1 0h2m0 0h2m0 0h2m-21 1h2m2 0h2m4 1h2m-13 1h2m4 1h2m3 0h2m-18 1h2m1 0h2m-1 1h2m6 0h2m9 0h2m-23 1h2m4 0h2m6 0h2m-19 1h2m3 0h2m6 0h2m-17 1h2m2 0h2m4 0h2m0 0h2m6 0h2m-23 1h2m3 0h2m-1 0h2m0 0h2m3 0h2m0 0h2m-21 1h2m18 0h2m4 0h2m-30 1h2m13 0h2m-1 0h2m-2 2h2m2 1h2m2 0h2m-31 1h2m5 0h2m2 0h2m5 0h2m-11 1h2m-7 1h2m7 0h2m5 0h2m0 0h2m7 0h2m-34 1h2m16 0h2m4 0h2m-26 1h2m8 0h2m0 0h2m7 0h2m0 0h2m20 0h2m13 0h2m-57 1h2m-8 1h2m13 0h2m11 0h2m7 0h2m6 0h2m2 0h2m-55 1h2m-1 0h2m31 0h2m10 0h2m10 0h2m-59 1h2m49 0h2m0 0h2m-1 0h2m-61 1h2m2 0h2m11 0h2m3 0h2m19 0h2m16 0h2m-52 1h2m32 0h2m4 0h2m9 0h2m-61 1h2m0 0h2m11 0h2m17 0h2m-37 1h2m-1 0h2m5 0h2m16 0h2m12 0h2m-1 0h2m-34 1h2m9 0h2m0 0h2m8 0h2m3 0h2m4 0h2m3 0h2m2 0h2m0 0h2m2 0h2m-65 1h2m0 0h2m1 0h2m6 0h2m14 0h2m5 0h2m0 0h2m5 0h2m9 0h2m3 0h2m6 0h2m-20 1h2m0 0h2m9 0h2m0 0h2m-68 1h2m12 0h2m5 0h2m-1 0h2m21 0h2m1 0h2m4 0h2m1 0h2m8 0h2m1 0h2m-75 1h2m9 0h2m7 0h2m16 0h2m4 0h2m18 0h2m-62 1h2m0 0h2m4 0h2m3 0h2m34 0h2m0 0h2m2 0h2m-36 1h2m0 0h2m39 0h2m3 0h2m-67 1h2m3 0h2m5 0h2m8 0h2m-1 0h2m28 0h2m-65 1h2m0 0h2m1 0h2m4 0h2m4 0h2m52 0h2m-62 1h2m14 0h2m5 0h2m13 0h2m20 0h2m-73 1h2m0 0h2m1 0h2m1 0h2m8 0h2m-1 0h2m2 0h2m0 0h2m2 0h2m4 0h2m31 0h2m-64 1h2m9 0h2m20 0h2m-48 1h2m3 0h2m1 0h2m0 0h2m3 0h2m12 0h2m9 0h2m-40 1h2m7 0h2m15 0h2m5 0h2m11 0h2m27 0h2m-65 1h2m8 0h2m0 0h2m11 0h2m37 0h2m1 0h2m-78 1h2m2 0h2m49 0h2m-27 1h2m45 0h2m-88 1h2m40 0h2m28 0h2m-70 1h2m28 0h2m0 0h2m1 0h2m0 0h2m-17 1h2m46 0h2m3 0h2m-49 1h2m-2 1h2m40 0h2m7 0h2m-55 1h2m1 1h2m2 0h2m-34 1h2m23 0h2m42 0h2m0 0h2m5 0h2m-54 1h2m0 0h2m3 0h2m24 0h2m-32 1h2m38 0h2m2 0h2m-44 1h2m-8 1h2m2 0h2m38 0h2m-10 1h2m0 0h2m-40 1h2m38 0h2m6 0h2m-51 1h2m23 0h2m15 0h2m-1 0h2m-42 1h2m-9 1h2m4 0h2m3 0h2m18 0h2m6 0h2m6 0h2m-73 1h2m-58 1h2m83 0h2m-23 1h2m3 0h2m60 0h2m-139 1h2m24 0h2m19 0h2m10 0h2m3 0h2m15 0h2m22 0h2m16 0h2m3 0h2m-111 1h2m33 0h2m69 0h2m3 0h2m-121 1h2m6 0h2m4 0h2m25 0h2m6 0h2m12 0h2m27 0h2m-110 1h2m0 0h2m6 0h2m2 0h2m5 0h2m3 0h2m34 0h2m6 0h2m1 0h2m9 0h2m-96 1h2m11 0h2m3 0h2m4 0h2m9 0h2m10 0h2m37 0h2m0 0h2m14 0h2m32 0h2m-124 1h2m9 0h2m3 0h2m5 0h2m4 0h2m-19 1h2m2 0h2m0 0h2m2 0h2m18 0h2m0 0h2m8 0h2m26 0h2m2 0h2m4 0h2m18 0h2m2 0h2m5 0h2m-147 1h2m0 0h2m2 0h2m44 0h2m4 0h2m-61 1h2m15 0h2m12 0h2m12 0h2m0 0h2m6 0h2m8 0h2m2 0h2m2 0h2m10 0h2m53 0h2m-134 1h2m-1 0h2m47 0h2m-60 1h2m49 0h2m91 0h2m-153 1h2m8 0h2m133 0h2m5 0h2m-155 1h2m9 0h2m6 0h2m116 0h2m9 1h2m-141 1h2m8 0h2m128 0h2m-154 1h2m0 0h2m141 0h2m2 0h2m3 0h2m-156 1h2m4 0h2m0 0h2m56 0h2m10 0h2m73 0h2m-151 2h2m140 1h2m-146 1h2m143 0h2m6 0h2m-155 2h2m2 0h2m145 0h2m-1 1h2m3 0h2m-8 2h2m-5 1h2m1 0h2m0 1h2m-1 0h2m2 2h2m7 0h2m-17 3h2m0 0h2m6 1h2m-162 1h2m148 0h2m4 1h2m3 0h2m-21 3h2m18 0h2m-8 1h2m2 0h2m-12 1h2m-152 2h2m150 0h2m5 1h2m-11 1h2m4 1h2m-6 1h2m-154 2h2m0 0h2m0 0h2m144 0h2m12 0h2m-12 1h2m-158 2h2m153 0h2m-154 1h2m7 0h2m24 0h2m24 0h2m82 0h2m-149 1h2m148 0h2m-137 1h2m0 0h2m56 0h2m2 0h2m10 0h2m14 0h2m-101 1h2m137 0h2m-152 1h2m10 0h2m5 0h2m59 0h2m6 0h2m2 0h2m6 0h2m6 0h2m8 0h2m27 0h2m-145 1h2m1 0h2m2 0h2m1 0h2m128 0h2m2 0h2m-139 1h2m20 0h2m32 0h2m0 0h2m6 0h2m0 0h2m2 0h2m1 0h2m0 0h2m2 0h2m11 0h2m6 0h2m21 0h2m0 0h2m3 0h2m-130 1h2m5 0h2m7 0h2m31 0h2m18 0h2m5 0h2m15 0h2m17 0h2m16 0h2" stroke="#6262ff" stroke-width="2" fill="none"/><path d="M1532 492h2m7 0h2m-19 1h2m10 0h2m-10 1h2m-5 2h2m-6 1h2m-5 1h2m9 0h2m-11 1h2m2 0h2m-3 1h2m13 1h2m-26 2h2m11 0h2m8 0h2m-27 1h2m13 0h2m-13 1h2m0 1h2m6 0h2m-16 1h2m6 1h2m1 1h2m1 0h2m-18 1h2m0 0h2m11 0h2m28 1h2m-47 1h2m2 0h2m0 0h2m6 0h2m24 0h2m-26 1h2m16 0h2m3 0h2m-45 1h2m0 0h2m38 0h2m-12 1h2m-31 1h2m22 0h2m9 0h2m6 0h2m-50 1h2m8 0h2m1 0h2m38 0h2m2 0h2m-58 1h2m43 0h2m-50 1h2m4 0h2m50 0h2m0 0h2m-53 1h2m23 0h2m2 0h2m0 0h2m2 0h2m4 0h2m2 0h2m3 0h2m-5 1h2m-54 1h2m27 0h2m3 0h2m2 0h2m0 0h2m0 0h2m0 0h2m0 0h2m0 0h2m3 1h2m-29 1h2m0 0h2m0 0h2m6 0h2m2 0h2m4 0h2m0 0h2m-62 1h2m69 0h2m-35 1h2m6 0h2m0 0h2m2 0h2m0 0h2m4 0h2m-30 1h2m-2 1h2m0 0h2m10 0h2m0 0h2m4 0h2m4 0h2m-67 1h2m34 0h2m-3 1h2m0 0h2m0 0h2m0 0h2m0 0h2m0 0h2m0 0h2m0 0h2m0 0h2m8 0h2m0 0h2m0 0h2m-42 1h2m5 0h2m0 0h2m-1 1h2m4 0h2m6 0h2m0 0h2m0 0h2m-25 2h2m1 0h2m0 0h2m2 0h2m4 0h2m12 0h2m-29 1h2m33 0h2m-39 1h2m1 0h2m12 0h2m2 0h2m0 0h2m0 0h2m2 0h2m11 0h2m-47 1h2m38 0h2m-40 1h2m0 0h2m6 0h2m8 0h2m2 0h2m0 0h2m4 0h2m7 0h2m-41 2h2m6 0h2m18 0h2m0 0h2m0 0h2m-32 2h2m0 0h2m4 0h2m4 0h2m2 0h2m0 0h2m0 0h2m4 0h2m1 1h2m-43 1h2m6 0h2m0 0h2m2 0h2m-13 1h2m3 1h2m6 0h2m2 0h2m4 0h2m0 0h2m2 0h2m0 0h2m0 0h2m-35 1h2m1 1h2m6 0h2m0 0h2m2 0h2m4 0h2m2 0h2m2 0h2m-39 1h2m-4 1h2m3 0h2m6 0h2m2 0h2m0 0h2m0 0h2m2 0h2m0 0h2m6 0h2m2 0h2m2 1h2m-53 1h2m4 0h2m1 0h2m0 0h2m0 0h2m16 0h2m0 0h2m0 0h2m0 0h2m-35 1h2m2 0h2m-15 1h2m9 0h2m3 0h2m6 0h2m4 0h2m4 0h2m4 0h2m0 0h2m-122 1h2m70 0h2m9 0h2m0 0h2m38 0h2m-120 1h2m18 0h2m23 0h2m1 0h2m3 0h2m2 0h2m0 0h2m0 0h2m10 0h2m0 0h2m2 0h2m0 0h2m26 0h2m-126 1h2m2 0h2m16 0h2m104 0h2m5 0h2m-134 1h2m1 0h2m6 0h2m4 0h2m8 0h2m13 0h2m19 0h2m4 0h2m0 0h2m0 0h2m6 0h2m2 0h2m8 0h2m0 0h2m2 0h2m4 0h2m6 0h2m4 0h2m-127 1h2m3 0h2m33 0h2m-41 1h2m0 0h2m8 0h2m0 0h2m4 0h2m2 0h2m4 0h2m6 0h2m6 0h2m1 0h2m-1 0h2m10 0h2m0 0h2m0 0h2m22 0h2m4 0h2m4 0h2m2 0h2m2 0h2m0 0h2m0 0h2m4 0h2m0 0h2m1 0h2m4 1h2m-137 1h2m0 0h2m4 0h2m0 0h2m0 0h2m8 0h2m2 0h2m0 0h2m2 0h2m2 0h2m2 0h2m2 0h2m0 0h2m0 0h2m18 0h2m14 0h2m6 0h2m10 0h2m2 0h2m4 0h2m2 0h2m2 0h2m0 0h2m-133 1h2m-5 1h2m0 0h2m2 0h2m6 0h2m26 0h2m4 0h2m0 0h2m2 0h2m0 0h2m2 0h2m0 0h2m2 0h2m0 0h2m6 0h2m46 0h2m0 0h2m0 0h2m2 0h2m5 0h2m-146 2h2m0 0h2m5 0h2m0 0h2m0 0h2m6 0h2m36 0h2m0 0h2m10 0h2m40 0h2m8 0h2m4 0h2m0 0h2m0 0h2m4 1h2m-145 1h2m5 0h2m0 0h2m124 0h2m2 0h2m2 1h2m-140 1h2m2 0h2m2 0h2m48 0h2m54 0h2m0 0h2m0 0h2m14 0h2m-143 1h2m145 0h2m0 0h2m-151 1h2m1 0h2m4 0h2m126 0h2m0 0h2m0 0h2m5 1h2m-151 1h2m6 0h2m8 0h2m110 0h2m0 0h2m8 0h2m2 0h2m0 0h2m-150 2h2m0 0h2m0 0h2m0 0h2m10 0h2m128 0h2m1 0h2m2 1h2m-157 1h2m12 0h2m2 0h2m114 0h2m4 0h2m2 0h2m2 0h2m-148 2h2m4 0h2m0 0h2m136 0h2m2 0h2m-154 2h2m0 0h2m0 0h2m138 0h2m4 0h2m0 0h2m2 0h2m-156 2h2m2 0h2m124 0h2m4 0h2m10 0h2m7 0h2m-155 2h2m8 0h2m128 0h2m2 0h2m4 0h2m1 1h2m-153 1h2m138 0h2m6 0h2m-148 2h2m110 0h2m26 0h2m0 0h2m2 0h2m-140 2h2m0 0h2m118 0h2m10 0h2m4 0h2m-152 2h2m4 0h2m38 0h2m18 0h2m50 0h2m22 0h2m0 0h2m0 0h2m-156 2h2m0 0h2m2 0h2m6 0h2m74 0h2m38 0h2m20 0h2m9 0h2m-161 2h2m0 0h2m2 0h2m10 0h2m90 0h2m2 0h2m30 0h2m-150 2h2m8 0h2m0 0h2m6 0h2m60 0h2m26 0h2m10 0h2m2 0h2m0 0h2m8 0h2m10 0h2m3 1h2m2 0h2m-157 1h2m0 0h2m0 0h2m6 0h2m60 0h2m8 0h2m2 0h2m2 0h2m4 0h2m14 0h2m8 0h2m4 0h2m2 0h2m2 0h2m0 0h2m0 0h2m0 0h2m0 0h2m-150 1h2m153 0h2m-155 1h2m0 0h2m20 0h2m0 0h2m0 0h2m16 0h2m6 0h2m10 0h2m4 0h2m6 0h2m0 0h2m8 0h2m20 0h2m2 0h2m4 0h2m8 0h2m2 0h2m8 0h2m-140 2h2m4 0h2m6 0h2m0 0h2m4 0h2m2 0h2m0 0h2m4 0h2m4 0h2m6 0h2m2 0h2m0 0h2m0 0h2m2 0h2m6 0h2m0 0h2m4 0h2m2 0h2m2 0h2m0 0h2m0 0h2m6 0h2m0 0h2m0 0h2m2 0h2m4 0h2m0 0h2m0 0h2m10 0h2m2 0h2m-134 1h2m132 0h2m-129 1h2m1 0h2m0 0h2m2 0h2m4 0h2m0 0h2m0 0h2m2 0h2m0 0h2m0 0h2m0 0h2m10 0h2m0 0h2m0 0h2m0 0h2m0 0h2m0 0h2m0 0h2m3 0h2m5 0h2m6 0h2m2 0h2m2 0h2m2 0h2m8 0h2m6 0h2m4 0h2m2 0h2m2 0h2m0 0h2m9 0h2m-77 1h2m-38 1h2m0 0h2m0 0h2m0 0h2m0 0h2m4 0h2m0 0h2m39 0h2m-1 0h2m1 0h2m4 0h2m9 0h2m11 0h2m-112 1h2m2 0h2m-1 0h2m44 0h2m20 0h2m19 0h2m16 0h2" stroke="#3a3aff" stroke-width="2" fill="none"/><path d="M1527 498h2m-3 3h2m-8 3h2m-3 1h2m-5 1h2m6 1h2m-8 1h2m-7 1h2m0 5h2m1 1h2m-13 1h2m32 3h2m-38 2h2m29 1h2m4 0h2m6 2h2m0 0h2m-18 2h2m0 0h2m0 0h2m4 0h2m6 0h2m5 0h2m-31 2h2m2 0h2m2 0h2m10 0h2m0 0h2m-8 2h2m0 0h2m-24 2h2m4 0h2m2 0h2m6 0h2m4 0h2m-20 2h2m2 0h2m8 0h2m-14 2h2m14 0h2m0 0h2m-28 2h2m2 0h2m8 0h2m6 0h2m2 0h2m-32 2h2m2 0h2m2 0h2m4 0h2m4 0h2m-24 2h2m4 0h2m4 0h2m0 0h2m2 0h2m8 0h2m-32 2h2m8 0h2m2 0h2m0 0h2m2 0h2m2 0h2m-26 2h2m22 0h2m-31 2h2m5 0h2m2 0h2m8 0h2m4 0h2m7 0h2m-37 2h2m14 0h2m4 0h2m-24 2h2m0 0h2m20 0h2m-34 2h2m4 0h2m0 0h2m4 0h2m6 0h2m4 0h2m-123 2h2m65 0h2m6 0h2m4 0h2m0 0h2m4 0h2m8 0h2m0 0h2m0 0h2m0 0h2m6 0h2m0 0h2m0 0h2m4 0h2m-120 2h2m2 0h2m2 0h2m44 0h2m6 0h2m6 0h2m6 0h2m2 0h2m2 0h2m12 0h2m4 0h2m4 0h2m-114 2h2m0 0h2m4 0h2m8 0h2m0 0h2m24 0h2m2 0h2m8 0h2m0 0h2m2 0h2m0 0h2m0 0h2m8 0h2m4 0h2m8 0h2m-96 2h2m0 0h2m0 0h2m4 0h2m8 0h2m20 0h2m4 0h2m2 0h2m2 0h2m6 0h2m0 0h2m6 0h2m6 0h2m4 0h2m2 0h2m2 0h2m8 0h2m-124 2h2m0 0h2m4 0h2m2 0h2m4 0h2m18 0h2m10 0h2m14 0h2m18 0h2m0 0h2m6 0h2m2 0h2m0 0h2m0 0h2m2 0h2m-82 2h2m0 0h2m0 0h2m0 0h2m4 0h2m16 0h2m4 0h2m22 0h2m18 0h2m6 0h2m-120 2h2m0 0h2m8 0h2m0 0h2m4 0h2m26 0h2m4 0h2m14 0h2m34 0h2m8 0h2m2 0h2m2 0h2m-138 1h2m-4 1h2m6 0h2m2 0h2m20 0h2m16 0h2m8 0h2m16 0h2m24 0h2m22 0h2m0 0h2m2 0h2m4 0h2m-138 2h2m4 0h2m0 0h2m0 0h2m14 0h2m54 0h2m44 0h2m-124 2h2m0 0h2m42 0h2m52 0h2m12 0h2m8 0h2m0 0h2m-134 2h2m10 0h2m0 0h2m106 0h2m4 0h2m4 0h2m2 0h2m-146 2h2m0 0h2m2 0h2m0 0h2m102 0h2m14 0h2m0 0h2m12 0h2m-136 2h2m0 0h2m4 0h2m36 0h2m70 0h2m4 0h2m2 0h2m0 0h2m0 0h2m0 0h2m2 0h2m-146 2h2m2 0h2m0 0h2m2 0h2m118 0h2m4 0h2m4 0h2m-146 2h2m2 0h2m4 0h2m0 0h2m60 0h2m10 0h2m38 0h2m14 0h2m0 0h2m-150 2h2m6 0h2m8 0h2m16 0h2m50 0h2m24 0h2m20 0h2m4 0h2m0 0h2m6 0h2m-154 2h2m0 0h2m2 0h2m2 0h2m0 0h2m0 0h2m0 0h2m2 0h2m24 0h2m90 0h2m2 0h2m8 0h2m0 0h2m-150 2h2m8 0h2m58 0h2m14 0h2m60 0h2m2 0h2m-154 2h2m56 0h2m12 0h2m22 0h2m16 0h2m2 0h2m4 0h2m4 0h2m6 0h2m4 0h2m-146 2h2m8 0h2m22 0h2m20 0h2m6 0h2m4 0h2m0 0h2m30 0h2m28 0h2m2 0h2m0 0h2m0 0h2m-146 2h2m2 0h2m0 0h2m0 0h2m6 0h2m4 0h2m8 0h2m0 0h2m34 0h2m4 0h2m10 0h2m0 0h2m28 0h2m14 0h2m2 0h2m4 0h2m4 0h2m-156 2h2m12 0h2m0 0h2m4 0h2m48 0h2m4 0h2m8 0h2m0 0h2m0 0h2m10 0h2m2 0h2m10 0h2m10 0h2m0 0h2m0 0h2m4 0h2m0 0h2m0 0h2m2 0h2m-138 2h2m0 0h2m0 0h2m2 0h2m0 0h2m6 0h2m0 0h2m0 0h2m2 0h2m2 0h2m16 0h2m6 0h2m4 0h2m8 0h2m4 0h2m8 0h2m0 0h2m2 0h2m14 0h2m6 0h2m0 0h2m-126 2h2m0 0h2m0 0h2m2 0h2m2 0h2m0 0h2m4 0h2m4 0h2m8 0h2m10 0h2m6 0h2m0 0h2m0 0h2m0 0h2m0 0h2m0 0h2m2 0h2m2 0h2m4 0h2m6 0h2m0 0h2m2 0h2m0 0h2m0 0h2m0 0h2m8 0h2m2 0h2m4 0h2m0 0h2m-135 1h2m7 1h2m6 0h2m0 0h2m0 0h2m0 0h2m0 0h2m0 0h2m8 0h2m2 0h2m12 0h2m0 0h2m16 0h2m2 0h2m2 0h2m6 0h2m10 0h2m6 0h2m0 0h2m2 0h2m2 0h2m12 0h2m0 0h2m-114 2h2m0 0h2m10 0h2m4 0h2m0 0h2m2 0h2m0 0h2m2 0h2m0 0h2m0 0h2m2 0h2m12 0h2m16 0h2m6 0h2m0 0h2m14 0h2m6 0h2m4 0h2m-124 2h2m16 0h2m20 0h2m54 0h2m6 0h2m0 0h2m12 0h2m-103 2h2m25 0h2m58 0h2m-95 1h2" stroke="#2a5cff" stroke-width="2" fill="none"/><path d="M1544 520h2m0 4h2m4 2h2m-14 8h2m4 0h2m4 0h2m-26 2h2m0 0h2m2 0h2m4 0h2m6 0h2m-14 2h2m0 0h2m-14 2h2m8 0h2m4 0h2m-14 2h2m-6 2h2m4 0h2m-8 2h2m4 0h2m-6 6h2m4 2h2m-14 2h2m-30 2h2m32 0h2m-96 2h2m58 0h2m0 0h2m0 0h2m4 0h2m22 0h2m-116 2h2m12 0h2m36 0h2m0 0h2m2 0h2m6 0h2m2 0h2m4 0h2m10 0h2m2 0h2m0 0h2m-94 2h2m2 0h2m0 0h2m4 0h2m0 0h2m0 0h2m4 0h2m2 0h2m18 0h2m4 0h2m0 0h2m4 0h2m2 0h2m6 0h2m0 0h2m4 0h2m6 0h2m10 0h2m-100 2h2m2 0h2m2 0h2m0 0h2m2 0h2m22 0h2m4 0h2m14 0h2m16 0h2m0 0h2m2 0h2m0 0h2m0 0h2m8 0h2m2 0h2m-114 2h2m38 0h2m0 0h2m4 0h2m4 0h2m0 0h2m2 0h2m16 0h2m6 0h2m12 0h2m8 0h2m-108 2h2m32 0h2m2 0h2m8 0h2m0 0h2m4 0h2m2 0h2m0 0h2m4 0h2m6 0h2m26 0h2m0 0h2m4 0h2m2 0h2m-130 2h2m10 0h2m30 0h2m6 0h2m12 0h2m0 0h2m4 0h2m34 0h2m0 0h2m6 0h2m-122 2h2m6 0h2m0 0h2m0 0h2m38 0h2m8 0h2m0 0h2m6 0h2m8 0h2m2 0h2m16 0h2m2 0h2m22 0h2m-136 2h2m0 0h2m0 0h2m40 0h2m4 0h2m12 0h2m0 0h2m6 0h2m28 0h2m6 0h2m12 0h2m4 0h2m-124 2h2m16 0h2m94 0h2m4 0h2m-140 2h2m26 0h2m32 0h2m0 0h2m10 0h2m16 0h2m18 0h2m2 0h2m0 0h2m6 0h2m0 0h2m-68 2h2m0 0h2m14 0h2m22 0h2m28 0h2m-142 2h2m8 0h2m0 0h2m52 0h2m28 0h2m42 0h2m10 0h2m-144 2h2m2 0h2m54 0h2m58 0h2m6 0h2m8 0h2m-146 2h2m60 0h2m2 0h2m10 0h2m0 0h2m4 0h2m2 0h2m0 0h2m10 0h2m6 0h2m14 0h2m2 0h2m6 0h2m0 0h2m2 0h2m-152 2h2m0 0h2m0 0h2m2 0h2m8 0h2m4 0h2m0 0h2m30 0h2m2 0h2m14 0h2m4 0h2m24 0h2m16 0h2m0 0h2m6 0h2m2 0h2m0 0h2m2 0h2m-146 2h2m2 0h2m0 0h2m4 0h2m18 0h2m14 0h2m8 0h2m2 0h2m0 0h2m4 0h2m4 0h2m8 0h2m24 0h2m0 0h2m18 0h2m2 0h2m4 0h2m6 0h2m-158 2h2m8 0h2m6 0h2m4 0h2m10 0h2m42 0h2m22 0h2m2 0h2m8 0h2m14 0h2m-102 2h2m4 0h2m2 0h2m8 0h2m0 0h2m6 0h2m2 0h2m2 0h2m2 0h2m0 0h2m2 0h2m0 0h2m10 0h2m0 0h2m0 0h2m8 0h2m16 0h2m2 0h2m4 0h2m2 0h2m-130 2h2m4 0h2m30 0h2m14 0h2m2 0h2m2 0h2m10 0h2m8 0h2m28 0h2m12 0h2m-114 2h2m0 0h2m16 0h2m2 0h2m0 0h2m10 0h2m4 0h2m4 0h2m0 0h2m2 0h2m2 0h2m0 0h2m2 0h2m2 0h2m6 0h2m6 0h2m2 0h2m16 0h2m2 0h2m0 0h2m2 0h2m-116 2h2m0 0h2m2 0h2m0 0h2m6 0h2m2 0h2m2 0h2m2 0h2m2 0h2m20 0h2m6 0h2m16 0h2m22 0h2m-104 2h2m6 0h2m18 0h2m2 0h2m0 0h2m2 0h2m6 0h2m10 0h2m0 0h2m8 0h2m0 0h2m6 0h2m28 0h2m-30 2h2m16 0h2m2 0h2m-90 2h2m6 0h2m66 0h2" stroke="#2494ff" stroke-width="2" fill="none"/><path d="M1538 528h2m-8 6h2m8 0h2m0 0h2m-14 2h2m0 4h2m12 2h2m-12 2h2m-12 2h2m-6 4h2m14 0h2m-112 8h2m60 2h2m0 2h2m2 0h2m20 0h2m2 0h2m-92 2h2m76 0h2m4 0h2m-112 2h2m2 0h2m2 0h2m6 0h2m4 0h2m18 0h2m6 0h2m12 0h2m16 0h2m0 0h2m16 0h2m0 0h2m-104 2h2m2 0h2m4 0h2m20 0h2m16 0h2m14 0h2m4 0h2m8 0h2m8 0h2m8 0h2m2 0h2m-102 2h2m8 0h2m10 0h2m8 0h2m6 0h2m40 0h2m-106 2h2m14 0h2m8 0h2m2 0h2m32 0h2m4 0h2m32 0h2m-82 2h2m4 0h2m28 0h2m18 0h2m14 0h2m14 0h2m16 0h2m-74 2h2m4 0h2m0 0h2m0 0h2m22 0h2m2 0h2m6 0h2m16 0h2m4 0h2m4 0h2m-130 2h2m10 0h2m4 0h2m6 0h2m6 0h2m10 0h2m0 0h2m6 0h2m6 0h2m0 0h2m22 0h2m0 0h2m14 0h2m2 0h2m0 0h2m-110 2h2m2 0h2m30 0h2m16 0h2m0 0h2m8 0h2m0 0h2m4 0h2m22 0h2m2 0h2m6 0h2m8 0h2m-82 2h2m0 0h2m12 0h2m0 0h2m2 0h2m6 0h2m10 0h2m12 0h2m2 0h2m0 0h2m2 0h2m0 0h2m0 0h2m16 0h2m-120 2h2m2 0h2m24 0h2m0 0h2m14 0h2m24 0h2m20 0h2m8 0h2m6 0h2m0 0h2m-126 2h2m0 0h2m0 0h2m4 0h2m12 0h2m14 0h2m6 0h2m8 0h2m10 0h2m34 0h2m0 0h2m-108 2h2m48 0h2m0 0h2m0 0h2m0 0h2m8 0h2m8 0h2m0 0h2m18 0h2m0 0h2m2 0h2m12 0h2m-122 2h2m50 0h2m12 0h2m0 0h2m0 0h2m2 0h2m12 0h2m6 0h2m2 0h2m12 0h2m-134 2h2m42 0h2m0 0h2m32 0h2m8 0h2m32 0h2m18 0h2m-146 2h2m24 0h2m18 0h2m0 0h2m12 0h2m6 0h2m10 0h2m0 0h2m6 0h2m10 0h2m8 0h2m6 0h2m2 0h2m12 0h2m-128 2h2m44 0h2m2 0h2m20 0h2m14 0h2m2 0h2m2 0h2m4 0h2m6 0h2m6 0h2m0 0h2m10 0h2m-124 2h2m0 0h2m0 0h2m0 0h2m6 0h2m0 0h2m2 0h2m6 0h2m0 0h2m2 0h2m2 0h2m12 0h2m2 0h2m2 0h2m12 0h2m0 0h2m4 0h2m6 0h2m-78 2h2m6 0h2m8 0h2m0 0h2m0 0h2m50 0h2m30 0h2m-118 2h2m14 0h2m4 0h2m2 0h2m58 0h2m0 0h2m4 0h2m0 2h2m0 0h2m2 0h2m-110 2h2m108 0h2" stroke="#1ec4f0" stroke-width="2" fill="none"/><path d="M1532 548h2m-52 14h2m-48 2h2m12 0h2m26 0h2m2 0h2m2 0h2m-68 2h2m60 0h2m0 0h2m0 0h2m12 0h2m-80 2h2m4 0h2m0 0h2m0 0h2m0 0h2m2 0h2m0 0h2m28 0h2m26 0h2m0 0h2m4 0h2m6 0h2m-106 2h2m8 0h2m8 0h2m2 0h2m4 0h2m2 0h2m12 0h2m16 0h2m0 0h2m4 0h2m4 0h2m10 0h2m0 0h2m-90 2h2m10 0h2m0 0h2m2 0h2m10 0h2m0 0h2m4 0h2m6 0h2m6 0h2m4 0h2m2 0h2m0 0h2m2 0h2m20 0h2m6 0h2m-104 2h2m0 0h2m2 0h2m8 0h2m12 0h2m0 0h2m2 0h2m6 0h2m6 0h2m0 0h2m0 0h2m6 0h2m30 0h2m0 0h2m0 0h2m-104 2h2m2 0h2m4 0h2m0 0h2m8 0h2m6 0h2m24 0h2m0 0h2m12 0h2m6 0h2m8 0h2m6 0h2m2 0h2m4 0h2m-128 2h2m46 0h2m6 0h2m6 0h2m10 0h2m2 0h2m8 0h2m2 0h2m20 0h2m14 0h2m-114 2h2m16 0h2m10 0h2m18 0h2m0 0h2m10 0h2m12 0h2m-92 2h2m2 0h2m2 0h2m48 0h2m18 0h2m4 0h2m4 0h2m0 0h2m-90 2h2m10 0h2m10 0h2m18 0h2m0 0h2m2 0h2m4 0h2m8 0h2m36 0h2m-90 2h2m4 0h2m8 0h2m12 0h2m0 0h2m14 0h2m50 0h2m-112 2h2m4 0h2m70 0h2m10 0h2m-104 2h2m8 0h2m6 0h2m20 0h2m2 0h2m16 0h2m50 0h2m8 0h2m-126 2h2m8 0h2m4 0h2m2 0h2m4 0h2m0 0h2m8 0h2m24 0h2m6 0h2m2 0h2m4 0h2m4 0h2m4 0h2m2 0h2m2 0h2m6 0h2m8 0h2m0 0h2m-116 2h2m22 0h2m6 0h2m28 0h2m12 0h2m4 0h2m10 0h2m14 0h2m0 0h2m2 0h2m-120 2h2m4 0h2m4 0h2m26 0h2m0 0h2m8 0h2m14 0h2m18 0h2m6 0h2m0 0h2m2 0h2m24 0h2m-148 2h2m32 0h2m14 0h2m6 0h2m10 0h2m24 0h2m22 0h2m2 0h2m0 0h2m12 0h2m-114 2h2m14 0h2m6 0h2m12 0h2m30 0h2m2 0h2m14 0h2m12 0h2m-70 2h2m-20 2h2m2 0h2m2 0h2m34 0h2m-34 4h2" stroke="#20d8b4" stroke-width="2" fill="none"/><path d="M1484 564h2m-44 2h2m4 0h2m18 0h2m6 0h2m2 0h2m-56 2h2m18 0h2m24 0h2m6 0h2m2 0h2m2 0h2m6 0h2m-90 2h2m4 0h2m6 0h2m8 0h2m30 0h2m26 0h2m6 0h2m-94 2h2m4 0h2m16 0h2m4 0h2m20 0h2m28 0h2m10 0h2m2 0h2m6 0h2m2 0h2m-92 2h2m4 0h2m20 0h2m18 0h2m10 0h2m4 0h2m2 0h2m0 0h2m-98 2h2m50 0h2m20 0h2m2 0h2m4 0h2m16 0h2m-54 2h2m12 0h2m2 0h2m6 0h2m12 0h2m0 0h2m0 0h2m0 0h2m14 0h2m-114 2h2m6 0h2m2 0h2m6 0h2m32 0h2m10 0h2m12 0h2m2 0h2m4 0h2m-100 2h2m14 0h2m6 0h2m0 0h2m10 0h2m16 0h2m12 0h2m4 0h2m4 0h2m24 0h2m4 0h2m6 0h2m-108 2h2m8 0h2m4 0h2m2 0h2m26 0h2m8 0h2m4 0h2m4 0h2m8 0h2m4 0h2m0 0h2m0 0h2m0 0h2m18 0h2m-126 2h2m14 0h2m22 0h2m2 0h2m0 0h2m20 0h2m2 0h2m12 0h2m2 0h2m0 0h2m6 0h2m10 0h2m6 0h2m-116 2h2m6 0h2m4 0h2m0 0h2m4 0h2m0 0h2m6 0h2m2 0h2m2 0h2m2 0h2m28 0h2m16 0h2m6 0h2m4 0h2m8 0h2m-108 2h2m12 0h2m16 0h2m6 0h2m0 0h2m8 0h2m16 0h2m2 0h2m0 0h2m8 0h2m2 0h2m20 0h2m-118 2h2m18 0h2m8 0h2m0 0h2m0 0h2m10 0h2m32 0h2m22 0h2m-100 2h2m2 0h2m2 0h2m2 0h2m16 0h2m4 0h2m20 0h2m0 0h2m0 0h2m4 0h2m22 0h2m14 0h2m-112 2h2m2 0h2m68 0h2m18 0h2m-86 2h2m4 0h2m20 0h2m62 0h2m0 0h2m-64 2h2m-50 2h2m118 0h2m-44 2h2" stroke="#30dc78" stroke-width="2" fill="none"/><path d="M1538 546h2m-114 18h2m46 2h2m14 2h2m-86 2h2m20 0h2m6 0h2m28 0h2m18 0h2m-70 2h2m6 0h2m22 0h2m32 0h2m6 0h2m10 0h2m-46 2h2m18 0h2m-64 2h2m0 0h2m26 0h2m22 0h2m-70 2h2m2 0h2m4 0h2m6 0h2m12 0h2m44 0h2m2 0h2m16 0h2m-84 2h2m28 0h2m22 0h2m-62 2h2m8 0h2m12 0h2m12 0h2m14 0h2m10 0h2m6 0h2m4 0h2m-88 2h2m22 0h2m6 0h2m0 0h2m12 0h2m14 0h2m4 0h2m6 0h2m16 0h2m-94 2h2m4 0h2m12 0h2m0 0h2m36 0h2m4 0h2m14 0h2m0 0h2m-32 2h2m24 0h2m4 0h2m14 0h2m0 0h2m-118 2h2m18 0h2m10 0h2m16 0h2m40 0h2m16 0h2m-96 2h2m10 0h2m16 0h2m24 0h2m-66 2h2m34 0h2m8 0h2m50 0h2m-100 2h2m24 0h2m0 0h2m0 0h2m-18 2h2m10 0h2m12 0h2m48 0h2" stroke="#5ee640" stroke-width="2" fill="none"/><path d="M1498 564h2m-56 2h2m42 0h2m-54 2h2m40 0h2m24 0h2m-88 2h2m62 0h2m10 0h2m10 0h2m0 0h2m-74 2h2m2 0h2m0 0h2m28 0h2m14 0h2m4 0h2m0 0h2m2 0h2m-80 2h2m2 0h2m4 0h2m2 0h2m0 0h2m0 0h2m0 0h2m40 0h2m6 0h2m2 0h2m-84 2h2m10 0h2m0 0h2m0 0h2m0 0h2m2 0h2m0 0h2m0 0h2m4 0h2m6 0h2m20 0h2m2 0h2m12 0h2m0 0h2m2 0h2m6 0h2m-94 2h2m2 0h2m2 0h2m4 0h2m0 0h2m4 0h2m0 0h2m2 0h2m6 0h2m6 0h2m0 0h2m12 0h2m0 0h2m26 0h2m-90 2h2m6 0h2m0 0h2m0 0h2m2 0h2m0 0h2m0 0h2m0 0h2m6 0h2m0 0h2m30 0h2m6 0h2m4 0h2m0 0h2m0 0h2m0 0h2m-96 2h2m4 0h2m2 0h2m4 0h2m2 0h2m0 0h2m0 0h2m2 0h2m0 0h2m2 0h2m0 0h2m4 0h2m32 0h2m14 0h2m-94 2h2m4 0h2m8 0h2m0 0h2m8 0h2m0 0h2m0 0h2m26 0h2m16 0h2m6 0h2m0 0h2m10 0h2m4 0h2m0 0h2m-92 2h2m2 0h2m10 0h2m6 0h2m8 0h2m0 0h2m0 0h2m16 0h2m0 0h2m2 0h2m4 0h2m8 0h2m0 0h2m0 0h2m0 0h2m16 0h2m-114 2h2m6 0h2m0 0h2m4 0h2m2 0h2m2 0h2m2 0h2m2 0h2m2 0h2m2 0h2m16 0h2m16 0h2m-74 2h2m2 0h2m0 0h2m0 0h2m2 0h2m2 0h2m0 0h2m2 0h2m10 0h2m14 0h2m12 0h2m2 0h2m10 0h2m18 0h2m-108 2h2m6 0h2m36 0h2m22 0h2m0 0h2m8 0h2m2 0h2m-88 2h2m4 0h2m12 0h2m8 0h2m42 0h2m10 0h2m-72 2h2m2 0h2m36 2h2m18 0h2" stroke="#b4ee28" stroke-width="2" fill="none"/></g>
<rect x="1388" y="382.9" width="231" height="227" fill="none" stroke="#777" stroke-width="2"/>
<path d="M1441.1 609.9v6.5M1451.2 609.9v6.5M1458.4 609.9v6.5M1468.5 609.9v6.5M1472.4 609.9v6.5M1475.7 609.9v6.5M1478.7 609.9v6.5M1498.6 609.9v6.5M1508.7 609.9v6.5M1515.9 609.9v6.5M1526 609.9v6.5M1529.9 609.9v6.5M1533.2 609.9v6.5M1536.2 609.9v6.5M1556.1 609.9v6.5M1566.2 609.9v6.5M1573.4 609.9v6.5M1583.5 609.9v6.5M1587.4 609.9v6.5M1590.7 609.9v6.5M1593.7 609.9v6.5M1613.6 609.9v6.5M1399.4 609.9v6.5M1404 609.9v6.5M1407.8 609.9v6.5M1413.5 609.9v6.5M1415.6 609.9v6.5M1417.6 609.9v6.5M1419.5 609.9v6.5M1388 446.3h-6.5M1388 436.2h-6.5M1388 429h-6.5M1388 418.9h-6.5M1388 415h-6.5M1388 411.7h-6.5M1388 408.7h-6.5M1388 503.8h-6.5M1388 493.7h-6.5M1388 486.5h-6.5M1388 476.4h-6.5M1388 472.5h-6.5M1388 469.2h-6.5M1388 466.2h-6.5M1388 561.3h-6.5M1388 551.2h-6.5M1388 544h-6.5M1388 533.9h-6.5M1388 530h-6.5M1388 526.7h-6.5M1388 523.7h-6.5M1388 388.8h-6.5M1388 583h-6.5M1388 585.9h-6.5M1388 589.3h-6.5M1388 592.5h-6.5M1388 601.9h-6.5" stroke="#7a7a7a" stroke-width="1.6" fill="none"/><path d="M1464 609.9v9.5M1521.5 609.9v9.5M1579 609.9v9.5M1410.8 609.9v9.5M1388 423.4h-9.5M1388 480.9h-9.5M1388 538.4h-9.5M1388 596.9h-9.5" stroke="#6a6a6a" stroke-width="1.6" fill="none"/><path d="M1423.8 609.9v13M1481.3 609.9v13M1538.8 609.9v13M1596.3 609.9v13M1388 406.1h-13M1388 463.6h-13M1388 521.1h-13M1388 578.6h-13" stroke="#4a4a4a" stroke-width="2.3" fill="none"/>
<path d="M1475 382.9 L1464.6 552.6 L1474 609.9" fill="none" stroke="#333" stroke-width="1.9" stroke-linejoin="miter"/>
<path d="M1388 561.4 L1464.6 552.6 L1541.8 557.3 L1619 562.7" fill="none" stroke="#333" stroke-width="1.9" stroke-linejoin="miter"/>
<path d="M1388 544.1 L1485.1 544.1 L1593.2 456.4 L1593.2 382.9" fill="none" stroke="#111" stroke-width="3.3" stroke-linejoin="miter"/>
<path d="M1504 609.9 L1504 596.7 L1594.8 510 L1619 510" fill="none" stroke="#111" stroke-width="3.3" stroke-linejoin="miter"/>
<text x="1387.5" y="650.4" text-anchor="middle" font-size="20">10<tspan font-size="13.5" dy="-9.6" dx="0.6">2</tspan></text><text x="1423" y="650.4" text-anchor="middle" font-size="20">10<tspan font-size="13.5" dy="-9.6" dx="0.6">3</tspan></text><text x="1480.5" y="650.4" text-anchor="middle" font-size="20">10<tspan font-size="13.5" dy="-9.6" dx="0.6">4</tspan></text><text x="1538" y="650.4" text-anchor="middle" font-size="20">10<tspan font-size="13.5" dy="-9.6" dx="0.6">5</tspan></text><text x="1595.5" y="650.4" text-anchor="middle" font-size="20">10<tspan font-size="13.5" dy="-9.6" dx="0.6">6</tspan></text><text x="1367.7" y="413.2" text-anchor="end" font-size="20">10<tspan font-size="13.5" dy="-10" dx="1">6</tspan></text><text x="1367.7" y="470.7" text-anchor="end" font-size="20">10<tspan font-size="13.5" dy="-10" dx="1">5</tspan></text><text x="1367.7" y="528.2" text-anchor="end" font-size="20">10<tspan font-size="13.5" dy="-10" dx="1">4</tspan></text><text x="1367.7" y="585.7" text-anchor="end" font-size="20">10<tspan font-size="13.5" dy="-10" dx="1">3</tspan></text><text x="1367.7" y="617.5" text-anchor="end" font-size="20">10<tspan font-size="13.5" dy="-10" dx="1">2</tspan></text><text x="1503.5" y="677.8" text-anchor="middle" font-size="21">Anionic [250 nM]</text><text transform="translate(1323.2 495.9) rotate(-90)" text-anchor="middle" font-size="21">KLK6 [7 nM]</text><text x="1401.8" y="418.6" font-size="21.3">4.7%</text><text x="1605.5" y="596.7" text-anchor="end" font-size="21.3">6.2%</text>
<clipPath id="c5"><rect x="1724.7" y="383.2" width="231" height="227"/></clipPath><g clip-path="url(#c5)"><path d="M1768 438h2m19 0h2m36 2h2m-62 2h2m40 0h2m-51 1h2m162 0h2m-12 1h2m-165 4h2m29 0h2m137 0h2m3 0h2m-16 1h2m13 0h2m-121 1h2m93 0h2m-165 1h2m59 0h2m104 0h2m24 0h2m-31 1h2m2 0h2m-170 1h2m46 2h2m144 0h2m-4 1h2m-129 2h2m93 0h2m-148 1h2m13 0h2m-10 2h2m170 0h2m-158 1h2m114 0h2m2 1h2m31 1h2m-193 1h2m155 1h2m-156 1h2m20 0h2m166 1h2m-40 1h2m-81 1h2m-7 1h2m-67 1h2m137 0h2m40 0h2m-41 1h2m-143 3h2m57 0h2m111 0h2m4 1h2m-177 2h2m162 0h2m3 0h2m-1 0h2m1 0h2m-47 1h2m-103 1h2m135 0h2m-137 1h2m136 1h2m-1 0h2m-5 1h2m-45 2h2m41 0h2m-4 3h2m-47 1h2m-65 1h2m0 0h2m60 1h2m36 0h2m-41 2h2m-101 2h2m151 1h2m-167 1h2m10 1h2m143 1h2m-152 1h2m37 0h2m9 0h2m48 0h2m44 0h2m-160 1h2m102 0h2m5 1h2m42 0h2m-1 0h2m1 0h2m3 0h2m2 0h2m-15 1h2m-12 1h2m0 0h2m-47 1h2m48 0h2m-94 1h2m97 0h2m0 0h2m2 0h2m-69 1h2m3 0h2m43 0h2m9 0h2m2 0h2m-26 1h2m2 0h2m27 0h2m-7 1h2m-121 1h2m114 0h2m9 0h2m-79 1h2m35 0h2m0 0h2m5 0h2m0 0h2m11 0h2m3 0h2m1 0h2m6 0h2m-99 1h2m61 0h2m9 0h2m7 0h2m-1 0h2m-125 1h2m25 0h2m63 0h2m4 0h2m20 0h2m-21 1h2m25 0h2m1 0h2m-183 1h2m143 0h2m-60 1h2m63 0h2m21 0h2m17 1h2m-14 1h2m6 0h2m-41 1h2m25 0h2m9 0h2m-186 1h2m139 0h2m14 0h2m8 0h2m7 0h2m-16 1h2m-71 1h2m-1 0h2m45 0h2m27 0h2m5 0h2m-127 1h2m103 0h2m18 0h2m-125 1h2m118 0h2m2 0h2m-116 1h2m107 0h2m-1 0h2m0 0h2m-86 1h2m39 0h2m-1 0h2m35 0h2m-145 1h2m55 0h2m0 0h2m76 0h2m8 0h2m-84 1h2m34 0h2m42 0h2m-160 1h2m3 0h2m65 0h2m79 3h2m-108 1h2m2 1h2m118 0h2m3 1h2m-150 1h2m123 0h2m3 0h2m6 0h2m6 0h2m-23 1h2m-156 1h2m58 0h2m97 0h2m-130 1h2m-1 0h2m22 0h2m-16 1h2m5 0h2m100 0h2m3 0h2m-122 1h2m15 0h2m-1 0h2m105 0h2m-121 1h2m2 0h2m121 0h2m-126 1h2m-48 1h2m21 0h2m12 0h2m1 0h2m8 0h2m104 0h2m1 0h2m-164 1h2m20 0h2m137 0h2m-169 1h2m0 0h2m16 0h2m4 0h2m35 0h2m100 0h2m-162 1h2m0 0h2m24 0h2m3 0h2m10 0h2m103 0h2m0 0h2m4 0h2m-168 1h2m27 0h2m6 0h2m18 0h2m103 0h2m-163 1h2m0 0h2m11 0h2m10 0h2m11 0h2m15 0h2m118 0h2m-186 1h2m-1 0h2m14 0h2m31 0h2m1 0h2m2 0h2m120 0h2m-189 1h2m22 0h2m45 0h2m125 0h2m-183 1h2m160 0h2m-119 1h2m0 0h2m109 0h2m15 0h2m-178 1h2m156 0h2m9 0h2m-13 1h2m4 0h2m0 0h2m-185 1h2m1 0h2m-9 1h2m12 0h2m14 0h2m157 0h2m1 0h2m-192 1h2m8 0h2m164 0h2m11 0h2m4 0h2m-198 1h2m183 0h2m-8 1h2m7 0h2m-1 0h2m-13 1h2m-182 1h2m185 0h2m6 0h2m-25 1h2m1 0h2m-174 1h2m182 0h2m-9 1h2m9 1h2m-16 3h2m-5 1h2m-5 2h2m6 1h2m-11 2h2m2 0h2m5 1h2m-9 1h2m10 1h2m-21 1h2m12 0h2m0 0h2m-28 2h2m22 0h2m-8 1h2m-26 1h2m22 0h2m-13 1h2m13 0h2m-12 1h2m0 0h2m3 0h2m3 0h2m-12 3h2m3 0h2m-9 2h2m15 0h2m-20 1h2m-16 1h2m2 0h2m19 0h2m-25 1h2m8 1h2m-24 1h2m4 0h2m31 0h2m-31 1h2m-1 0h2m-154 1h2m150 0h2m-9 1h2m10 0h2m0 0h2m-1 0h2m7 0h2m-51 1h2m17 0h2m2 0h2m-19 1h2m22 0h2m22 0h2m-33 1h2m30 0h2m-1 0h2m-56 1h2m9 0h2m6 0h2m8 0h2m1 1h2m4 0h2m1 0h2m-31 1h2m12 0h2m-151 1h2m126 0h2m2 0h2m9 0h2m-55 1h2m7 0h2m24 0h2m-125 1h2m147 0h2m-65 1h2m1 0h2m47 0h2m-132 1h2m91 0h2m19 0h2m-1 0h2m2 0h2m7 0h2m-57 1h2m29 0h2m12 0h2m9 0h2m3 0h2m18 0h2" stroke="#8f8fff" stroke-width="2" fill="none"/><path d="M1917 447h2m-2 1h2m0 2h2m4 0h2m2 1h2m-20 1h2m-8 2h2m8 0h2m10 0h2m0 1h2m-22 1h2m16 0h2m-23 2h2m-4 2h2m-7 1h2m29 0h2m-33 1h2m2 0h2m25 0h2m-7 2h2m-28 1h2m26 0h2m-36 1h2m26 0h2m-31 1h2m3 0h2m-4 2h2m24 2h2m-8 3h2m-32 1h2m0 0h2m-6 1h2m0 0h2m-2 2h2m-3 1h2m-4 2h2m-4 1h2m-1 0h2m30 0h2m-40 2h2m1 1h2m29 0h2m0 0h2m-6 2h2m-6 1h2m0 1h2m0 0h2m-35 1h2m-1 0h2m28 0h2m-4 1h2m-32 1h2m29 0h2m-36 2h2m-3 2h2m29 1h2m-7 1h2m-35 1h2m5 1h2m24 0h2m-1 3h2m-40 1h2m33 0h2m-8 2h2m1 0h2m1 0h2m-8 2h2m-34 2h2m63 0h2m-33 1h2m7 0h2m0 0h2m-21 1h2m11 0h2m4 0h2m3 0h2m0 0h2m-62 2h2m45 0h2m4 0h2m-6 1h2m4 0h2m-55 1h2m46 0h2m-52 1h2m41 0h2m3 0h2m7 0h2m4 0h2m5 0h2m-40 1h2m7 1h2m7 0h2m8 0h2m1 0h2m-41 1h2m9 0h2m4 0h2m14 0h2m-62 1h2m32 0h2m18 0h2m8 0h2m-32 1h2m-1 0h2m16 0h2m-57 1h2m31 0h2m5 0h2m-1 0h2m7 0h2m7 0h2m10 0h2m-74 1h2m28 0h2m21 0h2m8 0h2m5 0h2m-37 1h2m4 0h2m23 0h2m-24 1h2m0 0h2m17 0h2m0 0h2m3 0h2m-42 1h2m24 0h2m1 0h2m7 0h2m-78 1h2m48 0h2m27 0h2m-16 1h2m6 0h2m-74 1h2m37 0h2m8 0h2m12 0h2m9 0h2m-41 1h2m35 0h2m-75 1h2m32 0h2m20 0h2m6 0h2m5 0h2m1 0h2m6 0h2m-47 1h2m33 0h2m2 0h2m-52 1h2m8 0h2m37 0h2m8 0h2m-93 2h2m0 0h2m34 0h2m32 0h2m-76 1h2m78 0h2m2 0h2m-54 1h2m16 0h2m14 0h2m2 0h2m7 0h2m0 0h2m2 1h2m-93 1h2m40 0h2m30 0h2m8 0h2m0 0h2m-86 1h2m1 0h2m85 0h2m2 0h2m-101 1h2m0 0h2m2 0h2m27 0h2m2 0h2m38 0h2m10 0h2m-3 1h2m7 0h2m-101 1h2m63 0h2m19 0h2m4 0h2m-97 1h2m91 0h2m6 0h2m-103 1h2m42 0h2m34 0h2m11 0h2m-93 1h2m85 0h2m6 0h2m-31 1h2m2 0h2m0 0h2m8 0h2m-91 1h2m2 0h2m2 0h2m-54 1h2m42 0h2m0 0h2m33 0h2m44 0h2m12 0h2m4 0h2m-133 1h2m11 0h2m9 0h2m93 0h2m7 0h2m-148 1h2m16 0h2m2 0h2m8 0h2m1 0h2m5 0h2m41 0h2m2 0h2m12 0h2m28 0h2m4 0h2m5 0h2m2 0h2m-163 1h2m14 0h2m2 0h2m5 0h2m2 0h2m4 0h2m-1 0h2m20 0h2m92 0h2m-164 1h2m5 0h2m2 0h2m-1 0h2m18 0h2m11 0h2m8 0h2m65 0h2m4 0h2m26 0h2m0 0h2m-145 1h2m2 0h2m8 0h2m3 0h2m10 0h2m-54 1h2m9 0h2m2 0h2m9 0h2m14 0h2m0 0h2m4 0h2m2 0h2m2 0h2m8 0h2m38 0h2m36 0h2m2 0h2m2 0h2m0 0h2m-150 1h2m3 0h2m1 0h2m32 1h2m98 0h2m8 0h2m-165 1h2m0 0h2m9 0h2m153 0h2m-175 1h2m12 0h2m38 0h2m2 0h2m16 0h2m0 0h2m-73 1h2m0 0h2m5 1h2m110 0h2m35 0h2m1 0h2m6 0h2m-182 1h2m4 0h2m5 0h2m155 0h2m-18 1h2m8 0h2m7 0h2m-174 1h2m1 0h2m2 0h2m0 0h2m-11 1h2m0 0h2m7 0h2m74 0h2m62 0h2m21 0h2m-174 2h2m155 0h2m4 0h2m-168 2h2m0 0h2m0 0h2m76 0h2m80 0h2m0 0h2m-170 1h2m162 0h2m5 0h2m-171 1h2m0 0h2m2 0h2m72 0h2m87 0h2m-172 1h2m-3 1h2m158 0h2m9 0h2m-173 2h2m165 0h2m-1 0h2m2 0h2m-12 1h2m1 0h2m-167 1h2m92 0h2m44 0h2m-142 2h2m120 0h2m16 0h2m22 1h2m-14 1h2m7 0h2m-1 0h2m-7 1h2m-159 1h2m146 0h2m5 0h2m0 1h2m7 0h2m-24 1h2m4 0h2m11 0h2m1 0h2m6 0h2m-15 1h2m-163 1h2m0 0h2m140 0h2m13 0h2m1 0h2m-4 1h2m-52 1h2m35 0h2m1 0h2m9 0h2m-4 1h2m1 0h2m-32 1h2m0 0h2m2 0h2m10 1h2m-56 1h2m22 0h2m0 0h2m4 0h2m11 0h2m7 1h2m-146 1h2m98 0h2m2 0h2m4 0h2m0 0h2m16 0h2m8 0h2m-142 2h2m76 0h2m8 0h2m10 0h2m2 0h2m20 0h2m7 0h2m-8 1h2m1 0h2m11 0h2m-1 0h2m-146 1h2m90 0h2m33 0h2m-5 1h2m3 0h2m-136 1h2m-1 0h2m6 0h2m8 0h2m58 0h2m2 0h2m0 0h2m2 0h2m0 0h2m6 0h2m0 0h2m2 0h2m4 0h2m15 0h2m5 0h2m2 0h2m-23 1h2m2 0h2m22 0h2m-149 1h2m1 0h2m9 0h2m8 0h2m46 0h2m6 0h2m6 0h2m4 0h2m3 0h2m0 0h2m3 0h2m3 0h2m0 0h2m3 0h2m2 0h2m-126 1h2m103 0h2m-1 0h2m22 0h2m8 0h2m-127 1h2m7 0h2m44 0h2m6 0h2m5 0h2m27 0h2m1 0h2m13 0h2m-128 1h2m5 0h2m72 0h2m2 0h2m16 0h2m8 0h2m3 0h2m-113 1h2m9 0h2m8 0h2m14 0h2m12 0h2m18 0h2m11 0h2m5 0h2m3 0h2m0 0h2m12 0h2m7 0h2m-126 1h2m10 0h2m54 0h2m2 0h2m9 0h2m22 0h2m3 0h2m4 0h2m-108 1h2m10 0h2m24 0h2m0 0h2m13 0h2m12 0h2m6 0h2m2 0h2m3 0h2m5 0h2m-106 1h2m12 0h2m4 0h2m56 0h2m1 0h2m6 0h2m17 0h2" stroke="#6262ff" stroke-width="2" fill="none"/><path d="M1913 450h2m2 0h2m2 0h2m0 0h2m-16 2h2m10 0h2m-12 2h2m12 0h2m-19 2h2m3 0h2m0 0h2m8 0h2m2 0h2m-24 2h2m2 0h2m12 0h2m0 0h2m0 1h2m0 0h2m-28 1h2m0 0h2m10 0h2m4 0h2m0 0h2m-24 2h2m0 0h2m14 0h2m2 1h2m-28 1h2m20 0h2m-24 2h2m16 0h2m-24 2h2m14 0h2m0 0h2m0 0h2m0 0h2m-26 2h2m12 0h2m0 0h2m2 0h2m0 0h2m-28 2h2m0 0h2m2 0h2m-10 2h2m2 0h2m16 0h2m0 0h2m-28 2h2m24 0h2m-6 2h2m0 0h2m-28 2h2m22 0h2m-28 2h2m22 0h2m0 1h2m-30 1h2m20 0h2m2 0h2m-32 2h2m4 0h2m16 0h2m0 0h2m0 0h2m-32 2h2m24 0h2m-26 2h2m-4 2h2m22 0h2m-30 2h2m0 0h2m22 0h2m-28 2h2m22 0h2m-30 1h2m-2 1h2m-7 2h2m3 0h2m20 0h2m2 0h2m-30 2h2m24 0h2m-30 1h2m-2 1h2m-6 2h2m2 0h2m20 0h2m-4 2h2m-6 2h2m2 0h2m-31 1h2m29 0h2m-34 1h2m2 0h2m-8 2h2m24 0h2m5 0h2m-1 0h2m-34 2h2m8 0h2m12 0h2m0 1h2m-6 1h2m0 0h2m5 0h2m15 0h2m-22 1h2m-14 1h2m2 0h2m24 0h2m-58 2h2m0 0h2m18 0h2m45 0h2m-15 1h2m3 0h2m-20 1h2m12 0h2m-28 1h2m16 0h2m2 0h2m-33 1h2m0 0h2m0 0h2m10 0h2m6 0h2m4 0h2m7 0h2m-31 1h2m21 0h2m-61 1h2m22 0h2m2 0h2m0 0h2m8 0h2m8 0h2m0 0h2m2 0h2m0 0h2m-62 2h2m0 0h2m33 0h2m1 0h2m8 0h2m2 0h2m0 0h2m0 0h2m6 0h2m-3 1h2m-70 1h2m27 0h2m2 0h2m10 0h2m4 0h2m0 0h2m4 0h2m0 0h2m0 0h2m-66 2h2m0 0h2m22 0h2m2 0h2m8 0h2m2 0h2m4 0h2m0 0h2m0 0h2m0 0h2m8 0h2m7 0h2m-4 1h2m-49 1h2m0 0h2m0 0h2m16 0h2m0 0h2m10 0h2m2 0h2m2 1h2m-77 1h2m-1 0h2m0 0h2m24 0h2m8 0h2m2 0h2m0 0h2m4 0h2m2 0h2m0 0h2m2 0h2m8 0h2m2 1h2m-78 1h2m28 0h2m0 0h2m0 0h2m8 0h2m2 0h2m0 0h2m4 0h2m4 0h2m6 0h2m2 0h2m-76 2h2m26 0h2m2 0h2m0 0h2m2 0h2m0 0h2m6 0h2m10 0h2m2 0h2m0 0h2m4 0h2m0 0h2m1 0h2m-85 1h2m82 0h2m-86 1h2m4 0h2m2 0h2m18 0h2m0 0h2m2 0h2m2 0h2m2 0h2m10 0h2m8 0h2m0 0h2m8 0h2m0 0h2m3 0h2m-53 2h2m4 0h2m0 0h2m0 0h2m0 0h2m0 0h2m26 0h2m2 0h2m-124 2h2m68 0h2m4 0h2m0 0h2m0 0h2m20 0h2m8 0h2m0 0h2m0 0h2m0 0h2m10 0h2m-94 2h2m4 0h2m24 0h2m2 0h2m0 0h2m10 0h2m2 0h2m2 0h2m14 0h2m2 0h2m-82 1h2m-41 1h2m65 0h2m2 0h2m6 0h2m6 0h2m0 0h2m8 0h2m0 0h2m2 0h2m2 0h2m0 0h2m0 0h2m2 0h2m-107 1h2m3 0h2m-46 1h2m15 0h2m36 0h2m7 0h2m0 0h2m0 0h2m0 0h2m0 0h2m20 0h2m2 0h2m0 0h2m0 0h2m0 0h2m0 0h2m0 0h2m24 0h2m4 0h2m0 0h2m4 0h2m-137 1h2m38 0h2m2 0h2m1 0h2m88 0h2m-143 1h2m-1 0h2m0 0h2m0 0h2m2 0h2m8 0h2m0 0h2m14 0h2m4 0h2m2 0h2m2 0h2m0 0h2m4 0h2m0 0h2m22 0h2m0 0h2m6 0h2m0 0h2m0 0h2m12 0h2m8 0h2m-132 2h2m0 0h2m0 0h2m2 0h2m0 0h2m6 0h2m2 0h2m0 0h2m0 0h2m0 0h2m0 0h2m10 0h2m2 0h2m2 0h2m0 0h2m2 0h2m2 0h2m2 0h2m8 0h2m12 0h2m0 0h2m2 0h2m2 0h2m4 0h2m2 0h2m12 0h2m0 0h2m0 0h2m4 0h2m2 0h2m4 0h2m0 0h2m5 0h2m-153 2h2m0 0h2m2 0h2m2 0h2m0 0h2m6 0h2m4 0h2m2 0h2m4 0h2m4 0h2m2 0h2m2 0h2m0 0h2m6 0h2m0 0h2m2 0h2m20 0h2m2 0h2m6 0h2m8 0h2m0 0h2m12 0h2m0 0h2m4 0h2m2 0h2m2 0h2m-153 1h2m151 0h2m0 0h2m-150 1h2m30 0h2m2 0h2m2 0h2m2 0h2m8 0h2m2 0h2m2 0h2m2 0h2m0 0h2m28 0h2m6 0h2m14 0h2m8 0h2m0 0h2m0 0h2m0 0h2m0 0h2m0 0h2m0 0h2m-157 1h2m2 0h2m-5 1h2m2 0h2m0 0h2m2 0h2m26 0h2m10 0h2m4 0h2m2 0h2m22 0h2m0 0h2m10 0h2m14 0h2m4 0h2m0 0h2m6 0h2m4 0h2m10 0h2m5 0h2m-1 0h2m-162 2h2m0 0h2m4 0h2m2 0h2m0 0h2m0 0h2m0 0h2m24 0h2m18 0h2m24 0h2m10 0h2m0 0h2m2 0h2m4 0h2m18 0h2m12 0h2m0 0h2m2 0h2m0 0h2m1 1h2m-165 1h2m8 0h2m10 0h2m44 0h2m12 0h2m8 0h2m0 0h2m2 0h2m2 0h2m2 0h2m6 0h2m4 0h2m0 0h2m2 0h2m6 0h2m4 0h2m8 0h2m6 0h2m-165 1h2m168 0h2m-165 1h2m2 0h2m0 0h2m24 0h2m34 0h2m4 0h2m8 0h2m2 0h2m2 0h2m6 0h2m2 0h2m6 0h2m0 0h2m8 0h2m0 0h2m12 0h2m22 1h2m-168 1h2m6 0h2m0 0h2m66 0h2m4 0h2m6 0h2m10 0h2m6 0h2m0 0h2m2 0h2m26 0h2m4 0h2m0 0h2m6 0h2m-166 2h2m0 0h2m0 0h2m2 0h2m64 0h2m10 0h2m6 0h2m10 0h2m2 0h2m20 0h2m2 0h2m2 0h2m2 0h2m2 0h2m2 0h2m5 1h2m4 0h2m-163 1h2m64 0h2m12 0h2m2 0h2m10 0h2m12 0h2m4 0h2m10 0h2m4 0h2m2 0h2m2 0h2m0 0h2m7 1h2m-159 1h2m0 0h2m2 0h2m2 0h2m72 0h2m6 0h2m8 0h2m34 0h2m0 0h2m0 0h2m0 0h2m0 0h2m2 0h2m0 0h2m-156 2h2m2 0h2m86 0h2m8 0h2m2 0h2m14 0h2m18 0h2m2 0h2m0 0h2m0 0h2m0 0h2m6 0h2m-164 2h2m0 0h2m68 0h2m22 0h2m12 0h2m12 0h2m6 0h2m8 0h2m4 0h2m0 0h2m2 0h2m-154 2h2m2 0h2m106 0h2m8 0h2m12 0h2m4 0h2m4 0h2m-70 2h2m2 0h2m4 0h2m2 0h2m4 0h2m24 0h2m4 0h2m4 0h2m0 0h2m4 0h2m2 0h2m2 0h2m-150 2h2m2 0h2m68 0h2m6 0h2m8 0h2m0 0h2m2 0h2m2 0h2m10 0h2m0 0h2m4 0h2m2 0h2m0 0h2m0 0h2m0 0h2m0 0h2m4 0h2m-150 2h2m0 0h2m0 0h2m4 0h2m6 0h2m76 0h2m0 0h2m2 0h2m4 0h2m10 0h2m2 0h2m2 0h2m0 0h2m0 0h2m0 0h2m2 0h2m0 0h2m0 0h2m5 0h2m-151 2h2m16 0h2m64 0h2m10 0h2m4 0h2m0 0h2m4 0h2m6 0h2m2 0h2m0 0h2m0 0h2m0 0h2m16 0h2m0 1h2m-150 1h2m0 0h2m0 0h2m72 0h2m14 0h2m6 0h2m0 0h2m0 0h2m2 0h2m18 0h2m0 0h2m0 0h2m6 1h2m0 0h2m0 0h2m-144 1h2m4 0h2m6 0h2m56 0h2m10 0h2m2 0h2m4 0h2m2 0h2m0 0h2m6 0h2m0 0h2m8 0h2m2 0h2m0 0h2m2 0h2m3 1h2m-139 1h2m6 0h2m4 0h2m38 0h2m16 0h2m6 0h2m2 0h2m2 0h2m0 0h2m4 0h2m0 0h2m2 0h2m12 0h2m2 0h2m0 0h2m2 0h2m0 0h2m-128 2h2m0 0h2m4 0h2m10 0h2m12 0h2m32 0h2m2 0h2m2 0h2m4 0h2m0 0h2m2 0h2m0 0h2m0 0h2m0 0h2m4 0h2m0 0h2m0 0h2m0 0h2m2 0h2m2 0h2m2 0h2m-123 1h2m142 0h2m-146 1h2m4 0h2m-1 0h2m4 0h2m2 0h2m4 0h2m0 0h2m50 0h2m10 0h2m4 0h2m2 0h2m8 0h2m5 0h2m4 0h2m-113 2h2m0 0h2m2 0h2m0 0h2m2 0h2m46 0h2m2 0h2m0 0h2m0 0h2m6 0h2m4 0h2m14 0h2m7 0h2m5 0h2m0 0h2m-121 1h2m111 0h2m-115 1h2m-1 0h2m6 0h2m0 0h2m4 0h2m0 0h2m0 0h2m6 0h2m4 0h2m2 0h2m4 0h2m8 0h2m0 0h2m0 0h2m4 0h2m0 0h2m2 0h2m12 1h2m1 0h2m-1 0h2m5 0h2m-92 1h2m4 0h2m3 0h2m0 0h2m0 0h2m0 0h2m2 0h2m0 0h2m0 0h2m6 0h2m2 0h2m0 0h2m0 0h2m8 0h2m4 0h2m0 0h2m1 0h2m23 0h2m-85 1h2m7 1h2m2 0h2m4 0h2m4 0h2m0 0h2m0 0h2m4 0h2m0 0h2m0 0h2m6 0h2m7 1h2m17 0h2" stroke="#3a3aff" stroke-width="2" fill="none"/><path d="M1915 450h2m-4 2h2m2 0h2m0 0h2m4 0h2m-14 2h2m6 0h2m0 2h2m-12 2h2m-10 6h2m0 0h2m2 0h2m4 0h2m2 0h2m-24 2h2m2 0h2m4 0h2m-12 2h2m2 0h2m-11 2h2m1 0h2m0 0h2m0 0h2m16 0h2m-22 2h2m2 0h2m4 0h2m0 0h2m4 0h2m-28 2h2m6 0h2m-12 2h2m0 0h2m-6 2h2m0 0h2m14 0h2m-24 2h2m20 0h2m0 0h2m-4 2h2m-24 2h2m0 0h2m12 6h2m-4 2h2m2 0h2m-8 2h2m-6 2h2m-24 2h2m0 0h2m4 0h2m12 0h2m0 0h2m-4 2h2m-24 2h2m6 0h2m8 0h2m0 0h2m-14 2h2m2 0h2m-22 4h2m22 0h2m-28 2h2m0 0h2m14 0h2m2 0h2m-12 2h2m4 0h2m0 0h2m-28 2h2m0 0h2m0 0h2m-4 2h2m-12 4h2m29 0h2m-11 2h2m-26 2h2m0 0h2m22 0h2m13 0h2m-47 2h2m0 0h2m28 0h2m-32 2h2m22 0h2m14 0h2m-42 2h2m18 0h2m2 0h2m14 0h2m-22 2h2m10 0h2m2 0h2m10 0h2m13 0h2m-41 2h2m2 0h2m8 0h2m0 0h2m8 0h2m0 0h2m0 0h2m0 0h2m-42 2h2m10 0h2m2 0h2m0 0h2m0 0h2m0 0h2m8 0h2m0 0h2m0 0h2m2 0h2m-56 2h2m16 0h2m2 0h2m8 0h2m4 0h2m8 0h2m8 0h2m-72 2h2m0 0h2m16 0h2m0 0h2m12 0h2m0 0h2m10 0h2m4 0h2m2 0h2m6 0h2m2 0h2m-62 2h2m4 0h2m0 0h2m10 0h2m8 0h2m4 0h2m0 0h2m0 0h2m0 0h2m2 0h2m4 0h2m-48 2h2m8 0h2m2 0h2m2 0h2m6 0h2m2 0h2m4 0h2m8 0h2m-77 2h2m1 0h2m0 0h2m26 0h2m16 0h2m0 0h2m8 0h2m0 0h2m2 0h2m2 0h2m-76 2h2m0 0h2m0 0h2m2 0h2m16 0h2m0 0h2m4 0h2m6 0h2m2 0h2m0 0h2m2 0h2m2 0h2m2 0h2m4 0h2m-66 2h2m4 0h2m12 0h2m2 0h2m4 0h2m4 0h2m0 0h2m0 0h2m0 0h2m0 0h2m10 0h2m4 0h2m14 0h2m-84 2h2m2 0h2m18 0h2m8 0h2m6 0h2m0 0h2m6 0h2m8 0h2m-97 2h2m45 0h2m0 0h2m4 0h2m4 0h2m12 0h2m2 0h2m0 0h2m8 0h2m0 0h2m8 0h2m4 0h2m-126 2h2m14 0h2m4 0h2m6 0h2m14 0h2m4 0h2m8 0h2m6 0h2m8 0h2m8 0h2m0 0h2m0 0h2m2 0h2m14 0h2m-120 2h2m16 0h2m0 0h2m12 0h2m4 0h2m2 0h2m6 0h2m10 0h2m22 0h2m2 0h2m2 0h2m0 0h2m2 0h2m0 0h2m0 0h2m8 0h2m8 0h2m-138 2h2m8 0h2m0 0h2m0 0h2m2 0h2m4 0h2m2 0h2m6 0h2m2 0h2m22 0h2m0 0h2m4 0h2m12 0h2m2 0h2m0 0h2m0 0h2m4 0h2m10 0h2m2 0h2m0 0h2m6 0h2m4 0h2m2 0h2m-148 2h2m4 0h2m0 0h2m0 0h2m0 0h2m0 0h2m2 0h2m6 0h2m0 0h2m4 0h2m10 0h2m2 0h2m0 0h2m0 0h2m4 0h2m2 0h2m2 0h2m4 0h2m0 0h2m6 0h2m8 0h2m2 0h2m0 0h2m4 0h2m0 0h2m2 0h2m8 0h2m0 0h2m4 0h2m-136 2h2m10 0h2m0 0h2m10 0h2m14 0h2m6 0h2m0 0h2m2 0h2m2 0h2m6 0h2m16 0h2m12 0h2m2 0h2m4 0h2m2 0h2m16 0h2m2 0h2m4 0h2m-130 2h2m4 0h2m4 0h2m4 0h2m0 0h2m4 0h2m2 0h2m0 0h2m0 0h2m6 0h2m2 0h2m0 0h2m0 0h2m0 0h2m0 0h2m2 0h2m4 0h2m10 0h2m8 0h2m2 0h2m0 0h2m14 0h2m12 0h2m2 0h2m-150 2h2m2 0h2m4 0h2m6 0h2m2 0h2m48 0h2m2 0h2m4 0h2m0 0h2m2 0h2m4 0h2m6 0h2m2 0h2m0 0h2m12 0h2m4 0h2m0 0h2m14 0h2m2 0h2m-158 1h2m6 1h2m52 0h2m8 0h2m2 0h2m8 0h2m8 0h2m2 0h2m0 0h2m4 0h2m12 0h2m10 0h2m0 0h2m4 0h2m4 0h2m0 0h2m4 0h2m2 0h2m-154 2h2m0 0h2m54 0h2m0 0h2m6 0h2m24 0h2m6 0h2m2 0h2m4 0h2m2 0h2m4 0h2m4 0h2m2 0h2m2 0h2m8 0h2m4 0h2m-148 2h2m58 0h2m8 0h2m6 0h2m4 0h2m0 0h2m2 0h2m4 0h2m4 0h2m4 0h2m4 0h2m0 0h2m0 0h2m2 0h2m2 0h2m2 0h2m2 0h2m-148 2h2m0 0h2m2 0h2m2 0h2m0 0h2m58 0h2m8 0h2m6 0h2m0 0h2m10 0h2m2 0h2m0 0h2m6 0h2m8 0h2m6 0h2m-60 2h2m14 0h2m2 0h2m0 0h2m2 0h2m2 0h2m2 0h2m8 0h2m4 0h2m0 0h2m2 0h2m18 0h2m-152 2h2m0 0h2m0 0h2m70 0h2m16 0h2m2 0h2m4 0h2m0 0h2m0 0h2m8 0h2m0 0h2m0 0h2m2 0h2m6 0h2m-140 2h2m8 0h2m0 0h2m66 0h2m0 0h2m6 0h2m2 0h2m2 0h2m2 0h2m0 0h2m4 0h2m0 0h2m4 0h2m4 0h2m0 0h2m2 0h2m0 0h2m-130 2h2m2 0h2m0 0h2m2 0h2m50 0h2m16 0h2m0 0h2m6 0h2m16 0h2m2 0h2m0 0h2m2 0h2m2 0h2m8 0h2m4 0h2m-148 2h2m4 0h2m0 0h2m0 0h2m72 0h2m12 0h2m4 0h2m0 0h2m0 0h2m0 0h2m2 0h2m0 0h2m0 0h2m0 0h2m4 0h2m2 0h2m0 0h2m2 0h2m0 0h2m6 0h2m-142 2h2m2 0h2m4 0h2m2 0h2m40 0h2m8 0h2m0 0h2m0 0h2m18 0h2m0 0h2m4 0h2m8 0h2m2 0h2m8 0h2m2 0h2m12 0h2m3 1h2m-147 1h2m0 0h2m2 0h2m60 0h2m12 0h2m2 0h2m6 0h2m4 0h2m6 0h2m2 0h2m16 0h2m-134 2h2m0 0h2m42 0h2m20 0h2m4 0h2m0 0h2m0 0h2m10 0h2m2 0h2m6 0h2m0 0h2m4 0h2m4 0h2m8 0h2m4 0h2m4 0h2m-138 2h2m12 0h2m0 0h2m52 0h2m4 0h2m2 0h2m4 0h2m6 0h2m6 0h2m16 0h2m-128 2h2m50 0h2m20 0h2m6 0h2m0 0h2m4 0h2m4 0h2m2 0h2m18 0h2m0 0h2m2 0h2m-106 2h2m36 0h2m4 0h2m12 0h2m14 0h2m4 0h2m4 0h2m2 0h2m2 0h2m8 0h2m-118 2h2m4 0h2m2 0h2m6 0h2m26 0h2m2 0h2m0 0h2m10 0h2m2 0h2m4 0h2m16 0h2m16 0h2m5 0h2m-109 2h2m6 0h2m2 0h2m6 0h2m4 0h2m16 0h2m0 0h2m4 0h2m0 0h2m8 0h2m12 0h2m-72 2h2m2 0h2m2 0h2m2 0h2m0 0h2m4 0h2m10 0h2m2 0h2m0 0h2m24 0h2m-62 2h2m8 0h2m6 0h2m0 0h2m2 0h2m2 0h2m0 0h2m59 1h2m-83 1h2m14 0h2m0 0h2m0 0h2m4 0h2m0 0h2m-32 2h2m0 0h2m6 0h2m0 0h2" stroke="#2a5cff" stroke-width="2" fill="none"/><path d="M1923 452h2m-8 2h2m0 2h2m-4 2h2m0 0h2m2 0h2m-16 2h2m10 0h2m-14 2h2m6 0h2m0 0h2m0 0h2m2 0h2m-16 4h2m2 0h2m-6 2h2m-10 2h2m8 0h2m-18 4h2m2 0h2m6 0h2m-16 2h2m4 0h2m2 0h2m0 0h2m0 0h2m-24 4h2m0 0h2m12 2h2m0 2h2m-30 4h2m0 0h2m2 0h2m12 0h2m2 2h2m-24 2h2m14 0h2m-14 2h2m8 2h2m-20 2h2m6 0h2m-14 2h2m8 0h2m-10 2h2m0 0h2m6 0h2m-18 2h2m14 0h2m-8 2h2m2 0h2m-12 2h2m2 0h2m0 0h2m0 0h2m-18 2h2m-6 2h2m4 0h2m8 2h2m-26 2h2m20 0h2m0 0h2m-22 2h2m12 0h2m0 0h2m0 0h2m-28 2h2m0 0h2m16 0h2m-22 2h2m2 0h2m6 0h2m8 0h2m0 0h2m-26 2h2m16 0h2m-22 2h2m-4 2h2m12 0h2m4 2h2m24 0h2m-54 2h2m0 0h2m8 2h2m2 0h2m-18 2h2m16 0h2m28 0h2m-50 2h2m6 0h2m8 0h2m38 0h2m-62 2h2m18 0h2m16 0h2m10 0h2m-58 2h2m0 0h2m14 0h2m20 0h2m0 0h2m4 0h2m-56 2h2m0 0h2m10 0h2m4 0h2m24 0h2m2 0h2m16 0h2m-72 2h2m14 0h2m18 0h2m22 0h2m8 0h2m-68 2h2m24 0h2m10 0h2m-40 2h2m8 0h2m2 0h2m2 0h2m24 0h2m2 0h2m6 0h2m2 0h2m2 0h2m-66 2h2m0 0h2m52 2h2m2 0h2m8 0h2m-122 2h2m46 0h2m2 0h2m12 0h2m22 0h2m2 0h2m8 0h2m-110 2h2m48 0h2m0 0h2m6 0h2m0 0h2m0 0h2m10 0h2m2 0h2m12 0h2m12 0h2m4 0h2m-128 2h2m14 0h2m22 0h2m22 0h2m6 0h2m2 0h2m0 0h2m14 0h2m4 0h2m14 0h2m6 0h2m-120 2h2m0 0h2m6 0h2m46 0h2m0 0h2m0 0h2m2 0h2m0 0h2m2 0h2m10 0h2m10 0h2m2 0h2m6 0h2m2 0h2m0 0h2m-108 2h2m6 0h2m4 0h2m24 0h2m0 0h2m2 0h2m0 0h2m16 0h2m2 0h2m4 0h2m6 0h2m4 0h2m0 0h2m0 0h2m10 0h2m-104 2h2m4 0h2m32 0h2m2 0h2m6 0h2m2 0h2m16 0h2m0 0h2m10 0h2m0 0h2m2 0h2m0 0h2m12 0h2m-150 2h2m6 0h2m0 0h2m8 0h2m8 0h2m6 0h2m14 0h2m6 0h2m4 0h2m2 0h2m18 0h2m10 0h2m4 0h2m8 0h2m14 0h2m-134 2h2m2 0h2m6 0h2m0 0h2m18 0h2m6 0h2m6 0h2m0 0h2m8 0h2m12 0h2m22 0h2m36 0h2m-140 2h2m2 0h2m12 0h2m22 0h2m4 0h2m6 0h2m16 0h2m0 0h2m4 0h2m0 0h2m4 0h2m18 0h2m0 0h2m18 0h2m-150 2h2m6 0h2m2 0h2m38 0h2m6 0h2m4 0h2m0 0h2m10 0h2m4 0h2m2 0h2m2 0h2m6 0h2m10 0h2m2 0h2m0 0h2m4 0h2m-118 2h2m8 0h2m34 0h2m18 0h2m0 0h2m16 0h2m2 0h2m6 0h2m4 0h2m2 0h2m6 0h2m0 0h2m6 0h2m-132 2h2m2 0h2m2 0h2m2 0h2m0 0h2m0 0h2m46 0h2m6 0h2m10 0h2m24 0h2m2 0h2m0 0h2m2 0h2m-116 2h2m0 0h2m4 0h2m0 0h2m36 0h2m6 0h2m6 0h2m0 0h2m8 0h2m0 0h2m4 0h2m32 0h2m2 0h2m8 0h2m-130 2h2m14 0h2m18 0h2m10 0h2m12 0h2m6 0h2m2 0h2m6 0h2m2 0h2m6 0h2m6 0h2m18 0h2m-132 2h2m4 0h2m4 0h2m42 0h2m24 0h2m2 0h2m2 0h2m2 0h2m4 0h2m0 0h2m4 0h2m8 0h2m2 0h2m2 0h2m-136 2h2m0 0h2m14 0h2m54 0h2m10 0h2m0 0h2m8 0h2m10 0h2m8 0h2m0 0h2m-122 2h2m8 0h2m16 0h2m32 0h2m16 0h2m2 0h2m4 0h2m12 0h2m2 0h2m2 0h2m2 0h2m4 0h2m-112 2h2m28 0h2m28 0h2m8 0h2m2 0h2m-90 2h2m4 0h2m0 0h2m2 0h2m4 0h2m42 0h2m10 0h2m12 0h2m0 0h2m6 0h2m14 0h2m-108 2h2m6 0h2m4 0h2m4 0h2m10 0h2m14 0h2m6 0h2m12 0h2m2 0h2m4 0h2m6 0h2m14 0h2m0 0h2m-104 2h2m4 0h2m44 0h2m4 0h2m6 0h2m-70 2h2m12 0h2m2 0h2m8 0h2m12 0h2m2 0h2m8 0h2m0 0h2m0 0h2m4 0h2m34 0h2m-102 2h2m2 0h2m6 0h2m2 0h2m4 0h2m12 0h2m14 0h2m2 0h2m-56 2h2m12 0h2m28 0h2m6 0h2m0 0h2m8 0h2m-60 2h2m10 0h2m2 0h2m4 0h2m0 0h2m4 0h2m0 0h2m12 0h2m0 0h2m44 1h2m-72 1h2m24 0h2m-30 2h2" stroke="#2494ff" stroke-width="2" fill="none"/><path d="M1915 452h2m2 2h2m2 0h2m-16 4h2m10 0h2m-8 2h2m0 0h2m4 0h2m-12 2h2m-12 2h2m0 2h2m-6 2h2m2 0h2m2 0h2m-4 2h2m-4 2h2m0 0h2m4 0h2m-12 2h2m-12 2h2m4 2h2m0 0h2m-10 2h2m2 0h2m2 0h2m-12 2h2m0 0h2m0 2h2m2 2h2m-20 2h2m6 0h2m8 0h2m-14 2h2m-6 2h2m-4 2h2m6 0h2m2 0h2m-20 2h2m12 0h2m-18 2h2m10 0h2m0 0h2m-10 2h2m4 0h2m-18 4h2m14 0h2m-22 2h2m16 0h2m-4 2h2m-16 2h2m4 0h2m-8 4h2m-12 2h2m2 0h2m2 0h2m2 0h2m0 0h2m-24 2h2m2 0h2m10 0h2m-2 2h2m-14 2h2m12 2h2m-26 2h2m12 0h2m4 0h2m-6 2h2m-4 2h2m-16 2h2m14 0h2m-20 2h2m4 0h2m-16 2h2m16 0h2m0 0h2m-6 2h2m28 2h2m-48 4h2m10 0h2m0 0h2m48 0h2m-56 2h2m4 0h2m24 0h2m0 0h2m0 0h2m-50 2h2m8 0h2m0 0h2m28 0h2m2 0h2m-50 2h2m6 0h2m48 0h2m-44 2h2m24 0h2m-36 2h2m2 0h2m28 0h2m-38 2h2m14 0h2m22 0h2m-50 2h2m8 0h2m4 0h2m12 2h2m-98 2h2m24 0h2m46 0h2m4 0h2m-92 2h2m4 0h2m0 0h2m0 0h2m2 0h2m8 0h2m8 0h2m16 0h2m2 0h2m2 0h2m22 0h2m48 0h2m-116 2h2m20 0h2m0 0h2m60 0h2m0 0h2m0 0h2m-118 2h2m34 0h2m2 0h2m0 0h2m2 0h2m2 0h2m0 0h2m4 0h2m42 0h2m20 0h2m2 0h2m2 0h2m-126 2h2m12 0h2m4 0h2m0 0h2m10 0h2m22 0h2m2 0h2m24 0h2m10 0h2m12 0h2m-120 2h2m0 0h2m2 0h2m30 0h2m12 0h2m10 0h2m6 0h2m8 0h2m26 0h2m0 0h2m10 0h2m-132 2h2m6 0h2m16 0h2m20 0h2m4 0h2m0 0h2m-52 2h2m8 0h2m0 0h2m2 0h2m4 0h2m18 0h2m2 0h2m28 0h2m24 0h2m6 0h2m8 0h2m-116 2h2m68 0h2m8 0h2m2 0h2m4 0h2m-86 2h2m0 0h2m8 0h2m8 0h2m14 0h2m6 0h2m2 0h2m0 0h2m6 0h2m22 0h2m16 0h2m-130 2h2m0 0h2m8 0h2m40 0h2m8 0h2m2 0h2m2 0h2m34 0h2m-100 2h2m20 0h2m8 0h2m10 0h2m6 0h2m2 0h2m0 0h2m0 0h2m0 0h2m0 0h2m0 0h2m6 0h2m10 0h2m0 0h2m24 0h2m6 0h2m-128 2h2m14 0h2m24 0h2m2 0h2m2 0h2m6 0h2m-58 2h2m2 0h2m22 0h2m30 0h2m0 0h2m10 0h2m-74 2h2m0 0h2m2 0h2m0 0h2m6 0h2m42 0h2m2 0h2m-70 2h2m4 0h2m0 0h2m0 0h2m0 0h2m0 0h2m0 0h2m4 0h2m0 0h2m2 0h2m24 0h2m14 0h2m-74 2h2m0 0h2m16 0h2m4 0h2m6 0h2m0 0h2m12 0h2m8 0h2m36 0h2m-102 2h2m8 0h2m2 0h2m0 0h2m2 0h2m6 0h2m0 0h2m10 0h2m0 0h2m0 0h2m4 0h2m20 0h2m-80 2h2m22 0h2m2 0h2m6 0h2m0 0h2m28 0h2m-56 2h2m8 0h2m12 0h2m16 0h2m2 0h2m-36 2h2m2 0h2m10 0h2m0 0h2m2 0h2m23 7h2" stroke="#1ec4f0" stroke-width="2" fill="none"/><path d="M1915 458h2m-4 2h2m-6 4h2m2 0h2m4 0h2m-14 2h2m4 0h2m2 0h2m-12 2h2m-4 2h2m-12 2h2m4 0h2m-8 2h2m10 0h2m-10 2h2m-8 2h2m2 0h2m4 0h2m-14 2h2m6 0h2m-16 2h2m0 0h2m8 0h2m2 0h2m-16 2h2m0 0h2m0 0h2m0 4h2m-12 2h2m0 0h2m-10 2h2m14 0h2m-18 2h2m-6 2h2m2 0h2m0 0h2m6 0h2m0 2h2m-8 2h2m-4 2h2m2 0h2m-16 2h2m-6 2h2m0 0h2m4 0h2m2 0h2m-18 2h2m0 0h2m0 0h2m0 2h2m4 0h2m-16 2h2m4 0h2m-10 2h2m-6 6h2m-8 2h2m10 0h2m0 0h2m-12 2h2m-8 2h2m0 0h2m2 0h2m0 0h2m4 0h2m-2 2h2m-26 6h2m12 0h2m4 0h2m-24 2h2m4 0h2m-10 2h2m0 0h2m50 0h2m-40 2h2m-18 2h2m0 0h2m4 0h2m2 0h2m-8 2h2m-12 2h2m4 0h2m-8 2h2m2 0h2m0 0h2m-6 2h2m-2 2h2m4 0h2m0 0h2m42 0h2m-62 2h2m10 0h2m32 0h2m8 0h2m-52 2h2m46 0h2m8 0h2m-70 2h2m8 2h2m34 0h2m-90 2h2m-10 2h2m0 0h2m56 0h2m16 0h2m22 0h2m-116 2h2m0 0h2m2 0h2m0 0h2m2 0h2m56 0h2m6 0h2m-80 2h2m2 0h2m2 0h2m4 0h2m16 0h2m-50 2h2m8 0h2m16 0h2m10 0h2m8 0h2m46 0h2m14 0h2m-112 2h2m24 0h2m6 0h2m2 0h2m20 0h2m-62 2h2m0 0h2m4 0h2m0 0h2m6 0h2m10 0h2m8 0h2m18 0h2m-62 2h2m6 0h2m2 0h2m4 0h2m20 0h2m6 0h2m2 0h2m10 0h2m20 0h2m-90 2h2m6 0h2m0 0h2m24 0h2m6 0h2m4 0h2m4 0h2m10 0h2m2 0h2m44 0h2m-110 2h2m0 0h2m0 0h2m16 0h2m2 0h2m10 0h2m8 0h2m22 0h2m8 0h2m-80 2h2m2 0h2m10 0h2m20 0h2m4 0h2m-54 2h2m18 0h2m-22 2h2m12 0h2m10 0h2m2 0h2m14 0h2m6 0h2m0 0h2m-28 2h2m0 0h2m2 0h2m8 0h2m-48 2h2m14 0h2m10 0h2m0 0h2m0 0h2m6 0h2m4 0h2m0 0h2m8 0h2m10 0h2m-48 2h2m16 0h2m0 0h2m18 0h2m-82 2h2m26 0h2m0 0h2m12 0h2m8 0h2m6 0h2m0 0h2m-58 2h2m16 0h2m12 0h2m10 0h2m6 0h2m-50 2h2m16 0h2m2 0h2m4 0h2m0 0h2m0 0h2m10 0h2m-32 2h2m4 0h2m10 0h2m4 0h2m-16 2h2m-16 2h2m24 0h2m0 2h2" stroke="#20d8b4" stroke-width="2" fill="none"/><path d="M1917 456h2m2 0h2m-8 6h2m-12 12h2m-10 2h2m-8 2h2m2 2h2m6 0h2m-6 2h2m-4 2h2m0 0h2m0 0h2m-14 2h2m0 0h2m2 0h2m0 0h2m-14 2h2m8 2h2m-16 2h2m2 0h2m0 0h2m-14 2h2m2 0h2m4 0h2m0 0h2m-8 2h2m2 0h2m-6 2h2m-6 2h2m-8 2h2m2 2h2m-4 2h2m-6 2h2m-6 2h2m2 2h2m2 0h2m-6 2h2m0 0h2m-14 2h2m6 0h2m-10 2h2m2 0h2m2 0h2m-18 2h2m0 0h2m0 2h2m-8 2h2m8 0h2m-6 4h2m-10 2h2m4 0h2m4 0h2m-20 2h2m2 0h2m0 0h2m6 0h2m-16 6h2m8 0h2m0 0h2m-14 2h2m-14 4h2m10 0h2m-12 2h2m0 0h2m6 0h2m-6 2h2m0 0h2m-18 4h2m4 0h2m4 0h2m-10 2h2m0 0h2m-6 6h2m-58 2h2m92 0h2m-32 2h2m-24 2h2m62 0h2m-114 2h2m8 0h2m8 0h2m-36 2h2m20 0h2m10 0h2m12 0h2m72 0h2m6 0h2m-128 2h2m2 0h2m0 0h2m2 0h2m0 0h2m2 0h2m2 0h2m0 0h2m0 0h2m2 0h2m28 0h2m-64 2h2m6 0h2m6 0h2m10 0h2m10 0h2m60 0h2m-110 2h2m24 0h2m2 0h2m0 0h2m10 0h2m0 0h2m-32 2h2m20 0h2m6 0h2m0 0h2m2 0h2m4 0h2m-60 2h2m20 0h2m10 0h2m18 0h2m-54 2h2m4 0h2m0 0h2m60 0h2m34 0h2m-102 2h2m0 0h2m0 0h2m6 0h2m18 0h2m14 0h2m-62 2h2m2 0h2m6 0h2m0 0h2m0 0h2m14 0h2m4 0h2m18 0h2m20 0h2m-62 2h2m0 0h2m0 0h2m18 0h2m8 0h2m-40 2h2m0 0h2m0 0h2m24 0h2m6 0h2m-28 2h2m8 0h2m2 0h2m0 0h2m-34 2h2m26 0h2m32 0h2m-66 2h2m4 0h2m18 0h2m10 0h2m14 0h2m-18 2h2m-22 2h2m0 0h2m8 0h2m-20 2h2m20 0h2m2 0h2m-14 2h2" stroke="#30dc78" stroke-width="2" fill="none"/><path d="M1915 464h2m-24 20h2m-10 2h2m0 0h2m-8 4h2m8 4h2m-20 6h2m0 0h2m10 0h2m-10 4h2m-10 2h2m0 2h2m-10 6h2m6 0h2m-24 4h2m-2 6h2m-6 4h2m0 4h2m2 0h2m-16 2h2m2 0h2m10 0h2m-10 2h2m-6 4h2m0 0h2m0 0h2m-10 2h2m-6 2h2m2 2h2m4 0h2m-14 6h2m-56 12h2m74 2h2m-82 2h2m2 0h2m-20 2h2m0 0h2m86 0h2m-64 2h2m6 0h2m-18 2h2m-28 2h2m50 0h2m-48 2h2m6 0h2m0 0h2m30 0h2m50 0h2m-112 2h2m4 0h2m28 0h2m-34 2h2m14 0h2m4 0h2m4 0h2m4 0h2m-14 2h2m2 0h2m4 0h2m4 0h2m-24 2h2m2 0h2m2 0h2m10 0h2m-22 2h2m-4 2h2m2 0h2m14 0h2m-24 2h2m36 0h2m-32 2h2m22 0h2m-34 2h2" stroke="#5ee640" stroke-width="2" fill="none"/><path d="M1903 476h2m-10 2h2m-8 4h2m4 0h2m-4 4h2m-8 2h2m2 0h2m2 0h2m-18 2h2m8 0h2m0 0h2m0 0h2m-6 2h2m0 0h2m-10 4h2m-6 2h2m-2 4h2m-8 2h2m-4 6h2m-10 2h2m-4 2h2m0 0h2m-8 4h2m2 0h2m-6 2h2m0 0h2m0 0h2m0 0h2m-8 2h2m-4 2h2m0 0h2m2 0h2m0 0h2m-14 2h2m6 0h2m-16 2h2m2 0h2m0 0h2m0 0h2m-12 2h2m0 0h2m2 0h2m0 0h2m2 0h2m-6 2h2m4 0h2m-14 2h2m-8 2h2m2 0h2m0 0h2m2 0h2m-12 2h2m6 0h2m-12 2h2m0 0h2m-4 2h2m-6 8h2m-10 4h2m6 2h2m-68 12h2m-10 2h2m18 0h2m-14 2h2m-10 2h2m0 0h2m4 0h2m2 0h2m0 0h2m8 0h2m-34 2h2m14 0h2m8 0h2m0 0h2m0 0h2m-26 2h2m4 0h2m0 0h2m0 0h2m4 0h2m0 0h2m0 0h2m4 0h2m0 0h2m-28 2h2m6 0h2m0 0h2m0 0h2m12 0h2m2 0h2m2 0h2m-40 2h2m6 0h2m2 0h2m0 0h2m4 0h2m4 0h2m2 0h2m0 0h2m4 0h2m-38 2h2m0 0h2m0 0h2m2 0h2m6 0h2m4 0h2m4 0h2m6 0h2m-48 2h2m10 0h2m0 0h2m4 0h2m12 0h2m6 0h2m2 0h2m-46 2h2m0 0h2m0 0h2m0 0h2m10 0h2m0 0h2m2 0h2m0 0h2m0 0h2m10 0h2m-22 2h2m2 0h2m0 0h2m10 0h2m2 0h2m10 0h2m-46 2h2m10 0h2m6 0h2m4 0h2m0 0h2m-36 2h2m2 0h2m12 0h2m8 0h2m2 0h2m-24 2h2m4 0h2m0 0h2m-14 2h2m12 2h2m-8 2h2m10 0h2" stroke="#b4ee28" stroke-width="2" fill="none"/></g>
<rect x="1724.7" y="383.2" width="231" height="227" fill="none" stroke="#777" stroke-width="2"/>
<path d="M1777.8 610.2v6.5M1787.9 610.2v6.5M1795.1 610.2v6.5M1805.2 610.2v6.5M1809.1 610.2v6.5M1812.4 610.2v6.5M1815.4 610.2v6.5M1835.3 610.2v6.5M1845.4 610.2v6.5M1852.6 610.2v6.5M1862.7 610.2v6.5M1866.6 610.2v6.5M1869.9 610.2v6.5M1872.9 610.2v6.5M1892.8 610.2v6.5M1902.9 610.2v6.5M1910.1 610.2v6.5M1920.2 610.2v6.5M1924.1 610.2v6.5M1927.4 610.2v6.5M1930.4 610.2v6.5M1950.3 610.2v6.5M1736.1 610.2v6.5M1740.7 610.2v6.5M1744.5 610.2v6.5M1750.2 610.2v6.5M1752.3 610.2v6.5M1754.3 610.2v6.5M1756.2 610.2v6.5M1724.7 446.6h-6.5M1724.7 436.5h-6.5M1724.7 429.3h-6.5M1724.7 419.2h-6.5M1724.7 415.3h-6.5M1724.7 412h-6.5M1724.7 409h-6.5M1724.7 504.1h-6.5M1724.7 494h-6.5M1724.7 486.8h-6.5M1724.7 476.7h-6.5M1724.7 472.8h-6.5M1724.7 469.5h-6.5M1724.7 466.5h-6.5M1724.7 561.6h-6.5M1724.7 551.5h-6.5M1724.7 544.3h-6.5M1724.7 534.2h-6.5M1724.7 530.3h-6.5M1724.7 527h-6.5M1724.7 524h-6.5M1724.7 389.1h-6.5M1724.7 583.3h-6.5M1724.7 586.2h-6.5M1724.7 589.6h-6.5M1724.7 592.8h-6.5M1724.7 602.2h-6.5" stroke="#7a7a7a" stroke-width="1.6" fill="none"/><path d="M1800.7 610.2v9.5M1858.2 610.2v9.5M1915.7 610.2v9.5M1747.5 610.2v9.5M1724.7 423.7h-9.5M1724.7 481.2h-9.5M1724.7 538.7h-9.5M1724.7 597.2h-9.5" stroke="#6a6a6a" stroke-width="1.6" fill="none"/><path d="M1760.5 610.2v13M1818 610.2v13M1875.5 610.2v13M1933 610.2v13M1724.7 406.4h-13M1724.7 463.9h-13M1724.7 521.4h-13M1724.7 578.9h-13" stroke="#4a4a4a" stroke-width="2.3" fill="none"/>
<path d="M1819.5 383.2 L1811 547.2 L1818.5 610.2" fill="none" stroke="#333" stroke-width="1.9" stroke-linejoin="miter"/>
<path d="M1724.7 555.8 L1811 547.2 L1865.2 550.4 L1955.7 555.8" fill="none" stroke="#333" stroke-width="1.9" stroke-linejoin="miter"/>
<path d="M1724.7 546.3 L1824.2 546.3 L1922.6 432.8 L1922.6 383.2" fill="none" stroke="#111" stroke-width="3.3" stroke-linejoin="miter"/>
<path d="M1845.7 610.2 L1845.7 577.8 L1934 460.5 L1955.7 460.5" fill="none" stroke="#111" stroke-width="3.3" stroke-linejoin="miter"/>
<text x="1724.2" y="650.7" text-anchor="middle" font-size="20">10<tspan font-size="13.5" dy="-9.6" dx="0.6">2</tspan></text><text x="1759.7" y="650.7" text-anchor="middle" font-size="20">10<tspan font-size="13.5" dy="-9.6" dx="0.6">3</tspan></text><text x="1817.2" y="650.7" text-anchor="middle" font-size="20">10<tspan font-size="13.5" dy="-9.6" dx="0.6">4</tspan></text><text x="1874.7" y="650.7" text-anchor="middle" font-size="20">10<tspan font-size="13.5" dy="-9.6" dx="0.6">5</tspan></text><text x="1932.2" y="650.7" text-anchor="middle" font-size="20">10<tspan font-size="13.5" dy="-9.6" dx="0.6">6</tspan></text><text x="1704.4" y="413.5" text-anchor="end" font-size="20">10<tspan font-size="13.5" dy="-10" dx="1">6</tspan></text><text x="1704.4" y="471" text-anchor="end" font-size="20">10<tspan font-size="13.5" dy="-10" dx="1">5</tspan></text><text x="1704.4" y="528.5" text-anchor="end" font-size="20">10<tspan font-size="13.5" dy="-10" dx="1">4</tspan></text><text x="1704.4" y="586" text-anchor="end" font-size="20">10<tspan font-size="13.5" dy="-10" dx="1">3</tspan></text><text x="1704.4" y="617.8" text-anchor="end" font-size="20">10<tspan font-size="13.5" dy="-10" dx="1">2</tspan></text><text x="1840.2" y="678.1" text-anchor="middle" font-size="21">Cationic [100 nM]</text><text transform="translate(1659.9 496.2) rotate(-90)" text-anchor="middle" font-size="21">KLK6 [7 nM]</text><text x="1743.8" y="418.6" font-size="21.3">5.8%</text><text x="1944.7" y="596.1" text-anchor="end" font-size="21.3">5.6%</text>
</svg>
</body></html>
